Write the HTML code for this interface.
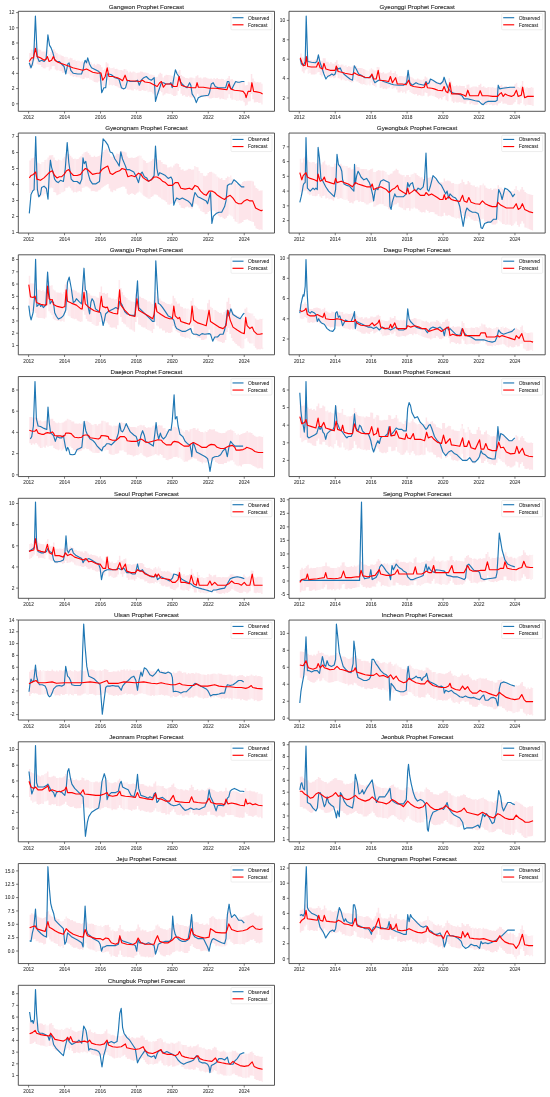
<!DOCTYPE html>
<html><head><meta charset="utf-8"><style>html,body{margin:0;padding:0;background:#fff;width:550px;height:1097px;overflow:hidden;position:relative}</style></head><body>
<svg width="550" height="1097" viewBox="0 0 550 1097" style="position:absolute;left:0;top:0;filter:blur(0.3px)">
<defs><filter id="bl" x="-5%" y="-20%" width="110%" height="140%"><feGaussianBlur stdDeviation="0.6"/></filter>
<clipPath id="cp0"><rect x="18.30" y="11.30" width="256.20" height="100.00"/></clipPath>
<clipPath id="cp1"><rect x="289.00" y="11.30" width="256.20" height="100.00"/></clipPath>
<clipPath id="cp2"><rect x="18.30" y="133.05" width="256.20" height="100.00"/></clipPath>
<clipPath id="cp3"><rect x="289.00" y="133.05" width="256.20" height="100.00"/></clipPath>
<clipPath id="cp4"><rect x="18.30" y="254.80" width="256.20" height="100.00"/></clipPath>
<clipPath id="cp5"><rect x="289.00" y="254.80" width="256.20" height="100.00"/></clipPath>
<clipPath id="cp6"><rect x="18.30" y="376.55" width="256.20" height="100.00"/></clipPath>
<clipPath id="cp7"><rect x="289.00" y="376.55" width="256.20" height="100.00"/></clipPath>
<clipPath id="cp8"><rect x="18.30" y="498.30" width="256.20" height="100.00"/></clipPath>
<clipPath id="cp9"><rect x="289.00" y="498.30" width="256.20" height="100.00"/></clipPath>
<clipPath id="cp10"><rect x="18.30" y="620.05" width="256.20" height="100.00"/></clipPath>
<clipPath id="cp11"><rect x="289.00" y="620.05" width="256.20" height="100.00"/></clipPath>
<clipPath id="cp12"><rect x="18.30" y="741.80" width="256.20" height="100.00"/></clipPath>
<clipPath id="cp13"><rect x="289.00" y="741.80" width="256.20" height="100.00"/></clipPath>
<clipPath id="cp14"><rect x="18.30" y="863.55" width="256.20" height="100.00"/></clipPath>
<clipPath id="cp15"><rect x="289.00" y="863.55" width="256.20" height="100.00"/></clipPath>
<clipPath id="cp16"><rect x="18.30" y="985.30" width="256.20" height="100.00"/></clipPath>
</defs>
<g font-family="Liberation Sans, sans-serif" stroke-linejoin="round">
<g clip-path="url(#cp0)">
<g filter="url(#bl)"><polygon fill="#fde5ea" points="29.2,52.9 30.7,52.9 30.7,49.6 32.2,49.6 32.2,49.7 33.7,49.7 33.7,45.8 35.2,45.8 35.2,43.6 36.7,43.6 36.7,48.6 38.2,48.6 38.2,49.5 39.7,49.5 39.7,49.7 41.2,49.7 41.2,51.6 42.7,51.6 42.7,51.6 44.2,51.6 44.2,51.5 45.7,51.5 45.7,49.5 47.2,49.5 47.2,50.1 48.7,50.1 48.7,54.0 50.2,54.0 50.2,51.9 51.7,51.9 51.7,49.7 53.2,49.7 53.2,49.2 54.7,49.2 54.7,51.6 56.2,51.6 56.2,53.1 57.7,53.1 57.7,54.3 59.2,54.3 59.2,54.4 60.7,54.4 60.7,55.5 62.2,55.5 62.2,56.0 63.7,56.0 63.7,57.0 65.1,57.0 65.1,56.7 66.6,56.7 66.6,56.9 68.1,56.9 68.1,58.7 69.6,58.7 69.6,57.8 71.1,57.8 71.1,58.3 72.6,58.3 72.6,60.1 74.1,60.1 74.1,59.7 75.6,59.7 75.6,61.0 77.1,61.0 77.1,60.6 78.6,60.6 78.6,60.7 80.1,60.7 80.1,61.8 81.6,61.8 81.6,61.1 83.1,61.1 83.1,61.9 84.6,61.9 84.6,61.7 86.1,61.7 86.1,61.5 87.6,61.5 87.6,61.3 89.1,61.3 89.1,62.3 90.6,62.3 90.6,62.4 92.1,62.4 92.1,64.5 93.6,64.5 93.6,63.8 95.1,63.8 95.1,65.2 96.6,65.2 96.6,63.7 98.1,63.7 98.1,63.9 99.6,63.9 99.6,65.0 101.1,65.0 101.1,67.3 102.6,67.3 102.6,70.1 104.1,70.1 104.1,68.8 105.6,68.8 105.6,62.2 107.1,62.2 107.1,63.4 108.6,63.4 108.6,67.2 110.1,67.2 110.1,68.2 111.6,68.2 111.6,68.0 113.1,68.0 113.1,67.6 114.6,67.6 114.6,68.9 116.1,68.9 116.1,68.7 117.6,68.7 117.6,69.8 119.1,69.8 119.1,69.9 120.6,69.9 120.6,70.1 122.1,70.1 122.1,70.4 123.6,70.4 123.6,69.1 125.0,69.1 125.0,69.2 126.5,69.2 126.5,70.7 128.0,70.7 128.0,72.6 129.5,72.6 129.5,71.4 131.0,71.4 131.0,72.6 132.5,72.6 132.5,71.5 134.0,71.5 134.0,71.8 135.5,71.8 135.5,73.0 137.0,73.0 137.0,72.8 138.5,72.8 138.5,72.5 140.0,72.5 140.0,71.5 141.5,71.5 141.5,71.8 143.0,71.8 143.0,72.5 144.5,72.5 144.5,72.4 146.0,72.4 146.0,72.8 147.5,72.8 147.5,73.1 149.0,73.1 149.0,74.4 150.5,74.4 150.5,74.5 152.0,74.5 152.0,74.7 153.5,74.7 153.5,75.5 155.0,75.5 155.0,77.2 156.5,77.2 156.5,76.7 158.0,76.7 158.0,74.6 159.5,74.6 159.5,72.8 161.0,72.8 161.0,73.8 162.5,73.8 162.5,77.5 164.0,77.5 164.0,75.7 165.5,75.7 165.5,74.8 167.0,74.8 167.0,75.1 168.5,75.1 168.5,75.1 170.0,75.1 170.0,75.3 171.5,75.3 171.5,75.9 173.0,75.9 173.0,78.0 174.5,78.0 174.5,76.5 176.0,76.5 176.0,77.2 177.5,77.2 177.5,71.6 179.0,71.6 179.0,70.0 180.5,70.0 180.5,75.0 182.0,75.0 182.0,76.3 183.5,76.3 183.5,76.9 184.9,76.9 184.9,78.0 186.4,78.0 186.4,78.0 187.9,78.0 187.9,78.4 189.4,78.4 189.4,77.6 190.9,77.6 190.9,77.4 192.4,77.4 192.4,77.8 193.9,77.8 193.9,78.3 195.4,78.3 195.4,76.3 196.9,76.3 196.9,75.3 198.4,75.3 198.4,77.7 199.9,77.7 199.9,77.5 201.4,77.5 201.4,78.4 202.9,78.4 202.9,77.6 204.4,77.6 204.4,77.2 205.9,77.2 205.9,77.7 207.4,77.7 207.4,78.5 208.9,78.5 208.9,78.7 210.4,78.7 210.4,78.6 211.9,78.6 211.9,79.3 213.4,79.3 213.4,77.9 214.9,77.9 214.9,78.9 216.4,78.9 216.4,78.1 217.9,78.1 217.9,79.0 219.4,79.0 219.4,79.2 220.9,79.2 220.9,78.8 222.4,78.8 222.4,79.1 223.9,79.1 223.9,80.1 225.4,80.1 225.4,79.2 226.9,79.2 226.9,78.3 228.4,78.3 228.4,75.9 229.9,75.9 229.9,79.4 231.4,79.4 231.4,78.9 232.9,78.9 232.9,80.3 234.4,80.3 234.4,80.6 235.9,80.6 235.9,81.1 237.4,81.1 237.4,80.5 238.9,80.5 238.9,81.7 240.4,81.7 240.4,81.9 241.9,81.9 241.9,81.2 243.4,81.2 243.4,82.0 244.8,82.0 244.8,85.6 246.3,85.6 246.3,84.9 247.8,84.9 247.8,81.8 249.3,81.8 249.3,82.4 250.8,82.4 250.8,73.9 252.3,73.9 252.3,78.5 253.8,78.5 253.8,81.3 255.3,81.3 255.3,82.4 256.8,82.4 256.8,82.0 258.3,82.0 258.3,82.6 259.8,82.6 259.8,82.3 261.3,82.3 261.3,83.8 262.6,83.8 262.8,84.3 262.6,84.3 262.6,104.5 262.8,104.5 262.6,104.4 261.3,104.4 261.3,102.8 259.8,102.8 259.8,103.0 258.3,103.0 258.3,102.1 256.8,102.1 256.8,102.3 255.3,102.3 255.3,102.4 253.8,102.4 253.8,99.2 252.3,99.2 252.3,93.9 250.8,93.9 250.8,101.3 249.3,101.3 249.3,101.6 247.8,101.6 247.8,104.8 246.3,104.8 246.3,105.8 244.8,105.8 244.8,102.2 243.4,102.2 243.4,100.5 241.9,100.5 241.9,101.1 240.4,101.1 240.4,100.3 238.9,100.3 238.9,100.8 237.4,100.8 237.4,101.1 235.9,101.1 235.9,99.9 234.4,99.9 234.4,99.6 232.9,99.6 232.9,99.7 231.4,99.7 231.4,98.2 229.9,98.2 229.9,94.3 228.4,94.3 228.4,98.2 226.9,98.2 226.9,99.7 225.4,99.7 225.4,99.4 223.9,99.4 223.9,98.9 222.4,98.9 222.4,98.5 220.9,98.5 220.9,99.2 219.4,99.2 219.4,97.4 217.9,97.4 217.9,97.9 216.4,97.9 216.4,98.1 214.9,98.1 214.9,97.7 213.4,97.7 213.4,98.0 211.9,98.0 211.9,98.6 210.4,98.6 210.4,98.6 208.9,98.6 208.9,97.4 207.4,97.4 207.4,97.0 205.9,97.0 205.9,97.3 204.4,97.3 204.4,96.6 202.9,96.6 202.9,96.2 201.4,96.2 201.4,96.0 199.9,96.0 199.9,96.5 198.4,96.5 198.4,93.8 196.9,93.8 196.9,96.4 195.4,96.4 195.4,98.0 193.9,98.0 193.9,98.0 192.4,98.0 192.4,97.5 190.9,97.5 190.9,97.3 189.4,97.3 189.4,95.8 187.9,95.8 187.9,96.9 186.4,96.9 186.4,96.5 184.9,96.5 184.9,95.1 183.5,95.1 183.5,95.8 182.0,95.8 182.0,93.7 180.5,93.7 180.5,88.1 179.0,88.1 179.0,90.9 177.5,90.9 177.5,95.2 176.0,95.2 176.0,96.0 174.5,96.0 174.5,96.0 173.0,96.0 173.0,95.1 171.5,95.1 171.5,93.7 170.0,93.7 170.0,94.0 168.5,94.0 168.5,93.5 167.0,93.5 167.0,93.2 165.5,93.2 165.5,94.6 164.0,94.6 164.0,95.6 162.5,95.6 162.5,92.2 161.0,92.2 161.0,90.7 159.5,90.7 159.5,93.9 158.0,93.9 158.0,94.5 156.5,94.5 156.5,94.7 155.0,94.7 155.0,94.5 153.5,94.5 153.5,93.5 152.0,93.5 152.0,91.9 150.5,91.9 150.5,91.7 149.0,91.7 149.0,92.2 147.5,92.2 147.5,90.5 146.0,90.5 146.0,91.1 144.5,91.1 144.5,90.5 143.0,90.5 143.0,89.9 141.5,89.9 141.5,90.9 140.0,90.9 140.0,91.1 138.5,91.1 138.5,89.5 137.0,89.5 137.0,90.2 135.5,90.2 135.5,89.0 134.0,89.0 134.0,90.4 132.5,90.4 132.5,90.2 131.0,90.2 131.0,89.5 129.5,89.5 129.5,89.8 128.0,89.8 128.0,89.5 126.5,89.5 126.5,86.5 125.0,86.5 125.0,86.0 123.6,86.0 123.6,89.7 122.1,89.7 122.1,89.3 120.6,89.3 120.6,88.1 119.1,88.1 119.1,87.4 117.6,87.4 117.6,86.2 116.1,86.2 116.1,86.0 114.6,86.0 114.6,84.9 113.1,84.9 113.1,85.5 111.6,85.5 111.6,84.7 110.1,84.7 110.1,85.2 108.6,85.2 108.6,80.2 107.1,80.2 107.1,80.6 105.6,80.6 105.6,85.9 104.1,85.9 104.1,87.6 102.6,87.6 102.6,84.8 101.1,84.8 101.1,80.8 99.6,80.8 99.6,81.4 98.1,81.4 98.1,82.4 96.6,82.4 96.6,82.2 95.1,82.2 95.1,81.9 93.6,81.9 93.6,80.7 92.1,80.7 92.1,80.0 90.6,80.0 90.6,79.4 89.1,79.4 89.1,78.1 87.6,78.1 87.6,78.2 86.1,78.2 86.1,77.4 84.6,77.4 84.6,79.0 83.1,79.0 83.1,79.2 81.6,79.2 81.6,78.2 80.1,78.2 80.1,77.5 78.6,77.5 78.6,77.2 77.1,77.2 77.1,77.3 75.6,77.3 75.6,76.2 74.1,76.2 74.1,77.0 72.6,77.0 72.6,75.4 71.1,75.4 71.1,75.4 69.6,75.4 69.6,73.7 68.1,73.7 68.1,73.7 66.6,73.7 66.6,73.4 65.1,73.4 65.1,72.5 63.7,72.5 63.7,73.1 62.2,73.1 62.2,71.3 60.7,71.3 60.7,71.0 59.2,71.0 59.2,70.2 57.7,70.2 57.7,70.4 56.2,70.4 56.2,69.5 54.7,69.5 54.7,66.1 53.2,66.1 53.2,66.2 51.7,66.2 51.7,69.2 50.2,69.2 50.2,70.4 48.7,70.4 48.7,67.1 47.2,67.1 47.2,67.2 45.7,67.2 45.7,68.6 44.2,68.6 44.2,68.3 42.7,68.3 42.7,66.9 41.2,66.9 41.2,65.1 39.7,65.1 39.7,64.8 38.2,64.8 38.2,64.2 36.7,64.2 36.7,59.1 35.2,59.1 35.2,60.4 33.7,60.4 33.7,65.9 32.2,65.9 32.2,66.1 30.7,66.1 30.7,68.7 29.2,68.7"/>
<rect x="45.7" y="47.3" width="4.5" height="22.3" fill="#fff" fill-opacity="0.33"/>
<rect x="57.7" y="51.2" width="3.0" height="22.5" fill="#fff" fill-opacity="0.31"/>
<rect x="63.7" y="53.3" width="4.5" height="22.6" fill="#fff" fill-opacity="0.24"/>
<rect x="65.1" y="53.8" width="3.0" height="22.6" fill="#fff" fill-opacity="0.24"/>
<rect x="68.1" y="54.9" width="1.5" height="22.7" fill="#fff" fill-opacity="0.33"/>
<rect x="72.6" y="56.5" width="3.0" height="22.8" fill="#fff" fill-opacity="0.13"/>
<rect x="77.1" y="57.6" width="4.5" height="22.8" fill="#fff" fill-opacity="0.24"/>
<rect x="81.6" y="58.7" width="1.5" height="22.9" fill="#fff" fill-opacity="0.21"/>
<rect x="86.1" y="57.8" width="1.5" height="23.0" fill="#fff" fill-opacity="0.11"/>
<rect x="89.1" y="59.2" width="4.5" height="23.0" fill="#fff" fill-opacity="0.35"/>
<rect x="101.1" y="65.0" width="4.5" height="23.2" fill="#fff" fill-opacity="0.10"/>
<rect x="110.1" y="64.8" width="4.5" height="23.4" fill="#fff" fill-opacity="0.26"/>
<rect x="117.6" y="66.3" width="3.0" height="23.5" fill="#fff" fill-opacity="0.21"/>
<rect x="125.0" y="65.5" width="1.5" height="23.7" fill="#fff" fill-opacity="0.24"/>
<rect x="128.0" y="68.7" width="1.5" height="23.7" fill="#fff" fill-opacity="0.20"/>
<rect x="132.5" y="69.0" width="4.5" height="23.8" fill="#fff" fill-opacity="0.17"/>
<rect x="134.0" y="69.1" width="3.0" height="23.8" fill="#fff" fill-opacity="0.10"/>
<rect x="144.5" y="70.0" width="4.5" height="24.0" fill="#fff" fill-opacity="0.22"/>
<rect x="147.5" y="70.4" width="1.5" height="24.0" fill="#fff" fill-opacity="0.24"/>
<rect x="149.0" y="70.6" width="1.5" height="24.1" fill="#fff" fill-opacity="0.18"/>
<rect x="150.5" y="71.3" width="3.0" height="24.1" fill="#fff" fill-opacity="0.27"/>
<rect x="156.5" y="73.9" width="3.0" height="24.2" fill="#fff" fill-opacity="0.21"/>
<rect x="162.5" y="73.8" width="1.5" height="24.3" fill="#fff" fill-opacity="0.19"/>
<rect x="168.5" y="71.8" width="3.0" height="24.4" fill="#fff" fill-opacity="0.23"/>
<rect x="171.5" y="73.1" width="1.5" height="24.5" fill="#fff" fill-opacity="0.17"/>
<rect x="176.0" y="74.2" width="1.5" height="24.5" fill="#fff" fill-opacity="0.16"/>
<rect x="184.9" y="74.3" width="3.0" height="24.7" fill="#fff" fill-opacity="0.13"/>
<rect x="192.4" y="75.3" width="3.0" height="24.8" fill="#fff" fill-opacity="0.30"/>
<rect x="201.4" y="74.7" width="1.5" height="25.0" fill="#fff" fill-opacity="0.16"/>
<rect x="213.4" y="75.6" width="1.5" height="25.2" fill="#fff" fill-opacity="0.18"/>
<rect x="223.9" y="76.7" width="4.5" height="25.3" fill="#fff" fill-opacity="0.24"/>
<rect x="232.9" y="77.2" width="3.0" height="25.5" fill="#fff" fill-opacity="0.34"/>
<rect x="235.9" y="77.6" width="3.0" height="25.6" fill="#fff" fill-opacity="0.30"/>
<rect x="237.4" y="77.8" width="4.5" height="25.6" fill="#fff" fill-opacity="0.16"/>
<rect x="240.4" y="78.2" width="3.0" height="25.6" fill="#fff" fill-opacity="0.22"/>
<rect x="259.8" y="79.7" width="3.0" height="26.0" fill="#fff" fill-opacity="0.21"/>
</g>
<polyline fill="none" stroke="#1f77b4" stroke-width="1.15" stroke-linejoin="round" points="29.2,62.8 31.0,67.8 32.4,64.0 33.7,57.8 35.4,16.0 37.2,56.6 39.2,61.5 41.7,60.3 44.2,61.5 46.1,59.1 47.9,34.9 49.6,45.4 51.1,47.9 52.9,52.8 54.6,59.1 56.6,61.5 59.1,61.5 61.6,64.0 64.1,66.5 65.8,74.0 67.8,64.0 69.1,62.8 70.8,70.3 73.3,73.3 77.8,74.0 81.5,74.0 83.3,69.0 84.0,64.0 85.2,60.3 86.5,62.8 87.7,57.8 89.5,64.0 91.5,67.8 94.0,69.0 96.5,70.3 98.9,71.5 100.2,74.0 101.7,92.7 103.9,87.7 105.7,87.7 107.2,74.0 108.9,74.0 111.4,74.7 115.1,77.7 118.9,79.0 121.4,87.7 123.9,88.9 125.6,87.7 127.6,80.2 130.1,81.5 135.1,81.5 137.6,80.2 139.3,85.2 141.3,80.2 143.8,77.7 146.3,76.5 148.8,79.0 151.3,80.2 154.2,77.7 155.5,101.4 157.2,95.2 159.7,87.7 161.4,82.7 163.4,82.7 165.9,84.0 169.7,84.0 170.9,82.7 172.2,87.7 173.9,77.7 175.4,69.8 177.1,74.0 178.9,76.5 180.4,81.5 182.1,84.0 184.6,86.5 187.1,87.7 189.6,82.7 190.8,85.2 192.1,93.9 194.6,97.7 196.3,102.6 198.3,97.7 200.8,96.4 204.5,95.7 208.3,95.2 209.5,92.7 211.3,84.0 213.2,82.7 215.2,86.5 218.2,87.7 222.0,87.7 225.7,87.7 227.4,81.5 228.9,81.5 230.2,87.7 231.9,88.9 233.7,85.2 235.7,81.5 237.7,82.2 239.4,82.2 241.9,81.5 244.4,81.5"/>
<polyline fill="none" stroke="#ff0000" stroke-width="1.15" stroke-linejoin="round" points="29.2,61.5 31.7,57.8 33.4,57.8 35.4,48.3 37.2,56.6 40.4,57.8 44.2,60.3 46.1,59.1 47.4,56.6 49.1,61.5 51.6,60.3 53.4,56.6 54.9,60.3 57.9,62.3 62.8,64.0 67.8,65.8 72.8,67.8 77.8,69.0 82.8,70.3 86.5,69.0 89.0,70.3 92.7,72.3 97.7,73.3 100.9,72.8 102.7,80.2 105.2,76.5 107.2,67.8 108.9,76.5 112.6,76.5 117.6,77.7 120.1,79.0 122.6,80.7 125.1,75.2 126.8,80.2 130.1,80.7 135.1,81.0 140.0,81.5 142.5,80.2 145.0,82.0 150.0,82.7 154.7,85.2 157.2,86.5 159.7,82.7 161.4,81.5 163.4,87.2 165.9,84.0 170.9,84.0 173.4,86.5 177.1,86.5 179.1,76.5 181.4,85.2 184.6,86.5 188.3,87.2 192.1,87.7 195.8,87.7 197.1,82.7 198.3,87.2 203.3,87.2 209.5,88.2 215.7,88.2 220.7,88.9 226.9,89.7 228.9,84.0 230.7,88.9 234.4,90.2 239.4,90.7 243.1,91.4 245.1,93.9 246.1,97.7 248.1,91.4 250.6,91.4 251.9,82.7 253.6,91.4 256.8,91.9 260.6,92.7 262.6,93.9"/>
</g>
<rect x="18.30" y="11.30" width="256.20" height="100.00" fill="none" stroke="#444" stroke-width="0.9"/>
<line x1="16.10" y1="103.80" x2="18.30" y2="103.80" stroke="#444" stroke-width="0.7"/>
<text x="14.50" y="105.55" font-size="5.0" fill="#333" stroke="#333" stroke-width="0.06" text-anchor="end" textLength="2.70" lengthAdjust="spacingAndGlyphs">0</text>
<line x1="16.10" y1="88.60" x2="18.30" y2="88.60" stroke="#444" stroke-width="0.7"/>
<text x="14.50" y="90.35" font-size="5.0" fill="#333" stroke="#333" stroke-width="0.06" text-anchor="end" textLength="2.70" lengthAdjust="spacingAndGlyphs">2</text>
<line x1="16.10" y1="73.40" x2="18.30" y2="73.40" stroke="#444" stroke-width="0.7"/>
<text x="14.50" y="75.15" font-size="5.0" fill="#333" stroke="#333" stroke-width="0.06" text-anchor="end" textLength="2.70" lengthAdjust="spacingAndGlyphs">4</text>
<line x1="16.10" y1="58.20" x2="18.30" y2="58.20" stroke="#444" stroke-width="0.7"/>
<text x="14.50" y="59.95" font-size="5.0" fill="#333" stroke="#333" stroke-width="0.06" text-anchor="end" textLength="2.70" lengthAdjust="spacingAndGlyphs">6</text>
<line x1="16.10" y1="43.00" x2="18.30" y2="43.00" stroke="#444" stroke-width="0.7"/>
<text x="14.50" y="44.75" font-size="5.0" fill="#333" stroke="#333" stroke-width="0.06" text-anchor="end" textLength="2.70" lengthAdjust="spacingAndGlyphs">8</text>
<line x1="16.10" y1="27.80" x2="18.30" y2="27.80" stroke="#444" stroke-width="0.7"/>
<text x="14.50" y="29.55" font-size="5.0" fill="#333" stroke="#333" stroke-width="0.06" text-anchor="end" textLength="5.39" lengthAdjust="spacingAndGlyphs">10</text>
<line x1="16.10" y1="12.60" x2="18.30" y2="12.60" stroke="#444" stroke-width="0.7"/>
<text x="14.50" y="14.35" font-size="5.0" fill="#333" stroke="#333" stroke-width="0.06" text-anchor="end" textLength="5.39" lengthAdjust="spacingAndGlyphs">12</text>
<line x1="28.60" y1="111.30" x2="28.60" y2="113.50" stroke="#444" stroke-width="0.7"/>
<text x="28.60" y="119.00" font-size="5.0" fill="#333" stroke="#333" stroke-width="0.06" text-anchor="middle" textLength="10.79" lengthAdjust="spacingAndGlyphs">2012</text>
<line x1="64.54" y1="111.30" x2="64.54" y2="113.50" stroke="#444" stroke-width="0.7"/>
<text x="64.54" y="119.00" font-size="5.0" fill="#333" stroke="#333" stroke-width="0.06" text-anchor="middle" textLength="10.79" lengthAdjust="spacingAndGlyphs">2014</text>
<line x1="100.48" y1="111.30" x2="100.48" y2="113.50" stroke="#444" stroke-width="0.7"/>
<text x="100.48" y="119.00" font-size="5.0" fill="#333" stroke="#333" stroke-width="0.06" text-anchor="middle" textLength="10.79" lengthAdjust="spacingAndGlyphs">2016</text>
<line x1="136.42" y1="111.30" x2="136.42" y2="113.50" stroke="#444" stroke-width="0.7"/>
<text x="136.42" y="119.00" font-size="5.0" fill="#333" stroke="#333" stroke-width="0.06" text-anchor="middle" textLength="10.79" lengthAdjust="spacingAndGlyphs">2018</text>
<line x1="172.36" y1="111.30" x2="172.36" y2="113.50" stroke="#444" stroke-width="0.7"/>
<text x="172.36" y="119.00" font-size="5.0" fill="#333" stroke="#333" stroke-width="0.06" text-anchor="middle" textLength="10.79" lengthAdjust="spacingAndGlyphs">2020</text>
<line x1="208.30" y1="111.30" x2="208.30" y2="113.50" stroke="#444" stroke-width="0.7"/>
<text x="208.30" y="119.00" font-size="5.0" fill="#333" stroke="#333" stroke-width="0.06" text-anchor="middle" textLength="10.79" lengthAdjust="spacingAndGlyphs">2022</text>
<line x1="244.24" y1="111.30" x2="244.24" y2="113.50" stroke="#444" stroke-width="0.7"/>
<text x="244.24" y="119.00" font-size="5.0" fill="#333" stroke="#333" stroke-width="0.06" text-anchor="middle" textLength="10.79" lengthAdjust="spacingAndGlyphs">2024</text>
<text x="146.40" y="8.70" font-size="6.1" fill="#333" stroke="#333" stroke-width="0.14" text-anchor="middle" textLength="75.33" lengthAdjust="spacingAndGlyphs">Gangwon Prophet Forecast</text>
<rect x="231.00" y="13.50" width="41" height="16.3" rx="1" fill="#fff" fill-opacity="0.8" stroke="#ddd" stroke-width="0.5"/>
<line x1="232.50" y1="17.70" x2="243.50" y2="17.70" stroke="#1f77b4" stroke-width="1.15"/>
<line x1="232.50" y1="24.80" x2="243.50" y2="24.80" stroke="#ff0000" stroke-width="1.15"/>
<text x="248.00" y="19.50" font-size="5.4" fill="#333" stroke="#333" stroke-width="0.08" textLength="21.3" lengthAdjust="spacingAndGlyphs">Observed</text>
<text x="248.00" y="26.60" font-size="5.4" fill="#333" stroke="#333" stroke-width="0.08" textLength="19.4" lengthAdjust="spacingAndGlyphs">Forecast</text>
<g clip-path="url(#cp1)">
<g filter="url(#bl)"><polygon fill="#fde5ea" points="300.2,53.5 301.7,53.5 301.7,57.2 303.2,57.2 303.2,57.7 304.7,57.7 304.7,56.9 306.2,56.9 306.2,54.3 307.7,54.3 307.7,59.4 309.2,59.4 309.2,59.9 310.7,59.9 310.7,60.3 312.2,60.3 312.2,60.7 313.7,60.7 313.7,60.2 315.2,60.2 315.2,59.3 316.7,59.3 316.7,58.1 318.2,58.1 318.2,56.3 319.7,56.3 319.7,61.0 321.2,61.0 321.2,60.8 322.7,60.8 322.7,58.3 324.2,58.3 324.2,58.3 325.7,58.3 325.7,61.8 327.2,61.8 327.2,61.8 328.7,61.8 328.7,63.5 330.2,63.5 330.2,62.1 331.7,62.1 331.7,63.5 333.2,63.5 333.2,63.8 334.7,63.8 334.7,61.9 336.1,61.9 336.1,60.3 337.6,60.3 337.6,64.0 339.1,64.0 339.1,65.3 340.6,65.3 340.6,64.6 342.1,64.6 342.1,64.4 343.6,64.4 343.6,65.7 345.1,65.7 345.1,65.2 346.6,65.2 346.6,66.9 348.1,66.9 348.1,65.9 349.6,65.9 349.6,66.8 351.1,66.8 351.1,66.8 352.6,66.8 352.6,65.6 354.1,65.6 354.1,65.2 355.6,65.2 355.6,66.0 357.1,66.0 357.1,68.0 358.6,68.0 358.6,68.1 360.1,68.1 360.1,68.1 361.6,68.1 361.6,68.2 363.1,68.2 363.1,68.9 364.6,68.9 364.6,69.7 366.1,69.7 366.1,70.2 367.6,70.2 367.6,70.7 369.1,70.7 369.1,69.4 370.6,69.4 370.6,68.2 372.1,68.2 372.1,69.6 373.6,69.6 373.6,70.6 375.1,70.6 375.1,70.6 376.6,70.6 376.6,66.9 378.1,66.9 378.1,67.3 379.6,67.3 379.6,72.5 381.1,72.5 381.1,72.9 382.6,72.9 382.6,72.1 384.1,72.1 384.1,73.5 385.6,73.5 385.6,73.6 387.1,73.6 387.1,72.8 388.6,72.8 388.6,72.2 390.1,72.2 390.1,70.4 391.6,70.4 391.6,73.1 393.1,73.1 393.1,72.9 394.6,72.9 394.6,71.2 396.0,71.2 396.0,74.2 397.5,74.2 397.5,76.8 399.0,76.8 399.0,76.1 400.5,76.1 400.5,76.0 402.0,76.0 402.0,76.2 403.5,76.2 403.5,76.8 405.0,76.8 405.0,76.0 406.5,76.0 406.5,74.9 408.0,74.9 408.0,73.8 409.5,73.8 409.5,76.8 411.0,76.8 411.0,77.2 412.5,77.2 412.5,78.4 414.0,78.4 414.0,79.4 415.5,79.4 415.5,79.5 417.0,79.5 417.0,78.4 418.5,78.4 418.5,79.4 420.0,79.4 420.0,79.7 421.5,79.7 421.5,79.7 423.0,79.7 423.0,79.2 424.5,79.2 424.5,76.4 426.0,76.4 426.0,77.5 427.5,77.5 427.5,79.8 429.0,79.8 429.0,80.3 430.5,80.3 430.5,79.4 432.0,79.4 432.0,80.2 433.5,80.2 433.5,80.7 435.0,80.7 435.0,81.8 436.5,81.8 436.5,82.1 438.0,82.1 438.0,82.5 439.5,82.5 439.5,82.2 441.0,82.2 441.0,82.3 442.5,82.3 442.5,80.4 444.0,80.4 444.0,79.3 445.5,79.3 445.5,82.6 447.0,82.6 447.0,83.7 448.5,83.7 448.5,78.2 450.0,78.2 450.0,80.7 451.5,80.7 451.5,84.8 453.0,84.8 453.0,86.2 454.5,86.2 454.5,86.0 455.9,86.0 455.9,85.3 457.4,85.3 457.4,86.3 458.9,86.3 458.9,85.6 460.4,85.6 460.4,86.0 461.9,86.0 461.9,85.9 463.4,85.9 463.4,86.1 464.9,86.1 464.9,88.1 466.4,88.1 466.4,84.8 467.9,84.8 467.9,84.6 469.4,84.6 469.4,87.7 470.9,87.7 470.9,87.2 472.4,87.2 472.4,86.4 473.9,86.4 473.9,86.4 475.4,86.4 475.4,86.4 476.9,86.4 476.9,87.3 478.4,87.3 478.4,85.0 479.9,85.0 479.9,83.8 481.4,83.8 481.4,87.1 482.9,87.1 482.9,86.2 484.4,86.2 484.4,87.4 485.9,87.4 485.9,87.9 487.4,87.9 487.4,87.0 488.9,87.0 488.9,86.9 490.4,86.9 490.4,87.6 491.9,87.6 491.9,87.0 493.4,87.0 493.4,87.8 494.9,87.8 494.9,88.0 496.4,88.0 496.4,87.3 497.9,87.3 497.9,86.8 499.4,86.8 499.4,85.7 500.9,85.7 500.9,84.8 502.4,84.8 502.4,87.3 503.9,87.3 503.9,86.3 505.4,86.3 505.4,86.0 506.9,86.0 506.9,87.1 508.4,87.1 508.4,87.3 509.9,87.3 509.9,87.7 511.4,87.7 511.4,87.5 512.9,87.5 512.9,86.4 514.4,86.4 514.4,84.3 515.8,84.3 515.8,82.7 517.3,82.7 517.3,86.9 518.8,86.9 518.8,87.8 520.3,87.8 520.3,85.6 521.8,85.6 521.8,81.0 523.3,81.0 523.3,86.4 524.8,86.4 524.8,88.2 526.3,88.2 526.3,87.3 527.8,87.3 527.8,87.9 529.3,87.9 529.3,87.8 530.8,87.8 530.8,87.0 532.3,87.0 532.3,87.7 533.8,87.7 533.8,87.4 533.8,87.4 533.8,105.1 533.8,105.1 533.8,106.0 532.3,106.0 532.3,105.3 530.8,105.3 530.8,104.9 529.3,104.9 529.3,104.8 527.8,104.8 527.8,104.8 526.3,104.8 526.3,105.9 524.8,105.9 524.8,104.4 523.3,104.4 523.3,97.3 521.8,97.3 521.8,102.9 520.3,102.9 520.3,104.6 518.8,104.6 518.8,104.3 517.3,104.3 517.3,99.7 515.8,99.7 515.8,102.0 514.4,102.0 514.4,103.6 512.9,103.6 512.9,104.8 511.4,104.8 511.4,105.1 509.9,105.1 509.9,104.9 508.4,104.9 508.4,104.8 506.9,104.8 506.9,103.7 505.4,103.7 505.4,103.5 503.9,103.5 503.9,103.7 502.4,103.7 502.4,101.5 500.9,101.5 500.9,103.1 499.4,103.1 499.4,103.4 497.9,103.4 497.9,105.6 496.4,105.6 496.4,104.8 494.9,104.8 494.9,105.2 493.4,105.2 493.4,105.6 491.9,105.6 491.9,104.4 490.4,104.4 490.4,104.9 488.9,104.9 488.9,103.6 487.4,103.6 487.4,105.0 485.9,105.0 485.9,104.8 484.4,104.8 484.4,104.3 482.9,104.3 482.9,103.4 481.4,103.4 481.4,100.3 479.9,100.3 479.9,101.1 478.4,101.1 478.4,104.4 476.9,104.4 476.9,104.8 475.4,104.8 475.4,104.9 473.9,104.9 473.9,104.4 472.4,104.4 472.4,103.3 470.9,103.3 470.9,104.3 469.4,104.3 469.4,100.7 467.9,100.7 467.9,101.2 466.4,101.2 466.4,103.7 464.9,103.7 464.9,103.7 463.4,103.7 463.4,102.6 461.9,102.6 461.9,102.4 460.4,102.4 460.4,101.9 458.9,101.9 458.9,102.6 457.4,102.6 457.4,102.5 455.9,102.5 455.9,101.7 454.5,101.7 454.5,102.9 453.0,102.9 453.0,101.6 451.5,101.6 451.5,96.6 450.0,96.6 450.0,93.7 448.5,93.7 448.5,101.2 447.0,101.2 447.0,100.3 445.5,100.3 445.5,95.9 444.0,95.9 444.0,97.1 442.5,97.1 442.5,99.5 441.0,99.5 441.0,97.9 439.5,97.9 439.5,99.3 438.0,99.3 438.0,98.0 436.5,98.0 436.5,96.9 435.0,96.9 435.0,96.6 433.5,96.6 433.5,96.1 432.0,96.1 432.0,95.5 430.5,95.5 430.5,95.8 429.0,95.8 429.0,96.6 427.5,96.6 427.5,92.9 426.0,92.9 426.0,92.5 424.5,92.5 424.5,95.7 423.0,95.7 423.0,96.3 421.5,96.3 421.5,95.4 420.0,95.4 420.0,95.0 418.5,95.0 418.5,95.8 417.0,95.8 417.0,94.0 415.5,94.0 415.5,94.4 414.0,94.4 414.0,93.9 412.5,93.9 412.5,93.1 411.0,93.1 411.0,92.2 409.5,92.2 409.5,90.0 408.0,90.0 408.0,90.6 406.5,90.6 406.5,93.4 405.0,93.4 405.0,91.7 403.5,91.7 403.5,92.7 402.0,92.7 402.0,91.2 400.5,91.2 400.5,92.5 399.0,92.5 399.0,92.6 397.5,92.6 397.5,89.4 396.0,89.4 396.0,87.4 394.6,87.4 394.6,88.2 393.1,88.2 393.1,89.1 391.6,89.1 391.6,85.4 390.1,85.4 390.1,87.6 388.6,87.6 388.6,88.6 387.1,88.6 387.1,89.3 385.6,89.3 385.6,88.5 384.1,88.5 384.1,89.0 382.6,89.0 382.6,87.4 381.1,87.4 381.1,88.0 379.6,88.0 379.6,81.4 378.1,81.4 378.1,81.1 376.6,81.1 376.6,87.3 375.1,87.3 375.1,85.9 373.6,85.9 373.6,84.9 372.1,84.9 372.1,82.5 370.6,82.5 370.6,85.6 369.1,85.6 369.1,84.5 367.6,84.5 367.6,85.6 366.1,85.6 366.1,84.9 364.6,84.9 364.6,84.1 363.1,84.1 363.1,84.5 361.6,84.5 361.6,83.7 360.1,83.7 360.1,82.9 358.6,82.9 358.6,81.6 357.1,81.6 357.1,81.6 355.6,81.6 355.6,80.0 354.1,80.0 354.1,81.9 352.6,81.9 352.6,82.7 351.1,82.7 351.1,82.0 349.6,82.0 349.6,80.8 348.1,80.8 348.1,80.3 346.6,80.3 346.6,81.1 345.1,81.1 345.1,80.2 343.6,80.2 343.6,79.2 342.1,79.2 342.1,80.2 340.6,80.2 340.6,78.5 339.1,78.5 339.1,78.3 337.6,78.3 337.6,74.6 336.1,74.6 336.1,77.4 334.7,77.4 334.7,78.2 333.2,78.2 333.2,77.0 331.7,77.0 331.7,77.7 330.2,77.7 330.2,77.5 328.7,77.5 328.7,76.0 327.2,76.0 327.2,76.1 325.7,76.1 325.7,73.6 324.2,73.6 324.2,73.3 322.7,73.3 322.7,76.5 321.2,76.5 321.2,74.9 319.7,74.9 319.7,72.1 318.2,72.1 318.2,72.5 316.7,72.5 316.7,74.2 315.2,74.2 315.2,74.6 313.7,74.6 313.7,74.5 312.2,74.5 312.2,74.5 310.7,74.5 310.7,73.1 309.2,73.1 309.2,73.8 307.7,73.8 307.7,68.9 306.2,68.9 306.2,70.3 304.7,70.3 304.7,73.3 303.2,73.3 303.2,71.5 301.7,71.5 301.7,66.2 300.2,66.2"/>
<rect x="306.2" y="51.5" width="1.5" height="20.1" fill="#fff" fill-opacity="0.12"/>
<rect x="307.7" y="56.6" width="3.0" height="20.1" fill="#fff" fill-opacity="0.32"/>
<rect x="315.2" y="56.9" width="3.0" height="20.3" fill="#fff" fill-opacity="0.19"/>
<rect x="330.2" y="60.0" width="1.5" height="20.5" fill="#fff" fill-opacity="0.13"/>
<rect x="334.7" y="58.9" width="1.5" height="20.6" fill="#fff" fill-opacity="0.14"/>
<rect x="339.1" y="61.5" width="1.5" height="20.7" fill="#fff" fill-opacity="0.24"/>
<rect x="342.1" y="62.2" width="4.5" height="20.7" fill="#fff" fill-opacity="0.31"/>
<rect x="351.1" y="64.2" width="3.0" height="20.9" fill="#fff" fill-opacity="0.32"/>
<rect x="352.6" y="63.3" width="4.5" height="20.9" fill="#fff" fill-opacity="0.10"/>
<rect x="354.1" y="62.7" width="3.0" height="20.9" fill="#fff" fill-opacity="0.21"/>
<rect x="361.6" y="65.7" width="1.5" height="21.1" fill="#fff" fill-opacity="0.20"/>
<rect x="364.6" y="66.7" width="4.5" height="21.1" fill="#fff" fill-opacity="0.31"/>
<rect x="366.1" y="66.9" width="4.5" height="21.1" fill="#fff" fill-opacity="0.26"/>
<rect x="367.6" y="67.0" width="4.5" height="21.2" fill="#fff" fill-opacity="0.19"/>
<rect x="375.1" y="68.3" width="1.5" height="21.3" fill="#fff" fill-opacity="0.29"/>
<rect x="376.6" y="63.3" width="3.0" height="21.3" fill="#fff" fill-opacity="0.15"/>
<rect x="387.1" y="70.6" width="1.5" height="21.5" fill="#fff" fill-opacity="0.25"/>
<rect x="391.6" y="70.9" width="1.5" height="21.6" fill="#fff" fill-opacity="0.23"/>
<rect x="394.6" y="68.0" width="4.5" height="21.6" fill="#fff" fill-opacity="0.12"/>
<rect x="400.5" y="73.1" width="4.5" height="21.7" fill="#fff" fill-opacity="0.19"/>
<rect x="403.5" y="73.5" width="3.0" height="21.8" fill="#fff" fill-opacity="0.12"/>
<rect x="409.5" y="73.3" width="3.0" height="21.9" fill="#fff" fill-opacity="0.20"/>
<rect x="421.5" y="76.5" width="1.5" height="22.1" fill="#fff" fill-opacity="0.29"/>
<rect x="430.5" y="77.0" width="4.5" height="22.2" fill="#fff" fill-opacity="0.31"/>
<rect x="454.5" y="82.6" width="1.5" height="22.7" fill="#fff" fill-opacity="0.18"/>
<rect x="472.4" y="84.2" width="3.0" height="23.0" fill="#fff" fill-opacity="0.15"/>
<rect x="488.9" y="84.3" width="1.5" height="23.2" fill="#fff" fill-opacity="0.35"/>
<rect x="491.9" y="84.7" width="4.5" height="23.3" fill="#fff" fill-opacity="0.17"/>
<rect x="515.8" y="79.9" width="1.5" height="23.7" fill="#fff" fill-opacity="0.24"/>
<rect x="520.3" y="82.6" width="1.5" height="23.8" fill="#fff" fill-opacity="0.21"/>
<rect x="523.3" y="82.8" width="4.5" height="23.8" fill="#fff" fill-opacity="0.26"/>
<rect x="530.8" y="84.4" width="4.5" height="24.0" fill="#fff" fill-opacity="0.17"/>
<rect x="533.8" y="84.4" width="4.5" height="24.0" fill="#fff" fill-opacity="0.34"/>
</g>
<polyline fill="none" stroke="#1f77b4" stroke-width="1.15" stroke-linejoin="round" points="300.2,59.1 301.5,64.0 303.4,65.3 305.2,61.5 306.2,16.0 307.7,61.5 311.4,62.3 315.2,62.8 316.9,61.5 318.4,54.8 320.1,62.8 321.9,67.8 323.9,74.0 325.9,79.0 327.6,76.5 330.1,75.2 331.8,74.0 333.8,75.2 335.1,74.0 336.8,67.8 338.8,69.0 340.1,67.8 341.8,71.5 343.8,74.0 346.8,76.5 350.0,79.0 352.5,80.2 354.3,65.8 356.2,69.0 358.7,74.0 361.2,75.2 365.0,77.7 368.7,77.7 371.9,75.2 373.7,80.2 374.9,82.7 376.7,81.5 378.7,80.2 381.2,80.2 383.6,81.5 387.4,82.7 391.1,84.0 393.6,84.7 398.6,85.2 403.6,85.2 406.6,82.7 408.1,70.3 409.8,82.7 412.3,85.2 416.0,82.7 418.5,84.0 424.2,85.2 426.0,81.5 427.4,84.0 429.2,82.7 430.4,79.0 432.9,80.2 436.7,82.7 440.4,84.0 442.9,81.5 444.1,77.2 445.9,82.7 447.9,87.7 450.4,91.4 454.1,93.4 457.8,93.9 461.6,95.2 464.1,98.9 467.8,98.9 471.5,99.7 475.3,100.7 479.0,101.4 481.5,103.9 483.2,104.6 485.2,102.6 487.7,101.4 491.5,101.4 495.2,101.4 497.2,100.2 498.2,85.2 499.7,88.9 502.7,88.2 506.4,87.7 510.1,87.2 513.9,87.2 515.1,87.2"/>
<polyline fill="none" stroke="#ff0000" stroke-width="1.15" stroke-linejoin="round" points="300.2,57.8 302.0,62.8 303.4,65.8 305.2,65.3 306.4,56.6 307.7,66.5 311.4,67.0 316.4,67.0 318.4,62.3 320.1,67.8 322.6,69.0 323.9,63.3 325.9,69.0 330.1,70.3 335.1,70.3 336.3,66.0 338.1,71.5 341.8,72.3 345.0,73.3 348.8,74.0 352.5,74.7 354.3,72.8 356.2,74.0 358.7,75.2 361.2,75.7 365.0,77.2 369.9,77.7 371.9,74.0 373.7,79.0 376.2,79.0 378.2,70.3 379.9,80.2 384.9,80.7 388.6,81.5 390.4,76.5 392.4,82.7 395.6,77.7 397.3,84.0 402.3,84.0 406.1,84.7 408.6,80.2 410.5,85.2 413.5,86.5 418.5,87.2 421.7,87.7 424.2,87.2 426.0,82.7 427.4,87.7 431.7,88.2 434.2,88.9 437.9,90.2 442.4,90.7 444.1,86.5 445.9,91.4 447.9,92.7 449.9,82.7 451.6,93.9 455.3,93.9 460.3,93.9 464.1,95.2 465.8,96.4 467.8,90.2 469.8,95.7 474.0,95.7 478.3,95.7 480.2,90.7 482.2,95.7 487.7,95.7 492.7,96.4 497.7,96.4 499.7,93.9 501.4,92.7 503.2,96.4 505.2,93.9 507.6,95.2 511.4,96.4 513.9,95.2 516.4,90.2 518.1,96.4 521.3,95.2 522.6,87.2 524.6,97.7 527.6,96.4 531.3,96.4 533.8,96.4"/>
</g>
<rect x="289.00" y="11.30" width="256.20" height="100.00" fill="none" stroke="#444" stroke-width="0.9"/>
<line x1="286.80" y1="98.00" x2="289.00" y2="98.00" stroke="#444" stroke-width="0.7"/>
<text x="285.20" y="99.75" font-size="5.0" fill="#333" stroke="#333" stroke-width="0.06" text-anchor="end" textLength="2.70" lengthAdjust="spacingAndGlyphs">2</text>
<line x1="286.80" y1="78.60" x2="289.00" y2="78.60" stroke="#444" stroke-width="0.7"/>
<text x="285.20" y="80.35" font-size="5.0" fill="#333" stroke="#333" stroke-width="0.06" text-anchor="end" textLength="2.70" lengthAdjust="spacingAndGlyphs">4</text>
<line x1="286.80" y1="59.20" x2="289.00" y2="59.20" stroke="#444" stroke-width="0.7"/>
<text x="285.20" y="60.95" font-size="5.0" fill="#333" stroke="#333" stroke-width="0.06" text-anchor="end" textLength="2.70" lengthAdjust="spacingAndGlyphs">6</text>
<line x1="286.80" y1="39.80" x2="289.00" y2="39.80" stroke="#444" stroke-width="0.7"/>
<text x="285.20" y="41.55" font-size="5.0" fill="#333" stroke="#333" stroke-width="0.06" text-anchor="end" textLength="2.70" lengthAdjust="spacingAndGlyphs">8</text>
<line x1="286.80" y1="20.40" x2="289.00" y2="20.40" stroke="#444" stroke-width="0.7"/>
<text x="285.20" y="22.15" font-size="5.0" fill="#333" stroke="#333" stroke-width="0.06" text-anchor="end" textLength="5.39" lengthAdjust="spacingAndGlyphs">10</text>
<line x1="299.30" y1="111.30" x2="299.30" y2="113.50" stroke="#444" stroke-width="0.7"/>
<text x="299.30" y="119.00" font-size="5.0" fill="#333" stroke="#333" stroke-width="0.06" text-anchor="middle" textLength="10.79" lengthAdjust="spacingAndGlyphs">2012</text>
<line x1="335.24" y1="111.30" x2="335.24" y2="113.50" stroke="#444" stroke-width="0.7"/>
<text x="335.24" y="119.00" font-size="5.0" fill="#333" stroke="#333" stroke-width="0.06" text-anchor="middle" textLength="10.79" lengthAdjust="spacingAndGlyphs">2014</text>
<line x1="371.18" y1="111.30" x2="371.18" y2="113.50" stroke="#444" stroke-width="0.7"/>
<text x="371.18" y="119.00" font-size="5.0" fill="#333" stroke="#333" stroke-width="0.06" text-anchor="middle" textLength="10.79" lengthAdjust="spacingAndGlyphs">2016</text>
<line x1="407.12" y1="111.30" x2="407.12" y2="113.50" stroke="#444" stroke-width="0.7"/>
<text x="407.12" y="119.00" font-size="5.0" fill="#333" stroke="#333" stroke-width="0.06" text-anchor="middle" textLength="10.79" lengthAdjust="spacingAndGlyphs">2018</text>
<line x1="443.06" y1="111.30" x2="443.06" y2="113.50" stroke="#444" stroke-width="0.7"/>
<text x="443.06" y="119.00" font-size="5.0" fill="#333" stroke="#333" stroke-width="0.06" text-anchor="middle" textLength="10.79" lengthAdjust="spacingAndGlyphs">2020</text>
<line x1="479.00" y1="111.30" x2="479.00" y2="113.50" stroke="#444" stroke-width="0.7"/>
<text x="479.00" y="119.00" font-size="5.0" fill="#333" stroke="#333" stroke-width="0.06" text-anchor="middle" textLength="10.79" lengthAdjust="spacingAndGlyphs">2022</text>
<line x1="514.94" y1="111.30" x2="514.94" y2="113.50" stroke="#444" stroke-width="0.7"/>
<text x="514.94" y="119.00" font-size="5.0" fill="#333" stroke="#333" stroke-width="0.06" text-anchor="middle" textLength="10.79" lengthAdjust="spacingAndGlyphs">2024</text>
<text x="417.10" y="8.70" font-size="6.1" fill="#333" stroke="#333" stroke-width="0.14" text-anchor="middle" textLength="75.33" lengthAdjust="spacingAndGlyphs">Gyeonggi Prophet Forecast</text>
<rect x="501.70" y="13.50" width="41" height="16.3" rx="1" fill="#fff" fill-opacity="0.8" stroke="#ddd" stroke-width="0.5"/>
<line x1="503.20" y1="17.70" x2="514.20" y2="17.70" stroke="#1f77b4" stroke-width="1.15"/>
<line x1="503.20" y1="24.80" x2="514.20" y2="24.80" stroke="#ff0000" stroke-width="1.15"/>
<text x="518.70" y="19.50" font-size="5.4" fill="#333" stroke="#333" stroke-width="0.08" textLength="21.3" lengthAdjust="spacingAndGlyphs">Observed</text>
<text x="518.70" y="26.60" font-size="5.4" fill="#333" stroke="#333" stroke-width="0.08" textLength="19.4" lengthAdjust="spacingAndGlyphs">Forecast</text>
<g clip-path="url(#cp2)">
<g filter="url(#bl)"><polygon fill="#fde5ea" points="29.3,160.5 30.8,160.5 30.8,158.4 32.3,158.4 32.3,158.1 33.8,158.1 33.8,156.9 35.3,156.9 35.3,158.3 36.8,158.3 36.8,162.4 38.3,162.4 38.3,163.2 39.8,163.2 39.8,163.9 41.3,163.9 41.3,162.1 42.8,162.1 42.8,161.9 44.3,161.9 44.3,159.9 45.8,159.9 45.8,159.4 47.3,159.4 47.3,157.4 48.8,157.4 48.8,155.6 50.3,155.6 50.3,155.3 51.8,155.3 51.8,155.1 53.3,155.1 53.3,157.5 54.8,157.5 54.8,159.9 56.3,159.9 56.3,160.7 57.8,160.7 57.8,159.6 59.3,159.6 59.3,160.0 60.8,160.0 60.8,160.5 62.3,160.5 62.3,158.4 63.8,158.4 63.8,156.8 65.3,156.8 65.3,153.8 66.8,153.8 66.8,153.8 68.3,153.8 68.3,154.0 69.8,154.0 69.8,155.8 71.3,155.8 71.3,157.6 72.8,157.6 72.8,159.1 74.3,159.1 74.3,158.5 75.8,158.5 75.8,159.2 77.3,159.2 77.3,158.9 78.8,158.9 78.8,157.5 80.3,157.5 80.3,156.2 81.8,156.2 81.8,154.1 83.3,154.1 83.3,152.4 84.8,152.4 84.8,151.9 86.2,151.9 86.2,151.4 87.7,151.4 87.7,153.0 89.2,153.0 89.2,154.8 90.7,154.8 90.7,156.8 92.2,156.8 92.2,157.0 93.7,157.0 93.7,155.7 95.2,155.7 95.2,156.9 96.7,156.9 96.7,156.4 98.2,156.4 98.2,156.1 99.7,156.1 99.7,154.8 101.2,154.8 101.2,152.5 102.7,152.5 102.7,151.7 104.2,151.7 104.2,149.9 105.7,149.9 105.7,148.5 107.2,148.5 107.2,149.6 108.7,149.6 108.7,153.5 110.2,153.5 110.2,156.4 111.7,156.4 111.7,156.8 113.2,156.8 113.2,155.3 114.7,155.3 114.7,155.5 116.2,155.5 116.2,153.5 117.7,153.5 117.7,154.1 119.2,154.1 119.2,152.5 120.7,152.5 120.7,150.7 122.2,150.7 122.2,151.5 123.7,151.5 123.7,151.8 125.2,151.8 125.2,152.6 126.7,152.6 126.7,156.6 128.2,156.6 128.2,158.0 129.7,158.0 129.7,157.8 131.2,157.8 131.2,157.4 132.7,157.4 132.7,158.1 134.2,158.1 134.2,157.8 135.7,157.8 135.7,157.0 137.2,157.0 137.2,156.3 138.7,156.3 138.7,155.5 140.2,155.5 140.2,155.7 141.7,155.7 141.7,158.4 143.2,158.4 143.2,160.0 144.7,160.0 144.7,161.1 146.1,161.1 146.1,163.0 147.6,163.0 147.6,162.4 149.1,162.4 149.1,161.7 150.6,161.7 150.6,160.8 152.1,160.8 152.1,159.3 153.6,159.3 153.6,158.5 155.1,158.5 155.1,158.1 156.6,158.1 156.6,159.5 158.1,159.5 158.1,160.2 159.6,160.2 159.6,160.2 161.1,160.2 161.1,162.1 162.6,162.1 162.6,164.0 164.1,164.0 164.1,164.2 165.6,164.2 165.6,164.8 167.1,164.8 167.1,167.4 168.6,167.4 168.6,167.2 170.1,167.2 170.1,166.4 171.6,166.4 171.6,167.5 173.1,167.5 173.1,165.6 174.6,165.6 174.6,163.7 176.1,163.7 176.1,163.2 177.6,163.2 177.6,164.0 179.1,164.0 179.1,167.1 180.6,167.1 180.6,169.7 182.1,169.7 182.1,169.3 183.6,169.3 183.6,170.7 185.1,170.7 185.1,170.4 186.6,170.4 186.6,169.7 188.1,169.7 188.1,168.7 189.6,168.7 189.6,169.1 191.1,169.1 191.1,169.8 192.6,169.8 192.6,169.4 194.1,169.4 194.1,166.0 195.6,166.0 195.6,167.1 197.1,167.1 197.1,167.3 198.6,167.3 198.6,170.9 200.1,170.9 200.1,172.9 201.6,172.9 201.6,173.1 203.1,173.1 203.1,175.7 204.6,175.7 204.6,176.3 206.0,176.3 206.0,175.6 207.5,175.6 207.5,173.0 209.0,173.0 209.0,172.1 210.5,172.1 210.5,171.8 212.0,171.8 212.0,172.5 213.5,172.5 213.5,173.4 215.0,173.4 215.0,174.3 216.5,174.3 216.5,176.5 218.0,176.5 218.0,177.4 219.5,177.4 219.5,178.7 221.0,178.7 221.0,178.0 222.5,178.0 222.5,180.1 224.0,180.1 224.0,180.0 225.5,180.0 225.5,178.1 227.0,178.1 227.0,176.4 228.5,176.4 228.5,177.1 230.0,177.1 230.0,175.6 231.5,175.6 231.5,178.5 233.0,178.5 233.0,179.8 234.5,179.8 234.5,182.3 236.0,182.3 236.0,184.0 237.5,184.0 237.5,183.1 239.0,183.1 239.0,184.3 240.5,184.3 240.5,183.7 242.0,183.7 242.0,181.9 243.5,181.9 243.5,181.0 245.0,181.0 245.0,181.3 246.5,181.3 246.5,180.8 248.0,180.8 248.0,180.8 249.5,180.8 249.5,180.8 251.0,180.8 251.0,180.8 252.5,180.8 252.5,181.6 254.0,181.6 254.0,185.6 255.5,185.6 255.5,188.0 257.0,188.0 257.0,188.7 258.5,188.7 258.5,190.7 260.0,190.7 260.0,190.4 261.5,190.4 261.5,190.4 262.6,190.4 263.0,190.1 262.6,190.1 262.6,229.1 263.0,229.1 262.6,229.7 261.5,229.7 261.5,229.6 260.0,229.6 260.0,229.8 258.5,229.8 258.5,229.1 257.0,229.1 257.0,228.4 255.5,228.4 255.5,225.8 254.0,225.8 254.0,222.0 252.5,222.0 252.5,221.6 251.0,221.6 251.0,221.1 249.5,221.1 249.5,220.3 248.0,220.3 248.0,219.3 246.5,219.3 246.5,219.8 245.0,219.8 245.0,220.0 243.5,220.0 243.5,221.9 242.0,221.9 242.0,222.7 240.5,222.7 240.5,223.4 239.0,223.4 239.0,223.8 237.5,223.8 237.5,221.9 236.0,221.9 236.0,221.5 234.5,221.5 234.5,219.0 233.0,219.0 233.0,216.6 231.5,216.6 231.5,215.6 230.0,215.6 230.0,214.4 228.5,214.4 228.5,215.9 227.0,215.9 227.0,217.7 225.5,217.7 225.5,218.9 224.0,218.9 224.0,218.3 222.5,218.3 222.5,216.8 221.0,216.8 221.0,217.3 219.5,217.3 219.5,215.8 218.0,215.8 218.0,214.5 216.5,214.5 216.5,212.6 215.0,212.6 215.0,211.1 213.5,211.1 213.5,210.3 212.0,210.3 212.0,210.3 210.5,210.3 210.5,211.0 209.0,211.0 209.0,211.9 207.5,211.9 207.5,213.9 206.0,213.9 206.0,214.3 204.6,214.3 204.6,212.3 203.1,212.3 203.1,211.8 201.6,211.8 201.6,210.9 200.1,210.9 200.1,208.4 198.6,208.4 198.6,205.5 197.1,205.5 197.1,204.2 195.6,204.2 195.6,203.6 194.1,203.6 194.1,206.2 192.6,206.2 192.6,208.7 191.1,208.7 191.1,207.5 189.6,207.5 189.6,207.5 188.1,207.5 188.1,206.6 186.6,206.6 186.6,207.3 185.1,207.3 185.1,208.4 183.6,208.4 183.6,208.1 182.1,208.1 182.1,207.8 180.6,207.8 180.6,205.3 179.1,205.3 179.1,202.8 177.6,202.8 177.6,201.4 176.1,201.4 176.1,200.7 174.6,200.7 174.6,202.3 173.1,202.3 173.1,203.3 171.6,203.3 171.6,204.0 170.1,204.0 170.1,204.7 168.6,204.7 168.6,204.4 167.1,204.4 167.1,201.9 165.6,201.9 165.6,200.4 164.1,200.4 164.1,199.7 162.6,199.7 162.6,199.2 161.1,199.2 161.1,197.7 159.6,197.7 159.6,196.7 158.1,196.7 158.1,195.3 156.6,195.3 156.6,194.5 155.1,194.5 155.1,194.5 153.6,194.5 153.6,196.3 152.1,196.3 152.1,196.9 150.6,196.9 150.6,198.8 149.1,198.8 149.1,198.8 147.6,198.8 147.6,197.6 146.1,197.6 146.1,196.8 144.7,196.8 144.7,195.8 143.2,195.8 143.2,194.6 141.7,194.6 141.7,192.7 140.2,192.7 140.2,191.4 138.7,191.4 138.7,192.6 137.2,192.6 137.2,193.6 135.7,193.6 135.7,195.0 134.2,195.0 134.2,194.1 132.7,194.1 132.7,193.2 131.2,193.2 131.2,193.9 129.7,193.9 129.7,194.9 128.2,194.9 128.2,193.8 126.7,193.8 126.7,188.8 125.2,188.8 125.2,186.7 123.7,186.7 123.7,186.4 122.2,186.4 122.2,187.0 120.7,187.0 120.7,187.8 119.2,187.8 119.2,188.3 117.7,188.3 117.7,188.8 116.2,188.8 116.2,190.7 114.7,190.7 114.7,190.3 113.2,190.3 113.2,192.3 111.7,192.3 111.7,191.4 110.2,191.4 110.2,188.4 108.7,188.4 108.7,184.1 107.2,184.1 107.2,184.7 105.7,184.7 105.7,185.8 104.2,185.8 104.2,186.8 102.7,186.8 102.7,187.7 101.2,187.7 101.2,189.6 99.7,189.6 99.7,190.2 98.2,190.2 98.2,191.4 96.7,191.4 96.7,191.7 95.2,191.7 95.2,191.3 93.7,191.3 93.7,191.1 92.2,191.1 92.2,191.3 90.7,191.3 90.7,188.5 89.2,188.5 89.2,187.5 87.7,187.5 87.7,186.5 86.2,186.5 86.2,186.5 84.8,186.5 84.8,187.4 83.3,187.4 83.3,187.9 81.8,187.9 81.8,191.7 80.3,191.7 80.3,191.0 78.8,191.0 78.8,191.5 77.3,191.5 77.3,192.4 75.8,192.4 75.8,192.0 74.3,192.0 74.3,192.6 72.8,192.6 72.8,190.5 71.3,190.5 71.3,188.3 69.8,188.3 69.8,186.4 68.3,186.4 68.3,187.8 66.8,187.8 66.8,187.8 65.3,187.8 65.3,191.2 63.8,191.2 63.8,192.2 62.3,192.2 62.3,192.6 60.8,192.6 60.8,194.1 59.3,194.1 59.3,194.5 57.8,194.5 57.8,195.2 56.3,195.2 56.3,192.6 54.8,192.6 54.8,191.9 53.3,191.9 53.3,188.3 51.8,188.3 51.8,187.4 50.3,187.4 50.3,188.7 48.8,188.7 48.8,191.2 47.3,191.2 47.3,192.0 45.8,192.0 45.8,194.1 44.3,194.1 44.3,195.5 42.8,195.5 42.8,195.7 41.3,195.7 41.3,197.0 39.8,197.0 39.8,196.4 38.3,196.4 38.3,196.3 36.8,196.3 36.8,190.4 35.3,190.4 35.3,189.9 33.8,189.9 33.8,191.1 32.3,191.1 32.3,190.9 30.8,190.9 30.8,193.0 29.3,193.0"/>
<rect x="30.8" y="155.9" width="3.0" height="38.7" fill="#fff" fill-opacity="0.13"/>
<rect x="35.3" y="155.4" width="3.0" height="38.9" fill="#fff" fill-opacity="0.20"/>
<rect x="39.8" y="160.6" width="4.5" height="39.0" fill="#fff" fill-opacity="0.24"/>
<rect x="41.3" y="159.7" width="3.0" height="39.0" fill="#fff" fill-opacity="0.32"/>
<rect x="44.3" y="157.3" width="4.5" height="39.1" fill="#fff" fill-opacity="0.26"/>
<rect x="45.8" y="155.7" width="1.5" height="39.2" fill="#fff" fill-opacity="0.25"/>
<rect x="51.8" y="151.7" width="3.0" height="39.4" fill="#fff" fill-opacity="0.18"/>
<rect x="59.3" y="156.9" width="4.5" height="39.6" fill="#fff" fill-opacity="0.30"/>
<rect x="74.3" y="155.5" width="1.5" height="40.1" fill="#fff" fill-opacity="0.25"/>
<rect x="81.8" y="151.4" width="3.0" height="40.3" fill="#fff" fill-opacity="0.29"/>
<rect x="138.7" y="152.6" width="4.5" height="42.1" fill="#fff" fill-opacity="0.34"/>
<rect x="140.2" y="153.4" width="1.5" height="42.1" fill="#fff" fill-opacity="0.15"/>
<rect x="147.6" y="159.7" width="3.0" height="42.4" fill="#fff" fill-opacity="0.19"/>
<rect x="161.1" y="159.1" width="1.5" height="42.8" fill="#fff" fill-opacity="0.15"/>
<rect x="167.1" y="163.6" width="1.5" height="43.0" fill="#fff" fill-opacity="0.16"/>
<rect x="170.1" y="163.9" width="3.0" height="43.1" fill="#fff" fill-opacity="0.18"/>
<rect x="173.1" y="162.4" width="4.5" height="43.2" fill="#fff" fill-opacity="0.10"/>
<rect x="194.1" y="163.7" width="3.0" height="43.8" fill="#fff" fill-opacity="0.27"/>
<rect x="197.1" y="164.9" width="1.5" height="43.9" fill="#fff" fill-opacity="0.18"/>
<rect x="198.6" y="167.1" width="4.5" height="44.0" fill="#fff" fill-opacity="0.28"/>
<rect x="212.0" y="169.3" width="4.5" height="44.4" fill="#fff" fill-opacity="0.28"/>
<rect x="216.5" y="172.8" width="1.5" height="44.5" fill="#fff" fill-opacity="0.32"/>
<rect x="228.5" y="173.3" width="4.5" height="44.9" fill="#fff" fill-opacity="0.34"/>
<rect x="233.0" y="176.7" width="1.5" height="45.0" fill="#fff" fill-opacity="0.29"/>
<rect x="236.0" y="180.2" width="3.0" height="45.1" fill="#fff" fill-opacity="0.31"/>
<rect x="251.0" y="178.1" width="1.5" height="45.6" fill="#fff" fill-opacity="0.21"/>
<rect x="263.0" y="187.0" width="4.5" height="45.9" fill="#fff" fill-opacity="0.12"/>
</g>
<polyline fill="none" stroke="#1f77b4" stroke-width="1.15" stroke-linejoin="round" points="29.3,213.4 31.0,194.5 32.7,190.9 34.1,189.7 35.7,136.5 37.4,189.7 38.8,196.8 40.5,194.5 41.6,187.4 44.0,186.2 46.4,188.5 48.0,199.2 49.2,175.5 50.4,160.2 51.6,167.3 53.0,172.0 54.6,179.1 56.3,181.5 58.2,182.6 60.5,180.3 63.4,181.5 65.3,168.5 67.2,142.5 68.8,162.5 71.2,179.1 73.5,181.5 77.1,181.5 79.9,183.8 81.8,179.1 83.0,157.8 84.2,163.7 85.8,161.4 87.0,168.5 88.4,174.4 90.1,180.3 92.5,183.8 96.0,183.8 99.5,181.5 101.2,161.4 103.1,138.9 105.4,141.3 107.8,144.8 110.2,151.9 112.5,153.1 114.9,159.0 117.3,162.5 119.2,166.1 120.8,151.9 122.5,159.0 125.5,166.1 126.7,169.6 129.1,169.6 131.4,170.8 133.8,172.0 136.2,176.7 138.5,182.6 140.4,174.4 142.1,172.0 144.4,176.7 146.8,177.9 148.5,181.2 151.3,179.8 154.1,175.6 155.5,146.0 156.9,168.5 158.3,175.6 159.7,172.7 162.5,174.1 165.4,175.6 168.2,178.4 171.0,177.0 172.4,179.8 173.8,205.1 175.2,200.9 176.6,198.1 179.5,199.5 182.3,198.1 185.1,199.5 187.9,200.9 190.7,203.7 192.1,206.6 193.6,198.1 195.0,192.5 197.8,196.7 200.6,198.1 203.4,199.5 206.2,200.9 207.6,203.7 210.5,192.5 211.9,223.5 213.3,216.4 216.1,213.6 218.9,212.2 221.7,212.2 224.6,206.6 226.0,200.9 227.4,185.4 229.6,184.0 231.6,184.0 233.9,179.8 235.8,181.2 238.6,184.0 241.5,186.8 244.3,186.8"/>
<polyline fill="none" stroke="#ff0000" stroke-width="1.15" stroke-linejoin="round" points="29.3,177.9 31.0,175.5 33.4,174.4 35.7,172.0 36.9,179.1 40.5,180.3 44.0,177.9 47.5,174.4 49.9,172.0 52.3,170.8 54.6,175.5 57.0,177.9 59.4,176.7 61.7,176.7 64.1,174.4 66.5,170.8 68.8,169.6 71.2,173.2 73.5,175.5 77.1,175.5 80.6,174.4 83.0,170.8 85.4,168.5 87.7,169.6 90.1,172.0 92.5,174.4 97.2,173.2 99.5,173.2 101.9,169.6 105.4,167.3 107.8,166.1 110.2,173.2 112.5,174.4 116.1,172.0 119.6,170.8 122.0,168.5 125.5,169.6 127.9,176.7 131.4,175.5 135.0,176.7 138.5,173.2 140.9,174.4 143.3,177.9 146.8,180.3 148.5,181.2 151.3,179.8 154.1,177.0 156.9,177.0 159.7,178.4 162.5,181.2 165.4,182.6 168.2,185.4 172.4,185.4 175.2,182.6 178.0,182.6 180.9,188.2 185.1,189.1 189.3,188.2 192.1,189.6 195.0,185.4 197.8,186.8 200.6,191.1 203.4,193.9 206.2,195.3 209.1,191.1 211.9,191.1 214.7,192.5 217.5,195.3 221.7,198.1 224.6,199.5 227.4,196.7 230.2,195.3 233.0,198.1 235.8,202.3 238.6,203.7 241.5,203.7 244.3,200.9 247.1,199.5 249.9,200.9 252.7,200.9 255.6,208.0 258.4,209.4 261.2,210.8 262.6,209.9"/>
</g>
<rect x="18.30" y="133.05" width="256.20" height="100.00" fill="none" stroke="#444" stroke-width="0.9"/>
<line x1="16.10" y1="232.50" x2="18.30" y2="232.50" stroke="#444" stroke-width="0.7"/>
<text x="14.50" y="234.25" font-size="5.0" fill="#333" stroke="#333" stroke-width="0.06" text-anchor="end" textLength="2.70" lengthAdjust="spacingAndGlyphs">1</text>
<line x1="16.10" y1="216.50" x2="18.30" y2="216.50" stroke="#444" stroke-width="0.7"/>
<text x="14.50" y="218.25" font-size="5.0" fill="#333" stroke="#333" stroke-width="0.06" text-anchor="end" textLength="2.70" lengthAdjust="spacingAndGlyphs">2</text>
<line x1="16.10" y1="200.50" x2="18.30" y2="200.50" stroke="#444" stroke-width="0.7"/>
<text x="14.50" y="202.25" font-size="5.0" fill="#333" stroke="#333" stroke-width="0.06" text-anchor="end" textLength="2.70" lengthAdjust="spacingAndGlyphs">3</text>
<line x1="16.10" y1="184.50" x2="18.30" y2="184.50" stroke="#444" stroke-width="0.7"/>
<text x="14.50" y="186.25" font-size="5.0" fill="#333" stroke="#333" stroke-width="0.06" text-anchor="end" textLength="2.70" lengthAdjust="spacingAndGlyphs">4</text>
<line x1="16.10" y1="168.50" x2="18.30" y2="168.50" stroke="#444" stroke-width="0.7"/>
<text x="14.50" y="170.25" font-size="5.0" fill="#333" stroke="#333" stroke-width="0.06" text-anchor="end" textLength="2.70" lengthAdjust="spacingAndGlyphs">5</text>
<line x1="16.10" y1="152.50" x2="18.30" y2="152.50" stroke="#444" stroke-width="0.7"/>
<text x="14.50" y="154.25" font-size="5.0" fill="#333" stroke="#333" stroke-width="0.06" text-anchor="end" textLength="2.70" lengthAdjust="spacingAndGlyphs">6</text>
<line x1="16.10" y1="136.50" x2="18.30" y2="136.50" stroke="#444" stroke-width="0.7"/>
<text x="14.50" y="138.25" font-size="5.0" fill="#333" stroke="#333" stroke-width="0.06" text-anchor="end" textLength="2.70" lengthAdjust="spacingAndGlyphs">7</text>
<line x1="28.60" y1="233.05" x2="28.60" y2="235.25" stroke="#444" stroke-width="0.7"/>
<text x="28.60" y="240.75" font-size="5.0" fill="#333" stroke="#333" stroke-width="0.06" text-anchor="middle" textLength="10.79" lengthAdjust="spacingAndGlyphs">2012</text>
<line x1="64.54" y1="233.05" x2="64.54" y2="235.25" stroke="#444" stroke-width="0.7"/>
<text x="64.54" y="240.75" font-size="5.0" fill="#333" stroke="#333" stroke-width="0.06" text-anchor="middle" textLength="10.79" lengthAdjust="spacingAndGlyphs">2014</text>
<line x1="100.48" y1="233.05" x2="100.48" y2="235.25" stroke="#444" stroke-width="0.7"/>
<text x="100.48" y="240.75" font-size="5.0" fill="#333" stroke="#333" stroke-width="0.06" text-anchor="middle" textLength="10.79" lengthAdjust="spacingAndGlyphs">2016</text>
<line x1="136.42" y1="233.05" x2="136.42" y2="235.25" stroke="#444" stroke-width="0.7"/>
<text x="136.42" y="240.75" font-size="5.0" fill="#333" stroke="#333" stroke-width="0.06" text-anchor="middle" textLength="10.79" lengthAdjust="spacingAndGlyphs">2018</text>
<line x1="172.36" y1="233.05" x2="172.36" y2="235.25" stroke="#444" stroke-width="0.7"/>
<text x="172.36" y="240.75" font-size="5.0" fill="#333" stroke="#333" stroke-width="0.06" text-anchor="middle" textLength="10.79" lengthAdjust="spacingAndGlyphs">2020</text>
<line x1="208.30" y1="233.05" x2="208.30" y2="235.25" stroke="#444" stroke-width="0.7"/>
<text x="208.30" y="240.75" font-size="5.0" fill="#333" stroke="#333" stroke-width="0.06" text-anchor="middle" textLength="10.79" lengthAdjust="spacingAndGlyphs">2022</text>
<line x1="244.24" y1="233.05" x2="244.24" y2="235.25" stroke="#444" stroke-width="0.7"/>
<text x="244.24" y="240.75" font-size="5.0" fill="#333" stroke="#333" stroke-width="0.06" text-anchor="middle" textLength="10.79" lengthAdjust="spacingAndGlyphs">2024</text>
<text x="146.40" y="130.45" font-size="6.1" fill="#333" stroke="#333" stroke-width="0.14" text-anchor="middle" textLength="82.51" lengthAdjust="spacingAndGlyphs">Gyeongnam Prophet Forecast</text>
<rect x="231.00" y="135.25" width="41" height="16.3" rx="1" fill="#fff" fill-opacity="0.8" stroke="#ddd" stroke-width="0.5"/>
<line x1="232.50" y1="139.45" x2="243.50" y2="139.45" stroke="#1f77b4" stroke-width="1.15"/>
<line x1="232.50" y1="146.55" x2="243.50" y2="146.55" stroke="#ff0000" stroke-width="1.15"/>
<text x="248.00" y="141.25" font-size="5.4" fill="#333" stroke="#333" stroke-width="0.08" textLength="21.3" lengthAdjust="spacingAndGlyphs">Observed</text>
<text x="248.00" y="148.35" font-size="5.4" fill="#333" stroke="#333" stroke-width="0.08" textLength="19.4" lengthAdjust="spacingAndGlyphs">Forecast</text>
<g clip-path="url(#cp3)">
<g filter="url(#bl)"><polygon fill="#fde5ea" points="299.8,158.7 301.3,158.7 301.3,162.6 302.8,162.6 302.8,158.6 304.3,158.6 304.3,156.7 305.8,156.7 305.8,157.7 307.3,157.7 307.3,160.2 308.8,160.2 308.8,162.0 310.3,162.0 310.3,162.6 311.8,162.6 311.8,161.9 313.3,161.9 313.3,162.1 314.8,162.1 314.8,163.7 316.3,163.7 316.3,163.0 317.8,163.0 317.8,159.3 319.3,159.3 319.3,163.2 320.8,163.2 320.8,164.4 322.3,164.4 322.3,162.2 323.8,162.2 323.8,160.8 325.3,160.8 325.3,164.4 326.8,164.4 326.8,165.4 328.3,165.4 328.3,164.8 329.8,164.8 329.8,166.6 331.3,166.6 331.3,167.1 332.7,167.1 332.7,166.7 334.2,166.7 334.2,163.5 335.7,163.5 335.7,164.1 337.2,164.1 337.2,164.6 338.7,164.6 338.7,164.9 340.2,164.9 340.2,163.8 341.7,163.8 341.7,165.8 343.2,165.8 343.2,165.4 344.7,165.4 344.7,166.0 346.2,166.0 346.2,166.0 347.7,166.0 347.7,167.7 349.2,167.7 349.2,167.4 350.7,167.4 350.7,169.5 352.2,169.5 352.2,169.3 353.7,169.3 353.7,167.0 355.2,167.0 355.2,165.1 356.7,165.1 356.7,166.9 358.2,166.9 358.2,167.2 359.7,167.2 359.7,168.7 361.2,168.7 361.2,169.0 362.7,169.0 362.7,168.9 364.2,168.9 364.2,169.1 365.7,169.1 365.7,169.0 367.2,169.0 367.2,170.4 368.7,170.4 368.7,169.9 370.2,169.9 370.2,169.1 371.7,169.1 371.7,168.4 373.2,168.4 373.2,171.9 374.7,171.9 374.7,172.1 376.2,172.1 376.2,170.9 377.7,170.9 377.7,170.0 379.2,170.0 379.2,170.5 380.7,170.5 380.7,170.7 382.2,170.7 382.2,170.4 383.7,170.4 383.7,170.9 385.2,170.9 385.2,172.0 386.7,172.0 386.7,174.4 388.2,174.4 388.2,174.9 389.7,174.9 389.7,173.7 391.2,173.7 391.2,173.5 392.6,173.5 392.6,171.3 394.1,171.3 394.1,170.6 395.6,170.6 395.6,168.8 397.1,168.8 397.1,169.9 398.6,169.9 398.6,173.5 400.1,173.5 400.1,174.5 401.6,174.5 401.6,175.3 403.1,175.3 403.1,175.0 404.6,175.0 404.6,176.7 406.1,176.7 406.1,175.0 407.6,175.0 407.6,174.9 409.1,174.9 409.1,176.9 410.6,176.9 410.6,174.6 412.1,174.6 412.1,173.9 413.6,173.9 413.6,172.8 415.1,172.8 415.1,173.2 416.6,173.2 416.6,174.9 418.1,174.9 418.1,175.9 419.6,175.9 419.6,177.4 421.1,177.4 421.1,177.3 422.6,177.3 422.6,178.8 424.1,178.8 424.1,178.4 425.6,178.4 425.6,176.1 427.1,176.1 427.1,178.0 428.6,178.0 428.6,177.5 430.1,177.5 430.1,177.1 431.6,177.1 431.6,177.1 433.1,177.1 433.1,177.5 434.6,177.5 434.6,180.0 436.1,180.0 436.1,180.2 437.6,180.2 437.6,182.0 439.1,182.0 439.1,181.8 440.6,181.8 440.6,182.2 442.1,182.2 442.1,182.4 443.6,182.4 443.6,178.4 445.1,178.4 445.1,181.2 446.6,181.2 446.6,180.6 448.1,180.6 448.1,180.7 449.6,180.7 449.6,181.4 451.1,181.4 451.1,183.3 452.5,183.3 452.5,183.1 454.0,183.1 454.0,183.7 455.5,183.7 455.5,184.1 457.0,184.1 457.0,184.3 458.5,184.3 458.5,183.8 460.0,183.8 460.0,182.9 461.5,182.9 461.5,179.5 463.0,179.5 463.0,181.9 464.5,181.9 464.5,184.4 466.0,184.4 466.0,184.2 467.5,184.2 467.5,181.1 469.0,181.1 469.0,182.6 470.5,182.6 470.5,185.1 472.0,185.1 472.0,185.5 473.5,185.5 473.5,185.6 475.0,185.6 475.0,187.1 476.5,187.1 476.5,186.4 478.0,186.4 478.0,187.6 479.5,187.6 479.5,185.3 481.0,185.3 481.0,185.3 482.5,185.3 482.5,183.6 484.0,183.6 484.0,185.6 485.5,185.6 485.5,187.7 487.0,187.7 487.0,188.4 488.5,188.4 488.5,188.9 490.0,188.9 490.0,188.2 491.5,188.2 491.5,190.1 493.0,190.1 493.0,188.7 494.5,188.7 494.5,188.5 496.0,188.5 496.0,188.8 497.5,188.8 497.5,185.3 499.0,185.3 499.0,187.4 500.5,187.4 500.5,187.5 502.0,187.5 502.0,189.0 503.5,189.0 503.5,189.6 505.0,189.6 505.0,191.2 506.5,191.2 506.5,190.8 508.0,190.8 508.0,189.9 509.5,189.9 509.5,191.2 511.0,191.2 511.0,191.2 512.4,191.2 512.4,191.1 513.9,191.1 513.9,189.1 515.4,189.1 515.4,186.3 516.9,186.3 516.9,190.0 518.4,190.0 518.4,191.5 519.9,191.5 519.9,189.4 521.4,189.4 521.4,186.9 522.9,186.9 522.9,189.8 524.4,189.8 524.4,191.9 525.9,191.9 525.9,192.9 527.4,192.9 527.4,193.9 528.9,193.9 528.9,194.2 530.4,194.2 530.4,194.8 531.9,194.8 531.9,194.9 533.1,194.9 533.4,196.1 533.1,196.1 533.1,230.1 533.4,230.1 533.1,230.6 531.9,230.6 531.9,229.9 530.4,229.9 530.4,229.2 528.9,229.2 528.9,228.7 527.4,228.7 527.4,227.7 525.9,227.7 525.9,227.4 524.4,227.4 524.4,223.6 522.9,223.6 522.9,221.2 521.4,221.2 521.4,223.8 519.9,223.8 519.9,226.8 518.4,226.8 518.4,224.9 516.9,224.9 516.9,221.6 515.4,221.6 515.4,223.5 513.9,223.5 513.9,225.3 512.4,225.3 512.4,226.0 511.0,226.0 511.0,224.8 509.5,224.8 509.5,224.8 508.0,224.8 508.0,224.5 506.5,224.5 506.5,225.0 505.0,225.0 505.0,224.3 503.5,224.3 503.5,224.1 502.0,224.1 502.0,222.6 500.5,222.6 500.5,221.3 499.0,221.3 499.0,219.9 497.5,219.9 497.5,223.6 496.0,223.6 496.0,224.6 494.5,224.6 494.5,224.5 493.0,224.5 493.0,224.4 491.5,224.4 491.5,222.7 490.0,222.7 490.0,222.0 488.5,222.0 488.5,221.9 487.0,221.9 487.0,222.4 485.5,222.4 485.5,221.5 484.0,221.5 484.0,218.8 482.5,218.8 482.5,219.2 481.0,219.2 481.0,221.1 479.5,221.1 479.5,221.7 478.0,221.7 478.0,221.0 476.5,221.0 476.5,220.8 475.0,220.8 475.0,221.1 473.5,221.1 473.5,219.8 472.0,219.8 472.0,219.6 470.5,219.6 470.5,217.2 469.0,217.2 469.0,216.3 467.5,216.3 467.5,218.7 466.0,218.7 466.0,218.1 464.5,218.1 464.5,215.9 463.0,215.9 463.0,212.9 461.5,212.9 461.5,217.0 460.0,217.0 460.0,218.4 458.5,218.4 458.5,217.9 457.0,217.9 457.0,218.7 455.5,218.7 455.5,217.7 454.0,217.7 454.0,217.3 452.5,217.3 452.5,216.7 451.1,216.7 451.1,215.7 449.6,215.7 449.6,215.0 448.1,215.0 448.1,215.8 446.6,215.8 446.6,215.5 445.1,215.5 445.1,212.8 443.6,212.8 443.6,216.0 442.1,216.0 442.1,216.6 440.6,216.6 440.6,216.2 439.1,216.2 439.1,216.1 437.6,216.1 437.6,214.5 436.1,214.5 436.1,214.2 434.6,214.2 434.6,212.3 433.1,212.3 433.1,211.9 431.6,211.9 431.6,211.9 430.1,211.9 430.1,212.7 428.6,212.7 428.6,211.0 427.1,211.0 427.1,209.8 425.6,209.8 425.6,212.5 424.1,212.5 424.1,212.1 422.6,212.1 422.6,212.5 421.1,212.5 421.1,211.7 419.6,211.7 419.6,210.3 418.1,210.3 418.1,208.8 416.6,208.8 416.6,208.6 415.1,208.6 415.1,207.4 413.6,207.4 413.6,208.7 412.1,208.7 412.1,208.5 410.6,208.5 410.6,210.8 409.1,210.8 409.1,208.1 407.6,208.1 407.6,208.2 406.1,208.2 406.1,210.3 404.6,210.3 404.6,209.8 403.1,209.8 403.1,208.2 401.6,208.2 401.6,207.5 400.1,207.5 400.1,206.8 398.6,206.8 398.6,202.7 397.1,202.7 397.1,204.3 395.6,204.3 395.6,204.6 394.1,204.6 394.1,205.6 392.6,205.6 392.6,207.1 391.2,207.1 391.2,209.1 389.7,209.1 389.7,209.3 388.2,209.3 388.2,206.9 386.7,206.9 386.7,206.2 385.2,206.2 385.2,205.9 383.7,205.9 383.7,204.2 382.2,204.2 382.2,204.2 380.7,204.2 380.7,203.7 379.2,203.7 379.2,204.4 377.7,204.4 377.7,205.2 376.2,205.2 376.2,206.6 374.7,206.6 374.7,206.8 373.2,206.8 373.2,202.3 371.7,202.3 371.7,202.5 370.2,202.5 370.2,203.2 368.7,203.2 368.7,204.5 367.2,204.5 367.2,204.4 365.7,204.4 365.7,203.2 364.2,203.2 364.2,201.9 362.7,201.9 362.7,201.9 361.2,201.9 361.2,201.3 359.7,201.3 359.7,201.9 358.2,201.9 358.2,200.3 356.7,200.3 356.7,200.3 355.2,200.3 355.2,201.2 353.7,201.2 353.7,203.6 352.2,203.6 352.2,202.5 350.7,202.5 350.7,202.9 349.2,202.9 349.2,201.0 347.7,201.0 347.7,199.5 346.2,199.5 346.2,200.1 344.7,200.1 344.7,199.7 343.2,199.7 343.2,199.0 341.7,199.0 341.7,198.1 340.2,198.1 340.2,198.6 338.7,198.6 338.7,199.0 337.2,199.0 337.2,197.2 335.7,197.2 335.7,197.8 334.2,197.8 334.2,200.8 332.7,200.8 332.7,199.6 331.3,199.6 331.3,199.0 329.8,199.0 329.8,199.5 328.3,199.5 328.3,197.9 326.8,197.9 326.8,198.5 325.3,198.5 325.3,195.4 323.8,195.4 323.8,196.0 322.3,196.0 322.3,197.9 320.8,197.9 320.8,196.5 319.3,196.5 319.3,194.1 317.8,194.1 317.8,195.8 316.3,195.8 316.3,196.2 314.8,196.2 314.8,195.9 313.3,195.9 313.3,196.0 311.8,196.0 311.8,194.5 310.3,194.5 310.3,195.2 308.8,195.2 308.8,193.7 307.3,193.7 307.3,190.5 305.8,190.5 305.8,190.4 304.3,190.4 304.3,191.3 302.8,191.3 302.8,195.6 301.3,195.6 301.3,191.9 299.8,191.9"/>
<rect x="299.8" y="155.7" width="3.0" height="39.4" fill="#fff" fill-opacity="0.32"/>
<rect x="305.8" y="154.8" width="3.0" height="39.5" fill="#fff" fill-opacity="0.17"/>
<rect x="308.8" y="158.3" width="3.0" height="39.5" fill="#fff" fill-opacity="0.10"/>
<rect x="310.3" y="158.9" width="4.5" height="39.5" fill="#fff" fill-opacity="0.26"/>
<rect x="316.3" y="160.2" width="4.5" height="39.5" fill="#fff" fill-opacity="0.10"/>
<rect x="320.8" y="160.7" width="1.5" height="39.6" fill="#fff" fill-opacity="0.22"/>
<rect x="323.8" y="158.4" width="3.0" height="39.6" fill="#fff" fill-opacity="0.14"/>
<rect x="326.8" y="162.0" width="4.5" height="39.6" fill="#fff" fill-opacity="0.33"/>
<rect x="331.3" y="163.5" width="1.5" height="39.6" fill="#fff" fill-opacity="0.12"/>
<rect x="337.2" y="162.4" width="3.0" height="39.7" fill="#fff" fill-opacity="0.19"/>
<rect x="341.7" y="162.0" width="4.5" height="39.7" fill="#fff" fill-opacity="0.25"/>
<rect x="343.2" y="162.7" width="4.5" height="39.7" fill="#fff" fill-opacity="0.34"/>
<rect x="355.2" y="163.0" width="1.5" height="39.8" fill="#fff" fill-opacity="0.22"/>
<rect x="359.7" y="164.9" width="1.5" height="39.8" fill="#fff" fill-opacity="0.24"/>
<rect x="364.2" y="166.3" width="4.5" height="39.8" fill="#fff" fill-opacity="0.22"/>
<rect x="371.7" y="165.4" width="3.0" height="39.9" fill="#fff" fill-opacity="0.13"/>
<rect x="373.2" y="169.4" width="3.0" height="39.9" fill="#fff" fill-opacity="0.24"/>
<rect x="380.7" y="167.2" width="1.5" height="40.0" fill="#fff" fill-opacity="0.33"/>
<rect x="383.7" y="168.7" width="4.5" height="40.0" fill="#fff" fill-opacity="0.32"/>
<rect x="403.1" y="172.6" width="1.5" height="40.1" fill="#fff" fill-opacity="0.28"/>
<rect x="410.6" y="172.2" width="4.5" height="40.2" fill="#fff" fill-opacity="0.30"/>
<rect x="439.1" y="179.1" width="1.5" height="40.3" fill="#fff" fill-opacity="0.24"/>
<rect x="454.0" y="180.3" width="4.5" height="40.4" fill="#fff" fill-opacity="0.35"/>
<rect x="460.0" y="179.1" width="3.0" height="40.5" fill="#fff" fill-opacity="0.14"/>
<rect x="470.5" y="182.1" width="4.5" height="40.5" fill="#fff" fill-opacity="0.17"/>
<rect x="476.5" y="183.7" width="3.0" height="40.6" fill="#fff" fill-opacity="0.30"/>
<rect x="481.0" y="181.4" width="3.0" height="40.6" fill="#fff" fill-opacity="0.35"/>
<rect x="499.0" y="183.8" width="3.0" height="40.7" fill="#fff" fill-opacity="0.32"/>
<rect x="503.5" y="186.5" width="1.5" height="40.8" fill="#fff" fill-opacity="0.13"/>
<rect x="505.0" y="187.3" width="1.5" height="40.8" fill="#fff" fill-opacity="0.29"/>
<rect x="508.0" y="187.6" width="1.5" height="40.8" fill="#fff" fill-opacity="0.31"/>
<rect x="512.4" y="187.5" width="4.5" height="40.8" fill="#fff" fill-opacity="0.25"/>
<rect x="525.9" y="190.0" width="3.0" height="40.9" fill="#fff" fill-opacity="0.19"/>
<rect x="533.4" y="192.3" width="1.5" height="40.9" fill="#fff" fill-opacity="0.33"/>
</g>
<polyline fill="none" stroke="#1f77b4" stroke-width="1.15" stroke-linejoin="round" points="299.8,202.3 301.2,196.7 302.3,191.1 303.2,185.4 304.0,183.4 305.2,182.6 306.0,137.5 307.4,188.2 308.8,189.6 310.2,191.1 311.6,189.6 313.0,188.2 314.5,189.6 315.9,188.2 317.3,189.6 318.1,147.4 319.5,158.6 320.9,178.4 322.9,181.2 325.7,186.8 328.6,191.1 331.4,193.9 334.2,196.7 335.6,189.6 337.0,154.4 338.4,164.3 340.4,167.1 341.8,171.3 342.6,179.8 344.1,184.0 346.9,185.4 349.7,186.3 352.5,189.6 353.9,191.1 354.5,164.3 355.3,184.0 356.7,175.6 358.1,171.3 359.6,174.1 361.0,177.0 363.8,179.8 366.6,178.4 369.4,182.6 370.8,186.8 372.8,195.3 373.6,200.9 375.1,191.1 376.5,188.2 377.9,189.6 379.3,185.4 380.7,181.2 383.5,179.8 386.3,181.2 389.1,182.6 390.0,206.6 391.1,209.4 392.2,202.3 394.8,193.9 396.2,196.7 399.0,196.7 401.8,196.7 403.5,196.7 406.3,193.9 407.7,182.6 409.1,186.8 410.5,184.0 412.5,182.6 414.2,189.6 416.1,191.1 418.1,188.2 420.4,189.6 423.2,186.8 424.6,178.4 426.0,153.0 427.4,189.6 428.8,191.1 430.2,186.8 433.0,175.6 435.9,178.4 438.7,182.6 441.5,185.4 444.3,191.1 445.7,193.9 447.1,191.1 448.6,198.1 450.0,193.9 451.4,195.3 452.8,196.7 455.6,198.1 458.4,202.3 459.8,206.6 461.2,215.0 463.2,226.3 465.5,212.2 466.9,208.0 469.7,210.8 472.5,212.2 475.3,212.2 478.1,213.6 479.6,219.2 481.0,227.7 482.4,228.5 484.6,223.5 488.0,222.1 490.8,222.1 493.6,219.2 496.5,219.2 497.3,203.7 498.7,189.6 500.7,193.9 502.1,199.5 503.5,193.9 504.9,188.2 507.7,189.6 510.6,192.5 512.8,196.7 514.8,193.9"/>
<polyline fill="none" stroke="#ff0000" stroke-width="1.15" stroke-linejoin="round" points="299.8,172.7 301.8,179.8 303.2,175.6 306.0,172.7 307.4,177.0 310.2,178.4 314.5,179.8 317.3,181.2 318.1,174.1 320.1,181.2 322.9,179.8 324.3,177.0 325.7,181.2 330.0,182.6 334.2,184.0 335.6,178.4 337.0,182.6 341.2,181.2 344.1,182.6 348.3,184.0 352.5,186.8 355.3,182.6 358.1,184.0 362.4,185.4 366.6,186.8 370.8,186.8 372.2,184.0 373.6,189.6 376.5,188.2 380.7,186.8 386.3,189.6 389.1,192.5 392.0,189.6 394.8,188.2 397.6,185.4 399.0,189.6 403.5,192.5 406.3,193.9 407.7,188.2 409.1,193.9 411.9,191.9 414.7,189.6 417.5,192.5 420.4,195.3 424.6,195.3 426.0,192.5 428.8,195.3 431.6,193.9 434.5,195.8 437.3,197.5 440.1,199.5 442.9,199.5 444.3,194.7 445.7,199.5 448.6,196.7 451.4,199.5 454.2,200.4 457.0,200.9 459.8,201.5 462.6,195.3 464.1,200.9 466.9,202.3 468.8,197.5 471.1,202.3 475.3,203.7 479.6,204.3 482.4,200.9 485.2,203.7 488.0,205.1 492.2,206.6 496.5,206.6 497.9,202.3 500.7,205.1 503.5,206.6 506.3,208.0 510.6,208.0 513.4,208.0 516.2,203.7 518.2,209.4 520.4,208.0 522.4,203.7 524.7,209.4 528.9,211.6 533.1,212.8"/>
</g>
<rect x="289.00" y="133.05" width="256.20" height="100.00" fill="none" stroke="#444" stroke-width="0.9"/>
<line x1="286.80" y1="220.60" x2="289.00" y2="220.60" stroke="#444" stroke-width="0.7"/>
<text x="285.20" y="222.35" font-size="5.0" fill="#333" stroke="#333" stroke-width="0.06" text-anchor="end" textLength="2.70" lengthAdjust="spacingAndGlyphs">2</text>
<line x1="286.80" y1="205.84" x2="289.00" y2="205.84" stroke="#444" stroke-width="0.7"/>
<text x="285.20" y="207.59" font-size="5.0" fill="#333" stroke="#333" stroke-width="0.06" text-anchor="end" textLength="2.70" lengthAdjust="spacingAndGlyphs">3</text>
<line x1="286.80" y1="191.08" x2="289.00" y2="191.08" stroke="#444" stroke-width="0.7"/>
<text x="285.20" y="192.83" font-size="5.0" fill="#333" stroke="#333" stroke-width="0.06" text-anchor="end" textLength="2.70" lengthAdjust="spacingAndGlyphs">4</text>
<line x1="286.80" y1="176.32" x2="289.00" y2="176.32" stroke="#444" stroke-width="0.7"/>
<text x="285.20" y="178.07" font-size="5.0" fill="#333" stroke="#333" stroke-width="0.06" text-anchor="end" textLength="2.70" lengthAdjust="spacingAndGlyphs">5</text>
<line x1="286.80" y1="161.56" x2="289.00" y2="161.56" stroke="#444" stroke-width="0.7"/>
<text x="285.20" y="163.31" font-size="5.0" fill="#333" stroke="#333" stroke-width="0.06" text-anchor="end" textLength="2.70" lengthAdjust="spacingAndGlyphs">6</text>
<line x1="286.80" y1="146.80" x2="289.00" y2="146.80" stroke="#444" stroke-width="0.7"/>
<text x="285.20" y="148.55" font-size="5.0" fill="#333" stroke="#333" stroke-width="0.06" text-anchor="end" textLength="2.70" lengthAdjust="spacingAndGlyphs">7</text>
<line x1="299.30" y1="233.05" x2="299.30" y2="235.25" stroke="#444" stroke-width="0.7"/>
<text x="299.30" y="240.75" font-size="5.0" fill="#333" stroke="#333" stroke-width="0.06" text-anchor="middle" textLength="10.79" lengthAdjust="spacingAndGlyphs">2012</text>
<line x1="335.24" y1="233.05" x2="335.24" y2="235.25" stroke="#444" stroke-width="0.7"/>
<text x="335.24" y="240.75" font-size="5.0" fill="#333" stroke="#333" stroke-width="0.06" text-anchor="middle" textLength="10.79" lengthAdjust="spacingAndGlyphs">2014</text>
<line x1="371.18" y1="233.05" x2="371.18" y2="235.25" stroke="#444" stroke-width="0.7"/>
<text x="371.18" y="240.75" font-size="5.0" fill="#333" stroke="#333" stroke-width="0.06" text-anchor="middle" textLength="10.79" lengthAdjust="spacingAndGlyphs">2016</text>
<line x1="407.12" y1="233.05" x2="407.12" y2="235.25" stroke="#444" stroke-width="0.7"/>
<text x="407.12" y="240.75" font-size="5.0" fill="#333" stroke="#333" stroke-width="0.06" text-anchor="middle" textLength="10.79" lengthAdjust="spacingAndGlyphs">2018</text>
<line x1="443.06" y1="233.05" x2="443.06" y2="235.25" stroke="#444" stroke-width="0.7"/>
<text x="443.06" y="240.75" font-size="5.0" fill="#333" stroke="#333" stroke-width="0.06" text-anchor="middle" textLength="10.79" lengthAdjust="spacingAndGlyphs">2020</text>
<line x1="479.00" y1="233.05" x2="479.00" y2="235.25" stroke="#444" stroke-width="0.7"/>
<text x="479.00" y="240.75" font-size="5.0" fill="#333" stroke="#333" stroke-width="0.06" text-anchor="middle" textLength="10.79" lengthAdjust="spacingAndGlyphs">2022</text>
<line x1="514.94" y1="233.05" x2="514.94" y2="235.25" stroke="#444" stroke-width="0.7"/>
<text x="514.94" y="240.75" font-size="5.0" fill="#333" stroke="#333" stroke-width="0.06" text-anchor="middle" textLength="10.79" lengthAdjust="spacingAndGlyphs">2024</text>
<text x="417.10" y="130.45" font-size="6.1" fill="#333" stroke="#333" stroke-width="0.14" text-anchor="middle" textLength="80.46" lengthAdjust="spacingAndGlyphs">Gyeongbuk Prophet Forecast</text>
<rect x="501.70" y="135.25" width="41" height="16.3" rx="1" fill="#fff" fill-opacity="0.8" stroke="#ddd" stroke-width="0.5"/>
<line x1="503.20" y1="139.45" x2="514.20" y2="139.45" stroke="#1f77b4" stroke-width="1.15"/>
<line x1="503.20" y1="146.55" x2="514.20" y2="146.55" stroke="#ff0000" stroke-width="1.15"/>
<text x="518.70" y="141.25" font-size="5.4" fill="#333" stroke="#333" stroke-width="0.08" textLength="21.3" lengthAdjust="spacingAndGlyphs">Observed</text>
<text x="518.70" y="148.35" font-size="5.4" fill="#333" stroke="#333" stroke-width="0.08" textLength="19.4" lengthAdjust="spacingAndGlyphs">Forecast</text>
<g clip-path="url(#cp4)">
<g filter="url(#bl)"><polygon fill="#fde5ea" points="28.8,275.8 30.3,275.8 30.3,283.3 31.8,283.3 31.8,283.4 33.3,283.4 33.3,283.5 34.8,283.5 34.8,284.1 36.3,284.1 36.3,289.1 37.7,289.1 37.7,290.0 39.2,290.0 39.2,289.8 40.7,289.8 40.7,290.9 42.2,290.9 42.2,289.9 43.7,289.9 43.7,291.6 45.2,291.6 45.2,289.6 46.7,289.6 46.7,276.3 48.2,276.3 48.2,281.5 49.7,281.5 49.7,285.7 51.2,285.7 51.2,285.2 52.7,285.2 52.7,289.6 54.2,289.6 54.2,290.4 55.7,290.4 55.7,292.2 57.2,292.2 57.2,292.4 58.7,292.4 58.7,292.7 60.2,292.7 60.2,292.5 61.7,292.5 61.7,293.8 63.2,293.8 63.2,292.1 64.7,292.1 64.7,284.6 66.2,284.6 66.2,282.3 67.7,282.3 67.7,287.5 69.2,287.5 69.2,288.7 70.7,288.7 70.7,289.2 72.2,289.2 72.2,289.5 73.7,289.5 73.7,290.3 75.2,290.3 75.2,290.7 76.7,290.7 76.7,292.6 78.2,292.6 78.2,292.4 79.7,292.4 79.7,294.3 81.2,294.3 81.2,293.2 82.7,293.2 82.7,282.8 84.2,282.8 84.2,286.3 85.7,286.3 85.7,290.7 87.2,290.7 87.2,292.9 88.7,292.9 88.7,293.4 90.2,293.4 90.2,295.4 91.7,295.4 91.7,295.7 93.2,295.7 93.2,295.8 94.7,295.8 94.7,296.2 96.2,296.2 96.2,297.5 97.6,297.5 97.6,297.8 99.1,297.8 99.1,292.1 100.6,292.1 100.6,286.5 102.1,286.5 102.1,293.0 103.6,293.0 103.6,292.7 105.1,292.7 105.1,294.0 106.6,294.0 106.6,292.9 108.1,292.9 108.1,297.5 109.6,297.5 109.6,297.8 111.1,297.8 111.1,298.7 112.6,298.7 112.6,298.4 114.1,298.4 114.1,299.6 115.6,299.6 115.6,299.1 117.1,299.1 117.1,297.2 118.6,297.2 118.6,279.9 120.1,279.9 120.1,287.9 121.6,287.9 121.6,292.3 123.1,292.3 123.1,295.3 124.6,295.3 124.6,296.9 126.1,296.9 126.1,297.9 127.6,297.9 127.6,299.7 129.1,299.7 129.1,300.3 130.6,300.3 130.6,301.4 132.1,301.4 132.1,301.4 133.6,301.4 133.6,302.1 135.1,302.1 135.1,293.6 136.6,293.6 136.6,288.9 138.1,288.9 138.1,296.2 139.6,296.2 139.6,296.8 141.1,296.8 141.1,298.0 142.6,298.0 142.6,298.3 144.1,298.3 144.1,299.3 145.6,299.3 145.6,299.9 147.1,299.9 147.1,301.6 148.6,301.6 148.6,301.2 150.1,301.2 150.1,302.2 151.6,302.2 151.6,304.1 153.1,304.1 153.1,300.5 154.6,300.5 154.6,291.7 156.1,291.7 156.1,296.6 157.5,296.6 157.5,298.8 159.0,298.8 159.0,298.5 160.5,298.5 160.5,300.8 162.0,300.8 162.0,301.4 163.5,301.4 163.5,301.9 165.0,301.9 165.0,303.1 166.5,303.1 166.5,304.1 168.0,304.1 168.0,303.9 169.5,303.9 169.5,304.6 171.0,304.6 171.0,303.4 172.5,303.4 172.5,295.8 174.0,295.8 174.0,298.3 175.5,298.3 175.5,301.4 177.0,301.4 177.0,303.8 178.5,303.8 178.5,303.4 180.0,303.4 180.0,306.4 181.5,306.4 181.5,307.1 183.0,307.1 183.0,308.5 184.5,308.5 184.5,308.2 186.0,308.2 186.0,308.7 187.5,308.7 187.5,308.4 189.0,308.4 189.0,309.4 190.5,309.4 190.5,300.7 192.0,300.7 192.0,298.0 193.5,298.0 193.5,305.2 195.0,305.2 195.0,306.2 196.5,306.2 196.5,307.8 198.0,307.8 198.0,308.9 199.5,308.9 199.5,309.5 201.0,309.5 201.0,309.5 202.5,309.5 202.5,309.8 204.0,309.8 204.0,310.6 205.5,310.6 205.5,309.7 207.0,309.7 207.0,303.3 208.5,303.3 208.5,299.8 210.0,299.8 210.0,306.8 211.5,306.8 211.5,307.9 213.0,307.9 213.0,309.7 214.5,309.7 214.5,309.9 216.0,309.9 216.0,310.7 217.4,310.7 217.4,311.9 218.9,311.9 218.9,313.0 220.4,313.0 220.4,312.8 221.9,312.8 221.9,314.4 223.4,314.4 223.4,312.0 224.9,312.0 224.9,310.4 226.4,310.4 226.4,301.7 227.9,301.7 227.9,297.7 229.4,297.7 229.4,304.1 230.9,304.1 230.9,308.7 232.4,308.7 232.4,312.6 233.9,312.6 233.9,313.9 235.4,313.9 235.4,315.0 236.9,315.0 236.9,315.7 238.4,315.7 238.4,316.3 239.9,316.3 239.9,317.9 241.4,317.9 241.4,317.3 242.9,317.3 242.9,318.0 244.4,318.0 244.4,308.7 245.9,308.7 245.9,307.4 247.4,307.4 247.4,312.4 248.9,312.4 248.9,313.1 250.4,313.1 250.4,313.5 251.9,313.5 251.9,313.6 253.4,313.6 253.4,315.9 254.9,315.9 254.9,318.4 256.4,318.4 256.4,319.7 257.9,319.7 257.9,319.7 259.4,319.7 259.4,318.8 260.9,318.8 260.9,319.1 262.4,319.1 262.4,318.4 262.6,318.4 263.9,319.2 262.6,319.2 262.6,347.8 263.9,347.8 262.6,349.6 262.4,349.6 262.4,348.8 260.9,348.8 260.9,349.4 259.4,349.4 259.4,349.2 257.9,349.2 257.9,349.5 256.4,349.5 256.4,347.8 254.9,347.8 254.9,346.0 253.4,346.0 253.4,343.5 251.9,343.5 251.9,343.6 250.4,343.6 250.4,343.2 248.9,343.2 248.9,341.6 247.4,341.6 247.4,337.9 245.9,337.9 245.9,339.1 244.4,339.1 244.4,348.2 242.9,348.2 242.9,348.8 241.4,348.8 241.4,347.8 239.9,347.8 239.9,346.2 238.4,346.2 238.4,345.6 236.9,345.6 236.9,344.1 235.4,344.1 235.4,342.6 233.9,342.6 233.9,341.1 232.4,341.1 232.4,337.9 230.9,337.9 230.9,334.1 229.4,334.1 229.4,327.9 227.9,327.9 227.9,331.9 226.4,331.9 226.4,339.9 224.9,339.9 224.9,342.6 223.4,342.6 223.4,343.1 221.9,343.1 221.9,342.0 220.4,342.0 220.4,341.5 218.9,341.5 218.9,341.3 217.4,341.3 217.4,339.7 216.0,339.7 216.0,339.4 214.5,339.4 214.5,339.1 213.0,339.1 213.0,337.6 211.5,337.6 211.5,335.7 210.0,335.7 210.0,329.6 208.5,329.6 208.5,333.1 207.0,333.1 207.0,338.4 205.5,338.4 205.5,339.5 204.0,339.5 204.0,340.0 202.5,340.0 202.5,339.9 201.0,339.9 201.0,338.0 199.5,338.0 199.5,337.4 198.0,337.4 198.0,337.5 196.5,337.5 196.5,335.9 195.0,335.9 195.0,334.8 193.5,334.8 193.5,326.3 192.0,326.3 192.0,330.2 190.5,330.2 190.5,338.9 189.0,338.9 189.0,338.1 187.5,338.1 187.5,337.4 186.0,337.4 186.0,338.3 184.5,338.3 184.5,336.9 183.0,336.9 183.0,336.8 181.5,336.8 181.5,335.7 180.0,335.7 180.0,333.0 178.5,333.0 178.5,332.2 177.0,332.2 177.0,331.2 175.5,331.2 175.5,327.9 174.0,327.9 174.0,326.1 172.5,326.1 172.5,332.2 171.0,332.2 171.0,333.0 169.5,333.0 169.5,333.1 168.0,333.1 168.0,332.2 166.5,332.2 166.5,332.8 165.0,332.8 165.0,330.6 163.5,330.6 163.5,330.6 162.0,330.6 162.0,328.4 160.5,328.4 160.5,328.6 159.0,328.6 159.0,326.6 157.5,326.6 157.5,325.4 156.1,325.4 156.1,321.8 154.6,321.8 154.6,328.9 153.1,328.9 153.1,332.9 151.6,332.9 151.6,331.3 150.1,331.3 150.1,330.6 148.6,330.6 148.6,330.0 147.1,330.0 147.1,328.9 145.6,328.9 145.6,327.6 144.1,327.6 144.1,327.6 142.6,327.6 142.6,326.8 141.1,326.8 141.1,325.2 139.6,325.2 139.6,324.4 138.1,324.4 138.1,317.3 136.6,317.3 136.6,322.1 135.1,322.1 135.1,331.7 133.6,331.7 133.6,330.6 132.1,330.6 132.1,329.6 130.6,329.6 130.6,329.2 129.1,329.2 129.1,327.5 127.6,327.5 127.6,326.7 126.1,326.7 126.1,324.4 124.6,324.4 124.6,323.5 123.1,323.5 123.1,322.0 121.6,322.0 121.6,317.0 120.1,317.0 120.1,309.2 118.6,309.2 118.6,325.3 117.1,325.3 117.1,328.9 115.6,328.9 115.6,327.4 114.1,327.4 114.1,327.4 112.6,327.4 112.6,327.7 111.1,327.7 111.1,327.2 109.6,327.2 109.6,324.6 108.1,324.6 108.1,322.7 106.6,322.7 106.6,321.1 105.1,321.1 105.1,321.6 103.6,321.6 103.6,321.5 102.1,321.5 102.1,314.5 100.6,314.5 100.6,322.1 99.1,322.1 99.1,325.4 97.6,325.4 97.6,326.1 96.2,326.1 96.2,325.7 94.7,325.7 94.7,324.8 93.2,324.8 93.2,324.0 91.7,324.0 91.7,322.1 90.2,322.1 90.2,321.8 88.7,321.8 88.7,321.2 87.2,321.2 87.2,318.9 85.7,318.9 85.7,314.8 84.2,314.8 84.2,311.2 82.7,311.2 82.7,321.5 81.2,321.5 81.2,321.9 79.7,321.9 79.7,321.2 78.2,321.2 78.2,320.6 76.7,320.6 76.7,318.7 75.2,318.7 75.2,319.3 73.7,319.3 73.7,318.4 72.2,318.4 72.2,318.0 70.7,318.0 70.7,316.6 69.2,316.6 69.2,315.7 67.7,315.7 67.7,309.7 66.2,309.7 66.2,312.9 64.7,312.9 64.7,321.7 63.2,321.7 63.2,320.7 61.7,320.7 61.7,321.4 60.2,321.4 60.2,320.5 58.7,320.5 58.7,321.0 57.2,321.0 57.2,320.6 55.7,320.6 55.7,319.9 54.2,319.9 54.2,318.8 52.7,318.8 52.7,314.9 51.2,314.9 51.2,313.3 49.7,313.3 49.7,311.3 48.2,311.3 48.2,306.0 46.7,306.0 46.7,317.4 45.2,317.4 45.2,318.7 43.7,318.7 43.7,318.2 42.2,318.2 42.2,317.9 40.7,317.9 40.7,318.1 39.2,318.1 39.2,318.0 37.7,318.0 37.7,317.2 36.3,317.2 36.3,312.9 34.8,312.9 34.8,311.5 33.3,311.5 33.3,310.8 31.8,310.8 31.8,311.4 30.3,311.4 30.3,304.7 28.8,304.7"/>
<rect x="28.8" y="272.9" width="1.5" height="33.9" fill="#fff" fill-opacity="0.15"/>
<rect x="30.3" y="280.1" width="4.5" height="33.9" fill="#fff" fill-opacity="0.22"/>
<rect x="34.8" y="281.6" width="1.5" height="34.0" fill="#fff" fill-opacity="0.18"/>
<rect x="39.2" y="287.0" width="4.5" height="34.0" fill="#fff" fill-opacity="0.15"/>
<rect x="45.2" y="287.0" width="4.5" height="34.1" fill="#fff" fill-opacity="0.25"/>
<rect x="49.7" y="282.6" width="4.5" height="34.1" fill="#fff" fill-opacity="0.23"/>
<rect x="54.2" y="288.2" width="3.0" height="34.2" fill="#fff" fill-opacity="0.18"/>
<rect x="61.7" y="290.3" width="3.0" height="34.3" fill="#fff" fill-opacity="0.27"/>
<rect x="67.7" y="284.6" width="3.0" height="34.3" fill="#fff" fill-opacity="0.33"/>
<rect x="73.7" y="287.1" width="1.5" height="34.4" fill="#fff" fill-opacity="0.11"/>
<rect x="79.7" y="291.3" width="4.5" height="34.4" fill="#fff" fill-opacity="0.13"/>
<rect x="91.7" y="292.4" width="4.5" height="34.5" fill="#fff" fill-opacity="0.32"/>
<rect x="118.6" y="276.7" width="1.5" height="34.8" fill="#fff" fill-opacity="0.29"/>
<rect x="126.1" y="294.9" width="4.5" height="34.9" fill="#fff" fill-opacity="0.27"/>
<rect x="132.1" y="298.6" width="1.5" height="34.9" fill="#fff" fill-opacity="0.23"/>
<rect x="147.1" y="298.0" width="1.5" height="35.1" fill="#fff" fill-opacity="0.28"/>
<rect x="148.6" y="298.9" width="3.0" height="35.1" fill="#fff" fill-opacity="0.26"/>
<rect x="151.6" y="300.9" width="4.5" height="35.1" fill="#fff" fill-opacity="0.12"/>
<rect x="154.6" y="288.7" width="3.0" height="35.1" fill="#fff" fill-opacity="0.16"/>
<rect x="157.5" y="295.0" width="1.5" height="35.2" fill="#fff" fill-opacity="0.28"/>
<rect x="183.0" y="304.8" width="4.5" height="35.4" fill="#fff" fill-opacity="0.18"/>
<rect x="186.0" y="305.7" width="4.5" height="35.5" fill="#fff" fill-opacity="0.23"/>
<rect x="187.5" y="306.2" width="4.5" height="35.5" fill="#fff" fill-opacity="0.30"/>
<rect x="192.0" y="294.1" width="1.5" height="35.5" fill="#fff" fill-opacity="0.34"/>
<rect x="210.0" y="303.8" width="4.5" height="35.7" fill="#fff" fill-opacity="0.18"/>
<rect x="213.0" y="305.8" width="1.5" height="35.7" fill="#fff" fill-opacity="0.34"/>
<rect x="241.4" y="315.0" width="4.5" height="36.0" fill="#fff" fill-opacity="0.33"/>
<rect x="245.9" y="304.9" width="4.5" height="36.0" fill="#fff" fill-opacity="0.15"/>
<rect x="250.4" y="309.8" width="4.5" height="36.1" fill="#fff" fill-opacity="0.33"/>
<rect x="251.9" y="310.1" width="3.0" height="36.1" fill="#fff" fill-opacity="0.14"/>
<rect x="259.4" y="316.0" width="1.5" height="36.2" fill="#fff" fill-opacity="0.12"/>
<rect x="262.4" y="315.5" width="3.0" height="36.2" fill="#fff" fill-opacity="0.30"/>
</g>
<polyline fill="none" stroke="#1f77b4" stroke-width="1.15" stroke-linejoin="round" points="28.8,305.6 30.0,315.3 31.1,319.9 33.1,312.7 34.4,298.7 35.6,259.3 36.9,306.4 38.2,305.1 39.5,303.8 40.7,306.4 42.0,305.1 43.3,307.6 45.8,305.1 47.6,272.0 48.9,291.1 50.1,303.8 51.7,301.3 53.5,302.5 54.7,312.7 56.5,316.5 58.5,319.1 61.1,317.8 63.6,315.3 65.7,310.2 67.5,282.2 69.2,277.1 71.3,288.5 73.3,302.5 75.1,301.3 76.4,298.7 78.9,301.3 81.5,303.8 84.0,268.2 85.3,289.8 86.5,291.1 87.8,305.1 89.6,314.0 90.9,302.5 92.1,298.7 93.7,301.3 95.5,308.9 98.0,310.7 100.5,312.7 101.8,317.8 103.1,325.5 104.4,320.4 105.6,314.0 108.2,311.5 110.7,310.2 113.3,308.9 115.8,307.6 118.4,308.9 119.6,301.3 122.2,305.1 124.7,311.5 127.3,314.0 131.1,315.3 134.9,315.3 137.5,280.9 138.7,307.6 149.9,318.7 152.7,321.5 154.1,321.5 154.9,294.7 155.8,260.9 156.9,280.6 158.3,303.2 160.3,304.6 162.5,307.4 165.4,311.6 168.2,315.9 171.0,317.3 172.4,318.7 173.8,320.1 175.2,325.7 176.6,328.6 179.5,330.0 182.3,331.4 185.1,331.4 187.9,330.0 190.7,328.6 192.1,332.8 193.6,334.2 196.4,334.2 199.2,335.6 202.0,333.6 204.8,334.2 209.1,333.6 210.5,334.2 212.7,341.2 214.7,337.0 217.5,337.0 220.3,334.2 223.1,334.2 224.6,330.0 226.0,322.9 227.4,310.2 228.8,315.9 230.8,308.8 233.0,314.5 237.2,317.3 240.1,318.7 242.9,314.5 244.3,313.1"/>
<polyline fill="none" stroke="#ff0000" stroke-width="1.15" stroke-linejoin="round" points="28.8,284.7 30.5,296.9 33.1,297.5 35.1,296.2 36.4,302.5 40.7,304.3 44.5,305.1 46.6,304.6 47.6,286.0 49.1,298.7 50.9,300.0 52.2,299.5 53.5,304.6 57.3,306.4 62.4,307.6 64.9,306.4 66.2,289.8 67.5,301.3 71.3,303.1 76.4,305.1 80.9,308.9 82.2,308.9 84.0,292.4 85.3,303.8 89.1,307.6 94.2,310.7 99.3,312.2 101.3,296.2 102.6,306.4 105.6,307.6 107.4,307.1 108.9,311.5 113.3,313.2 117.6,314.0 119.6,289.8 120.9,305.1 124.7,310.2 129.8,315.3 134.9,316.5 136.9,298.7 138.7,310.2 148.5,315.9 152.7,318.7 154.1,314.5 155.5,303.2 156.9,311.6 161.1,314.5 165.4,317.3 169.6,318.7 172.4,318.7 173.8,306.0 175.2,315.9 178.0,318.7 179.5,317.3 180.9,321.5 185.1,322.9 189.3,324.3 190.7,321.5 192.1,306.0 193.6,320.1 197.8,322.9 202.0,324.3 206.2,325.7 209.1,310.2 210.5,321.5 214.7,324.3 218.9,327.1 223.1,328.6 226.0,325.7 227.9,310.2 230.2,320.1 233.0,327.1 237.2,330.0 241.5,332.8 244.3,333.6 245.7,317.3 247.1,325.7 249.9,328.6 252.2,327.1 254.1,331.4 257.0,334.2 259.8,334.2 262.6,333.6"/>
</g>
<rect x="18.30" y="254.80" width="256.20" height="100.00" fill="none" stroke="#444" stroke-width="0.9"/>
<line x1="16.10" y1="345.50" x2="18.30" y2="345.50" stroke="#444" stroke-width="0.7"/>
<text x="14.50" y="347.25" font-size="5.0" fill="#333" stroke="#333" stroke-width="0.06" text-anchor="end" textLength="2.70" lengthAdjust="spacingAndGlyphs">1</text>
<line x1="16.10" y1="333.21" x2="18.30" y2="333.21" stroke="#444" stroke-width="0.7"/>
<text x="14.50" y="334.96" font-size="5.0" fill="#333" stroke="#333" stroke-width="0.06" text-anchor="end" textLength="2.70" lengthAdjust="spacingAndGlyphs">2</text>
<line x1="16.10" y1="320.93" x2="18.30" y2="320.93" stroke="#444" stroke-width="0.7"/>
<text x="14.50" y="322.68" font-size="5.0" fill="#333" stroke="#333" stroke-width="0.06" text-anchor="end" textLength="2.70" lengthAdjust="spacingAndGlyphs">3</text>
<line x1="16.10" y1="308.64" x2="18.30" y2="308.64" stroke="#444" stroke-width="0.7"/>
<text x="14.50" y="310.39" font-size="5.0" fill="#333" stroke="#333" stroke-width="0.06" text-anchor="end" textLength="2.70" lengthAdjust="spacingAndGlyphs">4</text>
<line x1="16.10" y1="296.36" x2="18.30" y2="296.36" stroke="#444" stroke-width="0.7"/>
<text x="14.50" y="298.11" font-size="5.0" fill="#333" stroke="#333" stroke-width="0.06" text-anchor="end" textLength="2.70" lengthAdjust="spacingAndGlyphs">5</text>
<line x1="16.10" y1="284.07" x2="18.30" y2="284.07" stroke="#444" stroke-width="0.7"/>
<text x="14.50" y="285.82" font-size="5.0" fill="#333" stroke="#333" stroke-width="0.06" text-anchor="end" textLength="2.70" lengthAdjust="spacingAndGlyphs">6</text>
<line x1="16.10" y1="271.79" x2="18.30" y2="271.79" stroke="#444" stroke-width="0.7"/>
<text x="14.50" y="273.54" font-size="5.0" fill="#333" stroke="#333" stroke-width="0.06" text-anchor="end" textLength="2.70" lengthAdjust="spacingAndGlyphs">7</text>
<line x1="16.10" y1="259.50" x2="18.30" y2="259.50" stroke="#444" stroke-width="0.7"/>
<text x="14.50" y="261.25" font-size="5.0" fill="#333" stroke="#333" stroke-width="0.06" text-anchor="end" textLength="2.70" lengthAdjust="spacingAndGlyphs">8</text>
<line x1="28.60" y1="354.80" x2="28.60" y2="357.00" stroke="#444" stroke-width="0.7"/>
<text x="28.60" y="362.50" font-size="5.0" fill="#333" stroke="#333" stroke-width="0.06" text-anchor="middle" textLength="10.79" lengthAdjust="spacingAndGlyphs">2012</text>
<line x1="64.54" y1="354.80" x2="64.54" y2="357.00" stroke="#444" stroke-width="0.7"/>
<text x="64.54" y="362.50" font-size="5.0" fill="#333" stroke="#333" stroke-width="0.06" text-anchor="middle" textLength="10.79" lengthAdjust="spacingAndGlyphs">2014</text>
<line x1="100.48" y1="354.80" x2="100.48" y2="357.00" stroke="#444" stroke-width="0.7"/>
<text x="100.48" y="362.50" font-size="5.0" fill="#333" stroke="#333" stroke-width="0.06" text-anchor="middle" textLength="10.79" lengthAdjust="spacingAndGlyphs">2016</text>
<line x1="136.42" y1="354.80" x2="136.42" y2="357.00" stroke="#444" stroke-width="0.7"/>
<text x="136.42" y="362.50" font-size="5.0" fill="#333" stroke="#333" stroke-width="0.06" text-anchor="middle" textLength="10.79" lengthAdjust="spacingAndGlyphs">2018</text>
<line x1="172.36" y1="354.80" x2="172.36" y2="357.00" stroke="#444" stroke-width="0.7"/>
<text x="172.36" y="362.50" font-size="5.0" fill="#333" stroke="#333" stroke-width="0.06" text-anchor="middle" textLength="10.79" lengthAdjust="spacingAndGlyphs">2020</text>
<line x1="208.30" y1="354.80" x2="208.30" y2="357.00" stroke="#444" stroke-width="0.7"/>
<text x="208.30" y="362.50" font-size="5.0" fill="#333" stroke="#333" stroke-width="0.06" text-anchor="middle" textLength="10.79" lengthAdjust="spacingAndGlyphs">2022</text>
<line x1="244.24" y1="354.80" x2="244.24" y2="357.00" stroke="#444" stroke-width="0.7"/>
<text x="244.24" y="362.50" font-size="5.0" fill="#333" stroke="#333" stroke-width="0.06" text-anchor="middle" textLength="10.79" lengthAdjust="spacingAndGlyphs">2024</text>
<text x="146.40" y="252.20" font-size="6.1" fill="#333" stroke="#333" stroke-width="0.14" text-anchor="middle" textLength="73.27" lengthAdjust="spacingAndGlyphs">Gwangju Prophet Forecast</text>
<rect x="231.00" y="257.00" width="41" height="16.3" rx="1" fill="#fff" fill-opacity="0.8" stroke="#ddd" stroke-width="0.5"/>
<line x1="232.50" y1="261.20" x2="243.50" y2="261.20" stroke="#1f77b4" stroke-width="1.15"/>
<line x1="232.50" y1="268.30" x2="243.50" y2="268.30" stroke="#ff0000" stroke-width="1.15"/>
<text x="248.00" y="263.00" font-size="5.4" fill="#333" stroke="#333" stroke-width="0.08" textLength="21.3" lengthAdjust="spacingAndGlyphs">Observed</text>
<text x="248.00" y="270.10" font-size="5.4" fill="#333" stroke="#333" stroke-width="0.08" textLength="19.4" lengthAdjust="spacingAndGlyphs">Forecast</text>
<g clip-path="url(#cp5)">
<g filter="url(#bl)"><polygon fill="#fde5ea" points="299.8,303.7 301.3,303.7 301.3,304.6 302.8,304.6 302.8,303.9 304.3,303.9 304.3,302.3 305.8,302.3 305.8,303.9 307.3,303.9 307.3,307.4 308.8,307.4 308.8,309.0 310.3,309.0 310.3,308.9 311.8,308.9 311.8,309.3 313.3,309.3 313.3,308.0 314.8,308.0 314.8,307.8 316.3,307.8 316.3,307.5 317.8,307.5 317.8,308.1 319.3,308.1 319.3,308.4 320.8,308.4 320.8,309.8 322.3,309.8 322.3,308.9 323.8,308.9 323.8,307.8 325.3,307.8 325.3,311.1 326.8,311.1 326.8,311.7 328.3,311.7 328.3,312.7 329.8,312.7 329.8,313.2 331.3,313.2 331.3,311.4 332.7,311.4 332.7,311.9 334.2,311.9 334.2,312.6 335.7,312.6 335.7,312.3 337.2,312.3 337.2,312.2 338.7,312.2 338.7,311.2 340.2,311.2 340.2,312.1 341.7,312.1 341.7,312.1 343.2,312.1 343.2,314.2 344.7,314.2 344.7,313.5 346.2,313.5 346.2,313.6 347.7,313.6 347.7,313.9 349.2,313.9 349.2,314.0 350.7,314.0 350.7,313.2 352.2,313.2 352.2,313.6 353.7,313.6 353.7,313.0 355.2,313.0 355.2,314.2 356.7,314.2 356.7,316.0 358.2,316.0 358.2,317.4 359.7,317.4 359.7,317.6 361.2,317.6 361.2,317.0 362.7,317.0 362.7,318.7 364.2,318.7 364.2,317.4 365.7,317.4 365.7,317.3 367.2,317.3 367.2,318.6 368.7,318.6 368.7,318.2 370.2,318.2 370.2,316.4 371.7,316.4 371.7,316.4 373.2,316.4 373.2,317.3 374.7,317.3 374.7,316.8 376.2,316.8 376.2,315.4 377.7,315.4 377.7,314.7 379.2,314.7 379.2,316.0 380.7,316.0 380.7,319.7 382.2,319.7 382.2,320.2 383.7,320.2 383.7,320.8 385.2,320.8 385.2,320.9 386.7,320.9 386.7,321.2 388.2,321.2 388.2,320.5 389.7,320.5 389.7,317.2 391.2,317.2 391.2,318.4 392.6,318.4 392.6,318.0 394.1,318.0 394.1,316.1 395.6,316.1 395.6,319.7 397.1,319.7 397.1,319.9 398.6,319.9 398.6,320.5 400.1,320.5 400.1,319.8 401.6,319.8 401.6,320.5 403.1,320.5 403.1,319.8 404.6,319.8 404.6,320.6 406.1,320.6 406.1,319.7 407.6,319.7 407.6,318.5 409.1,318.5 409.1,319.6 410.6,319.6 410.6,319.2 412.1,319.2 412.1,319.0 413.6,319.0 413.6,318.0 415.1,318.0 415.1,318.3 416.6,318.3 416.6,319.2 418.1,319.2 418.1,319.3 419.6,319.3 419.6,319.3 421.1,319.3 421.1,320.5 422.6,320.5 422.6,321.1 424.1,321.1 424.1,321.4 425.6,321.4 425.6,320.7 427.1,320.7 427.1,322.1 428.6,322.1 428.6,323.3 430.1,323.3 430.1,321.8 431.6,321.8 431.6,321.6 433.1,321.6 433.1,321.5 434.6,321.5 434.6,321.7 436.1,321.7 436.1,320.0 437.6,320.0 437.6,321.1 439.1,321.1 439.1,322.4 440.6,322.4 440.6,323.9 442.1,323.9 442.1,322.1 443.6,322.1 443.6,321.7 445.1,321.7 445.1,319.8 446.6,319.8 446.6,318.8 448.1,318.8 448.1,321.2 449.6,321.2 449.6,327.1 451.1,327.1 451.1,327.2 452.5,327.2 452.5,326.1 454.0,326.1 454.0,327.2 455.5,327.2 455.5,326.7 457.0,326.7 457.0,326.4 458.5,326.4 458.5,326.6 460.0,326.6 460.0,327.3 461.5,327.3 461.5,321.2 463.0,321.2 463.0,323.1 464.5,323.1 464.5,327.8 466.0,327.8 466.0,328.0 467.5,328.0 467.5,327.9 469.0,327.9 469.0,328.0 470.5,328.0 470.5,327.6 472.0,327.6 472.0,327.8 473.5,327.8 473.5,328.0 475.0,328.0 475.0,327.0 476.5,327.0 476.5,327.2 478.0,327.2 478.0,327.8 479.5,327.8 479.5,326.3 481.0,326.3 481.0,323.4 482.5,323.4 482.5,324.5 484.0,324.5 484.0,324.5 485.5,324.5 485.5,327.3 487.0,327.3 487.0,328.2 488.5,328.2 488.5,327.6 490.0,327.6 490.0,328.0 491.5,328.0 491.5,328.9 493.0,328.9 493.0,328.6 494.5,328.6 494.5,328.1 496.0,328.1 496.0,327.0 497.5,327.0 497.5,327.5 499.0,327.5 499.0,328.9 500.5,328.9 500.5,326.9 502.0,326.9 502.0,326.6 503.5,326.6 503.5,328.0 505.0,328.0 505.0,327.3 506.5,327.3 506.5,328.0 508.0,328.0 508.0,328.7 509.5,328.7 509.5,329.8 511.0,329.8 511.0,329.2 512.4,329.2 512.4,331.2 513.9,331.2 513.9,329.6 515.4,329.6 515.4,327.7 516.9,327.7 516.9,328.9 518.4,328.9 518.4,330.1 519.9,330.1 519.9,326.9 521.4,326.9 521.4,325.5 522.9,325.5 522.9,330.2 524.4,330.2 524.4,332.1 525.9,332.1 525.9,333.1 527.4,333.1 527.4,332.9 528.9,332.9 528.9,332.8 530.4,332.8 530.4,332.3 531.9,332.3 531.9,332.4 533.1,332.4 533.4,333.1 533.1,333.1 533.1,351.1 533.4,351.1 533.1,351.1 531.9,351.1 531.9,349.8 530.4,349.8 530.4,350.4 528.9,350.4 528.9,350.8 527.4,350.8 527.4,351.1 525.9,351.1 525.9,349.4 524.4,349.4 524.4,348.5 522.9,348.5 522.9,343.6 521.4,343.6 521.4,344.0 519.9,344.0 519.9,346.2 518.4,346.2 518.4,346.5 516.9,346.5 516.9,345.2 515.4,345.2 515.4,347.1 513.9,347.1 513.9,347.5 512.4,347.5 512.4,347.3 511.0,347.3 511.0,346.3 509.5,346.3 509.5,347.5 508.0,347.5 508.0,346.9 506.5,346.9 506.5,345.6 505.0,345.6 505.0,344.5 503.5,344.5 503.5,344.0 502.0,344.0 502.0,344.6 500.5,344.6 500.5,344.8 499.0,344.8 499.0,345.2 497.5,345.2 497.5,344.9 496.0,344.9 496.0,345.9 494.5,345.9 494.5,345.3 493.0,345.3 493.0,346.4 491.5,346.4 491.5,345.7 490.0,345.7 490.0,345.7 488.5,345.7 488.5,345.7 487.0,345.7 487.0,344.4 485.5,344.4 485.5,341.0 484.0,341.0 484.0,342.0 482.5,342.0 482.5,340.6 481.0,340.6 481.0,342.4 479.5,342.4 479.5,343.7 478.0,343.7 478.0,343.7 476.5,343.7 476.5,344.1 475.0,344.1 475.0,344.5 473.5,344.5 473.5,344.0 472.0,344.0 472.0,343.6 470.5,343.6 470.5,344.1 469.0,344.1 469.0,344.3 467.5,344.3 467.5,344.6 466.0,344.6 466.0,344.1 464.5,344.1 464.5,340.5 463.0,340.5 463.0,338.8 461.5,338.8 461.5,343.7 460.0,343.7 460.0,344.3 458.5,344.3 458.5,343.1 457.0,343.1 457.0,344.1 455.5,344.1 455.5,342.7 454.0,342.7 454.0,342.3 452.5,342.3 452.5,342.1 451.1,342.1 451.1,343.6 449.6,343.6 449.6,338.0 448.1,338.0 448.1,335.4 446.6,335.4 446.6,336.8 445.1,336.8 445.1,336.9 443.6,336.9 443.6,338.2 442.1,338.2 442.1,339.3 440.6,339.3 440.6,338.9 439.1,338.9 439.1,337.6 437.6,337.6 437.6,336.1 436.1,336.1 436.1,338.0 434.6,338.0 434.6,337.9 433.1,337.9 433.1,338.4 431.6,338.4 431.6,339.6 430.1,339.6 430.1,338.6 428.6,338.6 428.6,338.2 427.1,338.2 427.1,337.7 425.6,337.7 425.6,337.4 424.1,337.4 424.1,337.0 422.6,337.0 422.6,336.2 421.1,336.2 421.1,335.7 419.6,335.7 419.6,335.0 418.1,335.0 418.1,334.0 416.6,334.0 416.6,334.2 415.1,334.2 415.1,333.5 413.6,333.5 413.6,335.2 412.1,335.2 412.1,334.1 410.6,334.1 410.6,334.1 409.1,334.1 409.1,334.8 407.6,334.8 407.6,335.5 406.1,335.5 406.1,336.4 404.6,336.4 404.6,336.1 403.1,336.1 403.1,335.7 401.6,335.7 401.6,336.5 400.1,336.5 400.1,336.7 398.6,336.7 398.6,336.7 397.1,336.7 397.1,335.9 395.6,335.9 395.6,331.6 394.1,331.6 394.1,333.4 392.6,333.4 392.6,334.3 391.2,334.3 391.2,332.8 389.7,332.8 389.7,335.0 388.2,335.0 388.2,335.3 386.7,335.3 386.7,335.8 385.2,335.8 385.2,335.5 383.7,335.5 383.7,336.3 382.2,336.3 382.2,334.2 380.7,334.2 380.7,331.8 379.2,331.8 379.2,329.1 377.7,329.1 377.7,331.7 376.2,331.7 376.2,332.8 374.7,332.8 374.7,333.4 373.2,333.4 373.2,331.0 371.7,331.0 371.7,332.1 370.2,332.1 370.2,334.1 368.7,334.1 368.7,333.6 367.2,333.6 367.2,332.5 365.7,332.5 365.7,333.7 364.2,333.7 364.2,333.8 362.7,333.8 362.7,333.5 361.2,333.5 361.2,332.2 359.7,332.2 359.7,331.4 358.2,331.4 358.2,331.1 356.7,331.1 356.7,328.0 355.2,328.0 355.2,327.7 353.7,327.7 353.7,329.7 352.2,329.7 352.2,328.8 350.7,328.8 350.7,329.8 349.2,329.8 349.2,328.9 347.7,328.9 347.7,328.5 346.2,328.5 346.2,328.5 344.7,328.5 344.7,328.1 343.2,328.1 343.2,326.7 341.7,326.7 341.7,326.1 340.2,326.1 340.2,326.6 338.7,326.6 338.7,326.5 337.2,326.5 337.2,326.2 335.7,326.2 335.7,326.0 334.2,326.0 334.2,327.4 332.7,327.4 332.7,327.0 331.3,327.0 331.3,327.4 329.8,327.4 329.8,326.8 328.3,326.8 328.3,326.0 326.8,326.0 326.8,326.1 325.3,326.1 325.3,322.5 323.8,322.5 323.8,324.5 322.3,324.5 322.3,323.8 320.8,323.8 320.8,323.6 319.3,323.6 319.3,322.1 317.8,322.1 317.8,322.5 316.3,322.5 316.3,321.8 314.8,321.8 314.8,322.5 313.3,322.5 313.3,322.7 311.8,322.7 311.8,322.1 310.3,322.1 310.3,322.9 308.8,322.9 308.8,322.4 307.3,322.4 307.3,318.1 305.8,318.1 305.8,316.9 304.3,316.9 304.3,318.7 302.8,318.7 302.8,319.2 301.3,319.2 301.3,318.5 299.8,318.5"/>
<rect x="299.8" y="300.8" width="4.5" height="20.0" fill="#fff" fill-opacity="0.28"/>
<rect x="320.8" y="306.4" width="3.0" height="20.4" fill="#fff" fill-opacity="0.23"/>
<rect x="334.2" y="309.0" width="1.5" height="20.6" fill="#fff" fill-opacity="0.25"/>
<rect x="337.2" y="308.6" width="4.5" height="20.7" fill="#fff" fill-opacity="0.17"/>
<rect x="340.2" y="309.2" width="1.5" height="20.7" fill="#fff" fill-opacity="0.20"/>
<rect x="344.7" y="311.0" width="3.0" height="20.8" fill="#fff" fill-opacity="0.22"/>
<rect x="350.7" y="311.1" width="1.5" height="20.9" fill="#fff" fill-opacity="0.26"/>
<rect x="356.7" y="312.8" width="3.0" height="21.0" fill="#fff" fill-opacity="0.25"/>
<rect x="371.7" y="312.8" width="1.5" height="21.2" fill="#fff" fill-opacity="0.17"/>
<rect x="379.2" y="312.6" width="4.5" height="21.4" fill="#fff" fill-opacity="0.19"/>
<rect x="382.2" y="317.2" width="1.5" height="21.4" fill="#fff" fill-opacity="0.27"/>
<rect x="400.1" y="317.7" width="1.5" height="21.7" fill="#fff" fill-opacity="0.24"/>
<rect x="416.6" y="315.6" width="4.5" height="22.0" fill="#fff" fill-opacity="0.34"/>
<rect x="419.6" y="316.8" width="3.0" height="22.1" fill="#fff" fill-opacity="0.30"/>
<rect x="422.6" y="317.5" width="3.0" height="22.1" fill="#fff" fill-opacity="0.16"/>
<rect x="431.6" y="319.1" width="3.0" height="22.3" fill="#fff" fill-opacity="0.24"/>
<rect x="449.6" y="323.9" width="1.5" height="22.6" fill="#fff" fill-opacity="0.12"/>
<rect x="461.5" y="319.0" width="3.0" height="22.8" fill="#fff" fill-opacity="0.15"/>
<rect x="466.0" y="324.2" width="4.5" height="22.9" fill="#fff" fill-opacity="0.22"/>
<rect x="467.5" y="324.2" width="3.0" height="22.9" fill="#fff" fill-opacity="0.29"/>
<rect x="475.0" y="324.1" width="1.5" height="23.0" fill="#fff" fill-opacity="0.27"/>
<rect x="479.5" y="322.7" width="3.0" height="23.1" fill="#fff" fill-opacity="0.33"/>
<rect x="482.5" y="321.2" width="1.5" height="23.1" fill="#fff" fill-opacity="0.19"/>
<rect x="491.5" y="325.4" width="4.5" height="23.3" fill="#fff" fill-opacity="0.29"/>
<rect x="494.5" y="325.2" width="4.5" height="23.4" fill="#fff" fill-opacity="0.13"/>
<rect x="499.0" y="325.0" width="4.5" height="23.4" fill="#fff" fill-opacity="0.22"/>
<rect x="502.0" y="324.1" width="1.5" height="23.5" fill="#fff" fill-opacity="0.34"/>
<rect x="506.5" y="325.5" width="1.5" height="23.6" fill="#fff" fill-opacity="0.29"/>
<rect x="519.9" y="323.7" width="1.5" height="23.8" fill="#fff" fill-opacity="0.32"/>
<rect x="522.9" y="327.9" width="4.5" height="23.8" fill="#fff" fill-opacity="0.27"/>
<rect x="528.9" y="329.3" width="4.5" height="23.9" fill="#fff" fill-opacity="0.18"/>
<rect x="530.4" y="329.5" width="4.5" height="24.0" fill="#fff" fill-opacity="0.22"/>
</g>
<polyline fill="none" stroke="#1f77b4" stroke-width="1.15" stroke-linejoin="round" points="299.8,313.1 300.9,304.6 302.1,299.0 303.2,294.7 304.0,296.1 305.2,286.3 306.0,259.5 307.1,291.9 308.3,311.6 310.2,313.1 311.6,311.6 314.5,313.1 315.9,314.5 317.3,321.5 318.7,318.7 320.1,321.5 321.5,322.9 324.3,324.3 327.1,328.6 330.0,330.8 332.8,331.4 334.8,328.6 335.6,313.1 337.0,311.6 338.4,317.3 339.8,315.9 341.2,320.1 342.6,325.7 345.5,320.1 348.3,321.5 351.1,321.5 353.4,315.9 354.5,311.6 355.3,328.6 356.7,321.5 359.6,322.9 362.4,324.3 365.2,325.7 368.0,327.1 370.8,327.1 373.6,328.6 376.5,327.1 379.3,330.0 382.1,327.1 384.9,328.6 387.7,328.6 390.6,330.0 393.4,328.6 396.2,327.1 399.0,330.0 401.8,330.0 403.5,330.0 406.3,328.6 407.7,308.8 409.1,318.7 410.5,321.5 413.3,324.3 416.1,327.1 420.4,328.6 424.6,328.6 427.4,332.8 430.2,328.6 433.0,327.1 437.3,328.6 440.1,327.1 442.9,330.0 444.3,335.6 445.7,328.6 447.1,327.1 448.6,330.0 450.0,328.6 452.8,331.4 455.6,334.2 459.8,335.6 462.1,328.6 464.1,332.8 466.9,335.6 471.1,337.0 475.3,339.8 479.6,339.8 483.8,339.8 488.0,341.2 492.2,342.1 495.1,341.2 497.0,337.0 498.7,330.0 500.7,332.8 503.5,334.2 507.7,332.8 512.0,331.4 514.8,328.6"/>
<polyline fill="none" stroke="#ff0000" stroke-width="1.15" stroke-linejoin="round" points="299.8,310.2 301.8,311.6 304.6,310.2 306.0,308.3 307.4,314.5 310.2,315.9 314.5,315.9 317.3,314.5 320.1,315.9 322.9,317.3 324.3,313.1 325.7,318.7 330.0,319.5 334.2,319.5 337.0,318.7 341.2,319.5 345.5,321.5 349.7,321.5 353.9,321.5 355.3,319.5 356.7,322.9 361.0,325.2 365.2,325.7 369.4,325.7 372.2,322.9 374.2,325.7 377.9,322.9 379.3,320.1 380.7,327.1 384.9,328.6 389.1,328.0 390.6,324.3 392.0,328.0 394.8,322.9 396.8,328.6 401.8,328.6 406.3,328.6 407.7,325.7 410.5,327.1 414.7,325.7 419.0,327.1 421.8,328.6 426.0,328.6 428.8,331.4 433.0,330.0 437.3,328.6 441.5,331.4 445.7,328.6 448.6,327.1 450.0,335.6 452.8,334.2 457.0,335.6 461.2,335.6 462.6,328.6 464.9,335.6 468.3,335.6 472.5,335.6 476.7,335.6 479.6,335.6 481.0,332.8 485.2,332.8 486.6,337.0 490.8,337.0 495.1,337.0 497.9,335.6 499.3,337.0 502.1,335.6 506.3,337.0 510.6,338.4 514.8,339.8 516.2,335.6 519.0,338.4 521.8,333.6 524.1,341.2 527.5,341.2 530.3,341.2 533.1,342.1"/>
</g>
<rect x="289.00" y="254.80" width="256.20" height="100.00" fill="none" stroke="#444" stroke-width="0.9"/>
<line x1="286.80" y1="339.00" x2="289.00" y2="339.00" stroke="#444" stroke-width="0.7"/>
<text x="285.20" y="340.75" font-size="5.0" fill="#333" stroke="#333" stroke-width="0.06" text-anchor="end" textLength="2.70" lengthAdjust="spacingAndGlyphs">2</text>
<line x1="286.80" y1="318.77" x2="289.00" y2="318.77" stroke="#444" stroke-width="0.7"/>
<text x="285.20" y="320.52" font-size="5.0" fill="#333" stroke="#333" stroke-width="0.06" text-anchor="end" textLength="2.70" lengthAdjust="spacingAndGlyphs">4</text>
<line x1="286.80" y1="298.55" x2="289.00" y2="298.55" stroke="#444" stroke-width="0.7"/>
<text x="285.20" y="300.30" font-size="5.0" fill="#333" stroke="#333" stroke-width="0.06" text-anchor="end" textLength="2.70" lengthAdjust="spacingAndGlyphs">6</text>
<line x1="286.80" y1="278.33" x2="289.00" y2="278.33" stroke="#444" stroke-width="0.7"/>
<text x="285.20" y="280.08" font-size="5.0" fill="#333" stroke="#333" stroke-width="0.06" text-anchor="end" textLength="2.70" lengthAdjust="spacingAndGlyphs">8</text>
<line x1="286.80" y1="258.10" x2="289.00" y2="258.10" stroke="#444" stroke-width="0.7"/>
<text x="285.20" y="259.85" font-size="5.0" fill="#333" stroke="#333" stroke-width="0.06" text-anchor="end" textLength="5.39" lengthAdjust="spacingAndGlyphs">10</text>
<line x1="299.30" y1="354.80" x2="299.30" y2="357.00" stroke="#444" stroke-width="0.7"/>
<text x="299.30" y="362.50" font-size="5.0" fill="#333" stroke="#333" stroke-width="0.06" text-anchor="middle" textLength="10.79" lengthAdjust="spacingAndGlyphs">2012</text>
<line x1="335.24" y1="354.80" x2="335.24" y2="357.00" stroke="#444" stroke-width="0.7"/>
<text x="335.24" y="362.50" font-size="5.0" fill="#333" stroke="#333" stroke-width="0.06" text-anchor="middle" textLength="10.79" lengthAdjust="spacingAndGlyphs">2014</text>
<line x1="371.18" y1="354.80" x2="371.18" y2="357.00" stroke="#444" stroke-width="0.7"/>
<text x="371.18" y="362.50" font-size="5.0" fill="#333" stroke="#333" stroke-width="0.06" text-anchor="middle" textLength="10.79" lengthAdjust="spacingAndGlyphs">2016</text>
<line x1="407.12" y1="354.80" x2="407.12" y2="357.00" stroke="#444" stroke-width="0.7"/>
<text x="407.12" y="362.50" font-size="5.0" fill="#333" stroke="#333" stroke-width="0.06" text-anchor="middle" textLength="10.79" lengthAdjust="spacingAndGlyphs">2018</text>
<line x1="443.06" y1="354.80" x2="443.06" y2="357.00" stroke="#444" stroke-width="0.7"/>
<text x="443.06" y="362.50" font-size="5.0" fill="#333" stroke="#333" stroke-width="0.06" text-anchor="middle" textLength="10.79" lengthAdjust="spacingAndGlyphs">2020</text>
<line x1="479.00" y1="354.80" x2="479.00" y2="357.00" stroke="#444" stroke-width="0.7"/>
<text x="479.00" y="362.50" font-size="5.0" fill="#333" stroke="#333" stroke-width="0.06" text-anchor="middle" textLength="10.79" lengthAdjust="spacingAndGlyphs">2022</text>
<line x1="514.94" y1="354.80" x2="514.94" y2="357.00" stroke="#444" stroke-width="0.7"/>
<text x="514.94" y="362.50" font-size="5.0" fill="#333" stroke="#333" stroke-width="0.06" text-anchor="middle" textLength="10.79" lengthAdjust="spacingAndGlyphs">2024</text>
<text x="417.10" y="252.20" font-size="6.1" fill="#333" stroke="#333" stroke-width="0.14" text-anchor="middle" textLength="67.11" lengthAdjust="spacingAndGlyphs">Daegu Prophet Forecast</text>
<rect x="501.70" y="257.00" width="41" height="16.3" rx="1" fill="#fff" fill-opacity="0.8" stroke="#ddd" stroke-width="0.5"/>
<line x1="503.20" y1="261.20" x2="514.20" y2="261.20" stroke="#1f77b4" stroke-width="1.15"/>
<line x1="503.20" y1="268.30" x2="514.20" y2="268.30" stroke="#ff0000" stroke-width="1.15"/>
<text x="518.70" y="263.00" font-size="5.4" fill="#333" stroke="#333" stroke-width="0.08" textLength="21.3" lengthAdjust="spacingAndGlyphs">Observed</text>
<text x="518.70" y="270.10" font-size="5.4" fill="#333" stroke="#333" stroke-width="0.08" textLength="19.4" lengthAdjust="spacingAndGlyphs">Forecast</text>
<g clip-path="url(#cp6)">
<g filter="url(#bl)"><polygon fill="#fde5ea" points="29.3,417.1 30.8,417.1 30.8,416.9 32.3,416.9 32.3,417.7 33.8,417.7 33.8,417.4 35.3,417.4 35.3,417.2 36.8,417.2 36.8,418.0 38.3,418.0 38.3,420.8 39.8,420.8 39.8,420.2 41.3,420.2 41.3,421.4 42.8,421.4 42.8,421.3 44.3,421.3 44.3,420.8 45.8,420.8 45.8,420.4 47.3,420.4 47.3,419.6 48.8,419.6 48.8,420.1 50.3,420.1 50.3,418.8 51.8,418.8 51.8,418.8 53.3,418.8 53.3,421.1 54.8,421.1 54.8,422.5 56.3,422.5 56.3,423.2 57.8,423.2 57.8,422.4 59.3,422.4 59.3,423.0 60.8,423.0 60.8,422.7 62.3,422.7 62.3,422.6 63.8,422.6 63.8,421.6 65.3,421.6 65.3,420.4 66.8,420.4 66.8,418.7 68.3,418.7 68.3,419.5 69.8,419.5 69.8,419.9 71.3,419.9 71.3,421.6 72.8,421.6 72.8,421.6 74.3,421.6 74.3,423.5 75.8,423.5 75.8,423.6 77.3,423.6 77.3,423.7 78.8,423.7 78.8,423.3 80.3,423.3 80.3,424.1 81.8,424.1 81.8,422.6 83.3,422.6 83.3,421.4 84.8,421.4 84.8,420.9 86.2,420.9 86.2,420.7 87.7,420.7 87.7,422.0 89.2,422.0 89.2,423.1 90.7,423.1 90.7,424.5 92.2,424.5 92.2,425.1 93.7,425.1 93.7,424.1 95.2,424.1 95.2,423.9 96.7,423.9 96.7,425.4 98.2,425.4 98.2,423.9 99.7,423.9 99.7,423.5 101.2,423.5 101.2,420.8 102.7,420.8 102.7,420.8 104.2,420.8 104.2,421.2 105.7,421.2 105.7,422.5 107.2,422.5 107.2,422.2 108.7,422.2 108.7,425.3 110.2,425.3 110.2,425.4 111.7,425.4 111.7,426.5 113.2,426.5 113.2,425.4 114.7,425.4 114.7,425.8 116.2,425.8 116.2,425.8 117.7,425.8 117.7,424.5 119.2,424.5 119.2,422.7 120.7,422.7 120.7,422.0 122.2,422.0 122.2,423.1 123.7,423.1 123.7,423.0 125.2,423.0 125.2,423.9 126.7,423.9 126.7,425.5 128.2,425.5 128.2,426.0 129.7,426.0 129.7,427.0 131.2,427.0 131.2,426.9 132.7,426.9 132.7,426.9 134.2,426.9 134.2,427.0 135.7,427.0 135.7,427.4 137.2,427.4 137.2,425.9 138.7,425.9 138.7,425.3 140.2,425.3 140.2,424.7 141.7,424.7 141.7,425.6 143.2,425.6 143.2,425.3 144.7,425.3 144.7,427.1 146.1,427.1 146.1,428.1 147.6,428.1 147.6,427.2 149.1,427.2 149.1,427.4 150.6,427.4 150.6,427.5 152.1,427.5 152.1,425.8 153.6,425.8 153.6,425.6 155.1,425.6 155.1,424.8 156.6,424.8 156.6,425.8 158.1,425.8 158.1,425.0 159.6,425.0 159.6,425.5 161.1,425.5 161.1,425.4 162.6,425.4 162.6,428.2 164.1,428.2 164.1,428.1 165.6,428.1 165.6,430.8 167.1,430.8 167.1,429.5 168.6,429.5 168.6,429.1 170.1,429.1 170.1,429.0 171.6,429.0 171.6,427.5 173.1,427.5 173.1,426.5 174.6,426.5 174.6,427.0 176.1,427.0 176.1,427.7 177.6,427.7 177.6,428.1 179.1,428.1 179.1,428.3 180.6,428.3 180.6,428.9 182.1,428.9 182.1,430.4 183.6,430.4 183.6,431.8 185.1,431.8 185.1,430.1 186.6,430.1 186.6,430.3 188.1,430.3 188.1,431.4 189.6,431.4 189.6,429.3 191.1,429.3 191.1,429.1 192.6,429.1 192.6,428.1 194.1,428.1 194.1,427.9 195.6,427.9 195.6,429.7 197.1,429.7 197.1,428.6 198.6,428.6 198.6,431.0 200.1,431.0 200.1,432.1 201.6,432.1 201.6,432.1 203.1,432.1 203.1,432.5 204.6,432.5 204.6,431.3 206.0,431.3 206.0,432.0 207.5,432.0 207.5,430.2 209.0,430.2 209.0,429.0 210.5,429.0 210.5,429.6 212.0,429.6 212.0,429.6 213.5,429.6 213.5,429.3 215.0,429.3 215.0,431.2 216.5,431.2 216.5,431.8 218.0,431.8 218.0,432.4 219.5,432.4 219.5,433.1 221.0,433.1 221.0,433.3 222.5,433.3 222.5,433.0 224.0,433.0 224.0,433.0 225.5,433.0 225.5,431.4 227.0,431.4 227.0,430.6 228.5,430.6 228.5,429.9 230.0,429.9 230.0,429.6 231.5,429.6 231.5,430.5 233.0,430.5 233.0,431.0 234.5,431.0 234.5,432.9 236.0,432.9 236.0,434.7 237.5,434.7 237.5,433.8 239.0,433.8 239.0,435.0 240.5,435.0 240.5,434.0 242.0,434.0 242.0,433.4 243.5,433.4 243.5,433.1 245.0,433.1 245.0,432.5 246.5,432.5 246.5,430.9 248.0,430.9 248.0,432.4 249.5,432.4 249.5,432.4 251.0,432.4 251.0,433.0 252.5,433.0 252.5,434.8 254.0,434.8 254.0,435.7 255.5,435.7 255.5,436.7 257.0,436.7 257.0,436.7 258.5,436.7 258.5,436.2 260.0,436.2 260.0,436.4 261.5,436.4 261.5,437.1 263.0,437.1 263.0,435.9 263.2,435.9 264.5,435.8 263.2,435.8 263.2,468.9 264.5,468.9 263.2,468.7 263.0,468.7 263.0,468.8 261.5,468.8 261.5,467.8 260.0,467.8 260.0,468.3 258.5,468.3 258.5,468.6 257.0,468.6 257.0,467.6 255.5,467.6 255.5,466.4 254.0,466.4 254.0,466.0 252.5,466.0 252.5,464.7 251.0,464.7 251.0,464.3 249.5,464.3 249.5,464.0 248.0,464.0 248.0,464.1 246.5,464.1 246.5,464.0 245.0,464.0 245.0,464.0 243.5,464.0 243.5,464.6 242.0,464.6 242.0,466.5 240.5,466.5 240.5,465.5 239.0,465.5 239.0,466.3 237.5,466.3 237.5,465.5 236.0,465.5 236.0,464.4 234.5,464.4 234.5,461.8 233.0,461.8 233.0,460.3 231.5,460.3 231.5,460.5 230.0,460.5 230.0,461.6 228.5,461.6 228.5,461.6 227.0,461.6 227.0,463.0 225.5,463.0 225.5,463.1 224.0,463.1 224.0,464.2 222.5,464.2 222.5,464.1 221.0,464.1 221.0,464.0 219.5,464.0 219.5,463.9 218.0,463.9 218.0,463.0 216.5,463.0 216.5,462.1 215.0,462.1 215.0,459.7 213.5,459.7 213.5,460.7 212.0,460.7 212.0,459.8 210.5,459.8 210.5,461.1 209.0,461.1 209.0,460.9 207.5,460.9 207.5,462.4 206.0,462.4 206.0,462.8 204.6,462.8 204.6,462.3 203.1,462.3 203.1,463.4 201.6,463.4 201.6,462.1 200.1,462.1 200.1,461.5 198.6,461.5 198.6,460.8 197.1,460.8 197.1,458.7 195.6,458.7 195.6,458.4 194.1,458.4 194.1,457.7 192.6,457.7 192.6,458.9 191.1,458.9 191.1,459.4 189.6,459.4 189.6,460.3 188.1,460.3 188.1,461.5 186.6,461.5 186.6,461.5 185.1,461.5 185.1,462.0 183.6,462.0 183.6,460.4 182.1,460.4 182.1,459.3 180.6,459.3 180.6,457.6 179.1,457.6 179.1,458.0 177.6,458.0 177.6,456.8 176.1,456.8 176.1,457.0 174.6,457.0 174.6,456.9 173.1,456.9 173.1,458.3 171.6,458.3 171.6,459.0 170.1,459.0 170.1,459.2 168.6,459.2 168.6,460.3 167.1,460.3 167.1,460.0 165.6,460.0 165.6,458.1 164.1,458.1 164.1,457.7 162.6,457.7 162.6,454.9 161.1,454.9 161.1,454.1 159.6,454.1 159.6,455.4 158.1,455.4 158.1,455.2 156.6,455.2 156.6,454.1 155.1,454.1 155.1,454.8 153.6,454.8 153.6,455.4 152.1,455.4 152.1,456.1 150.6,456.1 150.6,456.5 149.1,456.5 149.1,456.9 147.6,456.9 147.6,457.6 146.1,457.6 146.1,456.4 144.7,456.4 144.7,455.8 143.2,455.8 143.2,454.7 141.7,454.7 141.7,452.9 140.2,452.9 140.2,454.2 138.7,454.2 138.7,455.3 137.2,455.3 137.2,455.0 135.7,455.0 135.7,455.8 134.2,455.8 134.2,456.6 132.7,456.6 132.7,455.2 131.2,455.2 131.2,455.0 129.7,455.0 129.7,454.6 128.2,454.6 128.2,454.8 126.7,454.8 126.7,452.2 125.2,452.2 125.2,451.7 123.7,451.7 123.7,450.3 122.2,450.3 122.2,450.4 120.7,450.4 120.7,450.5 119.2,450.5 119.2,453.3 117.7,453.3 117.7,453.7 116.2,453.7 116.2,453.7 114.7,453.7 114.7,455.1 113.2,455.1 113.2,454.9 111.7,454.9 111.7,454.6 110.2,454.6 110.2,453.8 108.7,453.8 108.7,450.1 107.2,450.1 107.2,449.8 105.7,449.8 105.7,450.5 104.2,450.5 104.2,450.2 102.7,450.2 102.7,450.2 101.2,450.2 101.2,450.9 99.7,450.9 99.7,453.0 98.2,453.0 98.2,452.9 96.7,452.9 96.7,452.7 95.2,452.7 95.2,452.9 93.7,452.9 93.7,452.8 92.2,452.8 92.2,451.4 90.7,451.4 90.7,450.6 89.2,450.6 89.2,448.9 87.7,448.9 87.7,448.9 86.2,448.9 86.2,448.0 84.8,448.0 84.8,449.3 83.3,449.3 83.3,449.3 81.8,449.3 81.8,450.7 80.3,450.7 80.3,451.2 78.8,451.2 78.8,451.4 77.3,451.4 77.3,450.9 75.8,450.9 75.8,450.2 74.3,450.2 74.3,449.8 72.8,449.8 72.8,448.0 71.3,448.0 71.3,446.5 69.8,446.5 69.8,447.3 68.3,447.3 68.3,445.9 66.8,445.9 66.8,447.8 65.3,447.8 65.3,448.2 63.8,448.2 63.8,449.4 62.3,449.4 62.3,450.7 60.8,450.7 60.8,449.6 59.3,449.6 59.3,450.3 57.8,450.3 57.8,449.5 56.3,449.5 56.3,449.0 54.8,449.0 54.8,448.0 53.3,448.0 53.3,445.5 51.8,445.5 51.8,445.8 50.3,445.8 50.3,446.1 48.8,446.1 48.8,446.9 47.3,446.9 47.3,445.5 45.8,445.5 45.8,447.8 44.3,447.8 44.3,446.7 42.8,446.7 42.8,448.0 41.3,448.0 41.3,448.1 39.8,448.1 39.8,446.4 38.3,446.4 38.3,444.4 36.8,444.4 36.8,442.9 35.3,442.9 35.3,444.4 33.8,444.4 33.8,443.5 32.3,443.5 32.3,445.0 30.8,445.0 30.8,443.2 29.3,443.2"/>
<rect x="41.3" y="417.9" width="3.0" height="32.6" fill="#fff" fill-opacity="0.33"/>
<rect x="47.3" y="416.4" width="3.0" height="32.8" fill="#fff" fill-opacity="0.32"/>
<rect x="56.3" y="419.4" width="4.5" height="33.0" fill="#fff" fill-opacity="0.11"/>
<rect x="59.3" y="419.4" width="3.0" height="33.1" fill="#fff" fill-opacity="0.34"/>
<rect x="66.8" y="416.5" width="4.5" height="33.3" fill="#fff" fill-opacity="0.18"/>
<rect x="68.3" y="416.5" width="1.5" height="33.3" fill="#fff" fill-opacity="0.16"/>
<rect x="83.3" y="418.4" width="3.0" height="33.7" fill="#fff" fill-opacity="0.27"/>
<rect x="92.2" y="421.3" width="3.0" height="33.9" fill="#fff" fill-opacity="0.30"/>
<rect x="99.7" y="420.3" width="1.5" height="34.1" fill="#fff" fill-opacity="0.16"/>
<rect x="102.7" y="418.6" width="3.0" height="34.1" fill="#fff" fill-opacity="0.34"/>
<rect x="111.7" y="422.9" width="3.0" height="34.3" fill="#fff" fill-opacity="0.31"/>
<rect x="120.7" y="419.4" width="3.0" height="34.6" fill="#fff" fill-opacity="0.22"/>
<rect x="122.2" y="419.3" width="4.5" height="34.6" fill="#fff" fill-opacity="0.20"/>
<rect x="135.7" y="423.8" width="4.5" height="34.9" fill="#fff" fill-opacity="0.15"/>
<rect x="138.7" y="422.2" width="3.0" height="35.0" fill="#fff" fill-opacity="0.20"/>
<rect x="141.7" y="422.2" width="1.5" height="35.1" fill="#fff" fill-opacity="0.29"/>
<rect x="150.6" y="423.9" width="4.5" height="35.3" fill="#fff" fill-opacity="0.18"/>
<rect x="152.1" y="423.4" width="1.5" height="35.3" fill="#fff" fill-opacity="0.13"/>
<rect x="156.6" y="422.2" width="1.5" height="35.4" fill="#fff" fill-opacity="0.23"/>
<rect x="164.1" y="426.0" width="4.5" height="35.6" fill="#fff" fill-opacity="0.15"/>
<rect x="171.6" y="425.0" width="3.0" height="35.8" fill="#fff" fill-opacity="0.16"/>
<rect x="177.6" y="424.3" width="3.0" height="35.9" fill="#fff" fill-opacity="0.23"/>
<rect x="179.1" y="425.3" width="4.5" height="36.0" fill="#fff" fill-opacity="0.27"/>
<rect x="180.6" y="426.3" width="4.5" height="36.0" fill="#fff" fill-opacity="0.26"/>
<rect x="191.1" y="425.2" width="1.5" height="36.3" fill="#fff" fill-opacity="0.29"/>
<rect x="203.1" y="429.0" width="3.0" height="36.6" fill="#fff" fill-opacity="0.28"/>
<rect x="227.0" y="428.1" width="3.0" height="37.1" fill="#fff" fill-opacity="0.11"/>
<rect x="233.0" y="427.8" width="3.0" height="37.3" fill="#fff" fill-opacity="0.33"/>
<rect x="236.0" y="431.4" width="3.0" height="37.4" fill="#fff" fill-opacity="0.31"/>
<rect x="246.5" y="428.7" width="3.0" height="37.6" fill="#fff" fill-opacity="0.13"/>
<rect x="257.0" y="433.3" width="1.5" height="37.9" fill="#fff" fill-opacity="0.13"/>
<rect x="263.0" y="433.5" width="3.0" height="38.0" fill="#fff" fill-opacity="0.29"/>
</g>
<polyline fill="none" stroke="#1f77b4" stroke-width="1.15" stroke-linejoin="round" points="30.3,439.0 31.7,436.6 33.4,426.0 35.0,381.6 36.4,418.9 38.1,426.0 40.5,426.5 44.0,428.4 46.8,429.5 48.0,407.1 49.2,422.5 50.6,433.1 52.3,434.3 53.5,435.5 55.3,441.4 57.0,436.6 59.4,437.8 61.7,437.8 63.4,435.5 65.3,446.1 66.5,450.8 67.6,447.3 68.8,449.6 70.0,454.4 72.4,454.8 74.7,454.4 77.1,449.6 79.5,448.5 81.8,447.3 83.0,435.5 84.2,421.3 85.8,430.7 87.7,435.5 90.1,439.0 92.5,440.2 94.8,442.5 97.2,446.1 99.5,448.5 101.9,450.8 103.1,447.3 105.0,446.1 106.6,443.7 109.0,443.7 111.4,444.9 113.7,442.5 116.1,440.2 118.4,433.1 119.6,423.2 121.0,430.7 122.5,431.9 124.4,428.4 126.2,423.6 127.9,427.2 130.3,431.9 133.8,435.0 136.2,436.6 137.4,440.2 138.5,446.1 139.7,441.4 140.9,435.5 142.6,430.7 144.4,435.5 145.6,441.4 148.0,442.5 153.3,446.1 154.9,433.1 156.1,422.5 157.3,433.1 158.7,439.0 160.4,433.1 161.5,436.6 163.4,439.0 165.8,436.6 167.5,433.1 169.3,429.5 171.0,430.3 172.2,421.3 173.4,404.7 174.1,394.8 175.3,418.9 176.9,416.5 178.1,426.0 180.0,434.3 182.8,436.6 185.2,441.4 187.5,443.7 189.9,444.9 191.1,450.8 191.8,456.7 193.0,442.5 194.6,446.1 196.5,452.0 198.9,453.2 201.7,454.8 205.3,456.7 207.6,458.6 208.8,463.8 210.0,471.4 211.2,463.8 212.4,457.9 214.7,456.7 218.3,456.3 220.6,454.8 223.0,450.8 225.4,448.5 227.3,456.7 228.9,447.3 230.6,441.4 232.4,443.7 234.8,446.1 237.2,446.1 240.7,446.1 243.1,446.1"/>
<polyline fill="none" stroke="#ff0000" stroke-width="1.15" stroke-linejoin="round" points="29.3,430.3 32.2,431.2 35.0,431.2 36.4,429.5 38.1,433.1 41.6,434.3 44.0,434.3 45.9,433.1 47.5,432.6 49.9,433.1 52.3,431.9 53.5,433.1 54.6,435.5 57.0,435.9 60.5,435.9 62.9,436.6 64.8,435.5 65.7,433.1 68.8,433.1 71.2,433.6 72.8,435.5 74.7,437.3 78.3,437.8 81.8,437.3 83.0,435.5 85.4,435.0 87.7,435.0 88.9,435.9 90.1,437.8 93.6,438.3 98.4,439.0 100.3,437.8 101.2,435.5 105.4,435.9 108.3,436.6 109.0,439.0 112.5,440.2 116.1,440.2 119.2,437.8 120.1,436.6 124.4,436.6 126.2,438.3 127.2,440.7 131.4,441.4 136.2,441.4 138.5,440.2 140.9,439.0 143.3,440.2 145.6,442.1 148.0,442.5 154.5,440.7 158.0,439.7 161.5,440.2 162.7,442.1 166.3,444.9 171.0,444.9 172.9,442.1 174.5,441.4 178.1,442.1 180.5,443.7 184.0,446.1 188.7,446.1 191.1,443.7 193.5,442.5 195.8,443.7 198.2,444.9 201.7,447.3 206.5,447.3 208.8,445.4 211.2,444.4 214.7,444.9 217.1,447.3 220.6,448.5 224.2,448.5 226.5,447.3 228.9,446.1 232.4,445.4 234.8,447.3 236.0,450.1 239.5,450.1 243.1,449.6 245.4,448.5 246.6,447.3 250.2,448.5 252.5,449.6 254.9,451.5 258.4,452.5 263.2,452.5"/>
</g>
<rect x="18.30" y="376.55" width="256.20" height="100.00" fill="none" stroke="#444" stroke-width="0.9"/>
<line x1="16.10" y1="474.80" x2="18.30" y2="474.80" stroke="#444" stroke-width="0.7"/>
<text x="14.50" y="476.55" font-size="5.0" fill="#333" stroke="#333" stroke-width="0.06" text-anchor="end" textLength="2.70" lengthAdjust="spacingAndGlyphs">0</text>
<line x1="16.10" y1="453.60" x2="18.30" y2="453.60" stroke="#444" stroke-width="0.7"/>
<text x="14.50" y="455.35" font-size="5.0" fill="#333" stroke="#333" stroke-width="0.06" text-anchor="end" textLength="2.70" lengthAdjust="spacingAndGlyphs">2</text>
<line x1="16.10" y1="432.40" x2="18.30" y2="432.40" stroke="#444" stroke-width="0.7"/>
<text x="14.50" y="434.15" font-size="5.0" fill="#333" stroke="#333" stroke-width="0.06" text-anchor="end" textLength="2.70" lengthAdjust="spacingAndGlyphs">4</text>
<line x1="16.10" y1="411.20" x2="18.30" y2="411.20" stroke="#444" stroke-width="0.7"/>
<text x="14.50" y="412.95" font-size="5.0" fill="#333" stroke="#333" stroke-width="0.06" text-anchor="end" textLength="2.70" lengthAdjust="spacingAndGlyphs">6</text>
<line x1="16.10" y1="390.00" x2="18.30" y2="390.00" stroke="#444" stroke-width="0.7"/>
<text x="14.50" y="391.75" font-size="5.0" fill="#333" stroke="#333" stroke-width="0.06" text-anchor="end" textLength="2.70" lengthAdjust="spacingAndGlyphs">8</text>
<line x1="28.60" y1="476.55" x2="28.60" y2="478.75" stroke="#444" stroke-width="0.7"/>
<text x="28.60" y="484.25" font-size="5.0" fill="#333" stroke="#333" stroke-width="0.06" text-anchor="middle" textLength="10.79" lengthAdjust="spacingAndGlyphs">2012</text>
<line x1="64.54" y1="476.55" x2="64.54" y2="478.75" stroke="#444" stroke-width="0.7"/>
<text x="64.54" y="484.25" font-size="5.0" fill="#333" stroke="#333" stroke-width="0.06" text-anchor="middle" textLength="10.79" lengthAdjust="spacingAndGlyphs">2014</text>
<line x1="100.48" y1="476.55" x2="100.48" y2="478.75" stroke="#444" stroke-width="0.7"/>
<text x="100.48" y="484.25" font-size="5.0" fill="#333" stroke="#333" stroke-width="0.06" text-anchor="middle" textLength="10.79" lengthAdjust="spacingAndGlyphs">2016</text>
<line x1="136.42" y1="476.55" x2="136.42" y2="478.75" stroke="#444" stroke-width="0.7"/>
<text x="136.42" y="484.25" font-size="5.0" fill="#333" stroke="#333" stroke-width="0.06" text-anchor="middle" textLength="10.79" lengthAdjust="spacingAndGlyphs">2018</text>
<line x1="172.36" y1="476.55" x2="172.36" y2="478.75" stroke="#444" stroke-width="0.7"/>
<text x="172.36" y="484.25" font-size="5.0" fill="#333" stroke="#333" stroke-width="0.06" text-anchor="middle" textLength="10.79" lengthAdjust="spacingAndGlyphs">2020</text>
<line x1="208.30" y1="476.55" x2="208.30" y2="478.75" stroke="#444" stroke-width="0.7"/>
<text x="208.30" y="484.25" font-size="5.0" fill="#333" stroke="#333" stroke-width="0.06" text-anchor="middle" textLength="10.79" lengthAdjust="spacingAndGlyphs">2022</text>
<line x1="244.24" y1="476.55" x2="244.24" y2="478.75" stroke="#444" stroke-width="0.7"/>
<text x="244.24" y="484.25" font-size="5.0" fill="#333" stroke="#333" stroke-width="0.06" text-anchor="middle" textLength="10.79" lengthAdjust="spacingAndGlyphs">2024</text>
<text x="146.40" y="373.95" font-size="6.1" fill="#333" stroke="#333" stroke-width="0.14" text-anchor="middle" textLength="71.90" lengthAdjust="spacingAndGlyphs">Daejeon Prophet Forecast</text>
<rect x="231.00" y="378.75" width="41" height="16.3" rx="1" fill="#fff" fill-opacity="0.8" stroke="#ddd" stroke-width="0.5"/>
<line x1="232.50" y1="382.95" x2="243.50" y2="382.95" stroke="#1f77b4" stroke-width="1.15"/>
<line x1="232.50" y1="390.05" x2="243.50" y2="390.05" stroke="#ff0000" stroke-width="1.15"/>
<text x="248.00" y="384.75" font-size="5.4" fill="#333" stroke="#333" stroke-width="0.08" textLength="21.3" lengthAdjust="spacingAndGlyphs">Observed</text>
<text x="248.00" y="391.85" font-size="5.4" fill="#333" stroke="#333" stroke-width="0.08" textLength="19.4" lengthAdjust="spacingAndGlyphs">Forecast</text>
<g clip-path="url(#cp7)">
<g filter="url(#bl)"><polygon fill="#fde5ea" points="299.8,402.2 301.3,402.2 301.3,406.0 302.8,406.0 302.8,405.5 304.3,405.5 304.3,403.2 305.8,403.2 305.8,404.5 307.3,404.5 307.3,407.6 308.8,407.6 308.8,409.0 310.3,409.0 310.3,408.6 311.8,408.6 311.8,410.1 313.3,410.1 313.3,409.1 314.8,409.1 314.8,410.6 316.3,410.6 316.3,406.2 317.8,406.2 317.8,403.6 319.3,403.6 319.3,408.3 320.8,408.3 320.8,408.1 322.3,408.1 322.3,405.6 323.8,405.6 323.8,406.5 325.3,406.5 325.3,411.2 326.8,411.2 326.8,410.5 328.3,410.5 328.3,412.5 329.8,412.5 329.8,411.8 331.3,411.8 331.3,412.9 332.7,412.9 332.7,413.6 334.2,413.6 334.2,410.2 335.7,410.2 335.7,406.2 337.2,406.2 337.2,412.2 338.7,412.2 338.7,413.1 340.2,413.1 340.2,412.7 341.7,412.7 341.7,408.9 343.2,408.9 343.2,414.7 344.7,414.7 344.7,415.1 346.2,415.1 346.2,416.6 347.7,416.6 347.7,416.2 349.2,416.2 349.2,416.4 350.7,416.4 350.7,416.0 352.2,416.0 352.2,414.5 353.7,414.5 353.7,408.1 355.2,408.1 355.2,411.9 356.7,411.9 356.7,414.7 358.2,414.7 358.2,416.0 359.7,416.0 359.7,416.3 361.2,416.3 361.2,416.5 362.7,416.5 362.7,416.6 364.2,416.6 364.2,417.4 365.7,417.4 365.7,416.3 367.2,416.3 367.2,416.7 368.7,416.7 368.7,417.1 370.2,417.1 370.2,412.4 371.7,412.4 371.7,412.8 373.2,412.8 373.2,418.7 374.7,418.7 374.7,417.3 376.2,417.3 376.2,414.9 377.7,414.9 377.7,415.5 379.2,415.5 379.2,420.3 380.7,420.3 380.7,420.5 382.2,420.5 382.2,420.3 383.7,420.3 383.7,419.8 385.2,419.8 385.2,420.1 386.7,420.1 386.7,419.7 388.2,419.7 388.2,415.0 389.7,415.0 389.7,415.6 391.2,415.6 391.2,418.9 392.6,418.9 392.6,418.7 394.1,418.7 394.1,417.8 395.6,417.8 395.6,415.1 397.1,415.1 397.1,418.4 398.6,418.4 398.6,421.8 400.1,421.8 400.1,421.7 401.6,421.7 401.6,423.5 403.1,423.5 403.1,424.1 404.6,424.1 404.6,420.8 406.1,420.8 406.1,419.1 407.6,419.1 407.6,422.3 409.1,422.3 409.1,422.8 410.6,422.8 410.6,421.2 412.1,421.2 412.1,418.8 413.6,418.8 413.6,422.3 415.1,422.3 415.1,423.2 416.6,423.2 416.6,424.4 418.1,424.4 418.1,424.1 419.6,424.1 419.6,423.4 421.1,423.4 421.1,424.4 422.6,424.4 422.6,424.1 424.1,424.1 424.1,424.2 425.6,424.2 425.6,417.4 427.1,417.4 427.1,421.5 428.6,421.5 428.6,422.9 430.1,422.9 430.1,421.8 431.6,421.8 431.6,421.3 433.1,421.3 433.1,423.4 434.6,423.4 434.6,424.5 436.1,424.5 436.1,426.9 437.6,426.9 437.6,427.4 439.1,427.4 439.1,427.9 440.6,427.9 440.6,428.9 442.1,428.9 442.1,423.1 443.6,423.1 443.6,423.1 445.1,423.1 445.1,428.2 446.6,428.2 446.6,426.8 448.1,426.8 448.1,425.8 449.6,425.8 449.6,426.0 451.1,426.0 451.1,429.5 452.5,429.5 452.5,429.6 454.0,429.6 454.0,430.4 455.5,430.4 455.5,430.8 457.0,430.8 457.0,431.1 458.5,431.1 458.5,430.9 460.0,430.9 460.0,428.6 461.5,428.6 461.5,423.9 463.0,423.9 463.0,428.7 464.5,428.7 464.5,432.5 466.0,432.5 466.0,432.2 467.5,432.2 467.5,427.3 469.0,427.3 469.0,429.7 470.5,429.7 470.5,432.8 472.0,432.8 472.0,434.0 473.5,434.0 473.5,434.1 475.0,434.1 475.0,434.0 476.5,434.0 476.5,429.8 478.0,429.8 478.0,427.0 479.5,427.0 479.5,430.6 481.0,430.6 481.0,434.2 482.5,434.2 482.5,434.5 484.0,434.5 484.0,432.1 485.5,432.1 485.5,430.5 487.0,430.5 487.0,434.0 488.5,434.0 488.5,435.0 490.0,435.0 490.0,436.3 491.5,436.3 491.5,436.4 493.0,436.4 493.0,436.1 494.5,436.1 494.5,436.6 496.0,436.6 496.0,434.8 497.5,434.8 497.5,429.9 499.0,429.9 499.0,431.3 500.5,431.3 500.5,434.2 502.0,434.2 502.0,434.5 503.5,434.5 503.5,434.5 505.0,434.5 505.0,437.0 506.5,437.0 506.5,438.1 508.0,438.1 508.0,439.6 509.5,439.6 509.5,440.5 511.0,440.5 511.0,440.4 512.4,440.4 512.4,440.2 513.9,440.2 513.9,439.8 515.4,439.8 515.4,435.2 516.9,435.2 516.9,436.4 518.4,436.4 518.4,440.2 519.9,440.2 519.9,437.6 521.4,437.6 521.4,436.1 522.9,436.1 522.9,437.9 524.4,437.9 524.4,440.9 525.9,440.9 525.9,442.2 527.4,442.2 527.4,442.7 528.9,442.7 528.9,442.8 530.4,442.8 530.4,442.6 531.9,442.6 531.9,442.9 533.1,442.9 533.4,443.5 533.1,443.5 533.1,469.7 533.4,469.7 533.1,469.7 531.9,469.7 531.9,469.6 530.4,469.6 530.4,469.7 528.9,469.7 528.9,468.5 527.4,468.5 527.4,468.9 525.9,468.9 525.9,468.8 524.4,468.8 524.4,465.9 522.9,465.9 522.9,462.3 521.4,462.3 521.4,464.1 519.9,464.1 519.9,467.4 518.4,467.4 518.4,462.3 516.9,462.3 516.9,461.4 515.4,461.4 515.4,465.5 513.9,465.5 513.9,466.4 512.4,466.4 512.4,467.6 511.0,467.6 511.0,467.4 509.5,467.4 509.5,465.9 508.0,465.9 508.0,466.5 506.5,466.5 506.5,464.6 505.0,464.6 505.0,462.4 503.5,462.4 503.5,461.9 502.0,461.9 502.0,460.8 500.5,460.8 500.5,459.1 499.0,459.1 499.0,458.2 497.5,458.2 497.5,462.8 496.0,462.8 496.0,465.2 494.5,465.2 494.5,465.1 493.0,465.1 493.0,463.8 491.5,463.8 491.5,464.6 490.0,464.6 490.0,463.9 488.5,463.9 488.5,462.1 487.0,462.1 487.0,458.9 485.5,458.9 485.5,460.9 484.0,460.9 484.0,462.9 482.5,462.9 482.5,463.1 481.0,463.1 481.0,458.4 479.5,458.4 479.5,456.4 478.0,456.4 478.0,459.0 476.5,459.0 476.5,461.5 475.0,461.5 475.0,463.7 473.5,463.7 473.5,462.7 472.0,462.7 472.0,461.8 470.5,461.8 470.5,457.2 469.0,457.2 469.0,456.3 467.5,456.3 467.5,460.2 466.0,460.2 466.0,461.4 464.5,461.4 464.5,458.4 463.0,458.4 463.0,453.7 461.5,453.7 461.5,457.2 460.0,457.2 460.0,460.3 458.5,460.3 458.5,461.2 457.0,461.2 457.0,460.8 455.5,460.8 455.5,460.1 454.0,460.1 454.0,460.5 452.5,460.5 452.5,459.5 451.1,459.5 451.1,455.7 449.6,455.7 449.6,454.4 448.1,454.4 448.1,456.9 446.6,456.9 446.6,458.0 445.1,458.0 445.1,453.3 443.6,453.3 443.6,452.5 442.1,452.5 442.1,458.7 440.6,458.7 440.6,457.6 439.1,457.6 439.1,457.0 437.6,457.0 437.6,457.4 436.1,457.4 436.1,455.0 434.6,455.0 434.6,454.4 433.1,454.4 433.1,452.4 431.6,452.4 431.6,452.3 430.1,452.3 430.1,452.5 428.6,452.5 428.6,451.3 427.1,451.3 427.1,447.6 425.6,447.6 425.6,454.7 424.1,454.7 424.1,455.3 422.6,455.3 422.6,454.5 421.1,454.5 421.1,455.1 419.6,455.1 419.6,455.5 418.1,455.5 418.1,455.2 416.6,455.2 416.6,455.6 415.1,455.6 415.1,453.8 413.6,453.8 413.6,451.1 412.1,451.1 412.1,452.4 410.6,452.4 410.6,454.9 409.1,454.9 409.1,452.8 407.6,452.8 407.6,450.5 406.1,450.5 406.1,452.4 404.6,452.4 404.6,454.4 403.1,454.4 403.1,454.9 401.6,454.9 401.6,454.6 400.1,454.6 400.1,453.0 398.6,453.0 398.6,451.7 397.1,451.7 397.1,447.1 395.6,447.1 395.6,450.6 394.1,450.6 394.1,450.8 392.6,450.8 392.6,451.2 391.2,451.2 391.2,446.8 389.7,446.8 389.7,446.8 388.2,446.8 388.2,452.1 386.7,452.1 386.7,453.3 385.2,453.3 385.2,452.6 383.7,452.6 383.7,453.3 382.2,453.3 382.2,452.8 380.7,452.8 380.7,451.8 379.2,451.8 379.2,448.7 377.7,448.7 377.7,447.3 376.2,447.3 376.2,450.8 374.7,450.8 374.7,451.5 373.2,451.5 373.2,446.1 371.7,446.1 371.7,445.3 370.2,445.3 370.2,450.0 368.7,450.0 368.7,449.8 367.2,449.8 367.2,450.6 365.7,450.6 365.7,449.4 364.2,449.4 364.2,450.0 362.7,450.0 362.7,449.4 361.2,449.4 361.2,449.0 359.7,449.0 359.7,447.8 358.2,447.8 358.2,448.4 356.7,448.4 356.7,444.7 355.2,444.7 355.2,441.2 353.7,441.2 353.7,448.0 352.2,448.0 352.2,449.8 350.7,449.8 350.7,450.2 349.2,450.2 349.2,450.7 347.7,450.7 347.7,449.3 346.2,449.3 346.2,450.1 344.7,450.1 344.7,447.6 343.2,447.6 343.2,442.5 341.7,442.5 341.7,447.4 340.2,447.4 340.2,447.4 338.7,447.4 338.7,445.8 337.2,445.8 337.2,440.3 335.7,440.3 335.7,443.9 334.2,443.9 334.2,448.5 332.7,448.5 332.7,447.3 331.3,447.3 331.3,446.3 329.8,446.3 329.8,447.0 328.3,447.0 328.3,445.5 326.8,445.5 326.8,445.0 325.3,445.0 325.3,441.7 323.8,441.7 323.8,441.7 322.3,441.7 322.3,444.5 320.8,444.5 320.8,444.2 319.3,444.2 319.3,438.4 317.8,438.4 317.8,440.7 316.3,440.7 316.3,446.1 314.8,446.1 314.8,445.7 313.3,445.7 313.3,445.2 311.8,445.2 311.8,443.5 310.3,443.5 310.3,442.7 308.8,442.7 308.8,442.7 307.3,442.7 307.3,439.8 305.8,439.8 305.8,440.1 304.3,440.1 304.3,441.2 302.8,441.2 302.8,442.2 301.3,442.2 301.3,437.8 299.8,437.8"/>
<rect x="301.3" y="402.8" width="3.0" height="41.6" fill="#fff" fill-opacity="0.26"/>
<rect x="325.3" y="407.8" width="3.0" height="40.6" fill="#fff" fill-opacity="0.29"/>
<rect x="331.3" y="409.9" width="4.5" height="40.4" fill="#fff" fill-opacity="0.32"/>
<rect x="340.2" y="410.1" width="4.5" height="40.0" fill="#fff" fill-opacity="0.23"/>
<rect x="344.7" y="412.8" width="4.5" height="39.9" fill="#fff" fill-opacity="0.30"/>
<rect x="359.7" y="413.2" width="3.0" height="39.2" fill="#fff" fill-opacity="0.12"/>
<rect x="361.2" y="413.6" width="3.0" height="39.2" fill="#fff" fill-opacity="0.25"/>
<rect x="374.7" y="414.8" width="1.5" height="38.6" fill="#fff" fill-opacity="0.30"/>
<rect x="397.1" y="416.2" width="4.5" height="37.7" fill="#fff" fill-opacity="0.21"/>
<rect x="398.6" y="419.0" width="4.5" height="37.6" fill="#fff" fill-opacity="0.13"/>
<rect x="407.6" y="419.4" width="1.5" height="37.3" fill="#fff" fill-opacity="0.33"/>
<rect x="409.1" y="419.9" width="1.5" height="37.2" fill="#fff" fill-opacity="0.24"/>
<rect x="410.6" y="418.6" width="1.5" height="37.2" fill="#fff" fill-opacity="0.17"/>
<rect x="413.6" y="419.3" width="4.5" height="37.0" fill="#fff" fill-opacity="0.11"/>
<rect x="416.6" y="420.8" width="3.0" height="36.9" fill="#fff" fill-opacity="0.23"/>
<rect x="422.6" y="421.9" width="1.5" height="36.7" fill="#fff" fill-opacity="0.30"/>
<rect x="424.1" y="420.9" width="1.5" height="36.6" fill="#fff" fill-opacity="0.12"/>
<rect x="427.1" y="418.0" width="4.5" height="36.5" fill="#fff" fill-opacity="0.17"/>
<rect x="430.1" y="418.6" width="1.5" height="36.4" fill="#fff" fill-opacity="0.17"/>
<rect x="449.6" y="422.6" width="3.0" height="35.6" fill="#fff" fill-opacity="0.12"/>
<rect x="458.5" y="428.6" width="3.0" height="35.2" fill="#fff" fill-opacity="0.26"/>
<rect x="460.0" y="425.9" width="3.0" height="35.1" fill="#fff" fill-opacity="0.35"/>
<rect x="464.5" y="428.8" width="4.5" height="35.0" fill="#fff" fill-opacity="0.20"/>
<rect x="466.0" y="428.3" width="3.0" height="34.9" fill="#fff" fill-opacity="0.35"/>
<rect x="487.0" y="431.2" width="4.5" height="34.0" fill="#fff" fill-opacity="0.20"/>
<rect x="488.5" y="432.6" width="3.0" height="34.0" fill="#fff" fill-opacity="0.22"/>
<rect x="500.5" y="430.9" width="4.5" height="33.5" fill="#fff" fill-opacity="0.28"/>
</g>
<polyline fill="none" stroke="#1f77b4" stroke-width="1.15" stroke-linejoin="round" points="299.8,392.8 300.9,411.1 302.1,421.0 303.2,425.2 304.3,432.2 305.2,422.4 306.0,381.5 307.4,436.5 308.8,437.9 311.6,436.5 314.5,435.1 316.7,433.6 318.7,426.6 320.1,429.4 321.5,426.6 322.9,432.2 324.3,433.6 325.7,439.3 327.1,433.6 330.0,430.8 332.8,430.3 334.2,426.6 335.6,405.5 337.0,422.4 339.8,429.4 342.6,432.2 345.5,436.5 346.9,437.9 348.3,436.5 351.1,436.5 352.5,433.6 354.5,413.9 355.9,428.0 358.1,430.8 359.6,425.2 361.0,426.6 362.4,430.8 365.2,433.6 368.0,433.6 369.4,436.5 370.8,440.7 372.2,447.7 373.6,452.0 375.1,447.7 376.5,443.5 377.9,440.7 379.3,443.5 380.7,437.9 382.1,436.5 384.9,436.5 387.7,433.6 389.1,426.6 390.6,435.1 393.4,432.2 396.2,428.0 399.0,429.4 401.8,429.4 403.5,430.8 406.3,430.8 407.7,408.3 409.1,402.6 410.5,405.5 411.9,412.5 414.7,418.1 417.5,416.7 420.4,422.4 423.2,425.2 426.0,429.4 427.4,428.0 428.8,425.2 430.2,424.6 431.6,428.0 434.5,436.5 437.3,440.7 440.1,443.5 441.5,447.7 442.9,452.0 445.7,455.6 448.6,452.0 451.4,450.6 454.2,453.4 457.0,454.8 459.8,457.6 462.6,460.4 466.9,460.4 469.7,457.6 472.5,461.8 475.3,461.8 478.1,459.0 479.6,456.2 481.0,450.6 482.4,453.4 485.2,454.8 488.0,457.6 492.2,459.0 495.1,459.0 496.5,447.7 497.9,426.6 499.3,440.7 500.7,433.6 503.5,435.1 506.3,437.9 509.1,440.7 512.0,440.7 514.8,437.9"/>
<polyline fill="none" stroke="#ff0000" stroke-width="1.15" stroke-linejoin="round" points="299.8,416.7 301.8,423.8 304.6,422.4 306.0,419.6 307.4,425.2 311.6,426.6 315.9,428.0 318.1,418.1 319.5,426.6 321.5,426.6 323.8,422.4 325.7,428.0 330.0,429.4 334.2,430.8 336.2,421.0 337.6,429.4 341.2,430.8 342.6,425.2 344.1,432.2 348.3,433.6 352.5,433.6 354.5,423.8 356.7,430.8 361.0,433.1 365.2,433.6 369.4,433.6 371.7,426.6 373.6,435.1 376.5,433.6 377.9,428.0 379.3,436.5 383.5,436.5 387.7,436.5 390.0,426.6 391.1,435.9 394.8,435.1 396.2,430.8 399.0,437.9 404.9,439.3 406.3,433.6 407.7,437.9 410.5,438.7 413.3,433.6 414.7,439.3 420.4,439.3 424.6,440.7 426.6,432.2 428.3,437.9 431.6,436.5 433.9,439.3 437.3,442.1 441.5,443.5 443.5,435.1 445.7,443.5 450.0,438.7 451.4,444.9 455.6,445.5 459.8,446.3 462.6,437.9 464.1,446.3 466.9,446.3 468.8,440.7 471.1,447.7 475.3,449.1 479.6,439.8 481.0,449.1 483.8,449.1 485.8,443.5 488.0,449.1 492.2,450.6 496.5,450.6 498.7,442.1 500.7,447.7 503.5,447.2 506.3,452.0 510.6,453.9 514.8,453.4 516.8,446.3 519.0,453.4 522.4,448.3 524.7,454.8 528.9,456.2 533.1,456.8"/>
</g>
<rect x="289.00" y="376.55" width="256.20" height="100.00" fill="none" stroke="#444" stroke-width="0.9"/>
<line x1="286.80" y1="460.40" x2="289.00" y2="460.40" stroke="#444" stroke-width="0.7"/>
<text x="285.20" y="462.15" font-size="5.0" fill="#333" stroke="#333" stroke-width="0.06" text-anchor="end" textLength="2.70" lengthAdjust="spacingAndGlyphs">2</text>
<line x1="286.80" y1="442.80" x2="289.00" y2="442.80" stroke="#444" stroke-width="0.7"/>
<text x="285.20" y="444.55" font-size="5.0" fill="#333" stroke="#333" stroke-width="0.06" text-anchor="end" textLength="2.70" lengthAdjust="spacingAndGlyphs">3</text>
<line x1="286.80" y1="425.20" x2="289.00" y2="425.20" stroke="#444" stroke-width="0.7"/>
<text x="285.20" y="426.95" font-size="5.0" fill="#333" stroke="#333" stroke-width="0.06" text-anchor="end" textLength="2.70" lengthAdjust="spacingAndGlyphs">4</text>
<line x1="286.80" y1="407.60" x2="289.00" y2="407.60" stroke="#444" stroke-width="0.7"/>
<text x="285.20" y="409.35" font-size="5.0" fill="#333" stroke="#333" stroke-width="0.06" text-anchor="end" textLength="2.70" lengthAdjust="spacingAndGlyphs">5</text>
<line x1="286.80" y1="390.00" x2="289.00" y2="390.00" stroke="#444" stroke-width="0.7"/>
<text x="285.20" y="391.75" font-size="5.0" fill="#333" stroke="#333" stroke-width="0.06" text-anchor="end" textLength="2.70" lengthAdjust="spacingAndGlyphs">6</text>
<line x1="299.30" y1="476.55" x2="299.30" y2="478.75" stroke="#444" stroke-width="0.7"/>
<text x="299.30" y="484.25" font-size="5.0" fill="#333" stroke="#333" stroke-width="0.06" text-anchor="middle" textLength="10.79" lengthAdjust="spacingAndGlyphs">2012</text>
<line x1="335.24" y1="476.55" x2="335.24" y2="478.75" stroke="#444" stroke-width="0.7"/>
<text x="335.24" y="484.25" font-size="5.0" fill="#333" stroke="#333" stroke-width="0.06" text-anchor="middle" textLength="10.79" lengthAdjust="spacingAndGlyphs">2014</text>
<line x1="371.18" y1="476.55" x2="371.18" y2="478.75" stroke="#444" stroke-width="0.7"/>
<text x="371.18" y="484.25" font-size="5.0" fill="#333" stroke="#333" stroke-width="0.06" text-anchor="middle" textLength="10.79" lengthAdjust="spacingAndGlyphs">2016</text>
<line x1="407.12" y1="476.55" x2="407.12" y2="478.75" stroke="#444" stroke-width="0.7"/>
<text x="407.12" y="484.25" font-size="5.0" fill="#333" stroke="#333" stroke-width="0.06" text-anchor="middle" textLength="10.79" lengthAdjust="spacingAndGlyphs">2018</text>
<line x1="443.06" y1="476.55" x2="443.06" y2="478.75" stroke="#444" stroke-width="0.7"/>
<text x="443.06" y="484.25" font-size="5.0" fill="#333" stroke="#333" stroke-width="0.06" text-anchor="middle" textLength="10.79" lengthAdjust="spacingAndGlyphs">2020</text>
<line x1="479.00" y1="476.55" x2="479.00" y2="478.75" stroke="#444" stroke-width="0.7"/>
<text x="479.00" y="484.25" font-size="5.0" fill="#333" stroke="#333" stroke-width="0.06" text-anchor="middle" textLength="10.79" lengthAdjust="spacingAndGlyphs">2022</text>
<line x1="514.94" y1="476.55" x2="514.94" y2="478.75" stroke="#444" stroke-width="0.7"/>
<text x="514.94" y="484.25" font-size="5.0" fill="#333" stroke="#333" stroke-width="0.06" text-anchor="middle" textLength="10.79" lengthAdjust="spacingAndGlyphs">2024</text>
<text x="417.10" y="373.95" font-size="6.1" fill="#333" stroke="#333" stroke-width="0.14" text-anchor="middle" textLength="66.42" lengthAdjust="spacingAndGlyphs">Busan Prophet Forecast</text>
<rect x="501.70" y="378.75" width="41" height="16.3" rx="1" fill="#fff" fill-opacity="0.8" stroke="#ddd" stroke-width="0.5"/>
<line x1="503.20" y1="382.95" x2="514.20" y2="382.95" stroke="#1f77b4" stroke-width="1.15"/>
<line x1="503.20" y1="390.05" x2="514.20" y2="390.05" stroke="#ff0000" stroke-width="1.15"/>
<text x="518.70" y="384.75" font-size="5.4" fill="#333" stroke="#333" stroke-width="0.08" textLength="21.3" lengthAdjust="spacingAndGlyphs">Observed</text>
<text x="518.70" y="391.85" font-size="5.4" fill="#333" stroke="#333" stroke-width="0.08" textLength="19.4" lengthAdjust="spacingAndGlyphs">Forecast</text>
<g clip-path="url(#cp8)">
<g filter="url(#bl)"><polygon fill="#fde5ea" points="29.0,544.1 30.5,544.1 30.5,543.2 32.0,543.2 32.0,544.0 33.5,544.0 33.5,540.3 35.0,540.3 35.0,535.7 36.5,535.7 36.5,541.4 38.0,541.4 38.0,542.7 39.5,542.7 39.5,543.8 41.0,543.8 41.0,543.9 42.5,543.9 42.5,544.2 44.0,544.2 44.0,544.6 45.5,544.6 45.5,541.8 47.0,541.8 47.0,539.2 48.5,539.2 48.5,544.3 50.0,544.3 50.0,546.3 51.5,546.3 51.5,545.7 53.0,545.7 53.0,542.6 54.5,542.6 54.5,548.6 56.0,548.6 56.0,548.8 57.5,548.8 57.5,548.7 59.0,548.7 59.0,548.5 60.5,548.5 60.5,548.7 62.0,548.7 62.0,548.9 63.5,548.9 63.5,547.8 65.0,547.8 65.0,546.4 66.5,546.4 66.5,547.9 68.0,547.9 68.0,548.6 69.5,548.6 69.5,546.6 71.0,546.6 71.0,547.4 72.5,547.4 72.5,548.0 74.0,548.0 74.0,549.7 75.5,549.7 75.5,549.9 77.0,549.9 77.0,550.9 78.4,550.9 78.4,550.7 79.9,550.7 79.9,551.5 81.4,551.5 81.4,551.5 82.9,551.5 82.9,552.7 84.4,552.7 84.4,551.0 85.9,551.0 85.9,551.6 87.4,551.6 87.4,553.5 88.9,553.5 88.9,554.8 90.4,554.8 90.4,554.3 91.9,554.3 91.9,554.9 93.4,554.9 93.4,555.0 94.9,555.0 94.9,555.6 96.4,555.6 96.4,556.2 97.9,556.2 97.9,557.4 99.4,557.4 99.4,556.2 100.9,556.2 100.9,558.6 102.4,558.6 102.4,560.5 103.9,560.5 103.9,561.4 105.4,561.4 105.4,556.7 106.9,556.7 106.9,555.7 108.4,555.7 108.4,561.5 109.9,561.5 109.9,562.5 111.4,562.5 111.4,561.4 112.9,561.4 112.9,562.9 114.4,562.9 114.4,562.9 115.9,562.9 115.9,562.5 117.4,562.5 117.4,560.2 118.9,560.2 118.9,555.7 120.4,555.7 120.4,560.7 121.9,560.7 121.9,560.6 123.4,560.6 123.4,558.9 124.9,558.9 124.9,558.4 126.4,558.4 126.4,564.3 127.9,564.3 127.9,564.2 129.4,564.2 129.4,564.1 130.9,564.1 130.9,565.1 132.4,565.1 132.4,564.3 133.9,564.3 133.9,564.3 135.4,564.3 135.4,563.7 136.9,563.7 136.9,563.1 138.3,563.1 138.3,562.9 139.8,562.9 139.8,563.0 141.3,563.0 141.3,563.1 142.8,563.1 142.8,564.3 144.3,564.3 144.3,567.1 145.8,567.1 145.8,567.9 147.3,567.9 147.3,568.1 148.8,568.1 148.8,567.8 150.3,567.8 150.3,569.0 151.8,569.0 151.8,569.7 153.3,569.7 153.3,568.3 154.8,568.3 154.8,566.9 156.3,566.9 156.3,568.6 157.8,568.6 157.8,566.5 159.3,566.5 159.3,568.2 160.8,568.2 160.8,570.9 162.3,570.9 162.3,571.5 163.8,571.5 163.8,571.0 165.3,571.0 165.3,571.7 166.8,571.7 166.8,570.7 168.3,570.7 168.3,571.5 169.8,571.5 169.8,572.4 171.3,572.4 171.3,573.5 172.8,573.5 172.8,574.0 174.3,574.0 174.3,574.6 175.8,574.6 175.8,573.6 177.3,573.6 177.3,571.3 178.8,571.3 178.8,567.6 180.3,567.6 180.3,573.8 181.8,573.8 181.8,575.2 183.3,575.2 183.3,574.0 184.8,574.0 184.8,575.7 186.3,575.7 186.3,575.2 187.8,575.2 187.8,575.3 189.3,575.3 189.3,573.9 190.8,573.9 190.8,568.7 192.3,568.7 192.3,573.6 193.8,573.6 193.8,576.0 195.3,576.0 195.3,577.0 196.8,577.0 196.8,572.1 198.2,572.1 198.2,574.9 199.7,574.9 199.7,577.5 201.2,577.5 201.2,576.9 202.7,576.9 202.7,578.1 204.2,578.1 204.2,578.0 205.7,578.0 205.7,576.9 207.2,576.9 207.2,577.0 208.7,577.0 208.7,573.7 210.2,573.7 210.2,574.9 211.7,574.9 211.7,576.4 213.2,576.4 213.2,575.3 214.7,575.3 214.7,574.8 216.2,574.8 216.2,577.3 217.7,577.3 217.7,576.9 219.2,576.9 219.2,577.1 220.7,577.1 220.7,577.5 222.2,577.5 222.2,577.1 223.7,577.1 223.7,577.3 225.2,577.3 225.2,577.3 226.7,577.3 226.7,577.2 228.2,577.2 228.2,576.4 229.7,576.4 229.7,574.5 231.2,574.5 231.2,574.2 232.7,574.2 232.7,574.6 234.2,574.6 234.2,575.8 235.7,575.8 235.7,575.7 237.2,575.7 237.2,576.1 238.7,576.1 238.7,577.0 240.2,577.0 240.2,577.5 241.7,577.5 241.7,577.2 243.2,577.2 243.2,574.5 244.7,574.5 244.7,576.4 246.2,576.4 246.2,577.6 247.7,577.6 247.7,576.7 249.2,576.7 249.2,575.8 250.7,575.8 250.7,570.5 252.2,570.5 252.2,570.7 253.7,570.7 253.7,576.9 255.2,576.9 255.2,577.7 256.7,577.7 256.7,576.8 258.1,576.8 258.1,576.8 259.6,576.8 259.6,576.8 261.1,576.8 261.1,577.3 262.6,577.3 262.6,577.1 262.6,577.1 262.6,592.8 262.6,592.8 262.6,594.1 261.1,594.1 261.1,592.7 259.6,592.7 259.6,593.0 258.1,593.0 258.1,592.4 256.7,592.4 256.7,593.2 255.2,593.2 255.2,592.8 253.7,592.8 253.7,586.4 252.2,586.4 252.2,585.9 250.7,585.9 250.7,591.3 249.2,591.3 249.2,592.6 247.7,592.6 247.7,593.6 246.2,593.6 246.2,592.1 244.7,592.1 244.7,591.4 243.2,591.4 243.2,592.8 241.7,592.8 241.7,593.0 240.2,593.0 240.2,593.0 238.7,593.0 238.7,592.1 237.2,592.1 237.2,591.6 235.7,591.6 235.7,590.8 234.2,590.8 234.2,589.8 232.7,589.8 232.7,589.0 231.2,589.0 231.2,590.7 229.7,590.7 229.7,591.9 228.2,591.9 228.2,593.1 226.7,593.1 226.7,592.6 225.2,592.6 225.2,593.8 223.7,593.8 223.7,592.9 222.2,592.9 222.2,593.8 220.7,593.8 220.7,593.9 219.2,593.9 219.2,593.4 217.7,593.4 217.7,592.9 216.2,592.9 216.2,591.0 214.7,591.0 214.7,591.3 213.2,591.3 213.2,592.5 211.7,592.5 211.7,590.8 210.2,590.8 210.2,588.7 208.7,588.7 208.7,592.8 207.2,592.8 207.2,593.4 205.7,593.4 205.7,593.4 204.2,593.4 204.2,592.9 202.7,592.9 202.7,592.5 201.2,592.5 201.2,592.9 199.7,592.9 199.7,591.7 198.2,591.7 198.2,588.0 196.8,588.0 196.8,592.5 195.3,592.5 195.3,592.4 193.8,592.4 193.8,588.8 192.3,588.8 192.3,584.2 190.8,584.2 190.8,588.4 189.3,588.4 189.3,591.1 187.8,591.1 187.8,589.9 186.3,589.9 186.3,589.7 184.8,589.7 184.8,590.5 183.3,590.5 183.3,590.2 181.8,590.2 181.8,589.4 180.3,589.4 180.3,581.9 178.8,581.9 178.8,587.2 177.3,587.2 177.3,588.4 175.8,588.4 175.8,590.2 174.3,590.2 174.3,589.9 172.8,589.9 172.8,589.0 171.3,589.0 171.3,588.5 169.8,588.5 169.8,586.6 168.3,586.6 168.3,586.7 166.8,586.7 166.8,586.8 165.3,586.8 165.3,585.6 163.8,585.6 163.8,586.2 162.3,586.2 162.3,585.6 160.8,585.6 160.8,584.1 159.3,584.1 159.3,581.8 157.8,581.8 157.8,583.1 156.3,583.1 156.3,582.1 154.8,582.1 154.8,583.5 153.3,583.5 153.3,583.1 151.8,583.1 151.8,583.3 150.3,583.3 150.3,583.4 148.8,583.4 148.8,583.0 147.3,583.0 147.3,581.3 145.8,581.3 145.8,581.4 144.3,581.4 144.3,579.6 142.8,579.6 142.8,579.3 141.3,579.3 141.3,579.3 139.8,579.3 139.8,577.9 138.3,577.9 138.3,577.0 136.9,577.0 136.9,579.0 135.4,579.0 135.4,580.7 133.9,580.7 133.9,579.4 132.4,579.4 132.4,579.6 130.9,579.6 130.9,579.5 129.4,579.5 129.4,580.0 127.9,580.0 127.9,577.8 126.4,577.8 126.4,573.0 124.9,573.0 124.9,573.7 123.4,573.7 123.4,576.7 121.9,576.7 121.9,574.2 120.4,574.2 120.4,570.1 118.9,570.1 118.9,574.5 117.4,574.5 117.4,576.8 115.9,576.8 115.9,577.6 114.4,577.6 114.4,577.9 112.9,577.9 112.9,577.3 111.4,577.3 111.4,575.8 109.9,575.8 109.9,576.4 108.4,576.4 108.4,569.6 106.9,569.6 106.9,571.2 105.4,571.2 105.4,575.6 103.9,575.6 103.9,575.2 102.4,575.2 102.4,573.7 100.9,573.7 100.9,571.9 99.4,571.9 99.4,571.2 97.9,571.2 97.9,571.7 96.4,571.7 96.4,571.2 94.9,571.2 94.9,570.3 93.4,570.3 93.4,570.0 91.9,570.0 91.9,568.3 90.4,568.3 90.4,569.3 88.9,569.3 88.9,569.1 87.4,569.1 87.4,567.2 85.9,567.2 85.9,565.9 84.4,565.9 84.4,566.9 82.9,566.9 82.9,567.0 81.4,567.0 81.4,566.1 79.9,566.1 79.9,566.2 78.4,566.2 78.4,565.6 77.0,565.6 77.0,565.5 75.5,565.5 75.5,564.4 74.0,564.4 74.0,562.6 72.5,562.6 72.5,561.4 71.0,561.4 71.0,562.2 69.5,562.2 69.5,562.7 68.0,562.7 68.0,562.9 66.5,562.9 66.5,560.7 65.0,560.7 65.0,563.0 63.5,563.0 63.5,564.0 62.0,564.0 62.0,562.8 60.5,562.8 60.5,563.0 59.0,563.0 59.0,562.6 57.5,562.6 57.5,563.5 56.0,563.5 56.0,563.1 54.5,563.1 54.5,556.9 53.0,556.9 53.0,560.9 51.5,560.9 51.5,560.5 50.0,560.5 50.0,559.5 48.5,559.5 48.5,553.4 47.0,553.4 47.0,554.7 45.5,554.7 45.5,559.0 44.0,559.0 44.0,558.2 42.5,558.2 42.5,557.8 41.0,557.8 41.0,557.7 39.5,557.7 39.5,558.2 38.0,558.2 38.0,555.9 36.5,555.9 36.5,549.3 35.0,549.3 35.0,554.6 33.5,554.6 33.5,556.4 32.0,556.4 32.0,557.9 30.5,557.9 30.5,558.9 29.0,558.9"/>
<rect x="29.0" y="541.1" width="1.5" height="20.0" fill="#fff" fill-opacity="0.31"/>
<rect x="33.5" y="537.0" width="1.5" height="20.0" fill="#fff" fill-opacity="0.14"/>
<rect x="44.0" y="542.1" width="4.5" height="20.1" fill="#fff" fill-opacity="0.34"/>
<rect x="45.5" y="538.1" width="3.0" height="20.1" fill="#fff" fill-opacity="0.12"/>
<rect x="51.5" y="543.0" width="1.5" height="20.2" fill="#fff" fill-opacity="0.13"/>
<rect x="57.5" y="545.5" width="3.0" height="20.3" fill="#fff" fill-opacity="0.13"/>
<rect x="60.5" y="546.2" width="3.0" height="20.3" fill="#fff" fill-opacity="0.12"/>
<rect x="68.0" y="544.9" width="1.5" height="20.3" fill="#fff" fill-opacity="0.27"/>
<rect x="72.5" y="545.8" width="3.0" height="20.4" fill="#fff" fill-opacity="0.16"/>
<rect x="75.5" y="547.4" width="4.5" height="20.4" fill="#fff" fill-opacity="0.32"/>
<rect x="93.4" y="552.3" width="1.5" height="20.6" fill="#fff" fill-opacity="0.15"/>
<rect x="102.4" y="558.0" width="3.0" height="20.6" fill="#fff" fill-opacity="0.16"/>
<rect x="111.4" y="559.2" width="3.0" height="20.7" fill="#fff" fill-opacity="0.19"/>
<rect x="129.4" y="561.8" width="1.5" height="20.9" fill="#fff" fill-opacity="0.34"/>
<rect x="135.4" y="561.1" width="4.5" height="20.9" fill="#fff" fill-opacity="0.26"/>
<rect x="153.3" y="565.8" width="3.0" height="21.1" fill="#fff" fill-opacity="0.11"/>
<rect x="156.3" y="565.6" width="4.5" height="21.1" fill="#fff" fill-opacity="0.32"/>
<rect x="172.8" y="571.8" width="4.5" height="21.2" fill="#fff" fill-opacity="0.18"/>
<rect x="181.8" y="571.8" width="4.5" height="21.3" fill="#fff" fill-opacity="0.25"/>
<rect x="198.2" y="572.8" width="4.5" height="21.5" fill="#fff" fill-opacity="0.17"/>
<rect x="201.2" y="574.5" width="4.5" height="21.5" fill="#fff" fill-opacity="0.22"/>
<rect x="204.2" y="574.5" width="3.0" height="21.5" fill="#fff" fill-opacity="0.30"/>
<rect x="211.7" y="573.7" width="1.5" height="21.6" fill="#fff" fill-opacity="0.12"/>
<rect x="232.7" y="571.6" width="1.5" height="21.8" fill="#fff" fill-opacity="0.33"/>
<rect x="243.2" y="572.1" width="4.5" height="21.8" fill="#fff" fill-opacity="0.18"/>
<rect x="258.1" y="574.3" width="4.5" height="22.0" fill="#fff" fill-opacity="0.16"/>
<rect x="262.6" y="574.2" width="4.5" height="22.0" fill="#fff" fill-opacity="0.17"/>
</g>
<polyline fill="none" stroke="#1f77b4" stroke-width="1.15" stroke-linejoin="round" points="29.0,551.4 31.0,550.0 33.3,548.6 34.4,547.2 35.5,502.1 36.6,543.0 38.0,551.4 40.9,552.8 43.7,552.8 46.5,551.4 47.9,548.6 49.3,551.4 52.1,552.8 53.6,559.9 55.0,561.8 57.8,561.8 60.6,561.3 63.4,559.9 64.8,554.2 66.0,535.9 67.1,550.0 68.5,552.8 69.9,550.0 71.9,548.6 73.3,552.8 76.1,555.6 78.9,557.1 81.7,558.5 83.1,562.7 84.6,559.9 86.0,559.9 88.8,558.5 91.6,559.9 95.8,562.7 98.6,564.1 100.1,568.3 101.5,579.6 102.9,572.6 104.3,571.1 107.1,569.7 111.3,569.7 115.6,569.7 118.4,568.3 121.2,569.7 124.0,568.3 126.8,572.6 129.7,572.6 132.5,574.0 135.3,574.0 137.5,564.1 138.7,569.7 140.9,571.1 142.3,569.7 144.3,572.6 146.6,574.0 148.5,575.4 151.3,576.8 154.1,576.8 156.3,575.4 157.5,579.6 159.2,578.2 161.1,576.8 164.0,578.2 166.8,579.6 169.6,581.0 172.4,578.2 173.8,574.0 176.6,574.8 179.5,576.8 182.3,579.6 185.1,581.0 187.9,582.4 190.7,583.8 193.6,586.1 196.4,587.2 199.2,588.1 202.0,588.9 206.2,590.0 209.1,590.9 211.9,591.7 213.3,590.0 216.1,590.0 220.3,588.9 224.6,588.1 227.4,583.8 230.2,578.8 233.0,577.6 237.2,576.8 241.5,577.6 244.3,578.8"/>
<polyline fill="none" stroke="#ff0000" stroke-width="1.15" stroke-linejoin="round" points="29.0,551.4 31.0,550.6 33.8,550.0 35.5,538.7 37.2,550.0 40.9,551.4 45.1,552.3 47.4,544.4 49.3,552.8 52.1,554.2 53.6,547.2 55.0,555.6 59.2,555.6 63.4,557.1 65.4,552.8 67.6,555.6 70.5,554.2 72.7,555.6 74.7,557.1 78.9,558.5 83.1,559.9 86.0,558.5 88.8,561.8 91.6,561.3 94.4,562.7 97.2,564.1 100.1,564.1 102.9,568.3 105.7,568.3 107.1,557.1 108.5,568.3 112.7,569.7 117.0,569.7 119.8,562.7 121.8,569.7 125.4,564.1 126.8,571.1 131.1,572.6 135.3,572.6 137.5,569.7 139.5,571.1 142.3,571.1 145.2,574.0 149.9,575.9 154.1,576.8 155.5,574.0 156.9,576.8 158.3,574.0 161.1,578.2 165.4,578.8 169.6,579.6 172.4,582.4 175.2,582.4 178.0,579.6 179.5,572.6 180.9,582.4 185.1,582.4 189.3,583.8 191.3,575.4 193.6,583.8 196.4,585.2 197.8,578.2 199.2,585.2 203.4,585.2 207.6,585.2 209.9,581.0 211.9,585.2 214.7,582.4 217.5,585.2 221.7,585.2 226.0,585.2 228.8,583.8 231.6,581.0 234.4,583.3 238.6,583.8 241.5,585.2 244.3,582.4 246.5,585.2 249.9,585.2 252.2,574.0 254.1,585.2 258.4,585.2 262.6,585.2"/>
</g>
<rect x="18.30" y="498.30" width="256.20" height="100.00" fill="none" stroke="#444" stroke-width="0.9"/>
<line x1="16.10" y1="588.10" x2="18.30" y2="588.10" stroke="#444" stroke-width="0.7"/>
<text x="14.50" y="589.85" font-size="5.0" fill="#333" stroke="#333" stroke-width="0.06" text-anchor="end" textLength="2.70" lengthAdjust="spacingAndGlyphs">2</text>
<line x1="16.10" y1="566.95" x2="18.30" y2="566.95" stroke="#444" stroke-width="0.7"/>
<text x="14.50" y="568.70" font-size="5.0" fill="#333" stroke="#333" stroke-width="0.06" text-anchor="end" textLength="2.70" lengthAdjust="spacingAndGlyphs">4</text>
<line x1="16.10" y1="545.80" x2="18.30" y2="545.80" stroke="#444" stroke-width="0.7"/>
<text x="14.50" y="547.55" font-size="5.0" fill="#333" stroke="#333" stroke-width="0.06" text-anchor="end" textLength="2.70" lengthAdjust="spacingAndGlyphs">6</text>
<line x1="16.10" y1="524.65" x2="18.30" y2="524.65" stroke="#444" stroke-width="0.7"/>
<text x="14.50" y="526.40" font-size="5.0" fill="#333" stroke="#333" stroke-width="0.06" text-anchor="end" textLength="2.70" lengthAdjust="spacingAndGlyphs">8</text>
<line x1="16.10" y1="503.50" x2="18.30" y2="503.50" stroke="#444" stroke-width="0.7"/>
<text x="14.50" y="505.25" font-size="5.0" fill="#333" stroke="#333" stroke-width="0.06" text-anchor="end" textLength="5.39" lengthAdjust="spacingAndGlyphs">10</text>
<line x1="28.60" y1="598.30" x2="28.60" y2="600.50" stroke="#444" stroke-width="0.7"/>
<text x="28.60" y="606.00" font-size="5.0" fill="#333" stroke="#333" stroke-width="0.06" text-anchor="middle" textLength="10.79" lengthAdjust="spacingAndGlyphs">2012</text>
<line x1="64.54" y1="598.30" x2="64.54" y2="600.50" stroke="#444" stroke-width="0.7"/>
<text x="64.54" y="606.00" font-size="5.0" fill="#333" stroke="#333" stroke-width="0.06" text-anchor="middle" textLength="10.79" lengthAdjust="spacingAndGlyphs">2014</text>
<line x1="100.48" y1="598.30" x2="100.48" y2="600.50" stroke="#444" stroke-width="0.7"/>
<text x="100.48" y="606.00" font-size="5.0" fill="#333" stroke="#333" stroke-width="0.06" text-anchor="middle" textLength="10.79" lengthAdjust="spacingAndGlyphs">2016</text>
<line x1="136.42" y1="598.30" x2="136.42" y2="600.50" stroke="#444" stroke-width="0.7"/>
<text x="136.42" y="606.00" font-size="5.0" fill="#333" stroke="#333" stroke-width="0.06" text-anchor="middle" textLength="10.79" lengthAdjust="spacingAndGlyphs">2018</text>
<line x1="172.36" y1="598.30" x2="172.36" y2="600.50" stroke="#444" stroke-width="0.7"/>
<text x="172.36" y="606.00" font-size="5.0" fill="#333" stroke="#333" stroke-width="0.06" text-anchor="middle" textLength="10.79" lengthAdjust="spacingAndGlyphs">2020</text>
<line x1="208.30" y1="598.30" x2="208.30" y2="600.50" stroke="#444" stroke-width="0.7"/>
<text x="208.30" y="606.00" font-size="5.0" fill="#333" stroke="#333" stroke-width="0.06" text-anchor="middle" textLength="10.79" lengthAdjust="spacingAndGlyphs">2022</text>
<line x1="244.24" y1="598.30" x2="244.24" y2="600.50" stroke="#444" stroke-width="0.7"/>
<text x="244.24" y="606.00" font-size="5.0" fill="#333" stroke="#333" stroke-width="0.06" text-anchor="middle" textLength="10.79" lengthAdjust="spacingAndGlyphs">2024</text>
<text x="146.40" y="495.70" font-size="6.1" fill="#333" stroke="#333" stroke-width="0.14" text-anchor="middle" textLength="64.71" lengthAdjust="spacingAndGlyphs">Seoul Prophet Forecast</text>
<rect x="231.00" y="500.50" width="41" height="16.3" rx="1" fill="#fff" fill-opacity="0.8" stroke="#ddd" stroke-width="0.5"/>
<line x1="232.50" y1="504.70" x2="243.50" y2="504.70" stroke="#1f77b4" stroke-width="1.15"/>
<line x1="232.50" y1="511.80" x2="243.50" y2="511.80" stroke="#ff0000" stroke-width="1.15"/>
<text x="248.00" y="506.50" font-size="5.4" fill="#333" stroke="#333" stroke-width="0.08" textLength="21.3" lengthAdjust="spacingAndGlyphs">Observed</text>
<text x="248.00" y="513.60" font-size="5.4" fill="#333" stroke="#333" stroke-width="0.08" textLength="19.4" lengthAdjust="spacingAndGlyphs">Forecast</text>
<g clip-path="url(#cp9)">
<g filter="url(#bl)"><polygon fill="#fde5ea" points="299.8,569.8 301.3,569.8 301.3,567.8 302.8,567.8 302.8,569.0 304.3,569.0 304.3,567.9 305.8,567.9 305.8,566.3 307.3,566.3 307.3,564.7 308.8,564.7 308.8,568.6 310.3,568.6 310.3,567.7 311.8,567.7 311.8,568.3 313.3,568.3 313.3,568.0 314.8,568.0 314.8,568.0 316.3,568.0 316.3,567.0 317.8,567.0 317.8,567.3 319.3,567.3 319.3,567.0 320.8,567.0 320.8,566.8 322.3,566.8 322.3,566.3 323.8,566.3 323.8,566.1 325.3,566.1 325.3,562.5 326.8,562.5 326.8,566.2 328.3,566.2 328.3,566.5 329.8,566.5 329.8,567.7 331.3,567.7 331.3,567.9 332.7,567.9 332.7,567.9 334.2,567.9 334.2,568.0 335.7,568.0 335.7,568.0 337.2,568.0 337.2,566.7 338.7,566.7 338.7,567.2 340.2,567.2 340.2,565.4 341.7,565.4 341.7,562.6 343.2,562.6 343.2,562.3 344.7,562.3 344.7,565.8 346.2,565.8 346.2,567.1 347.7,567.1 347.7,567.1 349.2,567.1 349.2,566.8 350.7,566.8 350.7,566.0 352.2,566.0 352.2,566.9 353.7,566.9 353.7,565.4 355.2,565.4 355.2,566.5 356.7,566.5 356.7,565.6 358.2,565.6 358.2,564.6 359.7,564.6 359.7,560.6 361.2,560.6 361.2,561.9 362.7,561.9 362.7,564.5 364.2,564.5 364.2,564.6 365.7,564.6 365.7,564.9 367.2,564.9 367.2,566.0 368.7,566.0 368.7,566.0 370.2,566.0 370.2,564.4 371.7,564.4 371.7,564.6 373.2,564.6 373.2,564.9 374.7,564.9 374.7,564.1 376.2,564.1 376.2,561.5 377.7,561.5 377.7,559.1 379.2,559.1 379.2,560.7 380.7,560.7 380.7,563.2 382.2,563.2 382.2,563.9 383.7,563.9 383.7,563.0 385.2,563.0 385.2,564.2 386.7,564.2 386.7,563.3 388.2,563.3 388.2,564.5 389.7,564.5 389.7,563.3 391.2,563.3 391.2,563.6 392.6,563.6 392.6,562.8 394.1,562.8 394.1,562.4 395.6,562.4 395.6,559.4 397.1,559.4 397.1,559.8 398.6,559.8 398.6,562.4 400.1,562.4 400.1,561.7 401.6,561.7 401.6,562.1 403.1,562.1 403.1,561.7 404.6,561.7 404.6,562.2 406.1,562.2 406.1,562.9 407.6,562.9 407.6,562.6 409.1,562.6 409.1,561.6 410.6,561.6 410.6,562.1 412.1,562.1 412.1,563.0 413.6,563.0 413.6,558.5 415.1,558.5 415.1,557.3 416.6,557.3 416.6,562.5 418.1,562.5 418.1,562.6 419.6,562.6 419.6,563.0 421.1,563.0 421.1,561.9 422.6,561.9 422.6,562.0 424.1,562.0 424.1,561.2 425.6,561.2 425.6,559.9 427.1,559.9 427.1,561.1 428.6,561.1 428.6,561.3 430.1,561.3 430.1,560.5 431.6,560.5 431.6,558.4 433.1,558.4 433.1,556.4 434.6,556.4 434.6,560.2 436.1,560.2 436.1,561.3 437.6,561.3 437.6,560.6 439.1,560.6 439.1,561.8 440.6,561.8 440.6,560.8 442.1,560.8 442.1,560.2 443.6,560.2 443.6,561.4 445.1,561.4 445.1,561.3 446.6,561.3 446.6,560.3 448.1,560.3 448.1,560.6 449.6,560.6 449.6,556.5 451.1,556.5 451.1,555.9 452.5,555.9 452.5,560.0 454.0,560.0 454.0,561.5 455.5,561.5 455.5,560.2 457.0,560.2 457.0,560.8 458.5,560.8 458.5,560.7 460.0,560.7 460.0,561.0 461.5,561.0 461.5,561.2 463.0,561.2 463.0,561.4 464.5,561.4 464.5,557.8 466.0,557.8 466.0,556.1 467.5,556.1 467.5,554.9 469.0,554.9 469.0,557.4 470.5,557.4 470.5,558.0 472.0,558.0 472.0,559.1 473.5,559.1 473.5,558.5 475.0,558.5 475.0,558.7 476.5,558.7 476.5,559.7 478.0,559.7 478.0,558.7 479.5,558.7 479.5,558.2 481.0,558.2 481.0,559.1 482.5,559.1 482.5,558.3 484.0,558.3 484.0,558.3 485.5,558.3 485.5,554.0 487.0,554.0 487.0,552.1 488.5,552.1 488.5,556.8 490.0,556.8 490.0,558.7 491.5,558.7 491.5,557.8 493.0,557.8 493.0,558.1 494.5,558.1 494.5,557.9 496.0,557.9 496.0,557.6 497.5,557.6 497.5,556.9 499.0,556.9 499.0,557.7 500.5,557.7 500.5,556.6 502.0,556.6 502.0,556.9 503.5,556.9 503.5,554.1 505.0,554.1 505.0,552.2 506.5,552.2 506.5,556.1 508.0,556.1 508.0,557.5 509.5,557.5 509.5,556.7 511.0,556.7 511.0,556.7 512.4,556.7 512.4,558.2 513.9,558.2 513.9,557.8 515.4,557.8 515.4,558.6 516.9,558.6 516.9,557.3 518.4,557.3 518.4,556.2 519.9,556.2 519.9,556.2 521.4,556.2 521.4,555.0 522.9,555.0 522.9,550.3 524.4,550.3 524.4,552.5 525.9,552.5 525.9,554.9 527.4,554.9 527.4,555.8 528.9,555.8 528.9,554.8 530.4,554.8 530.4,555.0 531.9,555.0 531.9,554.7 533.1,554.7 533.4,555.2 533.1,555.2 533.1,579.6 533.4,579.6 533.1,579.1 531.9,579.1 531.9,580.1 530.4,580.1 530.4,578.8 528.9,578.8 528.9,579.1 527.4,579.1 527.4,578.9 525.9,578.9 525.9,576.6 524.4,576.6 524.4,574.3 522.9,574.3 522.9,577.7 521.4,577.7 521.4,580.6 519.9,580.6 519.9,580.8 518.4,580.8 518.4,580.2 516.9,580.2 516.9,581.2 515.4,581.2 515.4,581.5 513.9,581.5 513.9,580.7 512.4,580.7 512.4,581.1 511.0,581.1 511.0,579.9 509.5,579.9 509.5,580.6 508.0,580.6 508.0,580.1 506.5,580.1 506.5,576.6 505.0,576.6 505.0,576.4 503.5,576.4 503.5,580.2 502.0,580.2 502.0,580.0 500.5,580.0 500.5,580.6 499.0,580.6 499.0,581.1 497.5,581.1 497.5,581.9 496.0,581.9 496.0,581.2 494.5,581.2 494.5,582.2 493.0,582.2 493.0,582.0 491.5,582.0 491.5,581.9 490.0,581.9 490.0,581.3 488.5,581.3 488.5,575.6 487.0,575.6 487.0,578.3 485.5,578.3 485.5,581.6 484.0,581.6 484.0,581.4 482.5,581.4 482.5,582.3 481.0,582.3 481.0,581.4 479.5,581.4 479.5,582.4 478.0,582.4 478.0,583.4 476.5,583.4 476.5,582.8 475.0,582.8 475.0,582.5 473.5,582.5 473.5,582.9 472.0,582.9 472.0,583.1 470.5,583.1 470.5,580.8 469.0,580.8 469.0,579.2 467.5,579.2 467.5,578.2 466.0,578.2 466.0,581.4 464.5,581.4 464.5,583.7 463.0,583.7 463.0,584.7 461.5,584.7 461.5,584.3 460.0,584.3 460.0,584.8 458.5,584.8 458.5,584.7 457.0,584.7 457.0,585.0 455.5,585.0 455.5,584.4 454.0,584.4 454.0,582.8 452.5,582.8 452.5,578.3 451.1,578.3 451.1,581.1 449.6,581.1 449.6,583.6 448.1,583.6 448.1,584.8 446.6,584.8 446.6,585.0 445.1,585.0 445.1,584.3 443.6,584.3 443.6,583.9 442.1,583.9 442.1,584.9 440.6,584.9 440.6,584.2 439.1,584.2 439.1,583.8 437.6,583.8 437.6,583.3 436.1,583.3 436.1,583.7 434.6,583.7 434.6,578.7 433.1,578.7 433.1,580.9 431.6,580.9 431.6,583.8 430.1,583.8 430.1,583.6 428.6,583.6 428.6,582.7 427.1,582.7 427.1,582.9 425.6,582.9 425.6,583.2 424.1,583.2 424.1,584.1 422.6,584.1 422.6,584.7 421.1,584.7 421.1,586.0 419.6,586.0 419.6,585.1 418.1,585.1 418.1,585.4 416.6,585.4 416.6,580.5 415.1,580.5 415.1,581.0 413.6,581.0 413.6,585.1 412.1,585.1 412.1,584.6 410.6,584.6 410.6,585.4 409.1,585.4 409.1,585.7 407.6,585.7 407.6,586.1 406.1,586.1 406.1,585.2 404.6,585.2 404.6,585.3 403.1,585.3 403.1,585.4 401.6,585.4 401.6,584.8 400.1,584.8 400.1,584.8 398.6,584.8 398.6,582.9 397.1,582.9 397.1,582.6 395.6,582.6 395.6,585.6 394.1,585.6 394.1,585.5 392.6,585.5 392.6,585.4 391.2,585.4 391.2,586.7 389.7,586.7 389.7,586.9 388.2,586.9 388.2,586.5 386.7,586.5 386.7,585.8 385.2,585.8 385.2,585.8 383.7,585.8 383.7,585.1 382.2,585.1 382.2,586.2 380.7,586.2 380.7,582.3 379.2,582.3 379.2,581.3 377.7,581.3 377.7,583.4 376.2,583.4 376.2,586.7 374.7,586.7 374.7,586.6 373.2,586.6 373.2,586.4 371.7,586.4 371.7,587.8 370.2,587.8 370.2,588.1 368.7,588.1 368.7,587.2 367.2,587.2 367.2,588.2 365.7,588.2 365.7,586.7 364.2,586.7 364.2,587.1 362.7,587.1 362.7,585.2 361.2,585.2 361.2,583.8 359.7,583.8 359.7,587.1 358.2,587.1 358.2,587.2 356.7,587.2 356.7,587.4 355.2,587.4 355.2,588.0 353.7,588.0 353.7,588.1 352.2,588.1 352.2,589.0 350.7,589.0 350.7,588.7 349.2,588.7 349.2,588.2 347.7,588.2 347.7,589.3 346.2,589.3 346.2,588.9 344.7,588.9 344.7,584.0 343.2,584.0 343.2,584.6 341.7,584.6 341.7,588.5 340.2,588.5 340.2,589.8 338.7,589.8 338.7,588.8 337.2,588.8 337.2,589.5 335.7,589.5 335.7,590.4 334.2,590.4 334.2,589.0 332.7,589.0 332.7,590.2 331.3,590.2 331.3,589.3 329.8,589.3 329.8,589.5 328.3,589.5 328.3,589.6 326.8,589.6 326.8,584.4 325.3,584.4 325.3,587.3 323.8,587.3 323.8,588.7 322.3,588.7 322.3,588.7 320.8,588.7 320.8,589.8 319.3,589.8 319.3,590.1 317.8,590.1 317.8,590.2 316.3,590.2 316.3,590.8 314.8,590.8 314.8,589.5 313.3,589.5 313.3,590.2 311.8,590.2 311.8,590.9 310.3,590.9 310.3,590.8 308.8,590.8 308.8,587.0 307.3,587.0 307.3,587.3 305.8,587.3 305.8,590.5 304.3,590.5 304.3,590.9 302.8,590.9 302.8,590.6 301.3,590.6 301.3,592.3 299.8,592.3"/>
<rect x="302.8" y="565.2" width="1.5" height="28.0" fill="#fff" fill-opacity="0.30"/>
<rect x="316.3" y="564.7" width="1.5" height="28.1" fill="#fff" fill-opacity="0.22"/>
<rect x="317.8" y="564.4" width="4.5" height="28.2" fill="#fff" fill-opacity="0.27"/>
<rect x="334.2" y="564.5" width="4.5" height="28.3" fill="#fff" fill-opacity="0.23"/>
<rect x="340.2" y="563.1" width="1.5" height="28.4" fill="#fff" fill-opacity="0.19"/>
<rect x="344.7" y="562.9" width="1.5" height="28.4" fill="#fff" fill-opacity="0.15"/>
<rect x="356.7" y="562.5" width="4.5" height="28.5" fill="#fff" fill-opacity="0.32"/>
<rect x="374.7" y="560.5" width="1.5" height="28.6" fill="#fff" fill-opacity="0.19"/>
<rect x="383.7" y="560.5" width="4.5" height="28.7" fill="#fff" fill-opacity="0.13"/>
<rect x="388.2" y="561.0" width="4.5" height="28.8" fill="#fff" fill-opacity="0.34"/>
<rect x="389.7" y="561.0" width="3.0" height="28.8" fill="#fff" fill-opacity="0.33"/>
<rect x="409.1" y="559.5" width="4.5" height="28.9" fill="#fff" fill-opacity="0.25"/>
<rect x="416.6" y="559.2" width="1.5" height="29.0" fill="#fff" fill-opacity="0.29"/>
<rect x="418.1" y="559.5" width="3.0" height="29.0" fill="#fff" fill-opacity="0.33"/>
<rect x="421.1" y="559.3" width="3.0" height="29.0" fill="#fff" fill-opacity="0.27"/>
<rect x="424.1" y="557.7" width="3.0" height="29.1" fill="#fff" fill-opacity="0.29"/>
<rect x="434.6" y="557.7" width="4.5" height="29.2" fill="#fff" fill-opacity="0.23"/>
<rect x="440.6" y="557.9" width="4.5" height="29.2" fill="#fff" fill-opacity="0.19"/>
<rect x="442.1" y="557.9" width="4.5" height="29.2" fill="#fff" fill-opacity="0.29"/>
<rect x="445.1" y="557.9" width="3.0" height="29.3" fill="#fff" fill-opacity="0.26"/>
<rect x="457.0" y="557.9" width="4.5" height="29.4" fill="#fff" fill-opacity="0.14"/>
<rect x="461.5" y="557.9" width="3.0" height="29.4" fill="#fff" fill-opacity="0.11"/>
<rect x="467.5" y="552.0" width="1.5" height="29.4" fill="#fff" fill-opacity="0.11"/>
<rect x="472.0" y="556.3" width="1.5" height="29.5" fill="#fff" fill-opacity="0.34"/>
<rect x="481.0" y="555.5" width="1.5" height="29.6" fill="#fff" fill-opacity="0.14"/>
<rect x="487.0" y="549.0" width="1.5" height="29.6" fill="#fff" fill-opacity="0.26"/>
<rect x="488.5" y="554.2" width="1.5" height="29.6" fill="#fff" fill-opacity="0.13"/>
<rect x="490.0" y="554.9" width="1.5" height="29.6" fill="#fff" fill-opacity="0.28"/>
<rect x="512.4" y="554.4" width="1.5" height="29.8" fill="#fff" fill-opacity="0.23"/>
<rect x="515.4" y="554.8" width="3.0" height="29.9" fill="#fff" fill-opacity="0.34"/>
<rect x="516.9" y="554.1" width="4.5" height="29.9" fill="#fff" fill-opacity="0.22"/>
<rect x="528.9" y="552.4" width="4.5" height="30.0" fill="#fff" fill-opacity="0.18"/>
<rect x="530.4" y="552.5" width="4.5" height="30.0" fill="#fff" fill-opacity="0.31"/>
</g>
<polyline fill="none" stroke="#1f77b4" stroke-width="1.15" stroke-linejoin="round" points="299.8,581.0 301.8,579.6 304.6,580.4 308.8,580.4 317.3,580.4 331.4,580.4 345.5,580.4 359.6,580.4 360.4,544.4 361.5,502.1 362.9,575.4 364.6,578.8 366.6,578.2 369.4,577.6 370.8,569.7 372.2,579.6 373.6,578.8 375.9,577.6 377.9,574.0 379.8,566.9 381.5,564.7 383.5,566.9 386.3,571.1 389.1,574.0 390.6,579.6 392.0,565.5 393.4,569.7 394.8,566.9 396.2,564.1 399.0,567.5 401.8,569.2 403.5,571.1 406.3,572.6 407.7,576.8 410.5,579.6 413.3,579.6 416.1,578.2 420.4,576.8 423.2,575.4 424.6,569.7 426.0,564.1 427.4,571.1 428.8,566.9 430.2,569.7 431.6,571.1 434.5,572.6 435.9,569.7 440.1,570.3 444.3,571.1 445.7,572.6 447.1,575.4 450.0,575.9 452.8,576.8 457.0,576.8 461.2,578.2 464.1,579.6 465.5,578.2 466.9,565.5 468.8,564.1 471.1,566.9 473.9,570.3 478.1,571.1 479.6,572.6 481.0,578.2 483.8,579.6 488.0,578.8 492.2,578.2 495.9,577.6 497.0,572.6 498.2,552.8 499.3,533.1 500.7,541.6 502.1,550.0 504.9,559.9 507.7,564.1 510.6,565.5 514.8,566.9"/>
<polyline fill="none" stroke="#ff0000" stroke-width="1.15" stroke-linejoin="round" points="299.8,582.4 301.8,579.6 306.0,578.8 307.4,574.0 308.8,579.6 317.3,578.8 320.1,578.2 324.3,577.6 325.7,572.6 327.1,578.2 334.2,578.8 338.4,578.2 341.2,577.6 343.5,571.1 345.5,577.6 351.1,577.6 356.7,576.8 359.6,576.8 361.0,570.3 362.9,575.9 368.0,576.8 372.2,575.9 375.1,575.4 379.3,569.7 380.7,574.0 386.3,575.4 390.6,575.4 394.8,574.0 397.6,569.7 399.0,574.0 406.3,574.0 410.5,574.0 413.3,574.0 415.3,566.9 417.0,574.0 421.8,574.0 424.6,572.6 426.0,571.1 428.8,572.6 431.6,572.6 433.6,565.5 435.3,572.6 440.1,572.6 444.3,572.6 448.6,572.6 451.9,565.5 453.6,572.6 458.4,572.6 464.1,572.6 467.7,565.5 469.7,569.7 472.5,571.1 476.7,571.1 481.0,570.3 485.2,570.3 487.4,561.8 489.4,569.7 493.6,569.7 497.9,569.7 500.7,568.3 503.5,568.3 504.9,561.8 507.2,568.3 512.0,569.2 516.2,569.7 519.0,568.3 521.8,567.5 523.8,561.3 526.1,566.9 530.3,567.5 533.1,567.5"/>
</g>
<rect x="289.00" y="498.30" width="256.20" height="100.00" fill="none" stroke="#444" stroke-width="0.9"/>
<line x1="286.80" y1="594.50" x2="289.00" y2="594.50" stroke="#444" stroke-width="0.7"/>
<text x="285.20" y="596.25" font-size="5.0" fill="#333" stroke="#333" stroke-width="0.06" text-anchor="end" textLength="4.31" lengthAdjust="spacingAndGlyphs">-5</text>
<line x1="286.80" y1="580.97" x2="289.00" y2="580.97" stroke="#444" stroke-width="0.7"/>
<text x="285.20" y="582.72" font-size="5.0" fill="#333" stroke="#333" stroke-width="0.06" text-anchor="end" textLength="2.70" lengthAdjust="spacingAndGlyphs">0</text>
<line x1="286.80" y1="567.44" x2="289.00" y2="567.44" stroke="#444" stroke-width="0.7"/>
<text x="285.20" y="569.19" font-size="5.0" fill="#333" stroke="#333" stroke-width="0.06" text-anchor="end" textLength="2.70" lengthAdjust="spacingAndGlyphs">5</text>
<line x1="286.80" y1="553.91" x2="289.00" y2="553.91" stroke="#444" stroke-width="0.7"/>
<text x="285.20" y="555.66" font-size="5.0" fill="#333" stroke="#333" stroke-width="0.06" text-anchor="end" textLength="5.39" lengthAdjust="spacingAndGlyphs">10</text>
<line x1="286.80" y1="540.39" x2="289.00" y2="540.39" stroke="#444" stroke-width="0.7"/>
<text x="285.20" y="542.14" font-size="5.0" fill="#333" stroke="#333" stroke-width="0.06" text-anchor="end" textLength="5.39" lengthAdjust="spacingAndGlyphs">15</text>
<line x1="286.80" y1="526.86" x2="289.00" y2="526.86" stroke="#444" stroke-width="0.7"/>
<text x="285.20" y="528.61" font-size="5.0" fill="#333" stroke="#333" stroke-width="0.06" text-anchor="end" textLength="5.39" lengthAdjust="spacingAndGlyphs">20</text>
<line x1="286.80" y1="513.33" x2="289.00" y2="513.33" stroke="#444" stroke-width="0.7"/>
<text x="285.20" y="515.08" font-size="5.0" fill="#333" stroke="#333" stroke-width="0.06" text-anchor="end" textLength="5.39" lengthAdjust="spacingAndGlyphs">25</text>
<line x1="286.80" y1="499.80" x2="289.00" y2="499.80" stroke="#444" stroke-width="0.7"/>
<text x="285.20" y="501.55" font-size="5.0" fill="#333" stroke="#333" stroke-width="0.06" text-anchor="end" textLength="5.39" lengthAdjust="spacingAndGlyphs">30</text>
<line x1="299.30" y1="598.30" x2="299.30" y2="600.50" stroke="#444" stroke-width="0.7"/>
<text x="299.30" y="606.00" font-size="5.0" fill="#333" stroke="#333" stroke-width="0.06" text-anchor="middle" textLength="10.79" lengthAdjust="spacingAndGlyphs">2012</text>
<line x1="335.24" y1="598.30" x2="335.24" y2="600.50" stroke="#444" stroke-width="0.7"/>
<text x="335.24" y="606.00" font-size="5.0" fill="#333" stroke="#333" stroke-width="0.06" text-anchor="middle" textLength="10.79" lengthAdjust="spacingAndGlyphs">2014</text>
<line x1="371.18" y1="598.30" x2="371.18" y2="600.50" stroke="#444" stroke-width="0.7"/>
<text x="371.18" y="606.00" font-size="5.0" fill="#333" stroke="#333" stroke-width="0.06" text-anchor="middle" textLength="10.79" lengthAdjust="spacingAndGlyphs">2016</text>
<line x1="407.12" y1="598.30" x2="407.12" y2="600.50" stroke="#444" stroke-width="0.7"/>
<text x="407.12" y="606.00" font-size="5.0" fill="#333" stroke="#333" stroke-width="0.06" text-anchor="middle" textLength="10.79" lengthAdjust="spacingAndGlyphs">2018</text>
<line x1="443.06" y1="598.30" x2="443.06" y2="600.50" stroke="#444" stroke-width="0.7"/>
<text x="443.06" y="606.00" font-size="5.0" fill="#333" stroke="#333" stroke-width="0.06" text-anchor="middle" textLength="10.79" lengthAdjust="spacingAndGlyphs">2020</text>
<line x1="479.00" y1="598.30" x2="479.00" y2="600.50" stroke="#444" stroke-width="0.7"/>
<text x="479.00" y="606.00" font-size="5.0" fill="#333" stroke="#333" stroke-width="0.06" text-anchor="middle" textLength="10.79" lengthAdjust="spacingAndGlyphs">2022</text>
<line x1="514.94" y1="598.30" x2="514.94" y2="600.50" stroke="#444" stroke-width="0.7"/>
<text x="514.94" y="606.00" font-size="5.0" fill="#333" stroke="#333" stroke-width="0.06" text-anchor="middle" textLength="10.79" lengthAdjust="spacingAndGlyphs">2024</text>
<text x="417.10" y="495.70" font-size="6.1" fill="#333" stroke="#333" stroke-width="0.14" text-anchor="middle" textLength="68.14" lengthAdjust="spacingAndGlyphs">Sejong Prophet Forecast</text>
<rect x="501.70" y="500.50" width="41" height="16.3" rx="1" fill="#fff" fill-opacity="0.8" stroke="#ddd" stroke-width="0.5"/>
<line x1="503.20" y1="504.70" x2="514.20" y2="504.70" stroke="#1f77b4" stroke-width="1.15"/>
<line x1="503.20" y1="511.80" x2="514.20" y2="511.80" stroke="#ff0000" stroke-width="1.15"/>
<text x="518.70" y="506.50" font-size="5.4" fill="#333" stroke="#333" stroke-width="0.08" textLength="21.3" lengthAdjust="spacingAndGlyphs">Observed</text>
<text x="518.70" y="513.60" font-size="5.4" fill="#333" stroke="#333" stroke-width="0.08" textLength="19.4" lengthAdjust="spacingAndGlyphs">Forecast</text>
<g clip-path="url(#cp10)">
<g filter="url(#bl)"><polygon fill="#fde5ea" points="29.0,671.7 30.5,671.7 30.5,670.1 32.0,670.1 32.0,669.7 33.5,669.7 33.5,669.1 35.0,669.1 35.0,668.1 36.5,668.1 36.5,669.9 38.0,669.9 38.0,671.6 39.5,671.6 39.5,670.1 41.0,670.1 41.0,671.2 42.5,671.2 42.5,670.0 44.0,670.0 44.0,670.8 45.5,670.8 45.5,671.0 47.0,671.0 47.0,670.4 48.5,670.4 48.5,671.1 50.0,671.1 50.0,671.0 51.5,671.0 51.5,669.4 53.0,669.4 53.0,670.8 54.5,670.8 54.5,671.6 56.0,671.6 56.0,670.4 57.5,670.4 57.5,671.4 59.0,671.4 59.0,670.3 60.5,670.3 60.5,670.5 62.0,670.5 62.0,671.2 63.5,671.2 63.5,670.3 65.0,670.3 65.0,670.2 66.5,670.2 66.5,671.6 68.0,671.6 68.0,670.7 69.5,670.7 69.5,669.9 71.0,669.9 71.0,671.0 72.5,671.0 72.5,671.4 74.0,671.4 74.0,669.9 75.5,669.9 75.5,671.0 77.0,671.0 77.0,671.4 78.4,671.4 78.4,671.3 79.9,671.3 79.9,669.9 81.4,669.9 81.4,670.7 82.9,670.7 82.9,671.3 84.4,671.3 84.4,670.8 85.9,670.8 85.9,669.3 87.4,669.3 87.4,669.4 88.9,669.4 88.9,670.0 90.4,670.0 90.4,669.2 91.9,669.2 91.9,669.4 93.4,669.4 93.4,669.9 94.9,669.9 94.9,671.2 96.4,671.2 96.4,670.6 97.9,670.6 97.9,670.7 99.4,670.7 99.4,670.3 100.9,670.3 100.9,670.9 102.4,670.9 102.4,669.9 103.9,669.9 103.9,669.0 105.4,669.0 105.4,669.6 106.9,669.6 106.9,669.9 108.4,669.9 108.4,671.9 109.9,671.9 109.9,672.1 111.4,672.1 111.4,671.7 112.9,671.7 112.9,671.2 114.4,671.2 114.4,671.5 115.9,671.5 115.9,671.6 117.4,671.6 117.4,670.6 118.9,670.6 118.9,671.4 120.4,671.4 120.4,669.7 121.9,669.7 121.9,670.0 123.4,670.0 123.4,669.2 124.9,669.2 124.9,670.6 126.4,670.6 126.4,669.3 127.9,669.3 127.9,670.8 129.4,670.8 129.4,669.6 130.9,669.6 130.9,670.3 132.4,670.3 132.4,670.2 133.9,670.2 133.9,670.3 135.4,670.3 135.4,670.5 136.9,670.5 136.9,669.9 138.3,669.9 138.3,669.9 139.8,669.9 139.8,669.7 141.3,669.7 141.3,670.5 142.8,670.5 142.8,669.8 144.3,669.8 144.3,670.1 145.8,670.1 145.8,670.8 147.3,670.8 147.3,670.1 148.8,670.1 148.8,670.2 150.3,670.2 150.3,671.3 151.8,671.3 151.8,671.4 153.3,671.4 153.3,671.0 154.8,671.0 154.8,671.8 156.3,671.8 156.3,672.7 157.8,672.7 157.8,671.6 159.3,671.6 159.3,671.3 160.8,671.3 160.8,670.0 162.3,670.0 162.3,671.8 163.8,671.8 163.8,671.3 165.3,671.3 165.3,672.2 166.8,672.2 166.8,671.5 168.3,671.5 168.3,672.0 169.8,672.0 169.8,672.0 171.3,672.0 171.3,673.6 172.8,673.6 172.8,671.8 174.3,671.8 174.3,673.2 175.8,673.2 175.8,672.8 177.3,672.8 177.3,671.3 178.8,671.3 178.8,670.8 180.3,670.8 180.3,671.5 181.8,671.5 181.8,673.0 183.3,673.0 183.3,672.3 184.8,672.3 184.8,672.6 186.3,672.6 186.3,674.3 187.8,674.3 187.8,673.1 189.3,673.1 189.3,673.8 190.8,673.8 190.8,673.0 192.3,673.0 192.3,673.1 193.8,673.1 193.8,673.8 195.3,673.8 195.3,672.5 196.8,672.5 196.8,673.3 198.2,673.3 198.2,673.3 199.7,673.3 199.7,673.9 201.2,673.9 201.2,674.5 202.7,674.5 202.7,674.5 204.2,674.5 204.2,674.7 205.7,674.7 205.7,675.0 207.2,675.0 207.2,673.9 208.7,673.9 208.7,674.4 210.2,674.4 210.2,674.2 211.7,674.2 211.7,673.8 213.2,673.8 213.2,673.5 214.7,673.5 214.7,673.8 216.2,673.8 216.2,674.2 217.7,674.2 217.7,673.3 219.2,673.3 219.2,673.8 220.7,673.8 220.7,673.7 222.2,673.7 222.2,674.7 223.7,674.7 223.7,674.7 225.2,674.7 225.2,675.1 226.7,675.1 226.7,674.7 228.2,674.7 228.2,674.6 229.7,674.6 229.7,674.6 231.2,674.6 231.2,675.6 232.7,675.6 232.7,675.7 234.2,675.7 234.2,675.2 235.7,675.2 235.7,676.4 237.2,676.4 237.2,676.1 238.7,676.1 238.7,675.2 240.2,675.2 240.2,675.3 241.7,675.3 241.7,674.9 243.2,674.9 243.2,676.1 244.7,676.1 244.7,676.9 246.2,676.9 246.2,675.8 247.7,675.8 247.7,675.9 249.2,675.9 249.2,675.4 250.7,675.4 250.7,674.6 252.2,674.6 252.2,675.4 253.7,675.4 253.7,675.9 255.2,675.9 255.2,675.3 256.7,675.3 256.7,676.2 258.1,676.2 258.1,676.1 259.6,676.1 259.6,676.3 261.1,676.3 261.1,676.9 262.6,676.9 262.6,677.5 262.6,677.5 262.6,701.0 262.6,701.0 262.6,700.1 261.1,700.1 261.1,700.7 259.6,700.7 259.6,701.3 258.1,701.3 258.1,701.2 256.7,701.2 256.7,700.1 255.2,700.1 255.2,700.7 253.7,700.7 253.7,699.2 252.2,699.2 252.2,698.6 250.7,698.6 250.7,699.4 249.2,699.4 249.2,699.5 247.7,699.5 247.7,700.8 246.2,700.8 246.2,700.4 244.7,700.4 244.7,700.0 243.2,700.0 243.2,698.9 241.7,698.9 241.7,700.2 240.2,700.2 240.2,698.7 238.7,698.7 238.7,698.7 237.2,698.7 237.2,699.0 235.7,699.0 235.7,698.5 234.2,698.5 234.2,698.3 232.7,698.3 232.7,699.7 231.2,699.7 231.2,698.2 229.7,698.2 229.7,698.8 228.2,698.8 228.2,697.8 226.7,697.8 226.7,698.3 225.2,698.3 225.2,698.8 223.7,698.8 223.7,697.7 222.2,697.7 222.2,698.8 220.7,698.8 220.7,697.4 219.2,697.4 219.2,697.8 217.7,697.8 217.7,697.1 216.2,697.1 216.2,696.1 214.7,696.1 214.7,697.4 213.2,697.4 213.2,696.7 211.7,696.7 211.7,698.2 210.2,698.2 210.2,696.8 208.7,696.8 208.7,698.1 207.2,698.1 207.2,698.2 205.7,698.2 205.7,698.1 204.2,698.1 204.2,699.0 202.7,699.0 202.7,697.8 201.2,697.8 201.2,697.7 199.7,697.7 199.7,697.4 198.2,697.4 198.2,696.5 196.8,696.5 196.8,695.7 195.3,695.7 195.3,696.6 193.8,696.6 193.8,697.7 192.3,697.7 192.3,697.2 190.8,697.2 190.8,697.7 189.3,697.7 189.3,697.7 187.8,697.7 187.8,696.6 186.3,696.6 186.3,696.5 184.8,696.5 184.8,697.7 183.3,697.7 183.3,697.5 181.8,697.5 181.8,695.6 180.3,695.6 180.3,695.1 178.8,695.1 178.8,695.9 177.3,695.9 177.3,697.1 175.8,697.1 175.8,697.1 174.3,697.1 174.3,696.0 172.8,696.0 172.8,697.5 171.3,697.5 171.3,697.4 169.8,697.4 169.8,696.0 168.3,696.0 168.3,695.6 166.8,695.6 166.8,695.2 165.3,695.2 165.3,695.7 163.8,695.7 163.8,695.1 162.3,695.1 162.3,694.4 160.8,694.4 160.8,695.0 159.3,695.0 159.3,695.0 157.8,695.0 157.8,695.4 156.3,695.4 156.3,695.2 154.8,695.2 154.8,696.0 153.3,696.0 153.3,695.1 151.8,695.1 151.8,696.0 150.3,696.0 150.3,695.4 148.8,695.4 148.8,695.3 147.3,695.3 147.3,694.6 145.8,694.6 145.8,694.0 144.3,694.0 144.3,694.0 142.8,694.0 142.8,693.3 141.3,693.3 141.3,693.5 139.8,693.5 139.8,693.6 138.3,693.6 138.3,694.5 136.9,694.5 136.9,694.9 135.4,694.9 135.4,695.4 133.9,695.4 133.9,694.6 132.4,694.6 132.4,693.7 130.9,693.7 130.9,694.2 129.4,694.2 129.4,694.0 127.9,694.0 127.9,694.8 126.4,694.8 126.4,693.3 124.9,693.3 124.9,694.0 123.4,694.0 123.4,694.6 121.9,694.6 121.9,695.2 120.4,695.2 120.4,694.9 118.9,694.9 118.9,695.9 117.4,695.9 117.4,695.0 115.9,695.0 115.9,695.4 114.4,695.4 114.4,696.0 112.9,696.0 112.9,695.3 111.4,695.3 111.4,694.8 109.9,694.8 109.9,694.8 108.4,694.8 108.4,693.2 106.9,693.2 106.9,692.2 105.4,692.2 105.4,693.4 103.9,693.4 103.9,693.4 102.4,693.4 102.4,694.9 100.9,694.9 100.9,695.1 99.4,695.1 99.4,695.0 97.9,695.0 97.9,694.9 96.4,694.9 96.4,695.4 94.9,695.4 94.9,694.7 93.4,694.7 93.4,693.7 91.9,693.7 91.9,693.9 90.4,693.9 90.4,694.1 88.9,694.1 88.9,694.9 87.4,694.9 87.4,694.5 85.9,694.5 85.9,693.6 84.4,693.6 84.4,693.7 82.9,693.7 82.9,694.5 81.4,694.5 81.4,695.5 79.9,695.5 79.9,695.4 78.4,695.4 78.4,695.6 77.0,695.6 77.0,694.0 75.5,694.0 75.5,693.9 74.0,693.9 74.0,695.4 72.5,695.4 72.5,695.1 71.0,695.1 71.0,694.1 69.5,694.1 69.5,695.5 68.0,695.5 68.0,694.0 66.5,694.0 66.5,694.0 65.0,694.0 65.0,694.8 63.5,694.8 63.5,695.0 62.0,695.0 62.0,694.1 60.5,694.1 60.5,695.7 59.0,695.7 59.0,695.3 57.5,695.3 57.5,695.3 56.0,695.3 56.0,695.6 54.5,695.6 54.5,693.5 53.0,693.5 53.0,693.8 51.5,693.8 51.5,694.4 50.0,694.4 50.0,694.7 48.5,694.7 48.5,695.1 47.0,695.1 47.0,693.9 45.5,693.9 45.5,694.3 44.0,694.3 44.0,694.7 42.5,694.7 42.5,694.5 41.0,694.5 41.0,694.7 39.5,694.7 39.5,694.8 38.0,694.8 38.0,693.8 36.5,693.8 36.5,693.2 35.0,693.2 35.0,693.5 33.5,693.5 33.5,693.1 32.0,693.1 32.0,693.8 30.5,693.8 30.5,696.0 29.0,696.0"/>
<rect x="41.0" y="667.7" width="3.0" height="30.0" fill="#fff" fill-opacity="0.31"/>
<rect x="42.5" y="667.7" width="3.0" height="30.0" fill="#fff" fill-opacity="0.34"/>
<rect x="66.5" y="667.7" width="1.5" height="30.0" fill="#fff" fill-opacity="0.34"/>
<rect x="68.0" y="667.7" width="1.5" height="30.0" fill="#fff" fill-opacity="0.28"/>
<rect x="69.5" y="667.7" width="4.5" height="30.0" fill="#fff" fill-opacity="0.18"/>
<rect x="72.5" y="667.7" width="4.5" height="30.0" fill="#fff" fill-opacity="0.10"/>
<rect x="84.4" y="667.4" width="4.5" height="30.0" fill="#fff" fill-opacity="0.26"/>
<rect x="85.9" y="667.2" width="3.0" height="30.0" fill="#fff" fill-opacity="0.31"/>
<rect x="96.4" y="667.9" width="3.0" height="30.0" fill="#fff" fill-opacity="0.31"/>
<rect x="102.4" y="667.1" width="1.5" height="30.0" fill="#fff" fill-opacity="0.32"/>
<rect x="121.9" y="667.2" width="1.5" height="30.0" fill="#fff" fill-opacity="0.14"/>
<rect x="124.9" y="667.0" width="3.0" height="30.0" fill="#fff" fill-opacity="0.11"/>
<rect x="136.9" y="667.5" width="4.5" height="30.0" fill="#fff" fill-opacity="0.11"/>
<rect x="141.3" y="667.1" width="4.5" height="30.0" fill="#fff" fill-opacity="0.32"/>
<rect x="142.8" y="666.9" width="4.5" height="30.0" fill="#fff" fill-opacity="0.15"/>
<rect x="147.3" y="667.7" width="3.0" height="30.0" fill="#fff" fill-opacity="0.23"/>
<rect x="154.8" y="668.7" width="4.5" height="30.0" fill="#fff" fill-opacity="0.29"/>
<rect x="156.3" y="668.8" width="1.5" height="30.0" fill="#fff" fill-opacity="0.16"/>
<rect x="168.3" y="669.4" width="4.5" height="30.0" fill="#fff" fill-opacity="0.20"/>
<rect x="171.3" y="669.7" width="3.0" height="30.0" fill="#fff" fill-opacity="0.12"/>
<rect x="183.3" y="670.0" width="1.5" height="30.0" fill="#fff" fill-opacity="0.26"/>
<rect x="190.8" y="670.6" width="1.5" height="30.0" fill="#fff" fill-opacity="0.13"/>
<rect x="195.3" y="669.2" width="3.0" height="30.0" fill="#fff" fill-opacity="0.15"/>
<rect x="199.7" y="671.0" width="4.5" height="30.0" fill="#fff" fill-opacity="0.16"/>
<rect x="201.2" y="671.1" width="1.5" height="30.0" fill="#fff" fill-opacity="0.20"/>
<rect x="205.7" y="671.1" width="1.5" height="30.0" fill="#fff" fill-opacity="0.26"/>
<rect x="208.7" y="670.8" width="1.5" height="30.0" fill="#fff" fill-opacity="0.26"/>
<rect x="213.2" y="669.9" width="3.0" height="30.0" fill="#fff" fill-opacity="0.19"/>
<rect x="216.2" y="670.5" width="3.0" height="30.0" fill="#fff" fill-opacity="0.28"/>
<rect x="226.7" y="671.7" width="3.0" height="30.0" fill="#fff" fill-opacity="0.15"/>
<rect x="232.7" y="672.2" width="1.5" height="30.0" fill="#fff" fill-opacity="0.35"/>
<rect x="234.2" y="672.4" width="3.0" height="30.0" fill="#fff" fill-opacity="0.26"/>
<rect x="249.2" y="671.5" width="4.5" height="30.0" fill="#fff" fill-opacity="0.19"/>
<rect x="255.2" y="673.2" width="1.5" height="30.0" fill="#fff" fill-opacity="0.14"/>
</g>
<polyline fill="none" stroke="#1f77b4" stroke-width="1.15" stroke-linejoin="round" points="29.0,691.7 29.9,684.7 31.0,679.1 32.4,681.9 33.8,680.5 35.5,665.0 36.6,676.2 38.0,681.9 39.5,684.7 42.3,684.7 45.1,686.1 46.5,688.9 47.9,694.6 49.3,696.8 50.7,696.0 52.1,693.1 53.6,688.9 56.4,686.1 59.2,685.5 62.0,686.1 64.3,684.7 65.7,666.4 67.6,676.2 69.1,677.6 70.5,680.5 71.9,684.7 74.7,685.5 77.5,685.5 80.3,685.5 81.7,683.3 82.6,652.3 83.7,624.1 85.1,646.6 86.8,666.4 88.8,676.2 91.6,677.6 94.4,679.1 97.2,681.9 100.1,684.7 101.5,703.0 102.3,714.3 103.7,703.0 105.7,687.5 107.1,686.1 109.9,686.1 112.7,685.5 115.6,686.1 118.4,686.1 121.2,690.3 122.6,686.1 125.4,682.7 128.2,680.5 131.1,677.6 133.9,676.2 135.9,680.5 137.5,690.3 138.7,681.9 140.9,672.0 142.3,676.2 144.3,667.8 146.6,669.2 149.9,674.8 152.7,676.2 155.5,673.4 158.3,669.2 159.7,672.0 162.5,672.6 165.4,673.4 168.2,672.0 171.0,673.4 172.4,677.6 173.3,691.7 175.2,691.2 178.0,691.7 180.9,693.1 183.7,691.7 186.5,691.7 189.3,688.9 190.7,687.5 193.6,684.7 195.0,683.3 197.8,684.7 200.6,686.1 203.4,687.5 206.2,688.9 207.6,690.3 209.1,693.1 210.5,696.0 213.3,694.6 216.1,694.6 218.9,694.0 221.7,693.1 224.6,693.1 226.0,687.5 227.4,684.7 230.2,685.5 233.0,684.7 235.8,682.7 238.6,680.5 241.5,680.5 243.7,681.9"/>
<polyline fill="none" stroke="#ff0000" stroke-width="1.15" stroke-linejoin="round" points="29.0,683.8 32.4,681.9 36.1,680.5 38.0,682.7 45.1,682.7 52.1,681.9 56.4,683.3 64.8,682.7 73.3,682.7 81.7,682.7 90.2,681.9 100.1,683.3 107.1,680.5 108.5,683.3 118.4,683.3 124.0,681.9 135.3,682.7 143.7,681.9 151.3,683.3 156.9,683.8 161.1,682.7 165.4,683.8 171.0,684.7 175.2,684.7 179.5,683.3 182.3,684.7 187.9,685.5 193.6,685.5 196.4,683.8 200.6,686.1 207.6,686.1 214.7,684.7 218.9,686.1 224.6,686.7 230.2,686.7 235.8,687.5 241.5,687.5 245.7,688.4 248.5,687.5 251.3,685.5 252.7,687.5 257.0,688.4 262.6,688.9"/>
</g>
<rect x="18.30" y="620.05" width="256.20" height="100.00" fill="none" stroke="#444" stroke-width="0.9"/>
<line x1="16.10" y1="714.60" x2="18.30" y2="714.60" stroke="#444" stroke-width="0.7"/>
<text x="14.50" y="716.35" font-size="5.0" fill="#333" stroke="#333" stroke-width="0.06" text-anchor="end" textLength="4.31" lengthAdjust="spacingAndGlyphs">-2</text>
<line x1="16.10" y1="702.76" x2="18.30" y2="702.76" stroke="#444" stroke-width="0.7"/>
<text x="14.50" y="704.51" font-size="5.0" fill="#333" stroke="#333" stroke-width="0.06" text-anchor="end" textLength="2.70" lengthAdjust="spacingAndGlyphs">0</text>
<line x1="16.10" y1="690.92" x2="18.30" y2="690.92" stroke="#444" stroke-width="0.7"/>
<text x="14.50" y="692.67" font-size="5.0" fill="#333" stroke="#333" stroke-width="0.06" text-anchor="end" textLength="2.70" lengthAdjust="spacingAndGlyphs">2</text>
<line x1="16.10" y1="679.09" x2="18.30" y2="679.09" stroke="#444" stroke-width="0.7"/>
<text x="14.50" y="680.84" font-size="5.0" fill="#333" stroke="#333" stroke-width="0.06" text-anchor="end" textLength="2.70" lengthAdjust="spacingAndGlyphs">4</text>
<line x1="16.10" y1="667.25" x2="18.30" y2="667.25" stroke="#444" stroke-width="0.7"/>
<text x="14.50" y="669.00" font-size="5.0" fill="#333" stroke="#333" stroke-width="0.06" text-anchor="end" textLength="2.70" lengthAdjust="spacingAndGlyphs">6</text>
<line x1="16.10" y1="655.41" x2="18.30" y2="655.41" stroke="#444" stroke-width="0.7"/>
<text x="14.50" y="657.16" font-size="5.0" fill="#333" stroke="#333" stroke-width="0.06" text-anchor="end" textLength="2.70" lengthAdjust="spacingAndGlyphs">8</text>
<line x1="16.10" y1="643.58" x2="18.30" y2="643.58" stroke="#444" stroke-width="0.7"/>
<text x="14.50" y="645.33" font-size="5.0" fill="#333" stroke="#333" stroke-width="0.06" text-anchor="end" textLength="5.39" lengthAdjust="spacingAndGlyphs">10</text>
<line x1="16.10" y1="631.74" x2="18.30" y2="631.74" stroke="#444" stroke-width="0.7"/>
<text x="14.50" y="633.49" font-size="5.0" fill="#333" stroke="#333" stroke-width="0.06" text-anchor="end" textLength="5.39" lengthAdjust="spacingAndGlyphs">12</text>
<line x1="16.10" y1="619.90" x2="18.30" y2="619.90" stroke="#444" stroke-width="0.7"/>
<text x="14.50" y="621.65" font-size="5.0" fill="#333" stroke="#333" stroke-width="0.06" text-anchor="end" textLength="5.39" lengthAdjust="spacingAndGlyphs">14</text>
<line x1="28.60" y1="720.05" x2="28.60" y2="722.25" stroke="#444" stroke-width="0.7"/>
<text x="28.60" y="727.75" font-size="5.0" fill="#333" stroke="#333" stroke-width="0.06" text-anchor="middle" textLength="10.79" lengthAdjust="spacingAndGlyphs">2012</text>
<line x1="64.54" y1="720.05" x2="64.54" y2="722.25" stroke="#444" stroke-width="0.7"/>
<text x="64.54" y="727.75" font-size="5.0" fill="#333" stroke="#333" stroke-width="0.06" text-anchor="middle" textLength="10.79" lengthAdjust="spacingAndGlyphs">2014</text>
<line x1="100.48" y1="720.05" x2="100.48" y2="722.25" stroke="#444" stroke-width="0.7"/>
<text x="100.48" y="727.75" font-size="5.0" fill="#333" stroke="#333" stroke-width="0.06" text-anchor="middle" textLength="10.79" lengthAdjust="spacingAndGlyphs">2016</text>
<line x1="136.42" y1="720.05" x2="136.42" y2="722.25" stroke="#444" stroke-width="0.7"/>
<text x="136.42" y="727.75" font-size="5.0" fill="#333" stroke="#333" stroke-width="0.06" text-anchor="middle" textLength="10.79" lengthAdjust="spacingAndGlyphs">2018</text>
<line x1="172.36" y1="720.05" x2="172.36" y2="722.25" stroke="#444" stroke-width="0.7"/>
<text x="172.36" y="727.75" font-size="5.0" fill="#333" stroke="#333" stroke-width="0.06" text-anchor="middle" textLength="10.79" lengthAdjust="spacingAndGlyphs">2020</text>
<line x1="208.30" y1="720.05" x2="208.30" y2="722.25" stroke="#444" stroke-width="0.7"/>
<text x="208.30" y="727.75" font-size="5.0" fill="#333" stroke="#333" stroke-width="0.06" text-anchor="middle" textLength="10.79" lengthAdjust="spacingAndGlyphs">2022</text>
<line x1="244.24" y1="720.05" x2="244.24" y2="722.25" stroke="#444" stroke-width="0.7"/>
<text x="244.24" y="727.75" font-size="5.0" fill="#333" stroke="#333" stroke-width="0.06" text-anchor="middle" textLength="10.79" lengthAdjust="spacingAndGlyphs">2024</text>
<text x="146.40" y="617.45" font-size="6.1" fill="#333" stroke="#333" stroke-width="0.14" text-anchor="middle" textLength="64.71" lengthAdjust="spacingAndGlyphs">Ulsan Prophet Forecast</text>
<rect x="231.00" y="622.25" width="41" height="16.3" rx="1" fill="#fff" fill-opacity="0.8" stroke="#ddd" stroke-width="0.5"/>
<line x1="232.50" y1="626.45" x2="243.50" y2="626.45" stroke="#1f77b4" stroke-width="1.15"/>
<line x1="232.50" y1="633.55" x2="243.50" y2="633.55" stroke="#ff0000" stroke-width="1.15"/>
<text x="248.00" y="628.25" font-size="5.4" fill="#333" stroke="#333" stroke-width="0.08" textLength="21.3" lengthAdjust="spacingAndGlyphs">Observed</text>
<text x="248.00" y="635.35" font-size="5.4" fill="#333" stroke="#333" stroke-width="0.08" textLength="19.4" lengthAdjust="spacingAndGlyphs">Forecast</text>
<g clip-path="url(#cp11)">
<g filter="url(#bl)"><polygon fill="#fde5ea" points="299.8,651.5 301.3,651.5 301.3,651.5 302.8,651.5 302.8,652.1 304.3,652.1 304.3,649.1 305.8,649.1 305.8,649.2 307.3,649.2 307.3,653.8 308.8,653.8 308.8,655.0 310.3,655.0 310.3,654.7 311.8,654.7 311.8,655.8 313.3,655.8 313.3,654.5 314.8,654.5 314.8,655.4 316.3,655.4 316.3,653.8 317.8,653.8 317.8,650.8 319.3,650.8 319.3,652.9 320.8,652.9 320.8,652.5 322.3,652.5 322.3,653.0 323.8,653.0 323.8,654.6 325.3,654.6 325.3,654.7 326.8,654.7 326.8,654.8 328.3,654.8 328.3,656.6 329.8,656.6 329.8,655.5 331.3,655.5 331.3,655.4 332.7,655.4 332.7,655.3 334.2,655.3 334.2,655.0 335.7,655.0 335.7,652.9 337.2,652.9 337.2,653.1 338.7,653.1 338.7,654.7 340.2,654.7 340.2,655.7 341.7,655.7 341.7,656.3 343.2,656.3 343.2,656.4 344.7,656.4 344.7,656.9 346.2,656.9 346.2,658.2 347.7,658.2 347.7,659.1 349.2,659.1 349.2,658.7 350.7,658.7 350.7,657.4 352.2,657.4 352.2,656.7 353.7,656.7 353.7,656.2 355.2,656.2 355.2,656.3 356.7,656.3 356.7,658.3 358.2,658.3 358.2,659.0 359.7,659.0 359.7,659.2 361.2,659.2 361.2,661.0 362.7,661.0 362.7,660.8 364.2,660.8 364.2,660.7 365.7,660.7 365.7,661.3 367.2,661.3 367.2,661.3 368.7,661.3 368.7,662.8 370.2,662.8 370.2,661.3 371.7,661.3 371.7,661.8 373.2,661.8 373.2,661.4 374.7,661.4 374.7,661.3 376.2,661.3 376.2,660.1 377.7,660.1 377.7,661.1 379.2,661.1 379.2,662.7 380.7,662.7 380.7,663.2 382.2,663.2 382.2,662.5 383.7,662.5 383.7,662.0 385.2,662.0 385.2,663.0 386.7,663.0 386.7,663.8 388.2,663.8 388.2,662.6 389.7,662.6 389.7,661.8 391.2,661.8 391.2,663.9 392.6,663.9 392.6,665.8 394.1,665.8 394.1,664.6 395.6,664.6 395.6,663.4 397.1,663.4 397.1,665.6 398.6,665.6 398.6,667.0 400.1,667.0 400.1,667.6 401.6,667.6 401.6,669.1 403.1,669.1 403.1,668.9 404.6,668.9 404.6,669.4 406.1,669.4 406.1,667.7 407.6,667.7 407.6,666.4 409.1,666.4 409.1,664.8 410.6,664.8 410.6,666.2 412.1,666.2 412.1,668.1 413.6,668.1 413.6,669.2 415.1,669.2 415.1,668.7 416.6,668.7 416.6,668.9 418.1,668.9 418.1,669.7 419.6,669.7 419.6,670.3 421.1,670.3 421.1,669.7 422.6,669.7 422.6,671.1 424.1,671.1 424.1,670.4 425.6,670.4 425.6,667.6 427.1,667.6 427.1,667.8 428.6,667.8 428.6,669.4 430.1,669.4 430.1,670.2 431.6,670.2 431.6,672.3 433.1,672.3 433.1,672.0 434.6,672.0 434.6,672.1 436.1,672.1 436.1,673.8 437.6,673.8 437.6,673.2 439.1,673.2 439.1,672.9 440.6,672.9 440.6,673.6 442.1,673.6 442.1,673.8 443.6,673.8 443.6,674.3 445.1,674.3 445.1,673.4 446.6,673.4 446.6,673.0 448.1,673.0 448.1,672.0 449.6,672.0 449.6,670.7 451.1,670.7 451.1,673.6 452.5,673.6 452.5,675.7 454.0,675.7 454.0,675.3 455.5,675.3 455.5,676.1 457.0,676.1 457.0,677.0 458.5,677.0 458.5,676.8 460.0,676.8 460.0,675.5 461.5,675.5 461.5,673.5 463.0,673.5 463.0,675.2 464.5,675.2 464.5,675.6 466.0,675.6 466.0,675.1 467.5,675.1 467.5,674.3 469.0,674.3 469.0,676.7 470.5,676.7 470.5,678.6 472.0,678.6 472.0,680.2 473.5,680.2 473.5,679.8 475.0,679.8 475.0,680.4 476.5,680.4 476.5,678.9 478.0,678.9 478.0,678.6 479.5,678.6 479.5,677.7 481.0,677.7 481.0,678.5 482.5,678.5 482.5,678.6 484.0,678.6 484.0,678.8 485.5,678.8 485.5,678.3 487.0,678.3 487.0,680.0 488.5,680.0 488.5,680.6 490.0,680.6 490.0,681.0 491.5,681.0 491.5,680.8 493.0,680.8 493.0,681.8 494.5,681.8 494.5,682.7 496.0,682.7 496.0,682.4 497.5,682.4 497.5,679.9 499.0,679.9 499.0,680.1 500.5,680.1 500.5,679.6 502.0,679.6 502.0,680.8 503.5,680.8 503.5,681.9 505.0,681.9 505.0,683.3 506.5,683.3 506.5,683.8 508.0,683.8 508.0,684.9 509.5,684.9 509.5,686.0 511.0,686.0 511.0,686.1 512.4,686.1 512.4,685.3 513.9,685.3 513.9,685.9 515.4,685.9 515.4,685.1 516.9,685.1 516.9,685.8 518.4,685.8 518.4,685.3 519.9,685.3 519.9,683.4 521.4,683.4 521.4,682.1 522.9,682.1 522.9,685.9 524.4,685.9 524.4,686.8 525.9,686.8 525.9,688.7 527.4,688.7 527.4,687.4 528.9,687.4 528.9,689.1 530.4,689.1 530.4,687.6 531.9,687.6 531.9,688.0 533.1,688.0 533.4,688.7 533.1,688.7 533.1,714.1 533.4,714.1 533.1,715.5 531.9,715.5 531.9,714.5 530.4,714.5 530.4,715.0 528.9,715.0 528.9,714.1 527.4,714.1 527.4,715.4 525.9,715.4 525.9,713.8 524.4,713.8 524.4,712.5 522.9,712.5 522.9,708.8 521.4,708.8 521.4,708.8 519.9,708.8 519.9,711.5 518.4,711.5 518.4,712.2 516.9,712.2 516.9,712.0 515.4,712.0 515.4,712.9 513.9,712.9 513.9,713.3 512.4,713.3 512.4,711.5 511.0,711.5 511.0,711.2 509.5,711.2 509.5,710.8 508.0,710.8 508.0,711.7 506.5,711.7 506.5,710.2 505.0,710.2 505.0,708.6 503.5,708.6 503.5,707.9 502.0,707.9 502.0,706.5 500.5,706.5 500.5,706.5 499.0,706.5 499.0,706.5 497.5,706.5 497.5,708.6 496.0,708.6 496.0,709.3 494.5,709.3 494.5,709.3 493.0,709.3 493.0,707.6 491.5,707.6 491.5,707.0 490.0,707.0 490.0,706.6 488.5,706.6 488.5,706.7 487.0,706.7 487.0,705.9 485.5,705.9 485.5,705.8 484.0,705.8 484.0,705.6 482.5,705.6 482.5,704.0 481.0,704.0 481.0,703.2 479.5,703.2 479.5,705.1 478.0,705.1 478.0,706.4 476.5,706.4 476.5,707.0 475.0,707.0 475.0,706.8 473.5,706.8 473.5,706.4 472.0,706.4 472.0,704.8 470.5,704.8 470.5,704.5 469.0,704.5 469.0,701.4 467.5,701.4 467.5,701.4 466.0,701.4 466.0,701.9 464.5,701.9 464.5,700.4 463.0,700.4 463.0,700.4 461.5,700.4 461.5,701.8 460.0,701.8 460.0,704.0 458.5,704.0 458.5,702.5 457.0,702.5 457.0,702.1 455.5,702.1 455.5,703.1 454.0,703.1 454.0,702.5 452.5,702.5 452.5,700.4 451.1,700.4 451.1,697.7 449.6,697.7 449.6,698.9 448.1,698.9 448.1,700.3 446.6,700.3 446.6,700.4 445.1,700.4 445.1,700.3 443.6,700.3 443.6,700.7 442.1,700.7 442.1,700.1 440.6,700.1 440.6,700.0 439.1,700.0 439.1,699.7 437.6,699.7 437.6,700.8 436.1,700.8 436.1,698.6 434.6,698.6 434.6,699.0 433.1,699.0 433.1,698.1 431.6,698.1 431.6,697.3 430.1,697.3 430.1,695.0 428.6,695.0 428.6,693.6 427.1,693.6 427.1,694.7 425.6,694.7 425.6,697.4 424.1,697.4 424.1,697.3 422.6,697.3 422.6,697.1 421.1,697.1 421.1,697.8 419.6,697.8 419.6,697.4 418.1,697.4 418.1,696.0 416.6,696.0 416.6,696.8 415.1,696.8 415.1,696.0 413.6,696.0 413.6,694.3 412.1,694.3 412.1,692.6 410.6,692.6 410.6,692.0 409.1,692.0 409.1,691.7 407.6,691.7 407.6,694.9 406.1,694.9 406.1,695.3 404.6,695.3 404.6,695.9 403.1,695.9 403.1,696.3 401.6,696.3 401.6,695.4 400.1,695.4 400.1,693.2 398.6,693.2 398.6,692.3 397.1,692.3 397.1,690.7 395.6,690.7 395.6,690.9 394.1,690.9 394.1,692.8 392.6,692.8 392.6,689.5 391.2,689.5 391.2,688.9 389.7,688.9 389.7,689.2 388.2,689.2 388.2,691.4 386.7,691.4 386.7,690.2 385.2,690.2 385.2,689.7 383.7,689.7 383.7,688.3 382.2,688.3 382.2,690.1 380.7,690.1 380.7,689.3 379.2,689.3 379.2,688.9 377.7,688.9 377.7,687.5 376.2,687.5 376.2,687.9 374.7,687.9 374.7,687.7 373.2,687.7 373.2,688.9 371.7,688.9 371.7,689.0 370.2,689.0 370.2,688.4 368.7,688.4 368.7,688.3 367.2,688.3 367.2,689.2 365.7,689.2 365.7,688.8 364.2,688.8 364.2,687.0 362.7,687.0 362.7,687.6 361.2,687.6 361.2,686.5 359.7,686.5 359.7,686.0 358.2,686.0 358.2,685.3 356.7,685.3 356.7,683.6 355.2,683.6 355.2,682.7 353.7,682.7 353.7,685.2 352.2,685.2 352.2,684.3 350.7,684.3 350.7,684.5 349.2,684.5 349.2,685.5 347.7,685.5 347.7,683.8 346.2,683.8 346.2,683.9 344.7,683.9 344.7,683.3 343.2,683.3 343.2,683.0 341.7,683.0 341.7,682.2 340.2,682.2 340.2,681.7 338.7,681.7 338.7,680.7 337.2,680.7 337.2,681.0 335.7,681.0 335.7,681.3 334.2,681.3 334.2,682.1 332.7,682.1 332.7,682.2 331.3,682.2 331.3,682.5 329.8,682.5 329.8,682.7 328.3,682.7 328.3,682.2 326.8,682.2 326.8,681.2 325.3,681.2 325.3,680.3 323.8,680.3 323.8,678.3 322.3,678.3 322.3,680.4 320.8,680.4 320.8,681.2 319.3,681.2 319.3,678.6 317.8,678.6 317.8,680.3 316.3,680.3 316.3,681.7 314.8,681.7 314.8,682.8 313.3,682.8 313.3,682.4 311.8,682.4 311.8,681.9 310.3,681.9 310.3,680.9 308.8,680.9 308.8,679.9 307.3,679.9 307.3,675.7 305.8,675.7 305.8,675.3 304.3,675.3 304.3,678.3 302.8,678.3 302.8,678.8 301.3,678.8 301.3,677.7 299.8,677.7"/>
<rect x="304.3" y="646.1" width="1.5" height="32.8" fill="#fff" fill-opacity="0.13"/>
<rect x="322.3" y="649.1" width="3.0" height="32.8" fill="#fff" fill-opacity="0.22"/>
<rect x="323.8" y="651.2" width="1.5" height="32.8" fill="#fff" fill-opacity="0.15"/>
<rect x="325.3" y="651.9" width="3.0" height="32.8" fill="#fff" fill-opacity="0.34"/>
<rect x="332.7" y="652.9" width="1.5" height="32.8" fill="#fff" fill-opacity="0.15"/>
<rect x="334.2" y="652.0" width="1.5" height="32.8" fill="#fff" fill-opacity="0.16"/>
<rect x="335.7" y="650.5" width="3.0" height="32.8" fill="#fff" fill-opacity="0.12"/>
<rect x="337.2" y="651.0" width="4.5" height="32.8" fill="#fff" fill-opacity="0.33"/>
<rect x="341.7" y="653.3" width="1.5" height="32.8" fill="#fff" fill-opacity="0.22"/>
<rect x="346.2" y="654.7" width="1.5" height="32.8" fill="#fff" fill-opacity="0.19"/>
<rect x="362.7" y="657.8" width="1.5" height="32.8" fill="#fff" fill-opacity="0.20"/>
<rect x="383.7" y="659.5" width="3.0" height="32.8" fill="#fff" fill-opacity="0.22"/>
<rect x="385.2" y="660.3" width="3.0" height="32.8" fill="#fff" fill-opacity="0.24"/>
<rect x="391.2" y="660.4" width="1.5" height="32.8" fill="#fff" fill-opacity="0.18"/>
<rect x="392.6" y="662.4" width="4.5" height="32.8" fill="#fff" fill-opacity="0.15"/>
<rect x="395.6" y="660.3" width="4.5" height="32.8" fill="#fff" fill-opacity="0.34"/>
<rect x="407.6" y="662.8" width="1.5" height="32.8" fill="#fff" fill-opacity="0.23"/>
<rect x="410.6" y="663.6" width="3.0" height="32.8" fill="#fff" fill-opacity="0.32"/>
<rect x="413.6" y="665.4" width="4.5" height="32.8" fill="#fff" fill-opacity="0.15"/>
<rect x="415.1" y="666.1" width="3.0" height="32.8" fill="#fff" fill-opacity="0.28"/>
<rect x="425.6" y="665.4" width="1.5" height="32.8" fill="#fff" fill-opacity="0.18"/>
<rect x="431.6" y="668.6" width="1.5" height="32.8" fill="#fff" fill-opacity="0.22"/>
<rect x="434.6" y="669.8" width="3.0" height="32.8" fill="#fff" fill-opacity="0.33"/>
<rect x="454.0" y="672.7" width="4.5" height="32.8" fill="#fff" fill-opacity="0.22"/>
<rect x="478.0" y="675.1" width="3.0" height="32.8" fill="#fff" fill-opacity="0.19"/>
<rect x="493.0" y="678.7" width="1.5" height="32.8" fill="#fff" fill-opacity="0.31"/>
<rect x="505.0" y="680.6" width="1.5" height="32.7" fill="#fff" fill-opacity="0.11"/>
<rect x="512.4" y="682.9" width="4.5" height="32.7" fill="#fff" fill-opacity="0.32"/>
<rect x="516.9" y="682.7" width="1.5" height="32.7" fill="#fff" fill-opacity="0.16"/>
<rect x="518.4" y="682.2" width="1.5" height="32.7" fill="#fff" fill-opacity="0.14"/>
<rect x="524.4" y="684.3" width="4.5" height="32.7" fill="#fff" fill-opacity="0.18"/>
<rect x="531.9" y="685.2" width="4.5" height="32.7" fill="#fff" fill-opacity="0.24"/>
</g>
<polyline fill="none" stroke="#1f77b4" stroke-width="1.15" stroke-linejoin="round" points="299.8,703.0 300.9,691.7 302.3,683.3 303.7,676.2 304.6,666.4 306.0,636.8 307.4,670.6 308.8,670.6 311.6,672.0 314.5,670.6 317.3,670.6 319.5,673.4 320.9,665.0 322.4,656.5 324.3,665.0 325.7,666.4 327.1,660.7 328.6,665.0 331.4,666.4 334.2,665.0 335.6,659.3 336.4,624.1 337.6,635.4 339.3,652.3 341.2,659.3 343.2,666.4 345.5,669.2 348.3,672.0 351.1,672.6 353.1,663.6 353.9,641.0 355.3,652.3 356.7,672.0 358.1,677.6 361.0,679.1 363.8,680.5 366.6,680.5 369.4,679.1 370.8,676.2 372.0,659.3 373.6,659.3 375.9,663.6 377.9,666.4 380.7,670.6 383.5,673.4 386.3,674.8 389.1,677.6 390.0,700.2 391.1,683.3 393.4,686.1 396.2,690.3 400.4,691.7 403.5,691.7 406.3,690.3 407.1,674.8 408.2,666.4 409.7,679.1 411.9,679.1 414.7,677.6 416.1,676.2 417.5,677.6 420.4,677.6 421.8,680.5 423.2,677.6 425.4,676.2 426.6,673.4 428.3,680.5 430.2,681.9 433.0,683.3 435.9,684.7 438.7,686.7 441.5,686.1 443.5,687.5 444.3,693.1 445.7,690.3 448.6,691.7 451.4,690.3 454.2,693.1 457.0,694.6 459.8,696.8 462.6,697.4 465.5,696.0 468.3,697.4 471.1,697.9 473.9,697.4 476.7,698.8 479.6,699.6 481.0,697.9 482.4,696.0 483.8,695.1 485.2,700.2 488.0,700.2 490.8,697.9 493.6,697.4 495.9,698.8 497.9,705.8 499.3,688.9 500.7,683.3 503.5,681.9 506.3,682.7 510.6,684.7 514.8,686.1"/>
<polyline fill="none" stroke="#ff0000" stroke-width="1.15" stroke-linejoin="round" points="299.8,665.0 303.2,665.8 306.0,660.7 308.3,667.8 313.0,669.2 316.7,667.8 318.1,663.6 320.1,667.8 322.9,665.0 324.3,667.8 327.1,668.6 330.0,669.8 334.2,669.2 337.0,666.4 339.8,669.2 342.6,669.8 345.5,670.6 349.7,672.0 353.9,670.6 355.3,667.8 356.7,672.0 361.0,673.4 365.2,674.8 369.4,675.4 373.6,675.4 376.5,673.4 379.3,676.2 383.5,675.4 387.7,677.6 390.6,674.8 393.4,679.1 396.2,676.2 399.0,680.5 403.5,682.7 406.3,681.9 409.1,678.2 411.9,680.5 416.1,682.7 420.4,683.8 424.6,683.8 427.4,680.5 430.2,683.3 433.0,685.5 437.3,686.7 441.5,687.5 445.7,687.5 448.6,686.1 450.0,683.3 451.4,687.5 455.6,689.5 459.8,690.3 462.6,686.1 464.9,689.5 467.7,686.7 469.7,690.3 472.5,693.1 476.7,693.1 480.1,690.3 482.4,691.7 485.2,691.7 488.0,693.1 492.2,694.6 496.5,696.0 499.3,692.3 502.1,694.6 506.3,697.4 510.6,698.8 514.8,699.6 519.0,698.8 521.8,694.6 524.1,699.6 526.1,701.6 530.3,701.6 533.1,701.6"/>
</g>
<rect x="289.00" y="620.05" width="256.20" height="100.00" fill="none" stroke="#444" stroke-width="0.9"/>
<line x1="286.80" y1="718.20" x2="289.00" y2="718.20" stroke="#444" stroke-width="0.7"/>
<text x="285.20" y="719.95" font-size="5.0" fill="#333" stroke="#333" stroke-width="0.06" text-anchor="end" textLength="2.70" lengthAdjust="spacingAndGlyphs">0</text>
<line x1="286.80" y1="701.24" x2="289.00" y2="701.24" stroke="#444" stroke-width="0.7"/>
<text x="285.20" y="702.99" font-size="5.0" fill="#333" stroke="#333" stroke-width="0.06" text-anchor="end" textLength="2.70" lengthAdjust="spacingAndGlyphs">2</text>
<line x1="286.80" y1="684.28" x2="289.00" y2="684.28" stroke="#444" stroke-width="0.7"/>
<text x="285.20" y="686.03" font-size="5.0" fill="#333" stroke="#333" stroke-width="0.06" text-anchor="end" textLength="2.70" lengthAdjust="spacingAndGlyphs">4</text>
<line x1="286.80" y1="667.32" x2="289.00" y2="667.32" stroke="#444" stroke-width="0.7"/>
<text x="285.20" y="669.07" font-size="5.0" fill="#333" stroke="#333" stroke-width="0.06" text-anchor="end" textLength="2.70" lengthAdjust="spacingAndGlyphs">6</text>
<line x1="286.80" y1="650.36" x2="289.00" y2="650.36" stroke="#444" stroke-width="0.7"/>
<text x="285.20" y="652.11" font-size="5.0" fill="#333" stroke="#333" stroke-width="0.06" text-anchor="end" textLength="2.70" lengthAdjust="spacingAndGlyphs">8</text>
<line x1="286.80" y1="633.40" x2="289.00" y2="633.40" stroke="#444" stroke-width="0.7"/>
<text x="285.20" y="635.15" font-size="5.0" fill="#333" stroke="#333" stroke-width="0.06" text-anchor="end" textLength="5.39" lengthAdjust="spacingAndGlyphs">10</text>
<line x1="299.30" y1="720.05" x2="299.30" y2="722.25" stroke="#444" stroke-width="0.7"/>
<text x="299.30" y="727.75" font-size="5.0" fill="#333" stroke="#333" stroke-width="0.06" text-anchor="middle" textLength="10.79" lengthAdjust="spacingAndGlyphs">2012</text>
<line x1="335.24" y1="720.05" x2="335.24" y2="722.25" stroke="#444" stroke-width="0.7"/>
<text x="335.24" y="727.75" font-size="5.0" fill="#333" stroke="#333" stroke-width="0.06" text-anchor="middle" textLength="10.79" lengthAdjust="spacingAndGlyphs">2014</text>
<line x1="371.18" y1="720.05" x2="371.18" y2="722.25" stroke="#444" stroke-width="0.7"/>
<text x="371.18" y="727.75" font-size="5.0" fill="#333" stroke="#333" stroke-width="0.06" text-anchor="middle" textLength="10.79" lengthAdjust="spacingAndGlyphs">2016</text>
<line x1="407.12" y1="720.05" x2="407.12" y2="722.25" stroke="#444" stroke-width="0.7"/>
<text x="407.12" y="727.75" font-size="5.0" fill="#333" stroke="#333" stroke-width="0.06" text-anchor="middle" textLength="10.79" lengthAdjust="spacingAndGlyphs">2018</text>
<line x1="443.06" y1="720.05" x2="443.06" y2="722.25" stroke="#444" stroke-width="0.7"/>
<text x="443.06" y="727.75" font-size="5.0" fill="#333" stroke="#333" stroke-width="0.06" text-anchor="middle" textLength="10.79" lengthAdjust="spacingAndGlyphs">2020</text>
<line x1="479.00" y1="720.05" x2="479.00" y2="722.25" stroke="#444" stroke-width="0.7"/>
<text x="479.00" y="727.75" font-size="5.0" fill="#333" stroke="#333" stroke-width="0.06" text-anchor="middle" textLength="10.79" lengthAdjust="spacingAndGlyphs">2022</text>
<line x1="514.94" y1="720.05" x2="514.94" y2="722.25" stroke="#444" stroke-width="0.7"/>
<text x="514.94" y="727.75" font-size="5.0" fill="#333" stroke="#333" stroke-width="0.06" text-anchor="middle" textLength="10.79" lengthAdjust="spacingAndGlyphs">2024</text>
<text x="417.10" y="617.45" font-size="6.1" fill="#333" stroke="#333" stroke-width="0.14" text-anchor="middle" textLength="70.88" lengthAdjust="spacingAndGlyphs">Incheon Prophet Forecast</text>
<rect x="501.70" y="622.25" width="41" height="16.3" rx="1" fill="#fff" fill-opacity="0.8" stroke="#ddd" stroke-width="0.5"/>
<line x1="503.20" y1="626.45" x2="514.20" y2="626.45" stroke="#1f77b4" stroke-width="1.15"/>
<line x1="503.20" y1="633.55" x2="514.20" y2="633.55" stroke="#ff0000" stroke-width="1.15"/>
<text x="518.70" y="628.25" font-size="5.4" fill="#333" stroke="#333" stroke-width="0.08" textLength="21.3" lengthAdjust="spacingAndGlyphs">Observed</text>
<text x="518.70" y="635.35" font-size="5.4" fill="#333" stroke="#333" stroke-width="0.08" textLength="19.4" lengthAdjust="spacingAndGlyphs">Forecast</text>
<g clip-path="url(#cp12)">
<g filter="url(#bl)"><polygon fill="#fde5ea" points="29.0,768.9 30.5,768.9 30.5,772.3 32.0,772.3 32.0,773.1 33.5,773.1 33.5,773.8 35.0,773.8 35.0,772.6 36.5,772.6 36.5,774.5 38.0,774.5 38.0,775.5 39.5,775.5 39.5,776.4 41.0,776.4 41.0,775.3 42.5,775.3 42.5,775.2 44.0,775.2 44.0,774.1 45.5,774.1 45.5,773.2 47.0,773.2 47.0,771.4 48.5,771.4 48.5,776.9 50.0,776.9 50.0,777.2 51.5,777.2 51.5,776.6 53.0,776.6 53.0,775.7 54.5,775.7 54.5,776.5 56.0,776.5 56.0,778.0 57.5,778.0 57.5,777.9 59.0,777.9 59.0,777.6 60.5,777.6 60.5,777.7 62.0,777.7 62.0,777.5 63.5,777.5 63.5,776.3 65.0,776.3 65.0,774.1 66.5,774.1 66.5,775.9 68.0,775.9 68.0,778.9 69.5,778.9 69.5,779.2 71.0,779.2 71.0,777.9 72.5,777.9 72.5,779.9 74.0,779.9 74.0,780.0 75.5,780.0 75.5,779.3 77.0,779.3 77.0,780.2 78.4,780.2 78.4,780.4 79.9,780.4 79.9,779.9 81.4,779.9 81.4,777.4 82.9,777.4 82.9,778.0 84.4,778.0 84.4,780.6 85.9,780.6 85.9,779.8 87.4,779.8 87.4,780.0 88.9,780.0 88.9,781.0 90.4,781.0 90.4,781.9 91.9,781.9 91.9,782.1 93.4,782.1 93.4,782.2 94.9,782.2 94.9,781.6 96.4,781.6 96.4,781.5 97.9,781.5 97.9,782.5 99.4,782.5 99.4,781.7 100.9,781.7 100.9,781.6 102.4,781.6 102.4,780.7 103.9,780.7 103.9,780.1 105.4,780.1 105.4,779.3 106.9,779.3 106.9,780.1 108.4,780.1 108.4,782.3 109.9,782.3 109.9,782.8 111.4,782.8 111.4,783.3 112.9,783.3 112.9,782.7 114.4,782.7 114.4,782.0 115.9,782.0 115.9,782.6 117.4,782.6 117.4,780.6 118.9,780.6 118.9,778.7 120.4,778.7 120.4,782.2 121.9,782.2 121.9,782.7 123.4,782.7 123.4,782.3 124.9,782.3 124.9,782.5 126.4,782.5 126.4,782.3 127.9,782.3 127.9,783.9 129.4,783.9 129.4,784.2 130.9,784.2 130.9,784.1 132.4,784.1 132.4,783.2 133.9,783.2 133.9,783.9 135.4,783.9 135.4,782.5 136.9,782.5 136.9,779.8 138.3,779.8 138.3,783.4 139.8,783.4 139.8,784.2 141.3,784.2 141.3,784.1 142.8,784.1 142.8,784.3 144.3,784.3 144.3,785.4 145.8,785.4 145.8,785.8 147.3,785.8 147.3,786.7 148.8,786.7 148.8,785.6 150.3,785.6 150.3,786.4 151.8,786.4 151.8,786.7 153.3,786.7 153.3,783.4 154.8,783.4 154.8,781.4 156.3,781.4 156.3,785.8 157.8,785.8 157.8,785.6 159.3,785.6 159.3,786.1 160.8,786.1 160.8,786.2 162.3,786.2 162.3,786.1 163.8,786.1 163.8,788.1 165.3,788.1 165.3,788.8 166.8,788.8 166.8,788.3 168.3,788.3 168.3,787.5 169.8,787.5 169.8,786.9 171.3,786.9 171.3,784.7 172.8,784.7 172.8,783.5 174.3,783.5 174.3,787.1 175.8,787.1 175.8,788.2 177.3,788.2 177.3,789.0 178.8,789.0 178.8,789.6 180.3,789.6 180.3,788.9 181.8,788.9 181.8,789.5 183.3,789.5 183.3,790.5 184.8,790.5 184.8,789.4 186.3,789.4 186.3,790.1 187.8,790.1 187.8,790.5 189.3,790.5 189.3,787.9 190.8,787.9 190.8,784.7 192.3,784.7 192.3,787.0 193.8,787.0 193.8,790.2 195.3,790.2 195.3,790.0 196.8,790.0 196.8,789.0 198.2,789.0 198.2,790.7 199.7,790.7 199.7,790.5 201.2,790.5 201.2,789.5 202.7,789.5 202.7,790.1 204.2,790.1 204.2,790.9 205.7,790.9 205.7,789.8 207.2,789.8 207.2,788.3 208.7,788.3 208.7,787.6 210.2,787.6 210.2,788.7 211.7,788.7 211.7,789.5 213.2,789.5 213.2,790.1 214.7,790.1 214.7,791.3 216.2,791.3 216.2,791.7 217.7,791.7 217.7,792.1 219.2,792.1 219.2,790.9 220.7,790.9 220.7,790.8 222.2,790.8 222.2,791.8 223.7,791.8 223.7,791.0 225.2,791.0 225.2,787.7 226.7,787.7 226.7,790.8 228.2,790.8 228.2,791.4 229.7,791.4 229.7,790.1 231.2,790.1 231.2,791.3 232.7,791.3 232.7,790.9 234.2,790.9 234.2,791.2 235.7,791.2 235.7,791.4 237.2,791.4 237.2,791.9 238.7,791.9 238.7,793.0 240.2,793.0 240.2,793.8 241.7,793.8 241.7,793.3 243.2,793.3 243.2,793.1 244.7,793.1 244.7,787.9 246.2,787.9 246.2,790.7 247.7,790.7 247.7,791.1 249.2,791.1 249.2,790.5 250.7,790.5 250.7,791.2 252.2,791.2 252.2,791.6 253.7,791.6 253.7,791.5 255.2,791.5 255.2,792.4 256.7,792.4 256.7,792.1 258.1,792.1 258.1,793.8 259.6,793.8 259.6,793.4 261.1,793.4 261.1,794.3 262.6,794.3 262.6,793.4 262.6,793.4 262.6,817.1 262.6,817.1 262.6,818.3 261.1,818.3 261.1,816.7 259.6,816.7 259.6,817.5 258.1,817.5 258.1,816.8 256.7,816.8 256.7,815.3 255.2,815.3 255.2,815.7 253.7,815.7 253.7,817.0 252.2,817.0 252.2,816.2 250.7,816.2 250.7,815.8 249.2,815.8 249.2,815.7 247.7,815.7 247.7,814.1 246.2,814.1 246.2,812.4 244.7,812.4 244.7,817.6 243.2,817.6 243.2,818.1 241.7,818.1 241.7,817.5 240.2,817.5 240.2,817.8 238.7,817.8 238.7,817.3 237.2,817.3 237.2,817.1 235.7,817.1 235.7,816.7 234.2,816.7 234.2,815.2 232.7,815.2 232.7,815.1 231.2,815.1 231.2,815.0 229.7,815.0 229.7,815.2 228.2,815.2 228.2,814.9 226.7,814.9 226.7,813.1 225.2,813.1 225.2,816.4 223.7,816.4 223.7,817.3 222.2,817.3 222.2,816.4 220.7,816.4 220.7,815.5 219.2,815.5 219.2,815.8 217.7,815.8 217.7,817.2 216.2,817.2 216.2,816.2 214.7,816.2 214.7,815.0 213.2,815.0 213.2,814.7 211.7,814.7 211.7,814.8 210.2,814.8 210.2,811.5 208.7,811.5 208.7,812.1 207.2,812.1 207.2,815.3 205.7,815.3 205.7,814.9 204.2,814.9 204.2,815.8 202.7,815.8 202.7,815.4 201.2,815.4 201.2,814.9 199.7,814.9 199.7,816.0 198.2,816.0 198.2,814.5 196.8,814.5 196.8,814.3 195.3,814.3 195.3,815.1 193.8,815.1 193.8,813.2 192.3,813.2 192.3,810.0 190.8,810.0 190.8,812.6 189.3,812.6 189.3,815.2 187.8,815.2 187.8,814.7 186.3,814.7 186.3,814.4 184.8,814.4 184.8,815.4 183.3,815.4 183.3,815.8 181.8,815.8 181.8,814.3 180.3,814.3 180.3,815.3 178.8,815.3 178.8,815.1 177.3,815.1 177.3,814.6 175.8,814.6 175.8,812.2 174.3,812.2 174.3,809.1 172.8,809.1 172.8,810.6 171.3,810.6 171.3,812.1 169.8,812.1 169.8,814.5 168.3,814.5 168.3,814.0 166.8,814.0 166.8,814.8 165.3,814.8 165.3,813.0 163.8,813.0 163.8,813.3 162.3,813.3 162.3,813.1 160.8,813.1 160.8,811.4 159.3,811.4 159.3,811.9 157.8,811.9 157.8,811.5 156.3,811.5 156.3,808.2 154.8,808.2 154.8,810.6 153.3,810.6 153.3,812.1 151.8,812.1 151.8,812.5 150.3,812.5 150.3,812.4 148.8,812.4 148.8,811.4 147.3,811.4 147.3,812.0 145.8,812.0 145.8,811.4 144.3,811.4 144.3,810.8 142.8,810.8 142.8,810.2 141.3,810.2 141.3,811.1 139.8,811.1 139.8,809.4 138.3,809.4 138.3,805.9 136.9,805.9 136.9,809.2 135.4,809.2 135.4,809.8 133.9,809.8 133.9,809.6 132.4,809.6 132.4,811.0 130.9,811.0 130.9,810.0 129.4,810.0 129.4,809.5 127.9,809.5 127.9,809.3 126.4,809.3 126.4,809.1 124.9,809.1 124.9,810.2 123.4,810.2 123.4,809.1 121.9,809.1 121.9,808.0 120.4,808.0 120.4,805.3 118.9,805.3 118.9,807.9 117.4,807.9 117.4,809.6 115.9,809.6 115.9,809.6 114.4,809.6 114.4,809.2 112.9,809.2 112.9,810.3 111.4,810.3 111.4,808.6 109.9,808.6 109.9,808.2 108.4,808.2 108.4,807.9 106.9,807.9 106.9,806.9 105.4,806.9 105.4,807.1 103.9,807.1 103.9,807.9 102.4,807.9 102.4,808.6 100.9,808.6 100.9,809.8 99.4,809.8 99.4,808.4 97.9,808.4 97.9,809.9 96.4,809.9 96.4,808.4 94.9,808.4 94.9,808.7 93.4,808.7 93.4,808.1 91.9,808.1 91.9,808.8 90.4,808.8 90.4,808.7 88.9,808.7 88.9,807.7 87.4,807.7 87.4,807.6 85.9,807.6 85.9,807.6 84.4,807.6 84.4,805.7 82.9,805.7 82.9,804.2 81.4,804.2 81.4,808.0 79.9,808.0 79.9,808.2 78.4,808.2 78.4,808.3 77.0,808.3 77.0,808.5 75.5,808.5 75.5,808.0 74.0,808.0 74.0,806.4 72.5,806.4 72.5,806.9 71.0,806.9 71.0,806.9 69.5,806.9 69.5,805.9 68.0,805.9 68.0,805.0 66.5,805.0 66.5,801.8 65.0,801.8 65.0,803.7 63.5,803.7 63.5,804.8 62.0,804.8 62.0,805.5 60.5,805.5 60.5,806.3 59.0,806.3 59.0,806.0 57.5,806.0 57.5,806.0 56.0,806.0 56.0,804.3 54.5,804.3 54.5,804.4 53.0,804.4 53.0,804.0 51.5,804.0 51.5,805.3 50.0,805.3 50.0,804.9 48.5,804.9 48.5,800.6 47.0,800.6 47.0,801.3 45.5,801.3 45.5,801.6 44.0,801.6 44.0,804.0 42.5,804.0 42.5,803.4 41.0,803.4 41.0,804.0 39.5,804.0 39.5,804.7 38.0,804.7 38.0,803.9 36.5,803.9 36.5,801.6 35.0,801.6 35.0,801.7 33.5,801.7 33.5,802.8 32.0,802.8 32.0,800.5 30.5,800.5 30.5,797.1 29.0,797.1"/>
<rect x="29.0" y="766.2" width="3.0" height="34.6" fill="#fff" fill-opacity="0.11"/>
<rect x="32.0" y="770.6" width="3.0" height="34.6" fill="#fff" fill-opacity="0.32"/>
<rect x="35.0" y="770.2" width="1.5" height="34.5" fill="#fff" fill-opacity="0.29"/>
<rect x="41.0" y="772.6" width="4.5" height="34.4" fill="#fff" fill-opacity="0.19"/>
<rect x="44.0" y="771.0" width="3.0" height="34.3" fill="#fff" fill-opacity="0.27"/>
<rect x="54.5" y="773.8" width="1.5" height="34.1" fill="#fff" fill-opacity="0.10"/>
<rect x="57.5" y="774.4" width="1.5" height="34.1" fill="#fff" fill-opacity="0.27"/>
<rect x="88.9" y="777.8" width="4.5" height="33.4" fill="#fff" fill-opacity="0.33"/>
<rect x="91.9" y="778.3" width="1.5" height="33.4" fill="#fff" fill-opacity="0.28"/>
<rect x="103.9" y="777.2" width="3.0" height="33.1" fill="#fff" fill-opacity="0.15"/>
<rect x="108.4" y="779.0" width="1.5" height="33.1" fill="#fff" fill-opacity="0.13"/>
<rect x="109.9" y="779.3" width="1.5" height="33.0" fill="#fff" fill-opacity="0.28"/>
<rect x="115.9" y="779.0" width="3.0" height="32.9" fill="#fff" fill-opacity="0.11"/>
<rect x="121.9" y="779.3" width="1.5" height="32.8" fill="#fff" fill-opacity="0.34"/>
<rect x="123.4" y="779.6" width="4.5" height="32.8" fill="#fff" fill-opacity="0.32"/>
<rect x="124.9" y="779.9" width="1.5" height="32.7" fill="#fff" fill-opacity="0.21"/>
<rect x="126.4" y="780.1" width="1.5" height="32.7" fill="#fff" fill-opacity="0.11"/>
<rect x="156.3" y="781.9" width="4.5" height="32.1" fill="#fff" fill-opacity="0.31"/>
<rect x="160.8" y="783.3" width="1.5" height="32.0" fill="#fff" fill-opacity="0.15"/>
<rect x="166.8" y="785.1" width="1.5" height="31.9" fill="#fff" fill-opacity="0.30"/>
<rect x="175.8" y="785.4" width="4.5" height="31.7" fill="#fff" fill-opacity="0.16"/>
<rect x="226.7" y="787.3" width="3.0" height="30.7" fill="#fff" fill-opacity="0.11"/>
<rect x="231.2" y="787.8" width="4.5" height="30.6" fill="#fff" fill-opacity="0.22"/>
<rect x="244.7" y="785.2" width="4.5" height="30.4" fill="#fff" fill-opacity="0.16"/>
<rect x="256.7" y="789.7" width="3.0" height="30.1" fill="#fff" fill-opacity="0.23"/>
<rect x="259.6" y="790.5" width="1.5" height="30.1" fill="#fff" fill-opacity="0.27"/>
</g>
<polyline fill="none" stroke="#1f77b4" stroke-width="1.15" stroke-linejoin="round" points="29.0,771.5 30.4,784.1 31.8,794.0 33.3,789.8 34.4,787.0 35.5,745.5 36.6,782.7 38.0,787.0 40.9,787.0 43.7,787.0 46.5,785.6 47.9,784.1 49.3,787.0 50.7,789.8 53.6,792.6 55.0,796.8 56.4,792.6 59.2,791.2 62.0,792.6 64.8,795.4 66.2,788.4 67.6,771.5 68.8,768.6 70.5,778.5 71.9,784.1 74.7,788.4 77.5,791.2 80.3,794.0 83.1,796.8 84.6,822.2 85.4,836.3 87.4,822.2 88.8,816.6 91.6,812.3 95.8,809.5 98.6,808.1 100.1,799.6 102.0,781.3 104.3,773.7 105.7,778.5 107.1,799.6 108.5,795.4 111.3,792.6 115.6,792.6 118.4,791.2 119.8,784.1 121.2,781.3 122.6,787.0 125.4,788.4 128.2,789.8 131.1,795.4 133.9,796.8 136.1,788.4 137.5,774.3 138.7,788.4 140.9,795.4 145.2,796.8 148.0,798.2 149.9,796.8 152.7,798.2 154.1,794.0 155.5,792.6 156.9,802.5 158.3,801.1 159.7,798.2 162.5,797.4 165.4,799.6 168.2,802.5 171.0,804.7 173.8,805.8 176.6,805.3 179.5,803.9 182.3,807.5 185.1,810.4 187.9,809.5 190.7,808.1 193.6,809.5 196.4,808.7 199.2,809.5 202.0,808.1 204.8,806.7 207.6,799.6 209.1,789.8 210.5,796.8 211.9,799.6 213.3,802.5 214.7,806.7 216.1,810.9 217.5,805.8 220.3,805.3 223.1,805.8 226.0,802.5 227.4,798.2 228.8,796.8 230.2,791.2 231.6,789.8 234.4,788.4 237.2,789.8 240.1,791.2 242.9,791.2 244.3,791.8"/>
<polyline fill="none" stroke="#ff0000" stroke-width="1.15" stroke-linejoin="round" points="29.0,781.3 31.0,787.0 33.8,788.4 35.5,787.0 38.0,789.8 42.3,789.8 46.5,787.0 47.9,785.6 49.3,791.2 52.1,789.8 56.4,791.2 60.6,791.8 64.8,789.8 66.2,787.0 67.6,792.6 71.9,792.6 76.1,794.0 80.3,794.0 83.1,789.8 84.6,794.0 90.2,794.6 95.8,795.4 100.1,795.4 104.3,794.0 107.1,792.6 108.5,795.4 112.7,796.3 117.0,795.4 119.8,791.2 121.2,795.4 125.4,796.3 131.1,796.8 135.3,797.4 137.5,792.6 139.5,797.4 143.7,798.2 148.0,799.1 148.5,799.1 152.7,799.6 155.5,793.4 156.9,798.2 161.1,799.1 165.4,801.1 169.6,801.1 173.3,795.4 175.2,801.1 179.5,801.9 185.1,802.5 189.3,802.5 191.6,796.8 193.6,801.9 197.8,802.5 202.0,803.0 206.2,803.0 209.1,798.2 211.0,802.5 216.1,803.9 221.7,803.9 224.6,804.7 226.0,799.1 227.9,803.9 231.6,803.0 235.8,803.9 240.1,805.3 244.3,805.8 245.7,799.1 247.1,803.9 249.9,803.0 252.7,804.7 255.6,803.9 258.4,805.3 262.6,805.8"/>
</g>
<rect x="18.30" y="741.80" width="256.20" height="100.00" fill="none" stroke="#444" stroke-width="0.9"/>
<line x1="16.10" y1="828.10" x2="18.30" y2="828.10" stroke="#444" stroke-width="0.7"/>
<text x="14.50" y="829.85" font-size="5.0" fill="#333" stroke="#333" stroke-width="0.06" text-anchor="end" textLength="2.70" lengthAdjust="spacingAndGlyphs">0</text>
<line x1="16.10" y1="812.38" x2="18.30" y2="812.38" stroke="#444" stroke-width="0.7"/>
<text x="14.50" y="814.13" font-size="5.0" fill="#333" stroke="#333" stroke-width="0.06" text-anchor="end" textLength="2.70" lengthAdjust="spacingAndGlyphs">2</text>
<line x1="16.10" y1="796.66" x2="18.30" y2="796.66" stroke="#444" stroke-width="0.7"/>
<text x="14.50" y="798.41" font-size="5.0" fill="#333" stroke="#333" stroke-width="0.06" text-anchor="end" textLength="2.70" lengthAdjust="spacingAndGlyphs">4</text>
<line x1="16.10" y1="780.94" x2="18.30" y2="780.94" stroke="#444" stroke-width="0.7"/>
<text x="14.50" y="782.69" font-size="5.0" fill="#333" stroke="#333" stroke-width="0.06" text-anchor="end" textLength="2.70" lengthAdjust="spacingAndGlyphs">6</text>
<line x1="16.10" y1="765.22" x2="18.30" y2="765.22" stroke="#444" stroke-width="0.7"/>
<text x="14.50" y="766.97" font-size="5.0" fill="#333" stroke="#333" stroke-width="0.06" text-anchor="end" textLength="2.70" lengthAdjust="spacingAndGlyphs">8</text>
<line x1="16.10" y1="749.50" x2="18.30" y2="749.50" stroke="#444" stroke-width="0.7"/>
<text x="14.50" y="751.25" font-size="5.0" fill="#333" stroke="#333" stroke-width="0.06" text-anchor="end" textLength="5.39" lengthAdjust="spacingAndGlyphs">10</text>
<line x1="28.60" y1="841.80" x2="28.60" y2="844.00" stroke="#444" stroke-width="0.7"/>
<text x="28.60" y="849.50" font-size="5.0" fill="#333" stroke="#333" stroke-width="0.06" text-anchor="middle" textLength="10.79" lengthAdjust="spacingAndGlyphs">2012</text>
<line x1="64.54" y1="841.80" x2="64.54" y2="844.00" stroke="#444" stroke-width="0.7"/>
<text x="64.54" y="849.50" font-size="5.0" fill="#333" stroke="#333" stroke-width="0.06" text-anchor="middle" textLength="10.79" lengthAdjust="spacingAndGlyphs">2014</text>
<line x1="100.48" y1="841.80" x2="100.48" y2="844.00" stroke="#444" stroke-width="0.7"/>
<text x="100.48" y="849.50" font-size="5.0" fill="#333" stroke="#333" stroke-width="0.06" text-anchor="middle" textLength="10.79" lengthAdjust="spacingAndGlyphs">2016</text>
<line x1="136.42" y1="841.80" x2="136.42" y2="844.00" stroke="#444" stroke-width="0.7"/>
<text x="136.42" y="849.50" font-size="5.0" fill="#333" stroke="#333" stroke-width="0.06" text-anchor="middle" textLength="10.79" lengthAdjust="spacingAndGlyphs">2018</text>
<line x1="172.36" y1="841.80" x2="172.36" y2="844.00" stroke="#444" stroke-width="0.7"/>
<text x="172.36" y="849.50" font-size="5.0" fill="#333" stroke="#333" stroke-width="0.06" text-anchor="middle" textLength="10.79" lengthAdjust="spacingAndGlyphs">2020</text>
<line x1="208.30" y1="841.80" x2="208.30" y2="844.00" stroke="#444" stroke-width="0.7"/>
<text x="208.30" y="849.50" font-size="5.0" fill="#333" stroke="#333" stroke-width="0.06" text-anchor="middle" textLength="10.79" lengthAdjust="spacingAndGlyphs">2022</text>
<line x1="244.24" y1="841.80" x2="244.24" y2="844.00" stroke="#444" stroke-width="0.7"/>
<text x="244.24" y="849.50" font-size="5.0" fill="#333" stroke="#333" stroke-width="0.06" text-anchor="middle" textLength="10.79" lengthAdjust="spacingAndGlyphs">2024</text>
<text x="146.40" y="739.20" font-size="6.1" fill="#333" stroke="#333" stroke-width="0.14" text-anchor="middle" textLength="74.30" lengthAdjust="spacingAndGlyphs">Jeonnam Prophet Forecast</text>
<rect x="231.00" y="744.00" width="41" height="16.3" rx="1" fill="#fff" fill-opacity="0.8" stroke="#ddd" stroke-width="0.5"/>
<line x1="232.50" y1="748.20" x2="243.50" y2="748.20" stroke="#1f77b4" stroke-width="1.15"/>
<line x1="232.50" y1="755.30" x2="243.50" y2="755.30" stroke="#ff0000" stroke-width="1.15"/>
<text x="248.00" y="750.00" font-size="5.4" fill="#333" stroke="#333" stroke-width="0.08" textLength="21.3" lengthAdjust="spacingAndGlyphs">Observed</text>
<text x="248.00" y="757.10" font-size="5.4" fill="#333" stroke="#333" stroke-width="0.08" textLength="19.4" lengthAdjust="spacingAndGlyphs">Forecast</text>
<g clip-path="url(#cp13)">
<g filter="url(#bl)"><polygon fill="#fde5ea" points="299.8,776.7 301.3,776.7 301.3,776.6 302.8,776.6 302.8,778.3 304.3,778.3 304.3,779.1 305.8,779.1 305.8,780.4 307.3,780.4 307.3,780.4 308.8,780.4 308.8,782.6 310.3,782.6 310.3,782.7 311.8,782.7 311.8,781.8 313.3,781.8 313.3,781.4 314.8,781.4 314.8,780.0 316.3,780.0 316.3,779.0 317.8,779.0 317.8,777.0 319.3,777.0 319.3,778.1 320.8,778.1 320.8,780.2 322.3,780.2 322.3,781.0 323.8,781.0 323.8,782.0 325.3,782.0 325.3,782.1 326.8,782.1 326.8,783.4 328.3,783.4 328.3,782.4 329.8,782.4 329.8,781.3 331.3,781.3 331.3,780.6 332.7,780.6 332.7,779.1 334.2,779.1 334.2,778.0 335.7,778.0 335.7,778.2 337.2,778.2 337.2,779.9 338.7,779.9 338.7,779.9 340.2,779.9 340.2,780.3 341.7,780.3 341.7,780.7 343.2,780.7 343.2,783.6 344.7,783.6 344.7,784.5 346.2,784.5 346.2,783.8 347.7,783.8 347.7,783.9 349.2,783.9 349.2,783.4 350.7,783.4 350.7,782.9 352.2,782.9 352.2,781.5 353.7,781.5 353.7,781.2 355.2,781.2 355.2,780.4 356.7,780.4 356.7,781.8 358.2,781.8 358.2,783.3 359.7,783.3 359.7,784.4 361.2,784.4 361.2,785.0 362.7,785.0 362.7,784.9 364.2,784.9 364.2,786.3 365.7,786.3 365.7,784.7 367.2,784.7 367.2,784.6 368.7,784.6 368.7,784.8 370.2,784.8 370.2,783.3 371.7,783.3 371.7,782.6 373.2,782.6 373.2,782.7 374.7,782.7 374.7,784.5 376.2,784.5 376.2,786.2 377.7,786.2 377.7,786.8 379.2,786.8 379.2,787.2 380.7,787.2 380.7,788.1 382.2,788.1 382.2,788.0 383.7,788.0 383.7,787.7 385.2,787.7 385.2,787.7 386.7,787.7 386.7,788.5 388.2,788.5 388.2,787.7 389.7,787.7 389.7,786.0 391.2,786.0 391.2,784.9 392.6,784.9 392.6,784.4 394.1,784.4 394.1,786.7 395.6,786.7 395.6,787.7 397.1,787.7 397.1,787.2 398.6,787.2 398.6,789.5 400.1,789.5 400.1,789.7 401.6,789.7 401.6,790.2 403.1,790.2 403.1,790.3 404.6,790.3 404.6,788.2 406.1,788.2 406.1,787.2 407.6,787.2 407.6,787.1 409.1,787.1 409.1,788.1 410.6,788.1 410.6,789.3 412.1,789.3 412.1,789.4 413.6,789.4 413.6,792.1 415.1,792.1 415.1,791.7 416.6,791.7 416.6,791.6 418.1,791.6 418.1,793.2 419.6,793.2 419.6,791.6 421.1,791.6 421.1,791.6 422.6,791.6 422.6,792.0 424.1,792.0 424.1,789.5 425.6,789.5 425.6,787.6 427.1,787.6 427.1,789.1 428.6,789.1 428.6,790.0 430.1,790.0 430.1,792.1 431.6,792.1 431.6,792.2 433.1,792.2 433.1,794.2 434.6,794.2 434.6,794.2 436.1,794.2 436.1,794.6 437.6,794.6 437.6,795.0 439.1,795.0 439.1,793.5 440.6,793.5 440.6,793.3 442.1,793.3 442.1,792.6 443.6,792.6 443.6,791.1 445.1,791.1 445.1,790.5 446.6,790.5 446.6,791.3 448.1,791.3 448.1,793.0 449.6,793.0 449.6,793.5 451.1,793.5 451.1,795.3 452.5,795.3 452.5,795.4 454.0,795.4 454.0,796.3 455.5,796.3 455.5,797.1 457.0,797.1 457.0,796.3 458.5,796.3 458.5,796.4 460.0,796.4 460.0,795.5 461.5,795.5 461.5,795.3 463.0,795.3 463.0,794.3 464.5,794.3 464.5,795.1 466.0,795.1 466.0,797.0 467.5,797.0 467.5,797.9 469.0,797.9 469.0,797.7 470.5,797.7 470.5,799.0 472.0,799.0 472.0,799.4 473.5,799.4 473.5,799.4 475.0,799.4 475.0,799.1 476.5,799.1 476.5,800.0 478.0,800.0 478.0,799.2 479.5,799.2 479.5,798.4 481.0,798.4 481.0,798.0 482.5,798.0 482.5,797.6 484.0,797.6 484.0,799.0 485.5,799.0 485.5,799.8 487.0,799.8 487.0,800.8 488.5,800.8 488.5,801.5 490.0,801.5 490.0,801.3 491.5,801.3 491.5,801.7 493.0,801.7 493.0,802.8 494.5,802.8 494.5,800.8 496.0,800.8 496.0,799.9 497.5,799.9 497.5,798.0 499.0,798.0 499.0,800.4 500.5,800.4 500.5,800.9 502.0,800.9 502.0,802.1 503.5,802.1 503.5,802.7 505.0,802.7 505.0,802.7 506.5,802.7 506.5,802.7 508.0,802.7 508.0,804.4 509.5,804.4 509.5,804.1 511.0,804.1 511.0,804.8 512.4,804.8 512.4,803.4 513.9,803.4 513.9,802.2 515.4,802.2 515.4,800.9 516.9,800.9 516.9,801.8 518.4,801.8 518.4,802.7 519.9,802.7 519.9,803.7 521.4,803.7 521.4,804.8 522.9,804.8 522.9,806.2 524.4,806.2 524.4,807.1 525.9,807.1 525.9,807.7 527.4,807.7 527.4,807.1 528.9,807.1 528.9,806.3 530.4,806.3 530.4,806.6 531.9,806.6 531.9,806.1 533.1,806.1 533.4,806.1 533.1,806.1 533.1,836.6 533.4,836.6 533.1,835.7 531.9,835.7 531.9,836.2 530.4,836.2 530.4,836.6 528.9,836.6 528.9,836.6 527.4,836.6 527.4,838.0 525.9,838.0 525.9,838.0 524.4,838.0 524.4,836.9 522.9,836.9 522.9,835.6 521.4,835.6 521.4,833.3 519.9,833.3 519.9,833.2 518.4,833.2 518.4,832.1 516.9,832.1 516.9,829.8 515.4,829.8 515.4,833.3 513.9,833.3 513.9,835.1 512.4,835.1 512.4,833.8 511.0,833.8 511.0,835.1 509.5,835.1 509.5,834.5 508.0,834.5 508.0,834.3 506.5,834.3 506.5,833.9 505.0,833.9 505.0,832.9 503.5,832.9 503.5,832.2 502.0,832.2 502.0,829.8 500.5,829.8 500.5,829.2 499.0,829.2 499.0,828.7 497.5,828.7 497.5,829.4 496.0,829.4 496.0,831.0 494.5,831.0 494.5,832.1 493.0,832.1 493.0,832.2 491.5,832.2 491.5,832.2 490.0,832.2 490.0,832.4 488.5,832.4 488.5,830.4 487.0,830.4 487.0,830.0 485.5,830.0 485.5,829.4 484.0,829.4 484.0,827.7 482.5,827.7 482.5,827.1 481.0,827.1 481.0,829.2 479.5,829.2 479.5,829.7 478.0,829.7 478.0,830.2 476.5,830.2 476.5,829.9 475.0,829.9 475.0,828.6 473.5,828.6 473.5,829.6 472.0,829.6 472.0,828.5 470.5,828.5 470.5,828.8 469.0,828.8 469.0,828.7 467.5,828.7 467.5,827.2 466.0,827.2 466.0,825.3 464.5,825.3 464.5,823.7 463.0,823.7 463.0,825.1 461.5,825.1 461.5,825.7 460.0,825.7 460.0,826.9 458.5,826.9 458.5,827.2 457.0,827.2 457.0,827.0 455.5,827.0 455.5,826.2 454.0,826.2 454.0,825.6 452.5,825.6 452.5,824.6 451.1,824.6 451.1,824.4 449.6,824.4 449.6,823.4 448.1,823.4 448.1,822.1 446.6,822.1 446.6,820.1 445.1,820.1 445.1,821.0 443.6,821.0 443.6,823.5 442.1,823.5 442.1,823.5 440.6,823.5 440.6,824.7 439.1,824.7 439.1,824.5 437.6,824.5 437.6,824.9 436.1,824.9 436.1,825.3 434.6,825.3 434.6,825.0 433.1,825.0 433.1,824.0 431.6,824.0 431.6,822.4 430.1,822.4 430.1,820.3 428.6,820.3 428.6,818.7 427.1,818.7 427.1,817.0 425.6,817.0 425.6,819.3 424.1,819.3 424.1,822.3 422.6,822.3 422.6,822.3 421.1,822.3 421.1,822.7 419.6,822.7 419.6,822.4 418.1,822.4 418.1,822.9 416.6,822.9 416.6,821.9 415.1,821.9 415.1,821.3 413.6,821.3 413.6,820.7 412.1,820.7 412.1,819.8 410.6,819.8 410.6,818.7 409.1,818.7 409.1,816.3 407.6,816.3 407.6,817.8 406.1,817.8 406.1,819.4 404.6,819.4 404.6,822.1 403.1,822.1 403.1,820.4 401.6,820.4 401.6,819.3 400.1,819.3 400.1,820.0 398.6,820.0 398.6,819.1 397.1,819.1 397.1,817.3 395.6,817.3 395.6,816.2 394.1,816.2 394.1,815.1 392.6,815.1 392.6,815.2 391.2,815.2 391.2,816.2 389.7,816.2 389.7,817.4 388.2,817.4 388.2,818.9 386.7,818.9 386.7,818.1 385.2,818.1 385.2,818.0 383.7,818.0 383.7,818.2 382.2,818.2 382.2,817.5 380.7,817.5 380.7,817.3 379.2,817.3 379.2,817.5 377.7,817.5 377.7,817.0 376.2,817.0 376.2,815.6 374.7,815.6 374.7,812.9 373.2,812.9 373.2,811.6 371.7,811.6 371.7,813.2 370.2,813.2 370.2,813.9 368.7,813.9 368.7,815.4 367.2,815.4 367.2,816.5 365.7,816.5 365.7,816.6 364.2,816.6 364.2,816.5 362.7,816.5 362.7,814.5 361.2,814.5 361.2,813.7 359.7,813.7 359.7,814.1 358.2,814.1 358.2,812.9 356.7,812.9 356.7,811.1 355.2,811.1 355.2,812.0 353.7,812.0 353.7,813.0 352.2,813.0 352.2,813.8 350.7,813.8 350.7,813.4 349.2,813.4 349.2,814.8 347.7,814.8 347.7,815.2 346.2,815.2 346.2,813.8 344.7,813.8 344.7,813.0 343.2,813.0 343.2,811.3 341.7,811.3 341.7,810.7 340.2,810.7 340.2,811.2 338.7,811.2 338.7,811.2 337.2,811.2 337.2,808.4 335.7,808.4 335.7,807.7 334.2,807.7 334.2,809.9 332.7,809.9 332.7,810.7 331.3,810.7 331.3,811.7 329.8,811.7 329.8,812.5 328.3,812.5 328.3,812.8 326.8,812.8 326.8,813.1 325.3,813.1 325.3,812.4 323.8,812.4 323.8,810.2 322.3,810.2 322.3,809.8 320.8,809.8 320.8,808.6 319.3,808.6 319.3,808.3 317.8,808.3 317.8,809.1 316.3,809.1 316.3,809.3 314.8,809.3 314.8,810.8 313.3,810.8 313.3,812.4 311.8,812.4 311.8,812.9 310.3,812.9 310.3,812.0 308.8,812.0 308.8,810.8 307.3,810.8 307.3,809.4 305.8,809.4 305.8,808.6 304.3,808.6 304.3,808.5 302.8,808.5 302.8,807.1 301.3,807.1 301.3,806.9 299.8,806.9"/>
<rect x="316.3" y="775.2" width="1.5" height="36.4" fill="#fff" fill-opacity="0.23"/>
<rect x="322.3" y="777.6" width="3.0" height="36.4" fill="#fff" fill-opacity="0.11"/>
<rect x="362.7" y="782.3" width="1.5" height="36.4" fill="#fff" fill-opacity="0.21"/>
<rect x="370.2" y="780.0" width="3.0" height="36.4" fill="#fff" fill-opacity="0.19"/>
<rect x="377.7" y="783.8" width="3.0" height="36.3" fill="#fff" fill-opacity="0.11"/>
<rect x="380.7" y="784.2" width="1.5" height="36.3" fill="#fff" fill-opacity="0.32"/>
<rect x="383.7" y="785.1" width="4.5" height="36.3" fill="#fff" fill-opacity="0.24"/>
<rect x="395.6" y="784.0" width="4.5" height="36.3" fill="#fff" fill-opacity="0.25"/>
<rect x="401.6" y="787.6" width="4.5" height="36.3" fill="#fff" fill-opacity="0.12"/>
<rect x="406.1" y="784.0" width="4.5" height="36.3" fill="#fff" fill-opacity="0.25"/>
<rect x="409.1" y="785.1" width="4.5" height="36.3" fill="#fff" fill-opacity="0.24"/>
<rect x="413.6" y="788.3" width="1.5" height="36.3" fill="#fff" fill-opacity="0.26"/>
<rect x="416.6" y="789.4" width="3.0" height="36.3" fill="#fff" fill-opacity="0.29"/>
<rect x="421.1" y="789.0" width="1.5" height="36.3" fill="#fff" fill-opacity="0.21"/>
<rect x="422.6" y="788.3" width="3.0" height="36.3" fill="#fff" fill-opacity="0.33"/>
<rect x="448.1" y="790.1" width="1.5" height="36.3" fill="#fff" fill-opacity="0.30"/>
<rect x="452.5" y="793.0" width="4.5" height="36.2" fill="#fff" fill-opacity="0.33"/>
<rect x="454.0" y="793.5" width="4.5" height="36.2" fill="#fff" fill-opacity="0.11"/>
<rect x="475.0" y="796.4" width="1.5" height="36.2" fill="#fff" fill-opacity="0.25"/>
<rect x="479.5" y="795.6" width="4.5" height="36.2" fill="#fff" fill-opacity="0.20"/>
<rect x="488.5" y="798.3" width="3.0" height="36.2" fill="#fff" fill-opacity="0.32"/>
<rect x="503.5" y="799.4" width="1.5" height="36.2" fill="#fff" fill-opacity="0.20"/>
<rect x="511.0" y="801.3" width="1.5" height="36.2" fill="#fff" fill-opacity="0.27"/>
<rect x="513.9" y="799.3" width="4.5" height="36.2" fill="#fff" fill-opacity="0.11"/>
<rect x="515.4" y="797.2" width="4.5" height="36.2" fill="#fff" fill-opacity="0.23"/>
<rect x="522.9" y="802.9" width="1.5" height="36.2" fill="#fff" fill-opacity="0.13"/>
<rect x="525.9" y="804.1" width="1.5" height="36.2" fill="#fff" fill-opacity="0.26"/>
</g>
<polyline fill="none" stroke="#1f77b4" stroke-width="1.15" stroke-linejoin="round" points="299.8,789.8 300.9,784.1 301.8,782.7 303.2,788.4 304.6,789.8 306.0,746.1 307.4,802.5 310.2,803.9 313.0,808.1 315.9,810.9 317.3,808.1 318.7,794.0 320.1,792.6 321.5,795.4 322.9,801.1 324.3,806.7 325.7,803.9 327.1,796.8 328.6,802.5 331.4,805.3 333.6,806.7 335.6,813.7 336.4,818.0 337.6,810.9 339.3,816.6 340.4,792.6 342.1,795.4 344.1,801.1 346.9,805.3 349.7,806.7 352.5,808.1 353.9,799.6 355.3,774.3 357.3,782.7 359.0,794.0 361.0,792.6 362.4,789.8 363.8,794.0 366.6,788.4 369.4,784.1 372.2,779.9 373.6,788.4 375.1,796.8 376.5,802.5 377.9,799.6 379.3,796.8 382.1,796.8 384.9,796.8 387.7,792.6 390.0,788.4 391.1,798.2 392.8,801.1 394.8,802.5 397.6,803.9 400.4,803.9 403.5,803.9 406.3,799.6 407.7,771.5 408.5,764.4 409.7,775.7 411.3,784.1 413.3,792.6 415.3,798.2 417.5,801.1 420.4,799.6 423.2,801.1 425.4,803.9 426.6,816.6 427.4,829.2 428.3,831.2 429.4,822.2 431.1,816.6 433.0,812.3 435.9,810.9 438.7,809.5 441.5,808.1 443.5,809.5 445.2,806.7 447.1,802.5 448.6,808.1 451.4,812.3 454.2,815.1 457.0,816.6 459.8,818.0 462.6,822.2 464.1,829.2 466.9,827.8 469.7,827.8 472.5,827.8 475.3,826.4 478.1,825.0 479.6,827.8 481.0,822.2 482.9,813.7 484.6,816.6 486.6,813.7 489.4,818.0 492.2,823.6 494.2,822.2 496.5,810.9 498.7,790.6 500.7,796.8 502.1,806.7 503.5,810.9 505.5,806.7 507.7,802.5 510.6,802.5 512.8,803.9 514.8,804.7"/>
<polyline fill="none" stroke="#ff0000" stroke-width="1.15" stroke-linejoin="round" points="299.8,791.2 301.8,791.2 304.6,794.0 307.4,795.4 310.2,798.2 313.0,797.4 315.9,794.0 318.7,792.6 321.5,794.6 324.3,796.8 327.1,798.2 330.0,796.8 332.8,795.4 335.6,792.6 338.4,796.3 341.2,795.4 344.1,798.2 346.9,799.6 349.7,799.1 352.5,797.4 355.3,795.4 358.1,798.2 361.0,799.6 365.2,801.1 369.4,799.6 372.2,796.8 375.1,799.6 377.9,801.9 382.1,802.5 386.3,803.9 389.1,802.5 392.0,799.6 394.8,801.1 399.0,803.9 401.8,805.3 403.5,806.7 407.7,801.1 410.5,803.9 414.7,806.7 419.0,808.1 423.2,806.7 426.6,802.5 430.2,806.7 434.5,809.5 438.7,809.5 442.9,808.1 445.7,805.3 448.6,808.1 452.8,810.9 457.0,812.3 461.2,810.9 464.1,808.1 466.9,812.3 472.5,813.7 478.1,815.1 482.4,812.3 485.2,813.7 489.4,816.6 493.6,818.0 497.9,813.7 500.7,815.1 504.9,818.0 509.1,819.4 513.4,819.4 516.2,815.1 519.0,818.0 522.4,819.9 525.2,822.2 528.9,822.2 533.1,820.8"/>
</g>
<rect x="289.00" y="741.80" width="256.20" height="100.00" fill="none" stroke="#444" stroke-width="0.9"/>
<line x1="286.80" y1="839.70" x2="289.00" y2="839.70" stroke="#444" stroke-width="0.7"/>
<text x="285.20" y="841.45" font-size="5.0" fill="#333" stroke="#333" stroke-width="0.06" text-anchor="end" textLength="2.70" lengthAdjust="spacingAndGlyphs">1</text>
<line x1="286.80" y1="827.83" x2="289.00" y2="827.83" stroke="#444" stroke-width="0.7"/>
<text x="285.20" y="829.58" font-size="5.0" fill="#333" stroke="#333" stroke-width="0.06" text-anchor="end" textLength="2.70" lengthAdjust="spacingAndGlyphs">2</text>
<line x1="286.80" y1="815.95" x2="289.00" y2="815.95" stroke="#444" stroke-width="0.7"/>
<text x="285.20" y="817.70" font-size="5.0" fill="#333" stroke="#333" stroke-width="0.06" text-anchor="end" textLength="2.70" lengthAdjust="spacingAndGlyphs">3</text>
<line x1="286.80" y1="804.08" x2="289.00" y2="804.08" stroke="#444" stroke-width="0.7"/>
<text x="285.20" y="805.83" font-size="5.0" fill="#333" stroke="#333" stroke-width="0.06" text-anchor="end" textLength="2.70" lengthAdjust="spacingAndGlyphs">4</text>
<line x1="286.80" y1="792.20" x2="289.00" y2="792.20" stroke="#444" stroke-width="0.7"/>
<text x="285.20" y="793.95" font-size="5.0" fill="#333" stroke="#333" stroke-width="0.06" text-anchor="end" textLength="2.70" lengthAdjust="spacingAndGlyphs">5</text>
<line x1="286.80" y1="780.33" x2="289.00" y2="780.33" stroke="#444" stroke-width="0.7"/>
<text x="285.20" y="782.08" font-size="5.0" fill="#333" stroke="#333" stroke-width="0.06" text-anchor="end" textLength="2.70" lengthAdjust="spacingAndGlyphs">6</text>
<line x1="286.80" y1="768.45" x2="289.00" y2="768.45" stroke="#444" stroke-width="0.7"/>
<text x="285.20" y="770.20" font-size="5.0" fill="#333" stroke="#333" stroke-width="0.06" text-anchor="end" textLength="2.70" lengthAdjust="spacingAndGlyphs">7</text>
<line x1="286.80" y1="756.58" x2="289.00" y2="756.58" stroke="#444" stroke-width="0.7"/>
<text x="285.20" y="758.33" font-size="5.0" fill="#333" stroke="#333" stroke-width="0.06" text-anchor="end" textLength="2.70" lengthAdjust="spacingAndGlyphs">8</text>
<line x1="286.80" y1="744.70" x2="289.00" y2="744.70" stroke="#444" stroke-width="0.7"/>
<text x="285.20" y="746.45" font-size="5.0" fill="#333" stroke="#333" stroke-width="0.06" text-anchor="end" textLength="2.70" lengthAdjust="spacingAndGlyphs">9</text>
<line x1="299.30" y1="841.80" x2="299.30" y2="844.00" stroke="#444" stroke-width="0.7"/>
<text x="299.30" y="849.50" font-size="5.0" fill="#333" stroke="#333" stroke-width="0.06" text-anchor="middle" textLength="10.79" lengthAdjust="spacingAndGlyphs">2012</text>
<line x1="335.24" y1="841.80" x2="335.24" y2="844.00" stroke="#444" stroke-width="0.7"/>
<text x="335.24" y="849.50" font-size="5.0" fill="#333" stroke="#333" stroke-width="0.06" text-anchor="middle" textLength="10.79" lengthAdjust="spacingAndGlyphs">2014</text>
<line x1="371.18" y1="841.80" x2="371.18" y2="844.00" stroke="#444" stroke-width="0.7"/>
<text x="371.18" y="849.50" font-size="5.0" fill="#333" stroke="#333" stroke-width="0.06" text-anchor="middle" textLength="10.79" lengthAdjust="spacingAndGlyphs">2016</text>
<line x1="407.12" y1="841.80" x2="407.12" y2="844.00" stroke="#444" stroke-width="0.7"/>
<text x="407.12" y="849.50" font-size="5.0" fill="#333" stroke="#333" stroke-width="0.06" text-anchor="middle" textLength="10.79" lengthAdjust="spacingAndGlyphs">2018</text>
<line x1="443.06" y1="841.80" x2="443.06" y2="844.00" stroke="#444" stroke-width="0.7"/>
<text x="443.06" y="849.50" font-size="5.0" fill="#333" stroke="#333" stroke-width="0.06" text-anchor="middle" textLength="10.79" lengthAdjust="spacingAndGlyphs">2020</text>
<line x1="479.00" y1="841.80" x2="479.00" y2="844.00" stroke="#444" stroke-width="0.7"/>
<text x="479.00" y="849.50" font-size="5.0" fill="#333" stroke="#333" stroke-width="0.06" text-anchor="middle" textLength="10.79" lengthAdjust="spacingAndGlyphs">2022</text>
<line x1="514.94" y1="841.80" x2="514.94" y2="844.00" stroke="#444" stroke-width="0.7"/>
<text x="514.94" y="849.50" font-size="5.0" fill="#333" stroke="#333" stroke-width="0.06" text-anchor="middle" textLength="10.79" lengthAdjust="spacingAndGlyphs">2024</text>
<text x="417.10" y="739.20" font-size="6.1" fill="#333" stroke="#333" stroke-width="0.14" text-anchor="middle" textLength="72.25" lengthAdjust="spacingAndGlyphs">Jeonbuk Prophet Forecast</text>
<rect x="501.70" y="744.00" width="41" height="16.3" rx="1" fill="#fff" fill-opacity="0.8" stroke="#ddd" stroke-width="0.5"/>
<line x1="503.20" y1="748.20" x2="514.20" y2="748.20" stroke="#1f77b4" stroke-width="1.15"/>
<line x1="503.20" y1="755.30" x2="514.20" y2="755.30" stroke="#ff0000" stroke-width="1.15"/>
<text x="518.70" y="750.00" font-size="5.4" fill="#333" stroke="#333" stroke-width="0.08" textLength="21.3" lengthAdjust="spacingAndGlyphs">Observed</text>
<text x="518.70" y="757.10" font-size="5.4" fill="#333" stroke="#333" stroke-width="0.08" textLength="19.4" lengthAdjust="spacingAndGlyphs">Forecast</text>
<g clip-path="url(#cp14)">
<g filter="url(#bl)"><polygon fill="#fde5ea" points="29.6,914.8 31.1,914.8 31.1,913.3 32.6,913.3 32.6,914.5 34.1,914.5 34.1,913.4 35.6,913.4 35.6,914.8 37.1,914.8 37.1,916.5 38.6,916.5 38.6,917.4 40.1,917.4 40.1,917.7 41.6,917.7 41.6,918.5 43.1,918.5 43.1,918.0 44.6,918.0 44.6,917.0 46.1,917.0 46.1,911.9 47.6,911.9 47.6,911.3 49.1,911.3 49.1,914.6 50.6,914.6 50.6,916.3 52.1,916.3 52.1,917.0 53.6,917.0 53.6,917.5 55.1,917.5 55.1,917.6 56.5,917.6 56.5,919.1 58.0,919.1 58.0,919.1 59.5,919.1 59.5,920.9 61.0,920.9 61.0,921.6 62.5,921.6 62.5,920.8 64.0,920.8 64.0,918.9 65.5,918.9 65.5,916.6 67.0,916.6 67.0,918.2 68.5,918.2 68.5,919.0 70.0,919.0 70.0,920.2 71.5,920.2 71.5,920.0 73.0,920.0 73.0,921.3 74.5,921.3 74.5,921.4 76.0,921.4 76.0,922.7 77.5,922.7 77.5,922.9 79.0,922.9 79.0,923.0 80.5,923.0 80.5,924.1 82.0,924.1 82.0,923.2 83.5,923.2 83.5,919.8 85.0,919.8 85.0,917.9 86.5,917.9 86.5,922.6 88.0,922.6 88.0,923.7 89.5,923.7 89.5,923.7 91.0,923.7 91.0,923.6 92.5,923.6 92.5,924.1 94.0,924.1 94.0,925.0 95.5,925.0 95.5,925.0 97.0,925.0 97.0,925.8 98.5,925.8 98.5,925.9 100.0,925.9 100.0,925.4 101.5,925.4 101.5,927.1 103.0,927.1 103.0,926.0 104.5,926.0 104.5,925.1 106.0,925.1 106.0,925.2 107.5,925.2 107.5,924.8 109.0,924.8 109.0,926.9 110.5,926.9 110.5,930.4 112.0,930.4 112.0,929.6 113.5,929.6 113.5,931.0 115.0,931.0 115.0,931.5 116.4,931.5 116.4,931.0 117.9,931.0 117.9,928.2 119.4,928.2 119.4,925.0 120.9,925.0 120.9,929.3 122.4,929.3 122.4,929.8 123.9,929.8 123.9,931.4 125.4,931.4 125.4,931.4 126.9,931.4 126.9,931.1 128.4,931.1 128.4,931.7 129.9,931.7 129.9,930.7 131.4,930.7 131.4,930.9 132.9,930.9 132.9,931.2 134.4,931.2 134.4,930.8 135.9,930.8 135.9,928.7 137.4,928.7 137.4,924.5 138.9,924.5 138.9,927.2 140.4,927.2 140.4,930.4 141.9,930.4 141.9,929.6 143.4,929.6 143.4,930.6 144.9,930.6 144.9,930.2 146.4,930.2 146.4,931.9 147.9,931.9 147.9,931.8 149.4,931.8 149.4,930.9 150.9,930.9 150.9,931.0 152.4,931.0 152.4,930.3 153.9,930.3 153.9,929.6 155.4,929.6 155.4,925.6 156.9,925.6 156.9,924.5 158.4,924.5 158.4,926.6 159.9,926.6 159.9,927.9 161.4,927.9 161.4,928.6 162.9,928.6 162.9,929.2 164.4,929.2 164.4,929.3 165.9,929.3 165.9,930.1 167.4,930.1 167.4,929.4 168.9,929.4 168.9,927.9 170.4,927.9 170.4,928.3 171.9,928.3 171.9,926.1 173.4,926.1 173.4,924.5 174.9,924.5 174.9,924.8 176.3,924.8 176.3,923.0 177.8,923.0 177.8,924.3 179.3,924.3 179.3,925.0 180.8,925.0 180.8,925.0 182.3,925.0 182.3,925.3 183.8,925.3 183.8,926.1 185.3,926.1 185.3,926.1 186.8,926.1 186.8,926.8 188.3,926.8 188.3,925.7 189.8,925.7 189.8,919.5 191.3,919.5 191.3,917.0 192.8,917.0 192.8,921.2 194.3,921.2 194.3,922.5 195.8,922.5 195.8,922.0 197.3,922.0 197.3,922.4 198.8,922.4 198.8,923.9 200.3,923.9 200.3,924.0 201.8,924.0 201.8,923.5 203.3,923.5 203.3,925.0 204.8,925.0 204.8,924.6 206.3,924.6 206.3,923.4 207.8,923.4 207.8,924.8 209.3,924.8 209.3,918.0 210.8,918.0 210.8,916.8 212.3,916.8 212.3,916.1 213.8,916.1 213.8,917.4 215.3,917.4 215.3,918.9 216.8,918.9 216.8,919.5 218.3,919.5 218.3,918.8 219.8,918.8 219.8,919.6 221.3,919.6 221.3,919.0 222.8,919.0 222.8,919.2 224.3,919.2 224.3,918.9 225.8,918.9 225.8,917.1 227.3,917.1 227.3,912.3 228.8,912.3 228.8,911.3 230.3,911.3 230.3,915.2 231.8,915.2 231.8,917.2 233.3,917.2 233.3,917.6 234.8,917.6 234.8,916.8 236.2,916.8 236.2,918.5 237.7,918.5 237.7,918.3 239.2,918.3 239.2,916.8 240.7,916.8 240.7,917.6 242.2,917.6 242.2,916.9 243.7,916.9 243.7,916.4 245.2,916.4 245.2,915.5 246.7,915.5 246.7,915.4 248.2,915.4 248.2,915.3 249.7,915.3 249.7,913.9 251.2,913.9 251.2,913.2 252.7,913.2 252.7,912.5 254.2,912.5 254.2,914.7 255.7,914.7 255.7,915.6 257.2,915.6 257.2,916.6 258.7,916.6 258.7,915.4 260.2,915.4 260.2,916.2 261.7,916.2 261.7,915.8 262.6,915.8 263.2,914.7 262.6,914.7 262.6,941.6 263.2,941.6 262.6,942.2 261.7,942.2 261.7,942.5 260.2,942.5 260.2,943.5 258.7,943.5 258.7,942.4 257.2,942.4 257.2,942.9 255.7,942.9 255.7,941.0 254.2,941.0 254.2,939.3 252.7,939.3 252.7,940.1 251.2,940.1 251.2,939.7 249.7,939.7 249.7,941.2 248.2,941.2 248.2,942.0 246.7,942.0 246.7,942.5 245.2,942.5 245.2,944.4 243.7,944.4 243.7,943.9 242.2,943.9 242.2,944.1 240.7,944.1 240.7,944.4 239.2,944.4 239.2,943.9 237.7,943.9 237.7,944.1 236.2,944.1 236.2,944.0 234.8,944.0 234.8,944.6 233.3,944.6 233.3,942.9 231.8,942.9 231.8,941.7 230.3,941.7 230.3,939.2 228.8,939.2 228.8,940.2 227.3,940.2 227.3,945.3 225.8,945.3 225.8,946.3 224.3,946.3 224.3,946.6 222.8,946.6 222.8,947.1 221.3,947.1 221.3,946.6 219.8,946.6 219.8,946.2 218.3,946.2 218.3,945.5 216.8,945.5 216.8,946.2 215.3,946.2 215.3,943.8 213.8,943.8 213.8,943.1 212.3,943.1 212.3,942.8 210.8,942.8 210.8,944.4 209.3,944.4 209.3,951.5 207.8,951.5 207.8,951.0 206.3,951.0 206.3,950.6 204.8,950.6 204.8,950.5 203.3,950.5 203.3,951.1 201.8,951.1 201.8,951.2 200.3,951.2 200.3,949.3 198.8,949.3 198.8,949.0 197.3,949.0 197.3,949.1 195.8,949.1 195.8,948.1 194.3,948.1 194.3,947.1 192.8,947.1 192.8,944.3 191.3,944.3 191.3,946.1 189.8,946.1 189.8,951.0 188.3,951.0 188.3,953.1 186.8,953.1 186.8,953.1 185.3,953.1 185.3,953.0 183.8,953.0 183.8,952.2 182.3,952.2 182.3,951.1 180.8,951.1 180.8,951.7 179.3,951.7 179.3,951.5 177.8,951.5 177.8,950.6 176.3,950.6 176.3,951.2 174.9,951.2 174.9,951.9 173.4,951.9 173.4,952.6 171.9,952.6 171.9,954.3 170.4,954.3 170.4,955.5 168.9,955.5 168.9,955.1 167.4,955.1 167.4,955.1 165.9,955.1 165.9,956.6 164.4,956.6 164.4,956.3 162.9,956.3 162.9,955.4 161.4,955.4 161.4,954.5 159.9,954.5 159.9,952.3 158.4,952.3 158.4,949.6 156.9,949.6 156.9,952.3 155.4,952.3 155.4,955.6 153.9,955.6 153.9,957.2 152.4,957.2 152.4,957.6 150.9,957.6 150.9,957.0 149.4,957.0 149.4,957.6 147.9,957.6 147.9,956.5 146.4,956.5 146.4,957.3 144.9,957.3 144.9,956.7 143.4,956.7 143.4,956.5 141.9,956.5 141.9,956.6 140.4,956.6 140.4,954.5 138.9,954.5 138.9,952.1 137.4,952.1 137.4,955.3 135.9,955.3 135.9,955.8 134.4,955.8 134.4,958.1 132.9,958.1 132.9,957.8 131.4,957.8 131.4,957.3 129.9,957.3 129.9,957.1 128.4,957.1 128.4,957.2 126.9,957.2 126.9,956.4 125.4,956.4 125.4,956.9 123.9,956.9 123.9,956.8 122.4,956.8 122.4,955.0 120.9,955.0 120.9,950.6 119.4,950.6 119.4,954.5 117.9,954.5 117.9,957.1 116.4,957.1 116.4,956.8 115.0,956.8 115.0,955.9 113.5,955.9 113.5,955.6 112.0,955.6 112.0,956.4 110.5,956.4 110.5,954.2 109.0,954.2 109.0,951.6 107.5,951.6 107.5,951.4 106.0,951.4 106.0,952.1 104.5,952.1 104.5,952.7 103.0,952.7 103.0,953.0 101.5,953.0 101.5,951.3 100.0,951.3 100.0,951.0 98.5,951.0 98.5,951.3 97.0,951.3 97.0,951.9 95.5,951.9 95.5,950.6 94.0,950.6 94.0,950.2 92.5,950.2 92.5,949.5 91.0,949.5 91.0,949.5 89.5,949.5 89.5,948.5 88.0,948.5 88.0,947.5 86.5,947.5 86.5,943.3 85.0,943.3 85.0,946.2 83.5,946.2 83.5,949.8 82.0,949.8 82.0,948.9 80.5,948.9 80.5,949.4 79.0,949.4 79.0,949.1 77.5,949.1 77.5,947.6 76.0,947.6 76.0,947.8 74.5,947.8 74.5,947.7 73.0,947.7 73.0,946.7 71.5,946.7 71.5,945.2 70.0,945.2 70.0,943.7 68.5,943.7 68.5,943.3 67.0,943.3 67.0,942.6 65.5,942.6 65.5,944.4 64.0,944.4 64.0,947.9 62.5,947.9 62.5,946.0 61.0,946.0 61.0,946.8 59.5,946.8 59.5,945.9 58.0,945.9 58.0,944.0 56.5,944.0 56.5,943.4 55.1,943.4 55.1,943.0 53.6,943.0 53.6,941.4 52.1,941.4 52.1,941.6 50.6,941.6 50.6,939.5 49.1,939.5 49.1,936.4 47.6,936.4 47.6,937.9 46.1,937.9 46.1,943.8 44.6,943.8 44.6,944.4 43.1,944.4 43.1,943.1 41.6,943.1 41.6,942.4 40.1,942.4 40.1,942.8 38.6,942.8 38.6,941.2 37.1,941.2 37.1,941.2 35.6,941.2 35.6,939.0 34.1,939.0 34.1,939.4 32.6,939.4 32.6,939.6 31.1,939.6 31.1,939.8 29.6,939.8"/>
<rect x="52.1" y="913.3" width="1.5" height="31.7" fill="#fff" fill-opacity="0.16"/>
<rect x="56.5" y="916.1" width="1.5" height="31.7" fill="#fff" fill-opacity="0.14"/>
<rect x="59.5" y="917.4" width="4.5" height="31.7" fill="#fff" fill-opacity="0.32"/>
<rect x="64.0" y="915.7" width="3.0" height="31.7" fill="#fff" fill-opacity="0.30"/>
<rect x="83.5" y="916.9" width="3.0" height="31.9" fill="#fff" fill-opacity="0.24"/>
<rect x="85.0" y="915.3" width="4.5" height="31.9" fill="#fff" fill-opacity="0.21"/>
<rect x="91.0" y="921.2" width="1.5" height="31.9" fill="#fff" fill-opacity="0.13"/>
<rect x="94.0" y="922.2" width="4.5" height="31.9" fill="#fff" fill-opacity="0.15"/>
<rect x="95.5" y="922.6" width="4.5" height="31.9" fill="#fff" fill-opacity="0.30"/>
<rect x="97.0" y="922.6" width="3.0" height="31.9" fill="#fff" fill-opacity="0.16"/>
<rect x="100.0" y="922.9" width="4.5" height="32.0" fill="#fff" fill-opacity="0.32"/>
<rect x="109.0" y="924.3" width="4.5" height="32.0" fill="#fff" fill-opacity="0.20"/>
<rect x="112.0" y="927.2" width="1.5" height="32.0" fill="#fff" fill-opacity="0.25"/>
<rect x="122.4" y="927.1" width="4.5" height="32.1" fill="#fff" fill-opacity="0.14"/>
<rect x="150.9" y="928.1" width="1.5" height="32.3" fill="#fff" fill-opacity="0.19"/>
<rect x="155.4" y="922.5" width="3.0" height="32.3" fill="#fff" fill-opacity="0.13"/>
<rect x="167.4" y="926.5" width="1.5" height="32.4" fill="#fff" fill-opacity="0.17"/>
<rect x="174.9" y="921.0" width="4.5" height="32.4" fill="#fff" fill-opacity="0.25"/>
<rect x="180.8" y="922.6" width="3.0" height="32.5" fill="#fff" fill-opacity="0.19"/>
<rect x="212.3" y="914.0" width="1.5" height="32.7" fill="#fff" fill-opacity="0.24"/>
<rect x="216.8" y="916.2" width="3.0" height="32.7" fill="#fff" fill-opacity="0.13"/>
<rect x="219.8" y="916.4" width="4.5" height="32.7" fill="#fff" fill-opacity="0.27"/>
<rect x="221.3" y="916.6" width="3.0" height="32.7" fill="#fff" fill-opacity="0.30"/>
<rect x="225.8" y="914.7" width="3.0" height="32.7" fill="#fff" fill-opacity="0.23"/>
<rect x="230.3" y="911.9" width="3.0" height="32.8" fill="#fff" fill-opacity="0.16"/>
<rect x="237.7" y="914.9" width="4.5" height="32.8" fill="#fff" fill-opacity="0.35"/>
<rect x="242.2" y="914.2" width="4.5" height="32.8" fill="#fff" fill-opacity="0.15"/>
<rect x="261.7" y="912.3" width="1.5" height="33.0" fill="#fff" fill-opacity="0.22"/>
</g>
<polyline fill="none" stroke="#1f77b4" stroke-width="1.15" stroke-linejoin="round" points="29.6,940.8 31.0,941.4 32.4,932.9 33.8,927.3 35.5,909.0 36.6,927.3 38.0,930.7 40.9,933.5 43.7,935.7 46.5,937.1 47.4,896.3 47.9,866.7 49.3,887.8 50.7,903.3 52.1,909.0 53.6,913.2 55.0,920.2 57.8,923.1 60.6,925.9 63.4,928.7 64.8,944.2 66.2,941.4 67.6,932.9 69.1,934.3 71.9,937.1 74.7,938.6 77.5,940.0 81.7,942.8 83.1,947.0 84.0,927.3 85.1,906.1 86.5,930.1 87.9,934.3 90.2,935.7 93.0,938.6 95.8,940.0 98.6,941.4 100.1,944.2 101.5,951.2 102.9,947.0 104.3,947.0 107.1,945.6 111.3,945.6 115.6,945.6 118.4,944.2 119.8,937.1 121.2,940.0 124.0,941.4 128.2,942.8 132.5,944.2 135.3,945.6 136.7,951.2 138.1,940.0 139.5,942.8 142.3,942.8 145.2,944.2 148.5,942.8 151.3,944.2 154.1,945.6 155.5,954.1 156.9,949.8 158.3,944.2 161.1,942.8 165.4,941.4 169.6,941.4 171.6,938.6 172.7,916.0 173.8,928.7 175.2,934.3 176.6,937.1 179.5,940.0 182.3,941.4 185.1,941.4 187.9,940.0 190.2,927.3 191.6,914.6 193.0,934.3 195.0,937.1 197.8,938.6 200.6,938.6 203.4,938.6 206.2,944.2 207.6,947.0 209.1,951.2 210.5,944.2 211.9,940.0 213.3,938.6 216.1,940.0 218.9,941.4 221.7,942.8 224.6,943.6 226.0,938.6 227.4,914.6 229.1,904.2 230.2,911.8 231.6,917.4 234.4,914.6 235.8,916.0 238.6,920.2 241.5,920.2 244.3,923.1"/>
<polyline fill="none" stroke="#ff0000" stroke-width="1.15" stroke-linejoin="round" points="29.6,927.8 32.4,926.7 35.2,925.9 36.6,928.7 40.9,930.1 45.1,931.5 47.9,921.6 49.3,927.3 52.1,928.7 55.0,930.7 59.2,932.9 63.4,934.3 66.2,928.7 69.1,931.5 73.3,934.3 78.9,936.3 83.1,937.1 85.1,929.5 87.4,935.7 91.6,937.1 95.8,938.6 100.1,938.6 102.9,940.0 105.7,938.0 108.5,938.6 111.3,942.8 115.6,944.2 118.4,942.8 119.8,935.7 121.8,942.8 126.8,944.2 132.5,944.8 136.1,942.8 138.1,938.0 140.9,942.8 145.2,944.2 149.9,944.2 154.1,944.2 155.5,940.0 157.5,935.7 159.7,941.4 164.0,942.8 168.2,942.8 172.4,940.0 175.2,937.1 178.0,937.1 180.9,938.6 185.1,940.0 189.3,938.6 191.3,928.7 193.6,934.3 196.4,935.7 200.6,937.1 204.8,938.0 209.1,937.1 210.5,928.7 212.7,930.1 216.1,932.4 221.7,932.9 226.0,932.9 227.4,928.7 228.8,923.9 231.6,929.5 237.2,931.5 242.9,930.7 247.1,929.5 249.9,927.3 252.7,925.9 255.6,928.7 259.8,929.5 262.6,928.7"/>
</g>
<rect x="18.30" y="863.55" width="256.20" height="100.00" fill="none" stroke="#444" stroke-width="0.9"/>
<line x1="16.10" y1="951.00" x2="18.30" y2="951.00" stroke="#444" stroke-width="0.7"/>
<text x="14.50" y="952.75" font-size="5.0" fill="#333" stroke="#333" stroke-width="0.06" text-anchor="end" textLength="6.74" lengthAdjust="spacingAndGlyphs">0.0</text>
<line x1="16.10" y1="937.65" x2="18.30" y2="937.65" stroke="#444" stroke-width="0.7"/>
<text x="14.50" y="939.40" font-size="5.0" fill="#333" stroke="#333" stroke-width="0.06" text-anchor="end" textLength="6.74" lengthAdjust="spacingAndGlyphs">2.5</text>
<line x1="16.10" y1="924.30" x2="18.30" y2="924.30" stroke="#444" stroke-width="0.7"/>
<text x="14.50" y="926.05" font-size="5.0" fill="#333" stroke="#333" stroke-width="0.06" text-anchor="end" textLength="6.74" lengthAdjust="spacingAndGlyphs">5.0</text>
<line x1="16.10" y1="910.95" x2="18.30" y2="910.95" stroke="#444" stroke-width="0.7"/>
<text x="14.50" y="912.70" font-size="5.0" fill="#333" stroke="#333" stroke-width="0.06" text-anchor="end" textLength="6.74" lengthAdjust="spacingAndGlyphs">7.5</text>
<line x1="16.10" y1="897.60" x2="18.30" y2="897.60" stroke="#444" stroke-width="0.7"/>
<text x="14.50" y="899.35" font-size="5.0" fill="#333" stroke="#333" stroke-width="0.06" text-anchor="end" textLength="9.44" lengthAdjust="spacingAndGlyphs">10.0</text>
<line x1="16.10" y1="884.25" x2="18.30" y2="884.25" stroke="#444" stroke-width="0.7"/>
<text x="14.50" y="886.00" font-size="5.0" fill="#333" stroke="#333" stroke-width="0.06" text-anchor="end" textLength="9.44" lengthAdjust="spacingAndGlyphs">12.5</text>
<line x1="16.10" y1="870.90" x2="18.30" y2="870.90" stroke="#444" stroke-width="0.7"/>
<text x="14.50" y="872.65" font-size="5.0" fill="#333" stroke="#333" stroke-width="0.06" text-anchor="end" textLength="9.44" lengthAdjust="spacingAndGlyphs">15.0</text>
<line x1="28.60" y1="963.55" x2="28.60" y2="965.75" stroke="#444" stroke-width="0.7"/>
<text x="28.60" y="971.25" font-size="5.0" fill="#333" stroke="#333" stroke-width="0.06" text-anchor="middle" textLength="10.79" lengthAdjust="spacingAndGlyphs">2012</text>
<line x1="64.54" y1="963.55" x2="64.54" y2="965.75" stroke="#444" stroke-width="0.7"/>
<text x="64.54" y="971.25" font-size="5.0" fill="#333" stroke="#333" stroke-width="0.06" text-anchor="middle" textLength="10.79" lengthAdjust="spacingAndGlyphs">2014</text>
<line x1="100.48" y1="963.55" x2="100.48" y2="965.75" stroke="#444" stroke-width="0.7"/>
<text x="100.48" y="971.25" font-size="5.0" fill="#333" stroke="#333" stroke-width="0.06" text-anchor="middle" textLength="10.79" lengthAdjust="spacingAndGlyphs">2016</text>
<line x1="136.42" y1="963.55" x2="136.42" y2="965.75" stroke="#444" stroke-width="0.7"/>
<text x="136.42" y="971.25" font-size="5.0" fill="#333" stroke="#333" stroke-width="0.06" text-anchor="middle" textLength="10.79" lengthAdjust="spacingAndGlyphs">2018</text>
<line x1="172.36" y1="963.55" x2="172.36" y2="965.75" stroke="#444" stroke-width="0.7"/>
<text x="172.36" y="971.25" font-size="5.0" fill="#333" stroke="#333" stroke-width="0.06" text-anchor="middle" textLength="10.79" lengthAdjust="spacingAndGlyphs">2020</text>
<line x1="208.30" y1="963.55" x2="208.30" y2="965.75" stroke="#444" stroke-width="0.7"/>
<text x="208.30" y="971.25" font-size="5.0" fill="#333" stroke="#333" stroke-width="0.06" text-anchor="middle" textLength="10.79" lengthAdjust="spacingAndGlyphs">2022</text>
<line x1="244.24" y1="963.55" x2="244.24" y2="965.75" stroke="#444" stroke-width="0.7"/>
<text x="244.24" y="971.25" font-size="5.0" fill="#333" stroke="#333" stroke-width="0.06" text-anchor="middle" textLength="10.79" lengthAdjust="spacingAndGlyphs">2024</text>
<text x="146.40" y="860.95" font-size="6.1" fill="#333" stroke="#333" stroke-width="0.14" text-anchor="middle" textLength="60.26" lengthAdjust="spacingAndGlyphs">Jeju Prophet Forecast</text>
<rect x="231.00" y="865.75" width="41" height="16.3" rx="1" fill="#fff" fill-opacity="0.8" stroke="#ddd" stroke-width="0.5"/>
<line x1="232.50" y1="869.95" x2="243.50" y2="869.95" stroke="#1f77b4" stroke-width="1.15"/>
<line x1="232.50" y1="877.05" x2="243.50" y2="877.05" stroke="#ff0000" stroke-width="1.15"/>
<text x="248.00" y="871.75" font-size="5.4" fill="#333" stroke="#333" stroke-width="0.08" textLength="21.3" lengthAdjust="spacingAndGlyphs">Observed</text>
<text x="248.00" y="878.85" font-size="5.4" fill="#333" stroke="#333" stroke-width="0.08" textLength="19.4" lengthAdjust="spacingAndGlyphs">Forecast</text>
<g clip-path="url(#cp15)">
<g filter="url(#bl)"><polygon fill="#fde5ea" points="299.8,910.3 301.3,910.3 301.3,909.8 302.8,909.8 302.8,908.4 304.3,908.4 304.3,904.6 305.8,904.6 305.8,903.5 307.3,903.5 307.3,908.4 308.8,908.4 308.8,907.3 310.3,907.3 310.3,907.6 311.8,907.6 311.8,908.5 313.3,908.5 313.3,908.5 314.8,908.5 314.8,908.5 316.3,908.5 316.3,908.0 317.8,908.0 317.8,906.1 319.3,906.1 319.3,907.7 320.8,907.7 320.8,909.9 322.3,909.9 322.3,909.3 323.8,909.3 323.8,905.4 325.3,905.4 325.3,908.3 326.8,908.3 326.8,910.4 328.3,910.4 328.3,910.4 329.8,910.4 329.8,910.3 331.3,910.3 331.3,911.5 332.7,911.5 332.7,911.9 334.2,911.9 334.2,910.7 335.7,910.7 335.7,910.8 337.2,910.8 337.2,909.1 338.7,909.1 338.7,909.9 340.2,909.9 340.2,911.1 341.7,911.1 341.7,912.3 343.2,912.3 343.2,912.5 344.7,912.5 344.7,913.5 346.2,913.5 346.2,913.3 347.7,913.3 347.7,913.1 349.2,913.1 349.2,913.6 350.7,913.6 350.7,913.8 352.2,913.8 352.2,914.1 353.7,914.1 353.7,910.6 355.2,910.6 355.2,909.0 356.7,909.0 356.7,914.1 358.2,914.1 358.2,915.8 359.7,915.8 359.7,916.1 361.2,916.1 361.2,916.2 362.7,916.2 362.7,916.9 364.2,916.9 364.2,917.0 365.7,917.0 365.7,916.2 367.2,916.2 367.2,916.2 368.7,916.2 368.7,917.5 370.2,917.5 370.2,918.6 371.7,918.6 371.7,920.3 373.2,920.3 373.2,918.5 374.7,918.5 374.7,916.2 376.2,916.2 376.2,912.5 377.7,912.5 377.7,907.7 379.2,907.7 379.2,913.6 380.7,913.6 380.7,917.4 382.2,917.4 382.2,918.6 383.7,918.6 383.7,918.2 385.2,918.2 385.2,918.6 386.7,918.6 386.7,918.8 388.2,918.8 388.2,917.5 389.7,917.5 389.7,913.9 391.2,913.9 391.2,917.3 392.6,917.3 392.6,918.2 394.1,918.2 394.1,915.6 395.6,915.6 395.6,914.0 397.1,914.0 397.1,918.7 398.6,918.7 398.6,919.1 400.1,919.1 400.1,920.2 401.6,920.2 401.6,919.5 403.1,919.5 403.1,919.1 404.6,919.1 404.6,920.3 406.1,920.3 406.1,919.7 407.6,919.7 407.6,919.2 409.1,919.2 409.1,918.4 410.6,918.4 410.6,919.3 412.1,919.3 412.1,920.0 413.6,920.0 413.6,920.5 415.1,920.5 415.1,920.5 416.6,920.5 416.6,921.0 418.1,921.0 418.1,922.3 419.6,922.3 419.6,921.4 421.1,921.4 421.1,922.3 422.6,922.3 422.6,921.3 424.1,921.3 424.1,920.7 425.6,920.7 425.6,920.0 427.1,920.0 427.1,916.2 428.6,916.2 428.6,919.9 430.1,919.9 430.1,920.8 431.6,920.8 431.6,921.7 433.1,921.7 433.1,923.8 434.6,923.8 434.6,924.9 436.1,924.9 436.1,925.6 437.6,925.6 437.6,924.3 439.1,924.3 439.1,925.7 440.6,925.7 440.6,925.0 442.1,925.0 442.1,927.8 443.6,927.8 443.6,926.2 445.1,926.2 445.1,922.9 446.6,922.9 446.6,920.4 448.1,920.4 448.1,923.0 449.6,923.0 449.6,924.4 451.1,924.4 451.1,925.1 452.5,925.1 452.5,925.9 454.0,925.9 454.0,925.9 455.5,925.9 455.5,926.8 457.0,926.8 457.0,925.6 458.5,925.6 458.5,927.0 460.0,927.0 460.0,927.2 461.5,927.2 461.5,922.9 463.0,922.9 463.0,924.6 464.5,924.6 464.5,926.1 466.0,926.1 466.0,924.2 467.5,924.2 467.5,924.1 469.0,924.1 469.0,926.2 470.5,926.2 470.5,928.1 472.0,928.1 472.0,927.4 473.5,927.4 473.5,928.4 475.0,928.4 475.0,927.8 476.5,927.8 476.5,929.0 478.0,929.0 478.0,928.3 479.5,928.3 479.5,928.1 481.0,928.1 481.0,928.9 482.5,928.9 482.5,927.7 484.0,927.7 484.0,928.8 485.5,928.8 485.5,928.7 487.0,928.7 487.0,929.2 488.5,929.2 488.5,930.2 490.0,930.2 490.0,930.1 491.5,930.1 491.5,930.8 493.0,930.8 493.0,930.4 494.5,930.4 494.5,930.9 496.0,930.9 496.0,929.8 497.5,929.8 497.5,928.5 499.0,928.5 499.0,926.8 500.5,926.8 500.5,927.2 502.0,927.2 502.0,928.9 503.5,928.9 503.5,929.9 505.0,929.9 505.0,931.1 506.5,931.1 506.5,932.4 508.0,932.4 508.0,933.8 509.5,933.8 509.5,932.6 511.0,932.6 511.0,933.6 512.4,933.6 512.4,933.5 513.9,933.5 513.9,935.1 515.4,935.1 515.4,937.0 516.9,937.0 516.9,936.6 518.4,936.6 518.4,933.1 519.9,933.1 519.9,929.1 521.4,929.1 521.4,925.4 522.9,925.4 522.9,930.0 524.4,930.0 524.4,934.2 525.9,934.2 525.9,934.4 527.4,934.4 527.4,935.9 528.9,935.9 528.9,936.0 530.4,936.0 530.4,935.4 531.9,935.4 531.9,935.4 533.1,935.4 533.4,935.0 533.1,935.0 533.1,955.6 533.4,955.6 533.1,956.2 531.9,956.2 531.9,955.3 530.4,955.3 530.4,956.2 528.9,956.2 528.9,955.0 527.4,955.0 527.4,954.7 525.9,954.7 525.9,956.0 524.4,956.0 524.4,951.0 522.9,951.0 522.9,946.4 521.4,946.4 521.4,949.0 519.9,949.0 519.9,954.8 518.4,954.8 518.4,956.3 516.9,956.3 516.9,959.3 515.4,959.3 515.4,957.1 513.9,957.1 513.9,954.7 512.4,954.7 512.4,953.7 511.0,953.7 511.0,953.9 509.5,953.9 509.5,953.7 508.0,953.7 508.0,954.1 506.5,954.1 506.5,952.7 505.0,952.7 505.0,951.1 503.5,951.1 503.5,949.7 502.0,949.7 502.0,948.1 500.5,948.1 500.5,946.6 499.0,946.6 499.0,949.4 497.5,949.4 497.5,951.9 496.0,951.9 496.0,951.0 494.5,951.0 494.5,952.3 493.0,952.3 493.0,952.4 491.5,952.4 491.5,952.0 490.0,952.0 490.0,950.8 488.5,950.8 488.5,950.3 487.0,950.3 487.0,950.7 485.5,950.7 485.5,949.5 484.0,949.5 484.0,949.1 482.5,949.1 482.5,949.2 481.0,949.2 481.0,949.1 479.5,949.1 479.5,950.0 478.0,950.0 478.0,948.9 476.5,948.9 476.5,949.9 475.0,949.9 475.0,949.7 473.5,949.7 473.5,948.6 472.0,948.6 472.0,948.3 470.5,948.3 470.5,948.1 469.0,948.1 469.0,944.6 467.5,944.6 467.5,945.5 466.0,945.5 466.0,947.6 464.5,947.6 464.5,944.8 463.0,944.8 463.0,944.6 461.5,944.6 461.5,948.3 460.0,948.3 460.0,948.6 458.5,948.6 458.5,948.2 457.0,948.2 457.0,947.9 455.5,947.9 455.5,947.3 454.0,947.3 454.0,947.2 452.5,947.2 452.5,946.9 451.1,946.9 451.1,945.9 449.6,945.9 449.6,944.0 448.1,944.0 448.1,941.9 446.6,941.9 446.6,944.3 445.1,944.3 445.1,946.5 443.6,946.5 443.6,948.5 442.1,948.5 442.1,946.0 440.6,946.0 440.6,946.7 439.1,946.7 439.1,947.2 437.6,947.2 437.6,945.6 436.1,945.6 436.1,945.5 434.6,945.5 434.6,944.2 433.1,944.2 433.1,943.5 431.6,943.5 431.6,943.0 430.1,943.0 430.1,941.7 428.6,941.7 428.6,938.1 427.1,938.1 427.1,941.8 425.6,941.8 425.6,942.6 424.1,942.6 424.1,943.7 422.6,943.7 422.6,943.1 421.1,943.1 421.1,944.2 419.6,944.2 419.6,942.6 418.1,942.6 418.1,943.4 416.6,943.4 416.6,942.0 415.1,942.0 415.1,941.5 413.6,941.5 413.6,941.6 412.1,941.6 412.1,939.6 410.6,939.6 410.6,940.0 409.1,940.0 409.1,940.5 407.6,940.5 407.6,940.3 406.1,940.3 406.1,941.7 404.6,941.7 404.6,941.1 403.1,941.1 403.1,941.5 401.6,941.5 401.6,942.1 400.1,942.1 400.1,941.0 398.6,941.0 398.6,941.4 397.1,941.4 397.1,936.5 395.6,936.5 395.6,937.1 394.1,937.1 394.1,938.9 392.6,938.9 392.6,938.8 391.2,938.8 391.2,935.6 389.7,935.6 389.7,939.8 388.2,939.8 388.2,940.2 386.7,940.2 386.7,940.0 385.2,940.0 385.2,939.7 383.7,939.7 383.7,939.0 382.2,939.0 382.2,939.7 380.7,939.7 380.7,935.1 379.2,935.1 379.2,929.6 377.7,929.6 377.7,934.5 376.2,934.5 376.2,938.3 374.7,938.3 374.7,939.4 373.2,939.4 373.2,942.6 371.7,942.6 371.7,940.7 370.2,940.7 370.2,939.0 368.7,939.0 368.7,938.7 367.2,938.7 367.2,938.0 365.7,938.0 365.7,939.1 364.2,939.1 364.2,938.1 362.7,938.1 362.7,937.6 361.2,937.6 361.2,937.9 359.7,937.9 359.7,937.0 358.2,937.0 358.2,936.7 356.7,936.7 356.7,932.3 355.2,932.3 355.2,930.9 353.7,930.9 353.7,935.0 352.2,935.0 352.2,936.1 350.7,936.1 350.7,936.4 349.2,936.4 349.2,936.1 347.7,936.1 347.7,935.4 346.2,935.4 346.2,935.4 344.7,935.4 344.7,934.0 343.2,934.0 343.2,934.4 341.7,934.4 341.7,932.3 340.2,932.3 340.2,930.8 338.7,930.8 338.7,932.2 337.2,932.2 337.2,932.7 335.7,932.7 335.7,933.0 334.2,933.0 334.2,932.1 332.7,932.1 332.7,933.2 331.3,933.2 331.3,932.2 329.8,932.2 329.8,931.5 328.3,931.5 328.3,932.2 326.8,932.2 326.8,930.3 325.3,930.3 325.3,928.6 323.8,928.6 323.8,930.8 322.3,930.8 322.3,932.2 320.8,932.2 320.8,930.2 319.3,930.2 319.3,927.4 317.8,927.4 317.8,930.9 316.3,930.9 316.3,930.4 314.8,930.4 314.8,931.0 313.3,931.0 313.3,930.3 311.8,930.3 311.8,930.1 310.3,930.1 310.3,930.8 308.8,930.8 308.8,930.1 307.3,930.1 307.3,924.8 305.8,924.8 305.8,926.6 304.3,926.6 304.3,930.5 302.8,930.5 302.8,931.0 301.3,931.0 301.3,932.6 299.8,932.6"/>
<rect x="302.8" y="905.0" width="3.0" height="28.0" fill="#fff" fill-opacity="0.14"/>
<rect x="305.8" y="900.2" width="1.5" height="28.0" fill="#fff" fill-opacity="0.32"/>
<rect x="307.3" y="904.9" width="1.5" height="28.0" fill="#fff" fill-opacity="0.28"/>
<rect x="317.8" y="902.4" width="1.5" height="27.9" fill="#fff" fill-opacity="0.19"/>
<rect x="325.3" y="906.0" width="4.5" height="27.9" fill="#fff" fill-opacity="0.33"/>
<rect x="346.2" y="910.4" width="4.5" height="27.8" fill="#fff" fill-opacity="0.27"/>
<rect x="355.2" y="906.8" width="1.5" height="27.7" fill="#fff" fill-opacity="0.22"/>
<rect x="356.7" y="911.7" width="3.0" height="27.7" fill="#fff" fill-opacity="0.21"/>
<rect x="359.7" y="913.2" width="3.0" height="27.7" fill="#fff" fill-opacity="0.22"/>
<rect x="362.7" y="913.8" width="1.5" height="27.7" fill="#fff" fill-opacity="0.29"/>
<rect x="373.2" y="915.5" width="1.5" height="27.6" fill="#fff" fill-opacity="0.15"/>
<rect x="380.7" y="914.8" width="3.0" height="27.6" fill="#fff" fill-opacity="0.13"/>
<rect x="395.6" y="911.6" width="4.5" height="27.5" fill="#fff" fill-opacity="0.11"/>
<rect x="406.1" y="916.1" width="3.0" height="27.4" fill="#fff" fill-opacity="0.11"/>
<rect x="413.6" y="917.4" width="1.5" height="27.4" fill="#fff" fill-opacity="0.12"/>
<rect x="418.1" y="918.8" width="4.5" height="27.4" fill="#fff" fill-opacity="0.24"/>
<rect x="425.6" y="916.5" width="3.0" height="27.3" fill="#fff" fill-opacity="0.25"/>
<rect x="427.1" y="914.1" width="4.5" height="27.3" fill="#fff" fill-opacity="0.24"/>
<rect x="430.1" y="918.6" width="3.0" height="27.3" fill="#fff" fill-opacity="0.32"/>
<rect x="440.6" y="922.1" width="1.5" height="27.3" fill="#fff" fill-opacity="0.26"/>
<rect x="445.1" y="919.4" width="1.5" height="27.2" fill="#fff" fill-opacity="0.28"/>
<rect x="449.6" y="922.1" width="1.5" height="27.2" fill="#fff" fill-opacity="0.21"/>
<rect x="452.5" y="922.6" width="3.0" height="27.2" fill="#fff" fill-opacity="0.18"/>
<rect x="457.0" y="923.4" width="1.5" height="27.2" fill="#fff" fill-opacity="0.14"/>
<rect x="467.5" y="920.8" width="1.5" height="27.1" fill="#fff" fill-opacity="0.11"/>
<rect x="472.0" y="924.8" width="1.5" height="27.1" fill="#fff" fill-opacity="0.34"/>
<rect x="475.0" y="925.2" width="1.5" height="27.1" fill="#fff" fill-opacity="0.19"/>
<rect x="479.5" y="925.5" width="3.0" height="27.1" fill="#fff" fill-opacity="0.31"/>
<rect x="511.0" y="930.5" width="1.5" height="26.9" fill="#fff" fill-opacity="0.34"/>
<rect x="513.9" y="932.7" width="4.5" height="26.9" fill="#fff" fill-opacity="0.32"/>
<rect x="519.9" y="925.9" width="1.5" height="26.9" fill="#fff" fill-opacity="0.29"/>
<rect x="527.4" y="932.0" width="1.5" height="26.8" fill="#fff" fill-opacity="0.28"/>
<rect x="528.9" y="932.2" width="4.5" height="26.8" fill="#fff" fill-opacity="0.33"/>
<rect x="530.4" y="932.2" width="1.5" height="26.8" fill="#fff" fill-opacity="0.16"/>
<rect x="531.9" y="932.2" width="3.0" height="26.8" fill="#fff" fill-opacity="0.11"/>
</g>
<polyline fill="none" stroke="#1f77b4" stroke-width="1.15" stroke-linejoin="round" points="299.8,915.4 301.8,914.6 303.2,916.0 304.6,913.2 305.4,887.8 306.3,866.7 307.4,907.6 308.8,910.4 311.6,913.2 314.5,914.6 317.3,916.0 318.7,921.6 320.1,927.3 322.9,931.5 324.3,934.3 325.7,938.0 327.1,935.7 330.0,931.5 332.8,930.1 334.2,931.5 335.6,928.7 337.0,918.8 339.3,907.6 341.2,911.8 342.6,917.4 344.1,921.6 345.5,918.8 346.9,921.6 349.7,923.1 352.5,923.1 353.4,904.7 354.5,904.7 355.9,910.4 356.7,924.5 359.6,925.9 362.4,927.3 365.2,928.7 368.0,928.7 369.4,930.1 371.4,934.3 372.2,930.1 373.6,927.3 376.5,926.7 379.3,927.8 382.1,927.8 384.9,928.7 387.7,927.8 389.1,921.6 390.6,928.7 393.4,930.1 396.2,931.5 400.4,932.9 403.5,934.3 406.3,934.3 407.7,914.6 409.1,921.6 410.5,914.6 411.9,917.4 414.7,920.2 417.5,923.1 420.4,925.9 423.2,927.3 426.0,925.9 427.4,927.3 428.8,930.1 431.6,931.5 434.5,934.3 437.3,934.3 440.1,932.9 442.9,938.6 444.3,947.0 445.7,942.8 447.1,935.7 450.0,935.7 452.8,935.7 455.6,937.1 458.4,938.6 461.2,941.4 462.6,945.6 465.5,948.4 468.3,947.0 471.1,944.2 473.9,945.6 476.7,945.6 479.6,948.4 481.0,941.4 482.4,943.6 485.2,942.8 488.0,943.6 490.8,942.8 493.6,941.4 496.5,940.0 499.3,937.1 502.1,935.7 504.9,932.9 507.7,930.1 510.6,930.1 514.8,930.1"/>
<polyline fill="none" stroke="#ff0000" stroke-width="1.15" stroke-linejoin="round" points="299.8,923.1 301.8,920.2 304.6,918.3 306.0,910.4 307.4,918.8 311.6,919.4 317.3,920.2 318.7,915.4 320.1,920.2 322.9,921.1 324.3,915.4 326.3,921.1 330.0,921.6 335.6,922.2 338.4,920.2 341.2,921.6 344.1,923.9 348.3,924.5 352.5,925.9 355.3,918.3 357.3,925.9 361.0,927.3 365.2,927.8 369.4,927.8 372.2,931.5 375.1,927.8 378.7,918.3 380.7,928.7 384.9,928.7 389.1,929.5 390.6,924.5 392.0,929.5 394.8,927.8 396.2,923.9 397.6,930.1 401.8,930.7 406.3,930.1 409.1,928.7 413.3,930.7 417.5,932.4 421.8,932.9 426.0,931.5 427.4,926.7 429.4,931.5 433.0,933.5 437.3,935.7 441.5,935.7 443.5,938.6 445.7,932.9 447.1,930.7 450.0,935.7 454.2,936.3 458.4,937.1 461.2,938.0 462.6,931.5 464.9,937.1 467.7,932.9 469.7,938.0 473.9,938.6 479.6,939.1 483.8,938.6 488.0,940.0 492.2,941.4 496.5,941.4 499.8,935.7 501.5,938.6 504.9,941.9 509.1,943.6 513.4,944.2 516.2,948.4 519.0,944.2 522.4,934.3 524.7,944.8 528.9,945.6 533.1,945.6"/>
</g>
<rect x="289.00" y="863.55" width="256.20" height="100.00" fill="none" stroke="#444" stroke-width="0.9"/>
<line x1="286.80" y1="958.80" x2="289.00" y2="958.80" stroke="#444" stroke-width="0.7"/>
<text x="285.20" y="960.55" font-size="5.0" fill="#333" stroke="#333" stroke-width="0.06" text-anchor="end" textLength="2.70" lengthAdjust="spacingAndGlyphs">0</text>
<line x1="286.80" y1="943.68" x2="289.00" y2="943.68" stroke="#444" stroke-width="0.7"/>
<text x="285.20" y="945.43" font-size="5.0" fill="#333" stroke="#333" stroke-width="0.06" text-anchor="end" textLength="2.70" lengthAdjust="spacingAndGlyphs">2</text>
<line x1="286.80" y1="928.57" x2="289.00" y2="928.57" stroke="#444" stroke-width="0.7"/>
<text x="285.20" y="930.32" font-size="5.0" fill="#333" stroke="#333" stroke-width="0.06" text-anchor="end" textLength="2.70" lengthAdjust="spacingAndGlyphs">4</text>
<line x1="286.80" y1="913.45" x2="289.00" y2="913.45" stroke="#444" stroke-width="0.7"/>
<text x="285.20" y="915.20" font-size="5.0" fill="#333" stroke="#333" stroke-width="0.06" text-anchor="end" textLength="2.70" lengthAdjust="spacingAndGlyphs">6</text>
<line x1="286.80" y1="898.33" x2="289.00" y2="898.33" stroke="#444" stroke-width="0.7"/>
<text x="285.20" y="900.08" font-size="5.0" fill="#333" stroke="#333" stroke-width="0.06" text-anchor="end" textLength="2.70" lengthAdjust="spacingAndGlyphs">8</text>
<line x1="286.80" y1="883.22" x2="289.00" y2="883.22" stroke="#444" stroke-width="0.7"/>
<text x="285.20" y="884.97" font-size="5.0" fill="#333" stroke="#333" stroke-width="0.06" text-anchor="end" textLength="5.39" lengthAdjust="spacingAndGlyphs">10</text>
<line x1="286.80" y1="868.10" x2="289.00" y2="868.10" stroke="#444" stroke-width="0.7"/>
<text x="285.20" y="869.85" font-size="5.0" fill="#333" stroke="#333" stroke-width="0.06" text-anchor="end" textLength="5.39" lengthAdjust="spacingAndGlyphs">12</text>
<line x1="299.30" y1="963.55" x2="299.30" y2="965.75" stroke="#444" stroke-width="0.7"/>
<text x="299.30" y="971.25" font-size="5.0" fill="#333" stroke="#333" stroke-width="0.06" text-anchor="middle" textLength="10.79" lengthAdjust="spacingAndGlyphs">2012</text>
<line x1="335.24" y1="963.55" x2="335.24" y2="965.75" stroke="#444" stroke-width="0.7"/>
<text x="335.24" y="971.25" font-size="5.0" fill="#333" stroke="#333" stroke-width="0.06" text-anchor="middle" textLength="10.79" lengthAdjust="spacingAndGlyphs">2014</text>
<line x1="371.18" y1="963.55" x2="371.18" y2="965.75" stroke="#444" stroke-width="0.7"/>
<text x="371.18" y="971.25" font-size="5.0" fill="#333" stroke="#333" stroke-width="0.06" text-anchor="middle" textLength="10.79" lengthAdjust="spacingAndGlyphs">2016</text>
<line x1="407.12" y1="963.55" x2="407.12" y2="965.75" stroke="#444" stroke-width="0.7"/>
<text x="407.12" y="971.25" font-size="5.0" fill="#333" stroke="#333" stroke-width="0.06" text-anchor="middle" textLength="10.79" lengthAdjust="spacingAndGlyphs">2018</text>
<line x1="443.06" y1="963.55" x2="443.06" y2="965.75" stroke="#444" stroke-width="0.7"/>
<text x="443.06" y="971.25" font-size="5.0" fill="#333" stroke="#333" stroke-width="0.06" text-anchor="middle" textLength="10.79" lengthAdjust="spacingAndGlyphs">2020</text>
<line x1="479.00" y1="963.55" x2="479.00" y2="965.75" stroke="#444" stroke-width="0.7"/>
<text x="479.00" y="971.25" font-size="5.0" fill="#333" stroke="#333" stroke-width="0.06" text-anchor="middle" textLength="10.79" lengthAdjust="spacingAndGlyphs">2022</text>
<line x1="514.94" y1="963.55" x2="514.94" y2="965.75" stroke="#444" stroke-width="0.7"/>
<text x="514.94" y="971.25" font-size="5.0" fill="#333" stroke="#333" stroke-width="0.06" text-anchor="middle" textLength="10.79" lengthAdjust="spacingAndGlyphs">2024</text>
<text x="417.10" y="860.95" font-size="6.1" fill="#333" stroke="#333" stroke-width="0.14" text-anchor="middle" textLength="79.09" lengthAdjust="spacingAndGlyphs">Chungnam Prophet Forecast</text>
<rect x="501.70" y="865.75" width="41" height="16.3" rx="1" fill="#fff" fill-opacity="0.8" stroke="#ddd" stroke-width="0.5"/>
<line x1="503.20" y1="869.95" x2="514.20" y2="869.95" stroke="#1f77b4" stroke-width="1.15"/>
<line x1="503.20" y1="877.05" x2="514.20" y2="877.05" stroke="#ff0000" stroke-width="1.15"/>
<text x="518.70" y="871.75" font-size="5.4" fill="#333" stroke="#333" stroke-width="0.08" textLength="21.3" lengthAdjust="spacingAndGlyphs">Observed</text>
<text x="518.70" y="878.85" font-size="5.4" fill="#333" stroke="#333" stroke-width="0.08" textLength="19.4" lengthAdjust="spacingAndGlyphs">Forecast</text>
<g clip-path="url(#cp16)">
<g filter="url(#bl)"><polygon fill="#fde5ea" points="29.6,1022.5 31.1,1022.5 31.1,1021.8 32.6,1021.8 32.6,1021.4 34.1,1021.4 34.1,1019.9 35.6,1019.9 35.6,1021.7 37.1,1021.7 37.1,1022.8 38.6,1022.8 38.6,1023.5 40.1,1023.5 40.1,1023.2 41.6,1023.2 41.6,1023.8 43.1,1023.8 43.1,1025.1 44.6,1025.1 44.6,1024.3 46.1,1024.3 46.1,1025.4 47.6,1025.4 47.6,1025.3 49.1,1025.3 49.1,1023.7 50.6,1023.7 50.6,1023.1 52.1,1023.1 52.1,1024.9 53.6,1024.9 53.6,1028.2 55.1,1028.2 55.1,1029.3 56.5,1029.3 56.5,1029.6 58.0,1029.6 58.0,1029.7 59.5,1029.7 59.5,1029.7 61.0,1029.7 61.0,1029.1 62.5,1029.1 62.5,1029.9 64.0,1029.9 64.0,1029.2 65.5,1029.2 65.5,1027.7 67.0,1027.7 67.0,1027.7 68.5,1027.7 68.5,1029.0 70.0,1029.0 70.0,1027.3 71.5,1027.3 71.5,1030.2 73.0,1030.2 73.0,1030.7 74.5,1030.7 74.5,1031.7 76.0,1031.7 76.0,1031.9 77.5,1031.9 77.5,1031.0 79.0,1031.0 79.0,1030.8 80.5,1030.8 80.5,1030.1 82.0,1030.1 82.0,1031.1 83.5,1031.1 83.5,1030.1 85.0,1030.1 85.0,1030.2 86.5,1030.2 86.5,1032.0 88.0,1032.0 88.0,1030.4 89.5,1030.4 89.5,1029.5 91.0,1029.5 91.0,1032.1 92.5,1032.1 92.5,1033.1 94.0,1033.1 94.0,1032.2 95.5,1032.2 95.5,1033.7 97.0,1033.7 97.0,1034.0 98.5,1034.0 98.5,1034.1 100.0,1034.1 100.0,1034.3 101.5,1034.3 101.5,1034.0 103.0,1034.0 103.0,1033.5 104.5,1033.5 104.5,1031.2 106.0,1031.2 106.0,1029.6 107.5,1029.6 107.5,1033.6 109.0,1033.6 109.0,1033.8 110.5,1033.8 110.5,1035.2 112.0,1035.2 112.0,1034.7 113.5,1034.7 113.5,1035.5 115.0,1035.5 115.0,1036.2 116.4,1036.2 116.4,1036.1 117.9,1036.1 117.9,1036.0 119.4,1036.0 119.4,1036.3 120.9,1036.3 120.9,1035.8 122.4,1035.8 122.4,1034.6 123.9,1034.6 123.9,1033.7 125.4,1033.7 125.4,1034.8 126.9,1034.8 126.9,1037.1 128.4,1037.1 128.4,1036.2 129.9,1036.2 129.9,1038.2 131.4,1038.2 131.4,1037.0 132.9,1037.0 132.9,1037.7 134.4,1037.7 134.4,1038.4 135.9,1038.4 135.9,1037.5 137.4,1037.5 137.4,1037.6 138.9,1037.6 138.9,1037.8 140.4,1037.8 140.4,1035.7 141.9,1035.7 141.9,1035.6 143.4,1035.6 143.4,1037.4 144.9,1037.4 144.9,1040.1 146.4,1040.1 146.4,1039.8 147.9,1039.8 147.9,1041.6 149.4,1041.6 149.4,1041.5 150.9,1041.5 150.9,1042.1 152.4,1042.1 152.4,1041.1 153.9,1041.1 153.9,1041.6 155.4,1041.6 155.4,1041.0 156.9,1041.0 156.9,1039.0 158.4,1039.0 158.4,1038.6 159.9,1038.6 159.9,1037.9 161.4,1037.9 161.4,1039.6 162.9,1039.6 162.9,1042.3 164.4,1042.3 164.4,1041.4 165.9,1041.4 165.9,1043.2 167.4,1043.2 167.4,1043.5 168.9,1043.5 168.9,1043.7 170.4,1043.7 170.4,1042.4 171.9,1042.4 171.9,1042.7 173.4,1042.7 173.4,1043.8 174.9,1043.8 174.9,1043.2 176.3,1043.2 176.3,1042.4 177.8,1042.4 177.8,1041.3 179.3,1041.3 179.3,1041.5 180.8,1041.5 180.8,1044.3 182.3,1044.3 182.3,1045.0 183.8,1045.0 183.8,1044.9 185.3,1044.9 185.3,1045.0 186.8,1045.0 186.8,1046.7 188.3,1046.7 188.3,1046.8 189.8,1046.8 189.8,1045.8 191.3,1045.8 191.3,1047.4 192.8,1047.4 192.8,1046.2 194.3,1046.2 194.3,1046.3 195.8,1046.3 195.8,1045.4 197.3,1045.4 197.3,1044.2 198.8,1044.2 198.8,1047.2 200.3,1047.2 200.3,1047.3 201.8,1047.3 201.8,1048.3 203.3,1048.3 203.3,1047.7 204.8,1047.7 204.8,1049.3 206.3,1049.3 206.3,1049.7 207.8,1049.7 207.8,1049.0 209.3,1049.0 209.3,1049.2 210.8,1049.2 210.8,1050.2 212.3,1050.2 212.3,1048.2 213.8,1048.2 213.8,1046.8 215.3,1046.8 215.3,1047.5 216.8,1047.5 216.8,1049.9 218.3,1049.9 218.3,1051.3 219.8,1051.3 219.8,1051.7 221.3,1051.7 221.3,1051.6 222.8,1051.6 222.8,1050.5 224.3,1050.5 224.3,1051.4 225.8,1051.4 225.8,1052.6 227.3,1052.6 227.3,1052.4 228.8,1052.4 228.8,1051.8 230.3,1051.8 230.3,1051.8 231.8,1051.8 231.8,1050.4 233.3,1050.4 233.3,1051.1 234.8,1051.1 234.8,1050.8 236.2,1050.8 236.2,1052.6 237.7,1052.6 237.7,1053.6 239.2,1053.6 239.2,1053.4 240.7,1053.4 240.7,1053.9 242.2,1053.9 242.2,1054.5 243.7,1054.5 243.7,1054.3 245.2,1054.3 245.2,1053.5 246.7,1053.5 246.7,1053.7 248.2,1053.7 248.2,1053.6 249.7,1053.6 249.7,1052.1 251.2,1052.1 251.2,1051.4 252.7,1051.4 252.7,1053.1 254.2,1053.1 254.2,1055.1 255.7,1055.1 255.7,1056.0 257.2,1056.0 257.2,1055.7 258.7,1055.7 258.7,1056.5 260.2,1056.5 260.2,1056.8 261.7,1056.8 261.7,1056.8 262.6,1056.8 263.2,1057.8 262.6,1057.8 262.6,1081.1 263.2,1081.1 262.6,1081.8 261.7,1081.8 261.7,1080.7 260.2,1080.7 260.2,1080.9 258.7,1080.9 258.7,1080.0 257.2,1080.0 257.2,1080.1 255.7,1080.1 255.7,1078.9 254.2,1078.9 254.2,1076.1 252.7,1076.1 252.7,1075.4 251.2,1075.4 251.2,1075.5 249.7,1075.5 249.7,1077.5 248.2,1077.5 248.2,1077.6 246.7,1077.6 246.7,1078.2 245.2,1078.2 245.2,1077.7 243.7,1077.7 243.7,1078.1 242.2,1078.1 242.2,1077.1 240.7,1077.1 240.7,1076.5 239.2,1076.5 239.2,1076.6 237.7,1076.6 237.7,1075.2 236.2,1075.2 236.2,1075.1 234.8,1075.1 234.8,1073.5 233.3,1073.5 233.3,1074.3 231.8,1074.3 231.8,1075.5 230.3,1075.5 230.3,1075.9 228.8,1075.9 228.8,1075.6 227.3,1075.6 227.3,1075.8 225.8,1075.8 225.8,1075.4 224.3,1075.4 224.3,1075.5 222.8,1075.5 222.8,1074.4 221.3,1074.4 221.3,1073.7 219.8,1073.7 219.8,1074.5 218.3,1074.5 218.3,1074.2 216.8,1074.2 216.8,1070.9 215.3,1070.9 215.3,1070.1 213.8,1070.1 213.8,1071.4 212.3,1071.4 212.3,1072.7 210.8,1072.7 210.8,1072.6 209.3,1072.6 209.3,1072.3 207.8,1072.3 207.8,1071.7 206.3,1071.7 206.3,1072.5 204.8,1072.5 204.8,1071.7 203.3,1071.7 203.3,1070.8 201.8,1070.8 201.8,1071.4 200.3,1071.4 200.3,1070.6 198.8,1070.6 198.8,1067.9 197.3,1067.9 197.3,1067.3 195.8,1067.3 195.8,1069.6 194.3,1069.6 194.3,1070.1 192.8,1070.1 192.8,1069.1 191.3,1069.1 191.3,1069.6 189.8,1069.6 189.8,1069.4 188.3,1069.4 188.3,1068.7 186.8,1068.7 186.8,1069.2 185.3,1069.2 185.3,1068.8 183.8,1068.8 183.8,1067.1 182.3,1067.1 182.3,1066.9 180.8,1066.9 180.8,1064.3 179.3,1064.3 179.3,1065.2 177.8,1065.2 177.8,1065.6 176.3,1065.6 176.3,1066.3 174.9,1066.3 174.9,1066.5 173.4,1066.5 173.4,1066.8 171.9,1066.8 171.9,1065.1 170.4,1065.1 170.4,1066.0 168.9,1066.0 168.9,1066.6 167.4,1066.6 167.4,1065.0 165.9,1065.0 165.9,1065.8 164.4,1065.8 164.4,1065.2 162.9,1065.2 162.9,1063.2 161.4,1063.2 161.4,1060.6 159.9,1060.6 159.9,1061.6 158.4,1061.6 158.4,1063.6 156.9,1063.6 156.9,1063.5 155.4,1063.5 155.4,1064.1 153.9,1064.1 153.9,1064.8 152.4,1064.8 152.4,1063.9 150.9,1063.9 150.9,1063.9 149.4,1063.9 149.4,1064.8 147.9,1064.8 147.9,1063.9 146.4,1063.9 146.4,1062.3 144.9,1062.3 144.9,1060.1 143.4,1060.1 143.4,1058.1 141.9,1058.1 141.9,1058.7 140.4,1058.7 140.4,1060.1 138.9,1060.1 138.9,1059.9 137.4,1059.9 137.4,1061.0 135.9,1061.0 135.9,1060.0 134.4,1060.0 134.4,1061.1 132.9,1061.1 132.9,1060.3 131.4,1060.3 131.4,1059.5 129.9,1059.5 129.9,1058.7 128.4,1058.7 128.4,1059.0 126.9,1059.0 126.9,1057.2 125.4,1057.2 125.4,1054.8 123.9,1054.8 123.9,1055.8 122.4,1055.8 122.4,1056.7 120.9,1056.7 120.9,1058.0 119.4,1058.0 119.4,1057.5 117.9,1057.5 117.9,1058.1 116.4,1058.1 116.4,1058.3 115.0,1058.3 115.0,1058.6 113.5,1058.6 113.5,1057.6 112.0,1057.6 112.0,1056.5 110.5,1056.5 110.5,1056.0 109.0,1056.0 109.0,1054.9 107.5,1054.9 107.5,1052.3 106.0,1052.3 106.0,1054.5 104.5,1054.5 104.5,1055.4 103.0,1055.4 103.0,1054.9 101.5,1054.9 101.5,1056.2 100.0,1056.2 100.0,1055.5 98.5,1055.5 98.5,1056.1 97.0,1056.1 97.0,1055.5 95.5,1055.5 95.5,1054.4 94.0,1054.4 94.0,1054.9 92.5,1054.9 92.5,1054.3 91.0,1054.3 91.0,1052.2 89.5,1052.2 89.5,1052.0 88.0,1052.0 88.0,1053.2 86.5,1053.2 86.5,1052.2 85.0,1052.2 85.0,1051.6 83.5,1051.6 83.5,1052.4 82.0,1052.4 82.0,1051.9 80.5,1051.9 80.5,1053.3 79.0,1053.3 79.0,1052.7 77.5,1052.7 77.5,1052.3 76.0,1052.3 76.0,1052.9 74.5,1052.9 74.5,1053.3 73.0,1053.3 73.0,1050.9 71.5,1050.9 71.5,1048.3 70.0,1048.3 70.0,1050.0 68.5,1050.0 68.5,1048.2 67.0,1048.2 67.0,1049.5 65.5,1049.5 65.5,1050.6 64.0,1050.6 64.0,1052.0 62.5,1052.0 62.5,1052.5 61.0,1052.5 61.0,1050.6 59.5,1050.6 59.5,1050.5 58.0,1050.5 58.0,1050.9 56.5,1050.9 56.5,1050.5 55.1,1050.5 55.1,1049.1 53.6,1049.1 53.6,1046.9 52.1,1046.9 52.1,1045.6 50.6,1045.6 50.6,1046.0 49.1,1046.0 49.1,1046.1 47.6,1046.1 47.6,1046.9 46.1,1046.9 46.1,1046.5 44.6,1046.5 44.6,1045.7 43.1,1045.7 43.1,1045.4 41.6,1045.4 41.6,1045.5 40.1,1045.5 40.1,1045.0 38.6,1045.0 38.6,1044.4 37.1,1044.4 37.1,1044.1 35.6,1044.1 35.6,1041.7 34.1,1041.7 34.1,1042.9 32.6,1042.9 32.6,1043.7 31.1,1043.7 31.1,1044.0 29.6,1044.0"/>
<rect x="37.1" y="1019.8" width="1.5" height="27.6" fill="#fff" fill-opacity="0.24"/>
<rect x="38.6" y="1020.3" width="1.5" height="27.6" fill="#fff" fill-opacity="0.24"/>
<rect x="44.6" y="1021.6" width="4.5" height="27.6" fill="#fff" fill-opacity="0.33"/>
<rect x="46.1" y="1021.8" width="3.0" height="27.6" fill="#fff" fill-opacity="0.30"/>
<rect x="50.6" y="1020.4" width="1.5" height="27.7" fill="#fff" fill-opacity="0.13"/>
<rect x="52.1" y="1022.5" width="1.5" height="27.7" fill="#fff" fill-opacity="0.17"/>
<rect x="58.0" y="1026.3" width="4.5" height="27.8" fill="#fff" fill-opacity="0.16"/>
<rect x="61.0" y="1026.9" width="4.5" height="27.8" fill="#fff" fill-opacity="0.27"/>
<rect x="65.5" y="1025.3" width="3.0" height="27.8" fill="#fff" fill-opacity="0.26"/>
<rect x="70.0" y="1023.5" width="1.5" height="27.9" fill="#fff" fill-opacity="0.29"/>
<rect x="76.0" y="1028.1" width="1.5" height="28.0" fill="#fff" fill-opacity="0.18"/>
<rect x="79.0" y="1027.9" width="3.0" height="28.0" fill="#fff" fill-opacity="0.14"/>
<rect x="80.5" y="1027.7" width="3.0" height="28.0" fill="#fff" fill-opacity="0.24"/>
<rect x="85.0" y="1027.5" width="3.0" height="28.0" fill="#fff" fill-opacity="0.30"/>
<rect x="89.5" y="1027.1" width="4.5" height="28.1" fill="#fff" fill-opacity="0.17"/>
<rect x="107.5" y="1029.9" width="3.0" height="28.3" fill="#fff" fill-opacity="0.31"/>
<rect x="115.0" y="1032.9" width="1.5" height="28.4" fill="#fff" fill-opacity="0.34"/>
<rect x="116.4" y="1033.1" width="1.5" height="28.4" fill="#fff" fill-opacity="0.15"/>
<rect x="117.9" y="1032.9" width="4.5" height="28.4" fill="#fff" fill-opacity="0.32"/>
<rect x="149.4" y="1038.8" width="4.5" height="28.7" fill="#fff" fill-opacity="0.27"/>
<rect x="150.9" y="1039.0" width="1.5" height="28.7" fill="#fff" fill-opacity="0.24"/>
<rect x="158.4" y="1036.1" width="3.0" height="28.8" fill="#fff" fill-opacity="0.17"/>
<rect x="162.9" y="1038.8" width="3.0" height="28.9" fill="#fff" fill-opacity="0.11"/>
<rect x="164.4" y="1039.3" width="3.0" height="28.9" fill="#fff" fill-opacity="0.22"/>
<rect x="170.4" y="1039.9" width="1.5" height="28.9" fill="#fff" fill-opacity="0.27"/>
<rect x="174.9" y="1041.0" width="3.0" height="29.0" fill="#fff" fill-opacity="0.19"/>
<rect x="177.8" y="1038.7" width="4.5" height="29.0" fill="#fff" fill-opacity="0.16"/>
<rect x="179.3" y="1038.2" width="3.0" height="29.0" fill="#fff" fill-opacity="0.26"/>
<rect x="183.8" y="1042.4" width="4.5" height="29.1" fill="#fff" fill-opacity="0.22"/>
<rect x="197.3" y="1041.5" width="3.0" height="29.2" fill="#fff" fill-opacity="0.14"/>
<rect x="200.3" y="1044.4" width="4.5" height="29.2" fill="#fff" fill-opacity="0.24"/>
<rect x="206.3" y="1046.0" width="1.5" height="29.3" fill="#fff" fill-opacity="0.10"/>
<rect x="216.8" y="1046.9" width="3.0" height="29.4" fill="#fff" fill-opacity="0.35"/>
<rect x="225.8" y="1048.9" width="4.5" height="29.5" fill="#fff" fill-opacity="0.33"/>
<rect x="227.3" y="1049.1" width="4.5" height="29.5" fill="#fff" fill-opacity="0.33"/>
<rect x="230.3" y="1048.6" width="4.5" height="29.6" fill="#fff" fill-opacity="0.13"/>
<rect x="242.2" y="1051.3" width="3.0" height="29.7" fill="#fff" fill-opacity="0.30"/>
<rect x="245.2" y="1051.3" width="3.0" height="29.7" fill="#fff" fill-opacity="0.16"/>
<rect x="246.7" y="1050.9" width="1.5" height="29.7" fill="#fff" fill-opacity="0.21"/>
<rect x="252.7" y="1050.0" width="1.5" height="29.8" fill="#fff" fill-opacity="0.23"/>
<rect x="263.2" y="1054.3" width="3.0" height="29.9" fill="#fff" fill-opacity="0.23"/>
</g>
<polyline fill="none" stroke="#1f77b4" stroke-width="1.15" stroke-linejoin="round" points="29.6,1012.0 31.0,1021.9 32.4,1020.5 33.3,1023.3 34.4,1019.1 35.5,989.5 36.6,1013.5 38.0,1030.4 39.5,1033.2 42.3,1033.2 45.1,1034.6 47.9,1036.0 49.3,1040.2 50.7,1034.6 52.1,1037.4 53.6,1044.5 56.4,1048.7 59.2,1051.5 62.0,1054.3 63.4,1055.7 65.4,1045.9 67.6,1037.4 69.1,1041.6 71.9,1044.5 74.7,1043.1 77.5,1041.6 78.9,1040.2 80.3,1041.6 81.7,1043.1 83.7,1026.1 86.0,1030.4 87.4,1038.8 88.8,1050.1 90.2,1048.7 93.0,1049.5 95.8,1050.1 98.6,1051.5 100.1,1054.3 102.0,1067.0 103.7,1055.7 105.7,1048.7 107.1,1041.6 108.5,1043.1 111.3,1041.6 114.1,1043.1 117.0,1041.6 118.4,1030.4 119.8,1013.5 121.2,1008.4 122.6,1027.6 124.0,1033.2 126.8,1037.4 129.7,1040.2 132.5,1044.5 135.3,1048.7 137.5,1062.8 139.5,1058.6 142.3,1054.3 145.2,1050.1 148.0,1055.7 148.5,1055.7 151.3,1057.1 154.1,1055.7 155.5,1058.6 156.9,1054.3 158.3,1051.5 160.3,1050.1 162.0,1051.5 164.0,1052.9 166.8,1051.5 169.6,1052.9 172.4,1054.3 175.2,1055.7 178.0,1060.0 180.9,1062.8 183.7,1064.2 186.5,1062.8 190.7,1061.4 193.6,1060.0 196.4,1055.7 197.8,1057.1 199.2,1061.4 202.0,1062.8 204.8,1062.8 207.6,1064.2 209.1,1067.0 209.9,1072.6 211.3,1065.6 213.8,1064.2 216.1,1062.8 218.9,1058.6 221.7,1058.6 224.6,1060.0 227.4,1057.1 228.8,1062.8 230.2,1064.2 233.0,1064.2 234.4,1061.4 237.2,1058.6 240.1,1054.3 242.9,1052.9 244.3,1052.9"/>
<polyline fill="none" stroke="#ff0000" stroke-width="1.15" stroke-linejoin="round" points="29.6,1033.8 32.4,1032.6 35.2,1030.4 36.6,1033.2 40.9,1034.6 45.1,1035.4 49.3,1036.0 50.7,1033.2 52.1,1035.4 55.0,1039.4 59.2,1040.2 63.4,1041.1 66.2,1039.4 67.6,1037.4 69.1,1040.2 70.5,1036.6 72.7,1041.6 77.5,1042.2 81.7,1041.6 84.6,1041.1 87.4,1042.2 89.6,1040.2 91.6,1043.1 95.8,1044.5 100.1,1045.0 104.3,1043.9 107.1,1040.2 108.5,1045.0 112.7,1046.7 117.0,1047.3 121.2,1046.7 125.4,1043.9 126.8,1047.8 131.1,1048.7 135.3,1049.5 139.5,1048.7 143.2,1046.7 145.2,1050.7 148.5,1052.9 152.7,1053.5 155.5,1052.4 161.1,1049.5 162.5,1052.9 166.8,1054.3 171.0,1054.3 175.2,1055.7 178.0,1054.3 179.5,1051.5 181.7,1055.7 185.1,1057.1 189.3,1058.0 193.6,1058.6 197.8,1055.7 199.8,1058.6 203.4,1060.0 207.6,1060.8 211.9,1061.4 215.5,1058.0 217.5,1061.9 221.7,1062.8 226.0,1063.6 230.2,1064.2 233.0,1061.4 235.8,1063.6 240.1,1065.6 244.3,1066.4 248.5,1065.6 252.2,1061.9 254.1,1066.4 258.4,1068.4 262.6,1069.3"/>
</g>
<rect x="18.30" y="985.30" width="256.20" height="100.00" fill="none" stroke="#444" stroke-width="0.9"/>
<line x1="16.10" y1="1075.50" x2="18.30" y2="1075.50" stroke="#444" stroke-width="0.7"/>
<text x="14.50" y="1077.25" font-size="5.0" fill="#333" stroke="#333" stroke-width="0.06" text-anchor="end" textLength="2.70" lengthAdjust="spacingAndGlyphs">1</text>
<line x1="16.10" y1="1063.81" x2="18.30" y2="1063.81" stroke="#444" stroke-width="0.7"/>
<text x="14.50" y="1065.56" font-size="5.0" fill="#333" stroke="#333" stroke-width="0.06" text-anchor="end" textLength="2.70" lengthAdjust="spacingAndGlyphs">2</text>
<line x1="16.10" y1="1052.13" x2="18.30" y2="1052.13" stroke="#444" stroke-width="0.7"/>
<text x="14.50" y="1053.88" font-size="5.0" fill="#333" stroke="#333" stroke-width="0.06" text-anchor="end" textLength="2.70" lengthAdjust="spacingAndGlyphs">3</text>
<line x1="16.10" y1="1040.44" x2="18.30" y2="1040.44" stroke="#444" stroke-width="0.7"/>
<text x="14.50" y="1042.19" font-size="5.0" fill="#333" stroke="#333" stroke-width="0.06" text-anchor="end" textLength="2.70" lengthAdjust="spacingAndGlyphs">4</text>
<line x1="16.10" y1="1028.76" x2="18.30" y2="1028.76" stroke="#444" stroke-width="0.7"/>
<text x="14.50" y="1030.51" font-size="5.0" fill="#333" stroke="#333" stroke-width="0.06" text-anchor="end" textLength="2.70" lengthAdjust="spacingAndGlyphs">5</text>
<line x1="16.10" y1="1017.07" x2="18.30" y2="1017.07" stroke="#444" stroke-width="0.7"/>
<text x="14.50" y="1018.82" font-size="5.0" fill="#333" stroke="#333" stroke-width="0.06" text-anchor="end" textLength="2.70" lengthAdjust="spacingAndGlyphs">6</text>
<line x1="16.10" y1="1005.39" x2="18.30" y2="1005.39" stroke="#444" stroke-width="0.7"/>
<text x="14.50" y="1007.14" font-size="5.0" fill="#333" stroke="#333" stroke-width="0.06" text-anchor="end" textLength="2.70" lengthAdjust="spacingAndGlyphs">7</text>
<line x1="16.10" y1="993.70" x2="18.30" y2="993.70" stroke="#444" stroke-width="0.7"/>
<text x="14.50" y="995.45" font-size="5.0" fill="#333" stroke="#333" stroke-width="0.06" text-anchor="end" textLength="2.70" lengthAdjust="spacingAndGlyphs">8</text>
<line x1="28.60" y1="1085.30" x2="28.60" y2="1087.50" stroke="#444" stroke-width="0.7"/>
<text x="28.60" y="1093.00" font-size="5.0" fill="#333" stroke="#333" stroke-width="0.06" text-anchor="middle" textLength="10.79" lengthAdjust="spacingAndGlyphs">2012</text>
<line x1="64.54" y1="1085.30" x2="64.54" y2="1087.50" stroke="#444" stroke-width="0.7"/>
<text x="64.54" y="1093.00" font-size="5.0" fill="#333" stroke="#333" stroke-width="0.06" text-anchor="middle" textLength="10.79" lengthAdjust="spacingAndGlyphs">2014</text>
<line x1="100.48" y1="1085.30" x2="100.48" y2="1087.50" stroke="#444" stroke-width="0.7"/>
<text x="100.48" y="1093.00" font-size="5.0" fill="#333" stroke="#333" stroke-width="0.06" text-anchor="middle" textLength="10.79" lengthAdjust="spacingAndGlyphs">2016</text>
<line x1="136.42" y1="1085.30" x2="136.42" y2="1087.50" stroke="#444" stroke-width="0.7"/>
<text x="136.42" y="1093.00" font-size="5.0" fill="#333" stroke="#333" stroke-width="0.06" text-anchor="middle" textLength="10.79" lengthAdjust="spacingAndGlyphs">2018</text>
<line x1="172.36" y1="1085.30" x2="172.36" y2="1087.50" stroke="#444" stroke-width="0.7"/>
<text x="172.36" y="1093.00" font-size="5.0" fill="#333" stroke="#333" stroke-width="0.06" text-anchor="middle" textLength="10.79" lengthAdjust="spacingAndGlyphs">2020</text>
<line x1="208.30" y1="1085.30" x2="208.30" y2="1087.50" stroke="#444" stroke-width="0.7"/>
<text x="208.30" y="1093.00" font-size="5.0" fill="#333" stroke="#333" stroke-width="0.06" text-anchor="middle" textLength="10.79" lengthAdjust="spacingAndGlyphs">2022</text>
<line x1="244.24" y1="1085.30" x2="244.24" y2="1087.50" stroke="#444" stroke-width="0.7"/>
<text x="244.24" y="1093.00" font-size="5.0" fill="#333" stroke="#333" stroke-width="0.06" text-anchor="middle" textLength="10.79" lengthAdjust="spacingAndGlyphs">2024</text>
<text x="146.40" y="982.70" font-size="6.1" fill="#333" stroke="#333" stroke-width="0.14" text-anchor="middle" textLength="77.04" lengthAdjust="spacingAndGlyphs">Chungbuk Prophet Forecast</text>
<rect x="231.00" y="987.50" width="41" height="16.3" rx="1" fill="#fff" fill-opacity="0.8" stroke="#ddd" stroke-width="0.5"/>
<line x1="232.50" y1="991.70" x2="243.50" y2="991.70" stroke="#1f77b4" stroke-width="1.15"/>
<line x1="232.50" y1="998.80" x2="243.50" y2="998.80" stroke="#ff0000" stroke-width="1.15"/>
<text x="248.00" y="993.50" font-size="5.4" fill="#333" stroke="#333" stroke-width="0.08" textLength="21.3" lengthAdjust="spacingAndGlyphs">Observed</text>
<text x="248.00" y="1000.60" font-size="5.4" fill="#333" stroke="#333" stroke-width="0.08" textLength="19.4" lengthAdjust="spacingAndGlyphs">Forecast</text>
</g></svg>
</body></html>
